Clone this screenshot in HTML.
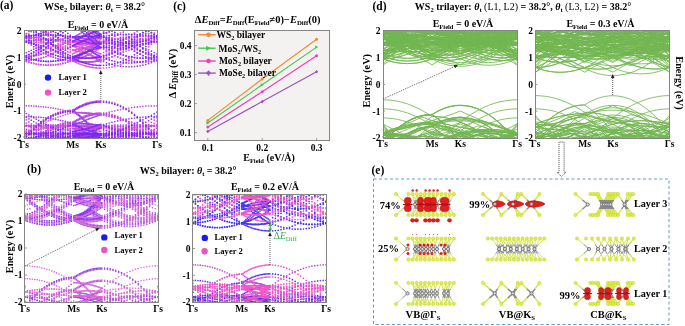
<!DOCTYPE html>
<html><head><meta charset="utf-8"><style>html,body{margin:0;padding:0;background:#fff;width:685px;height:326px;overflow:hidden}svg{display:block;will-change:transform;filter:blur(0.4px)}</style></head>
<body>
<svg width="685" height="326" viewBox="0 0 685 326" font-family="Liberation Serif" font-weight="bold">
<rect width="685" height="326" fill="#fff"/>
<clipPath id="ca"><rect x="24" y="30" width="134" height="109"/></clipPath>
<defs><marker id="m9a38ec085" markerUnits="userSpaceOnUse" markerWidth="4" markerHeight="4" refX="2" refY="2" overflow="visible"><circle cx="2" cy="2" r="0.85" fill="#9a38ec"/></marker></defs>
<defs><marker id="me050d0085" markerUnits="userSpaceOnUse" markerWidth="4" markerHeight="4" refX="2" refY="2" overflow="visible"><circle cx="2" cy="2" r="0.85" fill="#e050d0"/></marker></defs>
<defs><marker id="mc048dc085" markerUnits="userSpaceOnUse" markerWidth="4" markerHeight="4" refX="2" refY="2" overflow="visible"><circle cx="2" cy="2" r="0.85" fill="#c048dc"/></marker></defs>
<defs><marker id="m7a28f5085" markerUnits="userSpaceOnUse" markerWidth="4" markerHeight="4" refX="2" refY="2" overflow="visible"><circle cx="2" cy="2" r="0.85" fill="#7a28f5"/></marker></defs>
<g clip-path="url(#ca)"><path d="M24 116.5l2.4 0 2.5 .1 2.4 .1 2.4 .1 2.5 .2 2.4 .1 2.4 .3 2.5 .2 2.4 .3 2.4 .3 2.5 .4 2.4 .4 2.4 .4 2.5 .4 2.4 .5 2.4 .5 2.5 .6 2.4 .6 2.4 .6 2.5 .7 1.4 0 1.4 0 1.4 0 1.4 0 1.4 .1 1.4 .1 1.4 0 1.4 .1 1.4 .1 1.4 .1 1.4 .1 1.4 .2 1.5 .1 1.4 .2 1.4 .1 1.4 .2 1.4 .2 1.4 .2 1.4 .2 1.4 .2 2.8-.9 2.8-.8 2.8-.8 2.8-.7 2.8-.7 2.9-.7 2.8-.6 2.8-.5 2.8-.6 2.8-.4 2.8-.5 2.8-.3 2.8-.4 2.8-.3 2.8-.2 2.9-.2 2.8-.2 2.8-.1 2.8 0 2.8-.1M33.7 138.3l2.5-1.2 2.4-1.1 2.4-1.2 2.5-1.1 2.4-1 2.4-1 2.5-1 2.4-1 2.4-.9 2.5-.9 2.4-.9 2.4-.8 2.5-.8 2.4-.7 2.4-.8 2.5-.6 1.4 0 1.4 0 1.4 0 1.4 0 1.4 .1 1.4 .1 1.4 0 1.4 .1 1.4 .1 1.4 .1 1.4 .1 1.4 .2 1.5 .1 1.4 .2 1.4 .1 1.4 .2 1.4 .2 1.4 .2 1.4 .2 1.4 .2 2.8 .5 2.8 .5 2.8 .5 2.8 .6 2.8 .7 2.9 .7 2.8 .7 2.8 .8 2.8 .8 2.8 .9 2.8 .9 2.8 1 2.8 1 2.8 1.1 2.8 1.1 2.9 1.1M24 132.7l2.4-.7 2.5-.6 2.4-.6 2.4-.6 2.5-.5 2.4-.5 2.4-.4 2.5-.4 2.4-.4 2.4-.4 2.5-.3 2.4-.3 2.4-.2 2.5-.2 2.4-.2 2.4-.2 2.5-.1 2.4-.1 2.4 0 2.5-.1 1.4-.6 1.4-.7 1.4-.6 1.4-.7 1.4-.6 1.4-.6 1.4-.6 1.4-.6 1.4-.6 1.4-.5 1.4-.6 1.4-.5 1.5-.6 1.4-.5 1.4-.5 1.4-.5 1.4-.5 1.4-.4 1.4-.5 1.4-.5 2.8 .5 2.8 .5 2.8 .6 2.8 .6 2.8 .6 2.9 .7 2.8 .8 2.8 .8 2.8 .8 2.8 .9 2.8 .9 2.8 .9 2.8 1.1 2.8 1 2.8 1.1 2.9 1.1 2.8 1.2 2.8 1.3 2.8 1.2 2.8 1.4M24 132.7l2.4 .7 2.5 .7 2.4 .7 2.4 .8 2.5 .9 2.4 .8 2.4 .9M112 138.4l2.8-.7 2.9-.6 2.8-.6 2.8-.6 2.8-.5 2.8-.5 2.8-.4 2.8-.4 2.8-.3 2.8-.3 2.8-.3 2.9-.2 2.8-.1 2.8-.1 2.8-.1 2.8 0M26.4 136.4l2.5-2.5 2.4-2.5 2.4-2.3 2.5-2.1 2.4-2.1 2.4-1.8 2.5-1.8 2.4-1.6 2.4-1.4 2.5-1.4 2.4-1.2 2.4-1 2.5-.9 2.4-.8 2.4-.6 2.5-.5 2.4-.3 2.4-.2 2.5-.1 1.4 .9 1.4 1 1.4 1.1 1.4 1.1 1.4 1.1 1.4 1.2 1.4 1.2 1.4 1.3 1.4 1.3 1.4 1.4 1.4 1.4 1.4 1.5 1.5 1.5 1.4 1.5 1.4 1.6 1.4 1.7 1.4 1.7 1.4 1.7 1.4 1.8M103.6 137.4l2.8-1.6 2.8-1.4 2.8-1.2 2.8-1 2.9-.8 2.8-.7 2.8-.5 2.8-.2 2.8-.1 2.8 .1 2.8 .2 2.8 .5 2.8 .7 2.8 .8 2.9 1 2.8 1.2 2.8 1.4 2.8 1.6M24 138.1l2.4-2.7 2.5-2.6 2.4-2.5 2.4-2.3 2.5-2.1 2.4-2 2.4-1.9 2.5-1.8 2.4-1.6 2.4-1.4 2.5-1.3 2.4-1.2 2.4-1.1 2.5-.9 2.4-.7 2.4-.7 2.5-.5 2.4-.3 2.4-.2 2.5-.1 1.4 1 1.4 1 1.4 1 1.4 1.1 1.4 1.1 1.4 1.2 1.4 1.3 1.4 1.2 1.4 1.4 1.4 1.3 1.4 1.4 1.4 1.5 1.5 1.5 1.4 1.6 1.4 1.6 1.4 1.6 1.4 1.7 1.4 1.8 1.4 1.7 1.4 1.9 2.8-1.8 2.8-1.6 2.8-1.4 2.8-1.2 2.8-1 2.9-.8 2.8-.7 2.8-.4 2.8-.3 2.8-.1 2.8 .1 2.8 .3 2.8 .4 2.8 .7 2.8 .8 2.9 1 2.8 1.2 2.8 1.4 2.8 1.6 2.8 1.8M24 138.1l2.4 0 2.5 .3M100.8 138.1l2.8-1.8 2.8-1.6 2.8-1.4 2.8-1.2 2.8-1 2.9-.8 2.8-.7 2.8-.4 2.8-.3 2.8-.1 2.8 .1 2.8 .3 2.8 .4 2.8 .7 2.8 .8 2.9 1 2.8 1.2 2.8 1.4 2.8 1.6 2.8 1.8M38.6 137l2.4-1.8 2.5-1.8 2.4-1.6 2.4-1.4 2.5-1.4 2.4-1.1 2.4-1.1 2.5-.9 2.4-.8 2.4-.6 2.5-.5 2.4-.3 2.4-.2 2.5-.1 1.4-.9 1.4-.9 1.4-.8 1.4-.7 1.4-.8 1.4-.6 1.4-.7 1.4-.5 1.4-.6 1.4-.5 1.4-.4 1.4-.4 1.5-.4 1.4-.3 1.4-.2 1.4-.2 1.4-.2 1.4-.1 1.4-.1 1.4 0 2.8 .1 2.8 .3 2.8 .4 2.8 .7 2.8 .8 2.9 1.1 2.8 1.2 2.8 1.4 2.8 1.5 2.8 1.8 2.8 1.9 2.8 2.2 2.8 2.3 2.8 2.5 2.8 2.7 2.9 2.9M36.2 138l2.4-2 2.4-1.9 2.5-1.8 2.4-1.6 2.4-1.4 2.5-1.3 2.4-1.2 2.4-1.1 2.5-.9 2.4-.7 2.4-.7 2.5-.5 2.4-.3 2.4-.2 2.5-.1 1.4 1 1.4 1 1.4 1 1.4 1.1 1.4 1.1 1.4 1.2 1.4 1.3 1.4 1.2 1.4 1.4 1.4 1.3 1.4 1.4 1.4 1.5 1.5 1.5M24 133.6l2.4 .1 2.5 .2 2.4 .2 2.4 .1 2.5 .2 2.4 .2 2.4 .3 2.5 .2 2.4 .3 2.4 .2 2.5 .3 2.4 .3 2.4 .3 2.5 .3 2.4 .4 2.4 .3 2.5-.3 2.4-.3 2.4-.3 2.5-.3 1.4-.1 1.4-.1 1.4 0 1.4-.1 1.4-.1 1.4-.1 1.4 0 1.4-.1 1.4 0 1.4-.1 1.4 0 1.4-.1 1.5 0 1.4 0 1.4 0 1.4-.1 1.4 0 1.4 0 1.4 0 1.4 0 2.8 .3 2.8 .3 2.8 .3 2.8 .3 2.8 .4 2.9 .4 2.8 .1 2.8-.4 2.8-.4 2.8-.4 2.8-.3 2.8-.4 2.8-.3 2.8-.3 2.8-.3 2.9-.2 2.8-.3 2.8-.2 2.8-.2 2.8-.2M24 133.6l2.4 0 2.5 0 2.4 0 2.4 .1 2.5 .1 2.4 0 2.4 .1 2.5 .1 2.4 .1 2.4 .2 2.5 .1 2.4 .2 2.4 .1 2.5-.1 2.4-.2 2.4-.2 2.5-.1 2.4-.2 2.4-.2 2.5-.1 1.4-.1 1.4 0 1.4 0 1.4-.1 1.4 0 1.4 0 1.4 0 1.4 0 1.4 0 1.4 0 1.4 0 1.4 0 1.5 0 1.4 0 1.4 0 1.4 0 1.4 .1 1.4 0 1.4 0 1.4 .1 2.8 .1 2.8 .1 2.8 .1 2.8 .2 2.8 .2 2.9-.2 2.8-.2 2.8-.1 2.8-.1 2.8-.1 2.8-.1 2.8-.1 2.8 0 2.8 0 2.8 0 2.9 0 2.8 0 2.8 0 2.8 .1 2.8 .1M24 133.6l2.4 0 2.5 0 2.4 0 2.4 .1 2.5 .1 2.4 0 2.4 .1 2.5 .1 2.4 .1 2.4 .2 2.5 .1 2.4 .2 2.4 .1 2.5 .2 2.4 .2 2.4 .2 2.5 .3 2.4 .2 2.4 .2 2.5 .3 1.4 .1 1.4 .1 1.4 .1 1.4 .1 1.4 .1 1.4 .1 1.4 .2 1.4 .1 1.4 .1 1.4 .1 1.4 .2 1.4 .1 1.5 .2 1.4 .1 1.4 .2 1.4 .1 1.4 .2M106.4 138.2l2.8-.4 2.8-.4 2.8-.4 2.9-.4 2.8-.3 2.8-.3 2.8-.3 2.8-.3 2.8-.3 2.8-.2 2.8-.2 2.8-.2 2.8-.2 2.9-.2 2.8-.2 2.8-.1 2.8-.1 2.8-.1M24 125.9l2.4 .1 2.5 .2 2.4 .1 2.4 .2 2.5 .2 2.4 .2 2.4 .3 2.5 .2 2.4 .3 2.4 .2 2.5 .3 2.4 .3 2.4 .3 2.5 .3 2.4 .4 2.4 .3 2.5 .4 2.4 .3 2.4 .4 2.5 .4 1.4-.2 1.4-.2 1.4-.2 1.4-.2 1.4-.3 1.4-.2 1.4-.2 1.4-.1 1.4-.2 1.4-.2 1.4-.2 1.4-.2 1.5-.1 1.4-.2 1.4-.2 1.4-.1 1.4-.2 1.4-.1 1.4-.2 1.4-.1 2.8 0 2.8 0 2.8 .1 2.8 0 2.8 .1 2.9 .1 2.8 .1 2.8 .2 2.8-.3 2.8-.3 2.8-.3 2.8-.2 2.8-.2 2.8-.3 2.8-.1 2.9-.2 2.8-.2 2.8-.1 2.8-.1 2.8-.1M24 125.9l2.4-.2 2.5-.1 2.4-.1 2.4-.1 2.5 0 2.4-.1 2.4 0 2.5-.1 2.4 0 2.4 0 2.5 0 2.4 0 2.4 .1 2.5 0 2.4 .1 2.4 0 2.5 .1 2.4 .1 2.4 .1 2.5 .2 1.4-.1 1.4 0 1.4 0 1.4-.1 1.4 0 1.4 0 1.4 0 1.4 0 1.4 0 1.4-.1 1.4 .1 1.4 0 1.5 0 1.4 0 1.4 0 1.4 0 1.4 .1 1.4 0 1.4 0 1.4 .1 2.8-.2 2.8-.2 2.8-.1 2.8-.1 2.8-.1 2.9-.1 2.8-.1 2.8 0 2.8 0 2.8 0 2.8 0 2.8 0 2.8 0 2.8 .1 2.8 .1 2.9 .1 2.8 .1 2.8 .1 2.8 .2 2.8 .2M24 128.2l2.4 1.1 2.5 1.1 2.4 1 2.4 1 2.5 .9 2.4 .9 2.4 .9 2.5 .8 2.4 .8 2.4 .8 2.5 .7M128.9 138.1l2.8-.7 2.8-.9 2.8-.8 2.8-.9 2.8-1 2.9-1 2.8-1.1 2.8-1.1 2.8-1.2 2.8-1.2M99.4 138.5l1.4-.4M24 116l2.4 1.4 2.5 1.4 2.4 1.4 2.4 1.4 2.5 1.4 2.4 1.3 2.4 1.3 2.5 1.3 2.4 1.2 2.4 1.3 2.5 1.2 2.4 1.1 2.4 1.2 2.5 1.1 2.4 1.1 2.4 1.1 2.5 1.1 2.4 1M85.3 138.5l1.4-.2 1.4-.3 1.4-.2 1.5 .5M112 137.8l2.8-1.1 2.9-1.2 2.8-1.2 2.8-1.2 2.8-1.2 2.8-1.3 2.8-1.3 2.8-1.4 2.8-1.4 2.8-1.4 2.8-1.4 2.9-1.5 2.8-1.5 2.8-1.5 2.8-1.6 2.8-1.6M24 38.6l2.4 0 2.5-.2 2.4-.2 2.4-.4 2.5-.5 2.4-.6 2.4-.8 2.5-.8 2.4-.9 2.4-1.1 2.5-1.1 2.4-1.3M88.1 30.5l1.4 1.1 1.5 1 1.4 1 1.4 .9 1.4 .9 1.4 .9 1.4 .8 1.4 .8 1.4 .7 2.8 1.4 2.8 1.3 2.8 1.1 2.8 1 2.8 .8 2.9 .6 2.8 .6 2.8 .3 2.8 .2 2.8 .1 2.8-.1 2.8-.2 2.8-.3 2.8-.6 2.8-.6 2.9-.8 2.8-1 2.8-1.1 2.8-1.3 2.8-1.4M24 36l2.4 2.1 2.5 2.1 2.4 1.9 2.4 1.8 2.5 1.7 2.4 1.6 2.4 1.5 2.5 1.4 2.4 1.3 2.4 1.1 2.5 1.1 2.4 .9 2.4 .8 2.5 .8 2.4 .6 2.4 .5 2.5 .4 2.4 .2 2.4 .2 2.5 .1 1.4-.8 1.4-.8 1.4-.8 1.4-.9 1.4-.9 1.4-.9 1.4-1 1.4-1 1.4-1.1 1.4-1.1 1.4-1.1 1.4-1.1 1.5-1.2 1.4-1.3 1.4-1.2 1.4-1.3 1.4-1.4 1.4-1.4 1.4-1.4 1.4-1.4 2.8 1.4 2.8 1.2 2.8 1.1 2.8 1 2.8 .8 2.9 .6 2.8 .6 2.8 .3 2.8 .2 2.8 .1 2.8-.1 2.8-.2 2.8-.3 2.8-.6 2.8-.6 2.9-.8 2.8-1 2.8-1.1 2.8-1.2 2.8-1.4M31.3 30.1l2.4 2.6 2.5 2.4 2.4 2.4 2.4 2.3 2.5 2.1 2.4 2.1 2.4 1.9 2.5 1.9 2.4 1.8 2.4 1.7 2.5 1.6 2.4 1.5 2.4 1.3 2.5 1.3 2.4 1.2 2.4 1.2 2.5 1 1.4-.4 1.4-.3 1.4-.4 1.4-.5 1.4-.4 1.4-.5 1.4-.6 1.4-.5 1.4-.6 1.4-.6 1.4-.7 1.4-.7 1.5 .9 1.4 .8 1.4 .9 1.4 .7 1.4 .8 1.4 .7 1.4 .7 1.4 .7 2.8-.7 2.8-.9 2.8-.9 2.8-1.1 2.8-1.2 2.9-1.4 2.8-1.5 2.8-1.6 2.8-1.7 2.8-1.8 2.8-2 2.8-2.1 2.8-2.3 2.8-2.4 2.8-2.5 2.9-2.6 2.8-2.7M24 60.4l2.4 .9 2.5 .8 2.4 .7 2.4 .6 2.5 .6 2.4 .4 2.4 .3 2.5 .3 2.4 .1 2.4 .1 2.5-.1 2.4-.1 2.4-.3 2.5-.3 2.4-.4 2.4-.6 2.5-.6 2.4-.7 2.4-.8 2.5-.9 1.4 .3 1.4 .2 1.4 .3 1.4 .2 1.4 .2 1.4 .1 1.4 .1 1.4 .1 1.4 0 1.4 .1 1.4-.1 1.4 0 1.5-.1 1.4-.1 1.4-.1 1.4-.2 1.4-.2 1.4-.3 1.4-.2 1.4-.3 2.8 1.2 2.8 1.1 2.8 .9 2.8 .9 2.8 .7 2.9 .5 2.8 .5 2.8 .3 2.8 .2 2.8 .1 2.8-.1 2.8-.2 2.8-.3 2.8-.5 2.8-.5 2.9-.7 2.8-.9 2.8-.9 2.8-1.1 2.8-1.2M24 56.6l2.4-.1 2.5-.1 2.4-.2 2.4-.4 2.5-.4 2.4-.5 2.4-.7 2.5-.7 2.4-.8 2.4-.9 2.5-1 2.4-1.1 2.4-1.2 2.5-1.3 2.4-1.4 2.4-1.5 2.5-1.6 2.4-1.7 2.4-1.7 2.5-1.9 1.4-.7 1.4-.7 1.4-.7 1.4-.7 1.4-.8 1.4-.8 1.4-.9 1.4-.9 1.4-.9M112 30l2.8 2.6 2.9 2.5 2.8 2.3 2.8 2.3 2.8 2.1 2.8 2 2.8 1.8 2.8 1.8 2.8 1.6 2.8 1.4 2.8 1.4 2.9 1.2 2.8 1.1 2.8 1 2.8 .8 2.8 .7M24 41.7l2.4-.4 2.5-.3 2.4-.4 2.4-.2 2.5-.3 2.4-.2 2.4-.1 2.5-.1 2.4-.1 2.4 0 2.5 0 2.4 .1 2.4 .1 2.5 .1 2.4 .2 2.4 .3 2.5 .2 2.4 .4 2.4 .3 2.5 .4 1.4 .2 1.4 .1 1.4 .2 1.4 .2 1.4 .2 1.4 .2 1.4 .3 1.4 .2 1.4 .3 1.4 .2 1.4 .3 1.4 .3 1.5 .3 1.4 .4 1.4 .3 1.4 .4 1.4 .3 1.4 .4 1.4 .4 1.4 .4 2.8-.8 2.8-.7 2.8-.7 2.8-.7 2.8-.6 2.9-.5 2.8-.5 2.8-.4 2.8-.4 2.8-.3 2.8-.2 2.8-.2 2.8-.2 2.8-.1 2.8 0 2.9 0 2.8 .1 2.8 .2 2.8 .2 2.8 .2M24 41.7l2.4-.4 2.5-.3 2.4-.4 2.4-.2 2.5-.3 2.4-.2 2.4-.1 2.5-.1 2.4-.1 2.4 0 2.5 0 2.4 .1 2.4 .1 2.5 .1 2.4 .2 2.4 .3 2.5 .2 2.4 .4 2.4 .3 2.5 .4 1.4-.1 1.4-.1 1.4-.1 1.4-.1 1.4-.1 1.4-.1 1.4 0 1.4-.1 1.4 0 1.4 0 1.4 0 1.4 0 1.5 .1 1.4 0 1.4 .1 1.4 .1 1.4 .1 1.4 .1 1.4 .1 1.4 .1 2.8-.5 2.8-.5 2.8-.4 2.8-.4 2.8-.3 2.9-.2 2.8-.2 2.8-.2 2.8-.1 2.8 0 2.8 0 2.8 .1 2.8 .2 2.8 .2 2.8 .2 2.9 .3 2.8 .4 2.8 .4 2.8 .5 2.8 .5M24 53.9l2.4-1.2 2.5-1.2 2.4-1.2 2.4-1.1 2.5-1.1 2.4-1 2.4-1 2.5-1 2.4-.9 2.4-.8 2.5-.9 2.4-.7 2.4-.8 2.5-.7 2.4-.6 2.4-.6 2.5-.6 2.4-.5 2.4-.5 2.5-.5 1.4 .2 1.4 .1 1.4 .2 1.4 .2 1.4 .2 1.4 .2 1.4 .3 1.4 .2 1.4 .3 1.4 .2 1.4 .3 1.4 .3 1.5-.4 1.4-.3 1.4-.4 1.4-.3 1.4-.4 1.4-.3 1.4-.3 1.4-.3 2.8 .3 2.8 .4 2.8 .4 2.8 .5 2.8 .5 2.9 .6 2.8 .7 2.8 .7 2.8 .7 2.8 .9 2.8 .8 2.8 1 2.8 .9 2.8 1.1 2.8 1.1 2.9 1.1 2.8 1.2 2.8 1.3 2.8 1.3 2.8 1.4" stroke="none" fill="none" marker-start="url(#m9a38ec085)" marker-mid="url(#m9a38ec085)" marker-end="url(#m9a38ec085)"/><path d="M24 132.7l2.4-.7 2.5-.6 2.4-.6 2.4-.6 2.5-.5 2.4-.5 2.4-.4 2.5-.4 2.4-.4 2.4-.4 2.5-.3 2.4-.3 2.4-.2 2.5-.2 2.4-.2 2.4-.2 2.5-.1 2.4-.1 2.4 0 2.5-.1 1.4 .7 1.4 .7 1.4 .7 1.4 .7 1.4 .7 1.4 .8 1.4 .7 1.4 .8 1.4 .8 1.4 .7 1.4 .8 1.4 .8 1.5 .8 1.4 .9 1.4 .8 1.4 .8M112 138.4l2.8-.7 2.9-.6 2.8-.6 2.8-.6 2.8-.5 2.8-.5 2.8-.4 2.8-.4 2.8-.3 2.8-.3 2.8-.3 2.9-.2 2.8-.1 2.8-.1 2.8-.1 2.8 0M24 132.7l2.4 .7 2.5 .7 2.4 .7 2.4 .8 2.5 .9 2.4 .8 2.4 .9M145.8 138.4l2.8-1.5 2.8-1.5 2.8-1.4 2.8-1.3M24 132.7l2.4-1.4 2.5-1.3 2.4-1.2 2.4-1.2 2.5-1.2 2.4-1.2 2.4-1.1 2.5-1.1 2.4-1.1 2.4-1 2.5-1 2.4-.9 2.4-1 2.5-.9 2.4-.8 2.4-.8 2.5-.8 2.4-.8 2.4-.7 2.5-.7 1.4 0 1.4 0 1.4 0 1.4 .1 1.4 0 1.4 .1 1.4 .1 1.4 .1 1.4 0 1.4 .2 1.4 .1 1.4 .1 1.5 .1 1.4 .2 1.4 .2 1.4 .1 1.4 .2 1.4 .2 1.4 .2 1.4 .2 2.8 .5 2.8 .5 2.8 .6 2.8 .6 2.8 .6 2.9 .7 2.8 .8 2.8 .8 2.8 .8 2.8 .9 2.8 .9 2.8 .9 2.8 1.1 2.8 1 2.8 1.1 2.9 1.1 2.8 1.2 2.8 1.3 2.8 1.2 2.8 1.4M38.6 137l2.4-1.8 2.5-1.8 2.4-1.6 2.4-1.4 2.5-1.4 2.4-1.1 2.4-1.1 2.5-.9 2.4-.8 2.4-.6 2.5-.5 2.4-.3 2.4-.2 2.5-.1 1.4 .9 1.4 1 1.4 1.1 1.4 1.1 1.4 1.1 1.4 1.2 1.4 1.2 1.4 1.3 1.4 1.3 1.4 1.4 1.4 1.4 1.4 1.5M24 131.3l2.4-.4 2.5-.4 2.4-.3 2.4-.4 2.5-.3 2.4-.4 2.4-.3 2.5-.3 2.4-.3 2.4-.3 2.5-.2 2.4-.3 2.4-.2 2.5-.3 2.4-.2 2.4-.2 2.5-.2 2.4-.1 2.4-.2 2.5-.1 1.4 0 1.4 .1 1.4 0 1.4 .1 1.4 .1 1.4 0 1.4 .1 1.4 .1 1.4 .1 1.4 .1 1.4 .1 1.4 0 1.5-.1 1.4-.1 1.4-.1 1.4-.1 1.4-.1 1.4-.1 1.4-.1 1.4-.1 2.8 .1 2.8 .1 2.8 .1 2.8 .2 2.8 .2 2.9 .1 2.8 .3 2.8 .2 2.8 .2 2.8 .3 2.8 .3 2.8 .3 2.8 .3 2.8 .3 2.8 .4 2.9 .4 2.8 .3 2.8 .5 2.8 .4 2.8 .4M24 125.9l2.4 .1 2.5 .2 2.4 .1 2.4 .2 2.5 .2 2.4 .2 2.4 .3 2.5 .2 2.4 .3 2.4 .2 2.5 .3 2.4 .3 2.4 .3 2.5 .3 2.4 .4 2.4 .3 2.5-.3 2.4-.3 2.4-.3 2.5-.3 1.4-.1 1.4-.1 1.4-.1 1.4 0 1.4-.1 1.4-.1 1.4 0 1.4-.1 1.4 0 1.4-.1 1.4 0 1.4-.1 1.5 0 1.4 0 1.4 0 1.4-.1 1.4 0 1.4 0 1.4 0 1.4 0 2.8 .3 2.8 .3 2.8 .3 2.8 .3 2.8 .4 2.9 .4 2.8 .1 2.8-.4 2.8-.4 2.8-.4 2.8-.4 2.8-.3 2.8-.3 2.8-.3 2.8-.3 2.9-.3 2.8-.2 2.8-.2 2.8-.2 2.8-.2M24 125.9l2.4 0 2.5 0 2.4 0 2.4 .1 2.5 0 2.4 .1 2.4 .1 2.5 .1 2.4 .1 2.4 .2 2.5 .1 2.4 .2 2.4 .1 2.5-.1 2.4-.2 2.4-.2 2.5-.2 2.4-.1 2.4-.2 2.5-.1 1.4-.1 1.4 0 1.4 0 1.4-.1 1.4 0 1.4 0 1.4 0 1.4 0 1.4 0 1.4-.1 1.4 .1 1.4 0 1.5 0 1.4 0 1.4 0 1.4 0 1.4 .1 1.4 0 1.4 0 1.4 .1 2.8 .1 2.8 .1 2.8 .1 2.8 .2 2.8 .2 2.9-.2 2.8-.2 2.8-.1 2.8-.1 2.8-.1 2.8-.1 2.8-.1 2.8 0 2.8 0 2.8-.1 2.9 .1 2.8 0 2.8 0 2.8 .1 2.8 .1M45.9 138.2l2.4-.7 2.5-.8 2.4-.8 2.4-.8 2.5-.9 2.4-.9 2.4-.9 2.5 .8 2.4 .9 2.4 .8 2.5 .7 1.4 .3 1.4 .2 1.4 .2 1.4 .2 1.4 .2 1.4 .2 1.4 .2 1.4 .1 1.4 .2 1.4 .1 1.4 .1 1.4 .1 1.5 .1 1.4 .1 1.4 .1 1.4 0 1.4 .1 1.4 0 1.4 0 1.4 0 2.8-.7 2.8-.9 2.8-.8 2.8-.9 2.8-1 2.9-1 2.8-.4 2.8 1.2 2.8 1 2.8 1 2.8 1 2.8 .9 2.8 .9M45.9 138.2l2.4-.7 2.5-.8 2.4-.8 2.4-.8 2.5-.9 2.4-.9 2.4-.9 2.5-1 2.4-1 2.4-1.1 2.5-1.1 1.4 .6 1.4 .6 1.4 .6 1.4 .6 1.4 .5 1.4 .6 1.4 .5 1.4 .6 1.4 .5 1.4 .5 1.4 .5 1.4 .5 1.5 .4 1.4 .5 1.4 .4 1.4 .4 1.4 .5 1.4 .4 1.4 .4 1.4 .3 2.8 0 2.8-.1 2.8-.1 2.8-.2 2.8-.2 2.9-.3 2.8-.3 2.8-.4 2.8 .9 2.8 .7M38.6 138.5l2.4-.2 2.5-.3 2.4-.3 2.4-.4 2.5-.4 2.4-.4 2.4-.5 2.5 .3 2.4 .5 2.4 .6 2.5 .5 2.4 .4M106.4 138.6l2.8-.4 2.8-.4 2.8-.5 2.9 .5 2.8 .4 2.8 .4M78.3 138.6l1.4-.2 1.4-.2 1.4-.2 1.4-.2 1.4-.3 1.4-.2 1.4-.3 1.4-.2 1.5-.3 1.4-.3 1.4-.3 1.4-.3 1.4-.3 1.4-.4 1.4-.3 1.4-.4 2.8 .7 2.8 .7 2.8 .6 2.8 .6 2.8 .5 2.9 .5 2.8 .4 2.8 .4M24 121.2l2.4 2 2.5 2.1 2.4 1.9 2.4 2 2.5 1.9 2.4 1.9 2.4 1.9 2.5 1.8 2.4 1.8M134.5 138.2l2.8-2 2.8-2 2.8-2.1 2.9-2.1 2.8-2.1 2.8-2.2 2.8-2.3 2.8-2.2M24 38.6l2.4-2.2 2.5-2.4 2.4-2.5M151.4 32.5l2.8 3.1 2.8 3M24 38.6l2.4 2.2 2.5 2 2.4 2 2.4 1.8 2.5 1.7 2.4 1.6 2.4 1.5 2.5 1.4 2.4 1.3 2.4 1.1 2.5 1.1 2.4 .9 2.4 .8 2.5 .8 2.4 .6 2.4 .5 2.5 .3 2.4 .3 2.4 .2 2.5 0 1.4 .8 1.4 .6 1.4 .7 1.4 .6 1.4 .6 1.4 .5 1.4 .5 1.4 .5 1.4 .4 1.4 .4 1.4 .3 1.4 .3 1.5 .3 1.4 .2 1.4 .2 1.4 .2 1.4 .1 1.4 .1 1.4 .1 1.4 0 2.8-.1 2.8-.2 2.8-.4 2.8-.5 2.8-.6 2.9-.8 2.8-1 2.8-1.1 2.8-1.3 2.8-1.4 2.8-1.5 2.8-1.7 2.8-1.8 2.8-2 2.8-2.2 2.9-2.2 2.8-2.5 2.8-2.6 2.8-2.7 2.8-2.9M24 36l2.4-2.3 2.5-2.4M154.2 32.9l2.8 3.1M24 60.4l2.4-1 2.5-1.2 2.4-1.2 2.4-1.3 2.5-1.3 2.4-1.5 2.4-1.6 2.5-1.7 2.4-1.8 2.4-1.9 2.5-1.9 2.4-2.1 2.4-2.1 2.5-2.3 2.4-2.4 2.4-2.4 2.5 2.2 2.4 2.2 2.4 2.1 2.5 1.9 1.4 .7 1.4 .6 1.4 .5 1.4 .6 1.4 .4 1.4 .5 1.4 .4 1.4 .4 1.4 .4 1.4 .3 1.4 .4 1.4 .2 1.5 .3 1.4 .2 1.4 .2 1.4 .1 1.4 .1 1.4 .1 1.4 0 1.4 .1 2.8-2 2.8-2.1 2.8-2.3 2.8-2.4 2.8-2.5 2.9-2.6 2.8-.8 2.8 2.9 2.8 2.7 2.8 2.6 2.8 2.5 2.8 2.4 2.8 2.3 2.8 2.1 2.8 2 2.9 1.8 2.8 1.7 2.8 1.6 2.8 1.5 2.8 1.4M24 60.4l2.4 .9 2.5 .8 2.4 .7 2.4 .6 2.5 .6 2.4 .4 2.4 .3 2.5 .3 2.4 .1 2.4 .1 2.5-.1 2.4-.1 2.4-.3 2.5-.3 2.4-.4 2.4-.6 2.5-.6 2.4-.7 2.4-.8 2.5-.9 1.4-.4 1.4-.3 1.4-.4 1.4-.5 1.4-.4 1.4-.5 1.4-.6 1.4-.5 1.4-.6 1.4-.6 1.4-.7 1.4-.7 1.5-.7 1.4-.8 1.4-.7 1.4-.9 1.4-.8 1.4-.9 1.4-.9 1.4-.9 2.8 1.8 2.8 1.7 2.8 1.6 2.8 1.5 2.8 1.4 2.9 1.2 2.8 1.1 2.8 .9 2.8 .9 2.8 .7 2.8 .5 2.8 .5 2.8 .3 2.8 .2 2.8 .1 2.9-.1 2.8-.2 2.8-.3 2.8-.5 2.8-.5M24 60.4l2.4-.1 2.5-.1 2.4-.3 2.4-.3 2.5-.4 2.4-.6 2.4-.6 2.5-.7 2.4-.8 2.4-.9 2.5-1.1 2.4-1.1 2.4-1.2 2.5-1.3 2.4-1.3 2.4-1.5 2.5-1.6 2.4-1.7 2.4-1.8 2.5-1.9 1.4-.6 1.4-.7 1.4-.7 1.4-.8 1.4-.8 1.4-.8 1.4-.8 1.4-.9 1.4-.9 1.4-1 1.4-.9 1.4-1 1.5-1.1M109.2 31l2.8 2.7 2.8 2.6 2.9 2.5 2.8 2.4 2.8 2.3 2.8 2.1 2.8 2 2.8 1.8 2.8 1.7 2.8 1.6 2.8 1.5 2.8 1.4 2.9 1.2 2.8 1.1 2.8 .9 2.8 .9 2.8 .7M41 30.8l2.5 .9 2.4 1 2.4 1 2.5 1.1 2.4 1.1 2.4 1.1 2.5 1.2 2.4 1.2 2.4 1.2 2.5 1.3 2.4 1.3 2.4 1.3 2.5 1.4 1.4-.7 1.4-.7 1.4-.7 1.4-.6 1.4-.7 1.4-.6 1.4-.6 1.4-.6 1.4-.6 1.4-.6 1.4-.6 1.4-.5 1.5-.6 1.4-.5 1.4-.5 1.4-.5 1.4-.5 1.4-.5 1.4-.5 1.4-.5 2.8-.9 2.8-.8 2.8-.8 2.8-.8 2.8-.7M41 30.8l2.5 .9 2.4 1 2.4 1 2.5 1.1 2.4 1.1 2.4 1.1 2.5 1.2 2.4 1.2 2.4 1.2 2.5 1.3 2.4 1.3 2.4 1.3 2.5 1.4 1.4 .7 1.4 .7 1.4 .7 1.4 .7 1.4 .8 1.4 .7 1.4 .8 1.4 .8 1.4 .7 1.4 .9 1.4 .8 1.4 .8 1.5 .8 1.4 .9 1.4 .8 1.4 .9 1.4 .9 1.4 .9 1.4 .9 1.4 .9 2.8-2.3 2.8-2.2 2.8-2.2 2.8-2.2 2.8-2.1 2.9-2 2.8-2 2.8-2 2.8-1.9 2.8-1.9 2.8-1.8 2.8-1.8 2.8-1.7 2.8-1.7 2.8-1.6 2.9-1.6M41 31.2l2.5 1.6 2.4 1.7 2.4 1.7 2.5 1.7 2.4 1.8 2.4 1.8 2.5 1.9 2.4 1.9 2.4 1.9 2.5-1.5 2.4-1.5 2.4-1.4 2.5-1.4 1.4-.7 1.4-.7 1.4-.6 1.4-.7 1.4-.6 1.4-.7 1.4-.6 1.4-.6 1.4-.6 1.4-.6 1.4-.5 1.4-.6 1.5-.5 1.4-.6 1.4-.5 1.4-.5 1.4-.5 1.4-.5 1.4-.5M103.6 31.7l2.8 1.9 2.8 2 2.8 2 2.8 2.1 2.9 2.1 2.8 .7 2.8-1.9 2.8-2 2.8-1.8 2.8-1.9 2.8-1.7 2.8-1.8M50.8 30.3l2.4 1.1 2.4 1.1 2.5 1.2 2.4 1.2 2.4 1.2 2.5 1.3 2.4 1.3 2.4 1.3 2.5 1.4 1.4 .7 1.4 .7 1.4 .7 1.4 .7 1.4 .8 1.4 .7 1.4 .8 1.4 .8 1.4 .8 1.4 .8 1.4 .8 1.4 .8 1.5 .9 1.4 .8 1.4 .9 1.4 .8 1.4 .9 1.4 .9 1.4 .9 1.4 .9 2.8-2.3 2.8-2.2 2.8-2.2 2.8-2.1 2.8-2.1 2.9-2.1 2.8-2 2.8-1.9 2.8-2 2.8-1.8 2.8-1.9 2.8-1.7 2.8-1.8M24 58.6l2.4-1.2 2.5-1.2 2.4-1.2 2.4-1.1 2.5-1.1 2.4-1 2.4-1 2.5-1 2.4-.9 2.4-.9 2.5-.8 2.4-.8 2.4-.7 2.5-.7 2.4-.6 2.4-.7 2.5-.5 2.4-.6 2.4-.4 2.5-.5 1.4 .2 1.4 .1 1.4 .2 1.4 .2 1.4 .2 1.4 .2 1.4 .3 1.4 .2 1.4 .3 1.4 .2 1.4 .3 1.4 .3 1.5-.4 1.4-.3 1.4-.4 1.4-.3 1.4-.4 1.4-.3 1.4-.3 1.4-.3 2.8 .3 2.8 .4 2.8 .4 2.8 .5 2.8 .5 2.9 .6 2.8 .7 2.8 .7 2.8 .7 2.8 .8 2.8 .9 2.8 .9 2.8 1 2.8 1.1 2.8 1.1 2.9 1.1 2.8 1.2 2.8 1.3 2.8 1.3 2.8 1.4M24 41.7l2.4 .5 2.5 .4 2.4 .6 2.4 .5 2.5 .7 2.4 .6 2.4 .7 2.5 .7 2.4 .8 2.4 .8 2.5 .9 2.4 .9 2.4 1 2.5 1 2.4 1 2.4 1.1 2.5-1 2.4-1 2.4-.9 2.5-.8 1.4-.3 1.4-.3 1.4-.2 1.4-.3 1.4-.2 1.4-.2 1.4-.2 1.4-.1 1.4-.2 1.4-.2 1.4-.1 1.4-.1 1.5-.1 1.4-.1 1.4-.1 1.4 0 1.4-.1 1.4 0 1.4 0 1.4-.1 2.8 .9 2.8 .9 2.8 1 2.8 1.1 2.8 1.1 2.9 1.1 2.8 .4 2.8-1.3 2.8-1.2 2.8-1.1 2.8-1.1 2.8-1.1 2.8-1 2.8-.9 2.8-.9 2.9-.8 2.8-.7 2.8-.7 2.8-.7 2.8-.6M24 41.7l2.4 0 2.5 .1 2.4 .1 2.4 .2 2.5 .1 2.4 .3 2.4 .3 2.5 .3 2.4 .3 2.4 .4 2.5 .5 2.4 .5 2.4 .5 2.5-.3 2.4-.6 2.4-.7 2.5-.5 2.4-.6 2.4-.4 2.5-.5 1.4-.1 1.4-.1 1.4-.1 1.4-.1 1.4-.1 1.4-.1 1.4 0 1.4-.1 1.4 0 1.4 0 1.4 0 1.4 0 1.5 .1 1.4 0 1.4 .1 1.4 .1 1.4 .1 1.4 .1 1.4 .1 1.4 .1 2.8 .3 2.8 .4 2.8 .4 2.8 .5 2.8 .5 2.9-.5 2.8-.5 2.8-.4 2.8-.4 2.8-.3 2.8-.2 2.8-.2 2.8-.2 2.8-.1 2.8 0 2.9 0 2.8 .1 2.8 .2 2.8 .2 2.8 .2M24 41.7l2.4 0 2.5 .1 2.4 .1 2.4 .2 2.5 .1 2.4 .3 2.4 .3 2.5 .3 2.4 .3 2.4 .4 2.5 .5 2.4 .5 2.4 .5 2.5 .6 2.4 .6 2.4 .6 2.5 .7 2.4 .8 2.4 .7 2.5 .9 1.4 .2 1.4 .4 1.4 .3 1.4 .3 1.4 .3 1.4 .4 1.4 .4 1.4 .4 1.4 .4 1.4 .4 1.4 .4 1.4 .4 1.5 .5 1.4 .5 1.4 .5 1.4 .5 1.4 .5 1.4 .5 1.4 .5 1.4 .6 2.8-1.4 2.8-1.3 2.8-1.3 2.8-1.2 2.8-1.1 2.9-1.1 2.8-1.1 2.8-1 2.8-.9 2.8-.9 2.8-.8 2.8-.7 2.8-.7 2.8-.7 2.8-.6 2.9-.5 2.8-.5 2.8-.4 2.8-.4 2.8-.3M24 37l2.4 .5 2.5 .5 2.4 .5 2.4 .6 2.5 .6 2.4 .6 2.4 .7 2.5 .8 2.4 .7 2.4 .9 2.5 .8 2.4 .9 2.4 1 2.5 1 2.4 1 2.4 1.1 2.5 1.1 2.4 1.2 2.4 1.2 2.5 1.2 1.4-.7 1.4-.7 1.4-.6 1.4-.7 1.4-.6 1.4-.7 1.4-.6 1.4-.6 1.4-.5 1.4-.6 1.4-.6 1.4-.5 1.5-.5 1.4-.6 1.4-.5 1.4-.4 1.4-.5 1.4-.5 1.4-.4 1.4-.4 2.8 0 2.8 .1 2.8 .1 2.8 .2 2.8 .3 2.9 .3 2.8 .3 2.8 .5 2.8-1 2.8-.8 2.8-.9 2.8-.7 2.8-.7 2.8-.7 2.8-.6 2.9-.5 2.8-.5 2.8-.4 2.8-.4 2.8-.3" stroke="none" fill="none" marker-start="url(#me050d0085)" marker-mid="url(#me050d0085)" marker-end="url(#me050d0085)"/><path d="M48.3 138.4l2.5-.3 2.4-.3 2.4-.3 2.5-.2 2.4-.2 2.4-.1 2.5-.1 2.4-.1 2.4-.1 2.5 0 1.4-.7 1.4-.6 1.4-.7 1.4-.6 1.4-.6 1.4-.6 1.4-.6 1.4-.6 1.4-.6 1.4-.6 1.4-.5 1.4-.6 1.5-.5 1.4-.5 1.4-.5 1.4-.5 1.4-.5 1.4-.5 1.4-.4 1.4-.5 2.8 .5 2.8 .5 2.8 .5 2.8 .6 2.8 .7 2.9 .7 2.8 .7 2.8 .8 2.8 .8 2.8 .9 2.8 .9 2.8 1 2.8 1 2.8 1.1 2.8 1.1 2.9 1.1M24 105.8l2.4 0 2.5 0 2.4 .1 2.4 .1 2.5 .2 2.4 .2 2.4 .2 2.5 .2 2.4 .3 2.4 .4 2.5 .3 2.4 .4 2.4 .4 2.5 .5 2.4 .5 2.4 .5 2.5 .5 2.4 .6 2.4 .6 2.5 .7 1.4 0 1.4 0 1.4 0 1.4 .1 1.4 0 1.4 .1 1.4 .1 1.4 .1 1.4 0 1.4 .2 1.4 .1 1.4 .1 1.5 .1 1.4 .2 1.4 .2 1.4 .1 1.4 .2 1.4 .2 1.4 .2 1.4 .2 2.8-.8 2.8-.9 2.8-.8 2.8-.7 2.8-.7 2.9-.6 2.8-.6 2.8-.6 2.8-.5 2.8-.5 2.8-.4 2.8-.4 2.8-.3 2.8-.3 2.8-.3 2.9-.2 2.8-.1 2.8-.1 2.8-.1 2.8 0M24 132.7l2.4 1.3 2.5 1.4 2.4 1.5 2.4 1.4M145.8 138.4l2.8-1.5 2.8-1.5 2.8-1.4 2.8-1.3M103.6 137.4l2.8-1.6 2.8-1.4 2.8-1.2 2.8-1 2.9-.8 2.8-.7 2.8-.5 2.8-.2 2.8-.1 2.8 .1 2.8 .2 2.8 .5 2.8 .7 2.8 .8 2.9 1 2.8 1.2 2.8 1.4 2.8 1.6M24 138.1M157 138.1M24 138.1l2.4-2.7 2.5-2.6 2.4-2.5 2.4-2.3 2.5-2.1 2.4-2 2.4-1.9 2.5-1.8 2.4-1.6 2.4-1.4 2.5-1.3 2.4-1.2 2.4-1.1 2.5-.9 2.4-.7 2.4-.7 2.5-.5 2.4-.3 2.4-.2 2.5-.1 1.4-.9 1.4-.8 1.4-.9 1.4-.7 1.4-.7 1.4-.7 1.4-.6 1.4-.6 1.4-.6 1.4-.5 1.4-.4 1.4-.4 1.5-.3 1.4-.3 1.4-.3 1.4-.2 1.4-.2 1.4-.1 1.4 0 1.4-.1 2.8 .1 2.8 .3 2.8 .5 2.8 .6 2.8 .8 2.9 1.1 2.8 1.2 2.8 1.4 2.8 1.6 2.8 1.7 2.8 2 2.8 2.1 2.8 2.3 2.8 2.5 2.8 2.7 2.9 2.9 2.8 3.1 2.8 3.2 2.8 3.5 2.8 3.6M36.2 138l2.4-2 2.4-1.9 2.5-1.8 2.4-1.6 2.4-1.4 2.5-1.3 2.4-1.2 2.4-1.1 2.5-.9 2.4-.7 2.4-.7 2.5-.5 2.4-.3 2.4-.2 2.5-.1 1.4-.9 1.4-.8 1.4-.9 1.4-.7 1.4-.7 1.4-.7 1.4-.6 1.4-.6 1.4-.6 1.4-.4 1.4-.5 1.4-.4 1.5-.3 1.4-.3 1.4-.3 1.4-.2 1.4-.2 1.4-.1 1.4 0 1.4-.1 2.8 .1 2.8 .3 2.8 .5 2.8 .6 2.8 .9 2.9 1 2.8 1.2 2.8 1.4 2.8 1.6 2.8 1.7 2.8 2 2.8 2.1 2.8 2.3 2.8 2.5 2.8 2.7 2.9 2.9M24 125.9l2.4-.2 2.5-.1 2.4-.1 2.4-.1 2.5 0 2.4-.1 2.4 0 2.5-.1 2.4 0 2.4 0 2.5 0 2.4 0 2.4 .1 2.5 0 2.4 .1 2.4 0 2.5 .1 2.4 .1 2.4 .1 2.5 .2 1.4 0 1.4 .1 1.4 0 1.4 .1 1.4 .1 1.4 0 1.4 .1 1.4 .1 1.4 .1 1.4 .1 1.4 .1 1.4 0 1.5 .2 1.4 .1 1.4 .1 1.4 .1 1.4 .1 1.4 .1 1.4 .2 1.4 .1 2.8-.3 2.8-.2 2.8-.2 2.8-.3 2.8-.1 2.9-.2 2.8-.2 2.8-.1 2.8-.1 2.8-.1 2.8-.1 2.8-.1 2.8 0 2.8 0 2.8-.1 2.9 .1 2.8 0 2.8 0 2.8 .1 2.8 .1M24 125.9l2.4 0 2.5 0 2.4 0 2.4 .1 2.5 0 2.4 .1 2.4 .1 2.5 .1 2.4 .1 2.4 .2 2.5 .1 2.4 .2 2.4 .1 2.5 .2 2.4 .2 2.4 .2 2.5 .2 2.4 .3 2.4 .2 2.5 .3 1.4 .1 1.4 .1 1.4 .1 1.4 .1 1.4 .1 1.4 .1 1.4 .1 1.4 .2 1.4 .1 1.4 .1 1.4 .2 1.4 .1 1.5 .2 1.4 .1 1.4 .2 1.4 .1 1.4 .2 1.4 .2 1.4 .1 1.4 .2 2.8-.4 2.8-.4 2.8-.5 2.8-.3 2.8-.4 2.9-.4 2.8-.3 2.8-.3 2.8-.3 2.8-.3 2.8-.3 2.8-.2 2.8-.2 2.8-.3 2.8-.1 2.9-.2 2.8-.2 2.8-.1 2.8-.1 2.8-.1M24 124.3l2.4 1.1 2.5 1 2.4 1 2.4 1 2.5 1 2.4 .9 2.4 .9 2.5 .8 2.4 .8 2.4 .8 2.5 .7 2.4 .7 2.4 .6 2.5 .7 2.4 .5 2.4 .6 2.5 .5 2.4 .4M78.3 138.6l1.4-.2 1.4-.2 1.4-.2 1.4-.2 1.4-.3 1.4-.2 1.4-.3 1.4-.2 1.5 .3 1.4 .3 1.4 .4 1.4 .3 1.4 .3M106.4 138.6l2.8-.4 2.8-.4 2.8-.5 2.9-.5 2.8-.6 2.8-.6 2.8-.7 2.8-.7 2.8-.8 2.8-.8 2.8-.9 2.8-.9 2.8-1 2.9-1 2.8-1 2.8-1.2 2.8-1.1 2.8-1.2M28.9 138.3l2.4-.4 2.4-.5 2.5-.6 2.4-.5 2.4-.7 2.5-.6 2.4-.7 2.4-.7 2.5-.8 2.4-.8 2.4-.8 2.5-.9 2.4-.9 2.4-1 2.5 .9 2.4 .8 2.4 .8 2.5 .8 1.4 .3 1.4 .2 1.4 .2 1.4 .2 1.4 .2 1.4 .2 1.4 .1 1.4 .2 1.4 .1 1.4 .2 1.4 .1 1.4 .1 1.5 .1 1.4 .1 1.4 0 1.4 .1 1.4 0 1.4 .1 1.4 0 1.4 0 2.8-.8 2.8-.8 2.8-.9 2.8-.9 2.8-1 2.9-1 2.8-.3 2.8 1.1 2.8 1.1 2.8 1 2.8 1 2.8 .9 2.8 .9 2.8 .8 2.8 .8 2.9 .7 2.8 .6 2.8 .7M24 117.8l2.4 2 2.5 2.1 2.4 2 2.4 1.9 2.5 2 2.4 1.8 2.4 1.9 2.5 1.8 2.4 1.8 2.4 1.8 2.5 1.7M131.7 136.7l2.8-1.9 2.8-2 2.8-2 2.8-2 2.9-2.1 2.8-2.2 2.8-2.2 2.8-2.2 2.8-2.3M24 38.6l2.4 2.2 2.5 2 2.4 2 2.4 1.8 2.5 1.7 2.4 1.6 2.4 1.5 2.5 1.4 2.4 1.3 2.4 1.1 2.5 1.1 2.4 .9 2.4 .8 2.5 .8 2.4 .6 2.4 .5 2.5 .3 2.4 .3 2.4 .2 2.5 0 1.4-.7 1.4-.8 1.4-.8 1.4-.9 1.4-.9 1.4-.9 1.4-1 1.4-1 1.4-1.1 1.4-1.1 1.4-1.1 1.4-1.1 1.5-1.2 1.4-1.3 1.4-1.2 1.4-1.4 1.4-1.3 1.4-1.4 1.4-1.4 1.4-1.5 2.8 1.4 2.8 1.3 2.8 1.1 2.8 1 2.8 .8 2.9 .6 2.8 .6 2.8 .3 2.8 .2 2.8 .1 2.8-.1 2.8-.2 2.8-.3 2.8-.6 2.8-.6 2.9-.8 2.8-1 2.8-1.1 2.8-1.3 2.8-1.4M24 38.6l2.4 0 2.5-.2 2.4-.2 2.4-.4 2.5-.5 2.4-.6 2.4-.8 2.5-.8 2.4-.9 2.4-1.1 2.5-1.1 2.4-1.3M88.1 30.5l1.4 1.1 1.5 1 1.4 1 1.4 .9 1.4 .9 1.4 .9 1.4 .8 1.4 .8 1.4 .7 2.8-3 2.8-3.1M145.8 31.6l2.8 2 2.8 1.8 2.8 1.7 2.8 1.5M24 38.6l2.4-2.2 2.5-2.4 2.4-2.5M145.8 31.6l2.8 2 2.8 1.8 2.8 1.7 2.8 1.5M24 36l2.4-2.3 2.5-2.4M148.6 30.9l2.8 1.8 2.8 1.7 2.8 1.6M24 60.4l2.4-.1 2.5-.1 2.4-.3 2.4-.3 2.5-.4 2.4-.6 2.4-.6 2.5-.7 2.4-.8 2.4-.9 2.5-1.1 2.4-1.1 2.4-1.2 2.5 .7 2.4 1.5 2.4 1.3 2.5 1.3 2.4 1.2 2.4 1.2 2.5 1 1.4 .3 1.4 .2 1.4 .3 1.4 .2 1.4 .2 1.4 .1 1.4 .1 1.4 .1 1.4 0 1.4 .1 1.4-.1 1.4 0 1.5-.1 1.4-.1 1.4-.1 1.4-.2 1.4-.2 1.4-.3 1.4-.2 1.4-.3 2.8-.7 2.8-.9 2.8-.9 2.8-1.1 2.8-1.2 2.9 1.2 2.8 1.1 2.8 .9 2.8 .9 2.8 .7 2.8 .5 2.8 .5 2.8 .3 2.8 .2 2.8 .1 2.9-.1 2.8-.2 2.8-.3 2.8-.5 2.8-.5M24 56.6l2.4-.1 2.5-.1 2.4-.2 2.4-.4 2.5-.4 2.4-.5 2.4-.7 2.5-.7 2.4-.8 2.4-.9 2.5-1 2.4-1.1 2.4-1.2 2.5 .6 2.4 1.5 2.4 1.4 2.5 1.3 2.4 1.2 2.4 1.1 2.5 1 1.4 .3 1.4 .3 1.4 .2 1.4 .2 1.4 .2 1.4 .1 1.4 .2 1.4 0 1.4 .1 1.4 0 1.4 0 1.4-.1 1.5 0 1.4-.2 1.4-.1 1.4-.2 1.4-.2 1.4-.2 1.4-.3 1.4-.3 2.8-.7 2.8-.8 2.8-1 2.8-1.1 2.8-1.2 2.9 1.2 2.8 1.1 2.8 1 2.8 .8 2.8 .7 2.8 .6 2.8 .4 2.8 .3 2.8 .2 2.8 .1 2.9-.1 2.8-.2 2.8-.3 2.8-.4 2.8-.6M24 37l2.4 .5 2.5 .5 2.4 .5 2.4 .6 2.5 .6 2.4 .6 2.4 .7 2.5 .8 2.4 .7 2.4 .9 2.5 .8 2.4 .9 2.4 1 2.5 1 2.4 1 2.4 1.1 2.5-1 2.4-1 2.4-.9 2.5-.8 1.4-.3 1.4-.3 1.4-.2 1.4-.2 1.4-.3 1.4-.2 1.4-.2 1.4-.1 1.4-.2 1.4-.1 1.4-.2 1.4-.1 1.5-.1 1.4-.1 1.4-.1 1.4 0 1.4-.1 1.4 0 1.4 0 1.4 0 2.8 .8 2.8 1 2.8 .9 2.8 1.1 2.8 1.1 2.9 1.1 2.8 .4 2.8-1.3 2.8-1.2 2.8-1.1 2.8-1.1 2.8-1.1 2.8-.9 2.8-1 2.8-.8 2.9-.9 2.8-.7 2.8-.7 2.8-.7 2.8-.6M24 37l2.4 .1 2.5 0 2.4 .1 2.4 .2 2.5 .2 2.4 .2 2.4 .3 2.5 .3 2.4 .3 2.4 .4 2.5 .5 2.4 .5 2.4 .5 2.5-.3 2.4-.6 2.4-.6 2.5-.6 2.4-.5 2.4-.5 2.5-.5 1.4-.1 1.4-.1 1.4-.1 1.4-.1 1.4-.1 1.4-.1 1.4 0 1.4 0 1.4-.1 1.4 0 1.4 0 1.4 .1 1.5 0 1.4 0 1.4 .1 1.4 .1 1.4 .1 1.4 .1 1.4 .1 1.4 .1 2.8 .3 2.8 .4 2.8 .4 2.8 .5 2.8 .5 2.9-.5 2.8-.5 2.8-.4 2.8-.4 2.8-.3 2.8-.2 2.8-.2 2.8-.2 2.8 0 2.8-.1 2.9 .1 2.8 0 2.8 .2 2.8 .2 2.8 .2M24 37l2.4-.4 2.5-.3 2.4-.3 2.4-.3 2.5-.2 2.4-.2 2.4-.2 2.5-.1 2.4-.1 2.4 0 2.5 0 2.4 .1 2.4 .1 2.5 .2 2.4 .2 2.4 .2 2.5 .3 2.4 .3 2.4 .3 2.5 .4 1.4 .2 1.4 .1 1.4 .2 1.4 .2 1.4 .2 1.4 .2 1.4 .3 1.4 .2 1.4 .3 1.4 .2 1.4 .3 1.4 .3 1.5 .4 1.4 .3 1.4 .3 1.4 .4 1.4 .4 1.4 .3 1.4 .4 1.4 .5 2.8-.9 2.8-.7 2.8-.7 2.8-.7 2.8-.6 2.9-.5 2.8-.5 2.8-.4 2.8-.4 2.8-.3 2.8-.2 2.8-.2 2.8-.2 2.8 0 2.8-.1 2.9 .1 2.8 0 2.8 .2 2.8 .2 2.8 .2M24 37l2.4 .1 2.5 0 2.4 .1 2.4 .2 2.5 .2 2.4 .2 2.4 .3 2.5 .3 2.4 .3 2.4 .4 2.5 .5 2.4 .5 2.4 .5 2.5 .6 2.4 .6 2.4 .6 2.5 .7 2.4 .8 2.4 .8 2.5 .8 1.4 .3 1.4 .3 1.4 .3 1.4 .3 1.4 .4 1.4 .3 1.4 .4 1.4 .4 1.4 .4 1.4 .4 1.4 .4 1.4 .5 1.5 .4 1.4 .5 1.4 .5 1.4 .5 1.4 .5 1.4 .5 1.4 .6 1.4 .5 2.8-1.4 2.8-1.3 2.8-1.3 2.8-1.2 2.8-1.1 2.9-1.1 2.8-1.1 2.8-.9 2.8-1 2.8-.8 2.8-.9 2.8-.7 2.8-.7 2.8-.7 2.8-.6 2.9-.5 2.8-.5 2.8-.4 2.8-.4 2.8-.3" stroke="none" fill="none" marker-start="url(#mc048dc085)" marker-mid="url(#mc048dc085)" marker-end="url(#mc048dc085)"/><path d="M48.3 138.4l2.5-.3 2.4-.3 2.4-.3 2.5-.2 2.4-.2 2.4-.1 2.5-.1 2.4-.1 2.4-.1 2.5 0 1.4 .7 1.4 .7M26.4 136.4l2.5-2.5 2.4-2.5 2.4-2.3 2.5-2.1 2.4-2.1 2.4-1.8 2.5-1.8 2.4-1.6 2.4-1.4 2.5-1.4 2.4-1.2 2.4-1 2.5-.9 2.4-.8 2.4-.6 2.5-.5 2.4-.3 2.4-.2 2.5-.1 1.4-.9 1.4-.9 1.4-.8 1.4-.8 1.4-.7 1.4-.6 1.4-.7 1.4-.6 1.4-.5 1.4-.5 1.4-.4 1.4-.4 1.5-.4 1.4-.3 1.4-.2 1.4-.2 1.4-.2 1.4-.1 1.4-.1 1.4 0 2.8 .1 2.8 .3 2.8 .4 2.8 .7 2.8 .8 2.9 1 2.8 1.3 2.8 1.3 2.8 1.6 2.8 1.8 2.8 1.9 2.8 2.2 2.8 2.3 2.8 2.5 2.8 2.7 2.9 2.9 2.8 3 2.8 3.3 2.8 3.4M24 138.1l2.4 0 2.5 .3M100.8 138.1M157 138.1M24 138.1M157 138.1M28.9 138.2l2.4-.3 2.4-.4 2.5-.3 2.4-.4 2.4-.3 2.5-.3 2.4-.3 2.4-.3 2.5-.2 2.4-.3 2.4-.2 2.5-.3 2.4-.2 2.4-.2 2.5-.1 2.4-.2 2.4-.2 2.5-.1 1.4 0 1.4 .1 1.4 0 1.4 .1 1.4 .1 1.4 0 1.4 .1 1.4 .1 1.4 .1 1.4 .1 1.4 .1 1.4 .1 1.5-.2 1.4-.1 1.4-.1 1.4-.1 1.4-.1 1.4-.1 1.4-.1 1.4-.1 2.8 .1 2.8 .1 2.8 .1 2.8 .2 2.8 .2 2.9 .2 2.8 .2 2.8 .2 2.8 .2 2.8 .3 2.8 .3 2.8 .3 2.8 .3 2.8 .3 2.8 .4 2.9 .4 2.8 .4 2.8 .4M24 133.6l2.4 .1 2.5 .2 2.4 .2 2.4 .1 2.5 .2 2.4 .2 2.4 .3 2.5 .2 2.4 .3 2.4 .2 2.5 .3 2.4 .3 2.4 .3 2.5 .3 2.4 .4 2.4 .3 2.5 .4 2.4 .3M76.9 138.4l1.4-.2 1.4-.2 1.4-.2 1.4-.2 1.4-.2 1.4-.2 1.4-.2 1.4-.2 1.4-.2 1.5-.1 1.4-.2 1.4-.2 1.4-.1 1.4-.2 1.4-.1 1.4-.2 1.4-.1 2.8 0 2.8 0 2.8 .1 2.8 0 2.8 .1 2.9 .1 2.8 .1 2.8 .2 2.8-.3 2.8-.3 2.8-.3 2.8-.2 2.8-.2 2.8-.2 2.8-.2 2.9-.2 2.8-.2 2.8-.1 2.8-.1 2.8-.1M24 133.6l2.4-.1 2.5-.2 2.4-.1 2.4 0 2.5-.1 2.4-.1 2.4 0 2.5-.1 2.4 0 2.4 0 2.5 0 2.4 0 2.4 .1 2.5 0 2.4 .1 2.4 .1 2.5 0 2.4 .1 2.4 .2 2.5 .1 1.4 0 1.4 .1 1.4 0 1.4 .1 1.4 .1 1.4 0 1.4 .1 1.4 .1 1.4 .1 1.4 .1 1.4 .1 1.4 .1 1.5 .1 1.4 .1 1.4 .1 1.4 .1 1.4 .1 1.4 .1 1.4 .2 1.4 .1 2.8-.3 2.8-.2 2.8-.2 2.8-.2 2.8-.2 2.9-.2 2.8-.2 2.8-.1 2.8-.1 2.8-.1 2.8-.1 2.8-.1 2.8 0 2.8 0 2.8 0 2.9 0 2.8 0 2.8 0 2.8 .1 2.8 .1M24 133.6l2.4-.1 2.5-.2 2.4-.1 2.4 0 2.5-.1 2.4-.1 2.4 0 2.5-.1 2.4 0 2.4 0 2.5 0 2.4 0 2.4 .1 2.5 0 2.4 .1 2.4 .1 2.5 0 2.4 .1 2.4 .2 2.5 .1 1.4-.1 1.4 0 1.4 0 1.4-.1 1.4 0 1.4 0 1.4 0 1.4 0 1.4 0 1.4 0 1.4 0 1.4 0 1.5 0 1.4 0 1.4 0 1.4 0 1.4 .1 1.4 0 1.4 0 1.4 .1 2.8-.2 2.8-.1 2.8-.2 2.8-.1 2.8-.1 2.9-.1 2.8 0 2.8-.1 2.8 0 2.8 0 2.8 0 2.8 0 2.8 .1 2.8 0 2.8 .1 2.9 .1 2.8 .1 2.8 .2 2.8 .1 2.8 .2M62.9 138.3l2.5-.6 2.4-.6 2.4-.7 2.5-.8 1.4-.2 1.4-.3 1.4-.3 1.4-.2 1.4-.4 1.4-.3 1.4-.3 1.4-.3 1.4-.4 1.4-.4 1.4-.3 1.4-.4 1.5-.4 1.4-.4 1.4-.5 1.4-.4 1.4-.5 1.4-.4 1.4-.5 1.4-.5 2.8 1.2 2.8 1.2 2.8 1.1 2.8 1.1 2.8 1 2.9 1 2.8 .9 2.8 .8 2.8 .9 2.8 .7M28.9 138.3l2.4-.4 2.4-.5 2.5-.6 2.4-.5 2.4-.7 2.5-.6 2.4-.7 2.4-.7 2.5-.8 2.4-.8 2.4-.8 2.5-.9 2.4-.9 2.4-1 2.5-1 2.4-1 2.4-1 2.5-1.1 1.4 .6 1.4 .6 1.4 .6 1.4 .5 1.4 .6 1.4 .6 1.4 .5 1.4 .5 1.4 .5 1.4 .5 1.4 .5 1.4 .5 1.5 .5 1.4 .4 1.4 .5 1.4 .4 1.4 .4 1.4 .4 1.4 .4 1.4 .4 2.8 0 2.8-.1 2.8-.1 2.8-.2 2.8-.2 2.9-.3 2.8-.3 2.8-.4 2.8 .8 2.8 .8 2.8 .7 2.8 .7 2.8 .6 2.8 .6 2.8 .5 2.9 .5 2.8 .4 2.8 .4M38.6 138.5l2.4-.2 2.5-.3 2.4-.3 2.4-.4 2.5-.4 2.4-.4 2.4-.5 2.5-.5 2.4-.5 2.4-.6 2.5-.6 2.4-.7 2.4-.7 2.5-.7 1.4-.2 1.4-.3 1.4-.3 1.4-.3 1.4-.3 1.4-.3 1.4-.3 1.4-.4 1.4-.3 1.4-.4 1.4-.4 1.4-.4 1.5-.4 1.4-.4 1.4-.4 1.4-.5 1.4-.4 1.4-.5 1.4-.5 1.4-.4 2.8 1.2 2.8 1.1 2.8 1.2 2.8 1 2.8 1 2.9 1 2.8 .9 2.8 .9 2.8 .8 2.8 .8 2.8 .7 2.8 .7 2.8 .6 2.8 .6 2.8 .5 2.9 .5 2.8 .4 2.8 .4M24 112.1l2.4 1.4 2.5 1.5 2.4 1.4 2.4 1.3 2.5 1.4 2.4 1.3 2.4 1.3 2.5 1.3 2.4 1.2 2.4 1.3 2.5 1.2 2.4 1.1 2.4 1.2 2.5 1.1 2.4 1.1 2.4 1.1 2.5 1.1 2.4 1 2.4 1 2.5 1 1.4-.2 1.4-.1 1.4-.2 1.4-.2 1.4-.2 1.4-.2 1.4-.2 1.4-.2 1.4-.3 1.4-.2 1.4-.3 1.4-.2 1.5 .5 1.4 .6 1.4 .5 1.4 .5 1.4 .5 1.4 .5 1.4 .5 1.4 .5 2.8-1 2.8-1 2.8-1 2.8-1.1 2.8-1.1 2.9-1.2 2.8-1.2 2.8-1.2 2.8-1.2 2.8-1.3 2.8-1.3 2.8-1.4 2.8-1.4 2.8-1.4 2.8-1.4 2.9-1.5 2.8-1.5 2.8-1.5 2.8-1.6 2.8-1.6M99.4 138.5l1.4-.5 2.8 0 2.8 0 2.8-.1 2.8-.1 2.8-.2M67.8 138.3l2.4-.9 2.5-1 1.4 .2 1.4 .1 1.4 .2 1.4 .1 1.4 .1 1.4 .1 1.4 .1 1.4 .2 1.4 0 1.4 .1 1.4 .1 1.4 .1 1.5 0 1.4 .1 1.4 0 1.4 .1 1.4 0 1.4 0 1.4 0 1.4 0M24 36l2.4-.1 2.5-.2 2.4-.2 2.4-.4 2.5-.5 2.4-.6 2.4-.7 2.5-.9 2.4-.9 2.4-1.1M92.4 30.9l1.4 .9 1.4 .9 1.4 .9 1.4 .8 1.4 .8 1.4 .8 2.8-3.1M148.6 30.9l2.8 1.8 2.8 1.7 2.8 1.6M24 36l2.4-.1 2.5-.2 2.4-.2 2.4-.4 2.5-.5 2.4-.6 2.4-.7 2.5-.9 2.4-.9 2.4-1.1M92.4 30.9l1.4 .9 1.4 .9 1.4 .9 1.4 .8 1.4 .8 1.4 .8 2.8 1.4 2.8 1.2 2.8 1.1 2.8 1 2.8 .8 2.9 .6 2.8 .6 2.8 .3 2.8 .2 2.8 .1 2.8-.1 2.8-.2 2.8-.3 2.8-.6 2.8-.6 2.9-.8 2.8-1 2.8-1.1 2.8-1.2 2.8-1.4M24 36l2.4 2.1 2.5 2.1 2.4 1.9 2.4 1.8 2.5 1.7 2.4 1.6 2.4 1.5 2.5 1.4 2.4 1.3 2.4 1.1 2.5 1.1 2.4 .9 2.4 .8 2.5 .8 2.4 .6 2.4 .5 2.5 .4 2.4 .2 2.4 .2 2.5 .1 1.4 .7 1.4 .7 1.4 .6 1.4 .6 1.4 .6 1.4 .5 1.4 .5 1.4 .5 1.4 .4 1.4 .4 1.4 .3 1.4 .3 1.5 .3 1.4 .3 1.4 .2 1.4 .1 1.4 .2 1.4 0 1.4 .1 1.4 0 2.8-.1 2.8-.2 2.8-.3 2.8-.6 2.8-.6 2.9-.8 2.8-1 2.8-1.1 2.8-1.2 2.8-1.4 2.8-1.6 2.8-1.7 2.8-1.8 2.8-2 2.8-2.2 2.9-2.2 2.8-2.5 2.8-2.5 2.8-2.8 2.8-2.8M24 60.4l2.4-1 2.5-1.2 2.4-1.2 2.4-1.3 2.5-1.3 2.4-1.5 2.4-1.6 2.5-1.7 2.4-1.8 2.4-1.9 2.5-1.9 2.4-2.1 2.4-2.1 2.5-2.3 2.4-2.4 2.4-2.4 2.5-2.6M81.1 31l1.4 1.4 1.4 1.3 1.4 1.3 1.4 1.3 1.4 1.3 1.4 1.2 1.5 1.2 1.4 1.2 1.4 1.1 1.4 1.2 1.4 1 1.4 1.1 1.4 1 1.4 1 2.8-.1 2.8-.2 2.8-.3 2.8-.5 2.8-.6 2.9-.7 2.8-.8 2.8-.9 2.8 2.1 2.8 2 2.8 1.8 2.8 1.7 2.8 1.6 2.8 1.5 2.8 1.4 2.9 1.2 2.8 1.1 2.8 .9 2.8 .9 2.8 .7M36.2 31.4l2.4 2.3 2.4 2.3 2.5 2.1 2.4 2.1 2.4 2 2.5 1.9 2.4 1.7 2.4 1.7 2.5 1.6 2.4 1.5 2.4 1.4 2.5 1.3 2.4 1.2 2.4 1.1 2.5 1 1.4-.3 1.4-.4 1.4-.4 1.4-.4 1.4-.5 1.4-.5 1.4-.5 1.4-.6 1.4-.6 1.4-.6 1.4-.7 1.4-.7 1.5 .9 1.4 .9 1.4 .8 1.4 .8 1.4 .7 1.4 .7 1.4 .7 1.4 .7 2.8-.7 2.8-.8 2.8-1 2.8-1.1 2.8-1.2 2.9-1.4 2.8-1.4 2.8-1.6 2.8-1.8 2.8-1.8 2.8-2 2.8-2.1 2.8-2.3 2.8-2.3 2.8-2.5 2.9-2.6M24 56.6l2.4-1 2.5-1.1 2.4-1.2 2.4-1.3 2.5-1.4 2.4-1.5 2.4-1.6 2.5-1.7 2.4-1.7 2.4-1.9 2.5-2 2.4-2.1 2.4-2.1 2.5-2.3 2.4-2.3M65.4 31.2l2.4 2.1 2.4 2.1 2.5 2 1.4 .6 1.4 .6 1.4 .6 1.4 .5 1.4 .5 1.4 .4 1.4 .5 1.4 .4 1.4 .3 1.4 .4 1.4 .3 1.4 .3 1.5 .2 1.4 .2 1.4 .2 1.4 .1 1.4 .1 1.4 .1 1.4 .1 1.4 0 2.8-2 2.8-2.1 2.8-2.3 2.8-2.3 2.8-2.5 2.9-2.6M123.3 32l2.8 2.8 2.8 2.6 2.8 2.5 2.8 2.3 2.8 2.3 2.8 2.1 2.8 2 2.9 1.8 2.8 1.8 2.8 1.6 2.8 1.4 2.8 1.4M24 56.6l2.4-1 2.5-1.1 2.4-1.2 2.4-1.3 2.5-1.4 2.4-1.5 2.4-1.6 2.5-1.7 2.4-1.7 2.4-1.9 2.5-2 2.4-2.1 2.4-2.1 2.5-2.3 2.4-2.3M83.9 30l1.4 1.3 1.4 1.3 1.4 1.2 1.4 1.3 1.5 1.2 1.4 1.1 1.4 1.2 1.4 1.1 1.4 1.1 1.4 1 1.4 1 1.4 1 2.8-.1 2.8-.2 2.8-.3 2.8-.4 2.8-.6 2.9-.7 2.8-.9 2.8-.9 2.8 2.1 2.8 2 2.8 1.8 2.8 1.8 2.8 1.6 2.8 1.4 2.8 1.4 2.9 1.2 2.8 1.1 2.8 1 2.8 .8 2.8 .7M24 56.6l2.4 .9 2.5 .8 2.4 .7 2.4 .7 2.5 .5 2.4 .4 2.4 .4 2.5 .2 2.4 .1 2.4 .1 2.5-.1 2.4-.1 2.4-.2 2.5-.4 2.4-.4 2.4-.5 2.5-.7 2.4-.7 2.4-.8 2.5-.9 1.4-.3 1.4-.4 1.4-.4 1.4-.4 1.4-.5 1.4-.5 1.4-.5 1.4-.6 1.4-.6 1.4-.6 1.4-.7 1.4-.7 1.5-.7 1.4-.7 1.4-.8 1.4-.8 1.4-.9 1.4-.9 1.4-.9 1.4-.9 2.8 1.8 2.8 1.8 2.8 1.6 2.8 1.4 2.8 1.4 2.9 1.2 2.8 1.1 2.8 1 2.8 .8 2.8 .7 2.8 .6 2.8 .4 2.8 .3 2.8 .2 2.8 .1 2.9-.1 2.8-.2 2.8-.3 2.8-.4 2.8-.6M24 56.6l2.4 .9 2.5 .8 2.4 .7 2.4 .7 2.5 .5 2.4 .4 2.4 .4 2.5 .2 2.4 .1 2.4 .1 2.5-.1 2.4-.1 2.4-.2 2.5-.4 2.4-.4 2.4-.5 2.5-.7 2.4-.7 2.4-.8 2.5-.9 1.4 .3 1.4 .3 1.4 .2 1.4 .2 1.4 .2 1.4 .1 1.4 .2 1.4 0 1.4 .1 1.4 0 1.4 0 1.4-.1 1.5 0 1.4-.2 1.4-.1 1.4-.2 1.4-.2 1.4-.2 1.4-.3 1.4-.3 2.8 1.2 2.8 1.1 2.8 1 2.8 .8 2.8 .7 2.9 .6 2.8 .4 2.8 .3 2.8 .2 2.8 .1 2.8-.1 2.8-.2 2.8-.3 2.8-.4 2.8-.6 2.9-.7 2.8-.8 2.8-1 2.8-1.1 2.8-1.2M33.7 30.9l2.5 1.5 2.4 1.6 2.4 1.6 2.5 1.7 2.4 1.7 2.4 1.7 2.5 1.7 2.4 1.8 2.4 1.8 2.5 1.9 2.4 1.8 2.4 2 2.5-1.5 2.4-1.5 2.4-1.4 2.5-1.4 1.4-.7 1.4-.7 1.4-.7 1.4-.6 1.4-.7 1.4-.6 1.4-.6 1.4-.6 1.4-.6 1.4-.6 1.4-.6 1.4-.5 1.5-.6 1.4-.5 1.4-.5 1.4-.5 1.4-.5 1.4-.5 1.4-.5 1.4-.5 2.8 1.9 2.8 1.9 2.8 2 2.8 2 2.8 2 2.9 2.1 2.8 .8 2.8-2 2.8-1.9 2.8-1.9 2.8-1.8 2.8-1.8 2.8-1.7 2.8-1.7 2.8-1.6 2.9-1.6M95.2 30.7l1.4 .9 1.4 .9 1.4 .9 1.4 .9 2.8-.9 2.8-.8 2.8-.8 2.8-.8 2.8-.7M50.8 30.3l2.4 1.1 2.4 1.1 2.5 1.2 2.4 1.2 2.4 1.2 2.5 1.3 2.4 1.3 2.4 1.3 2.5 1.4 1.4-.7 1.4-.7 1.4-.6 1.4-.7 1.4-.6 1.4-.7 1.4-.6 1.4-.6 1.4-.6 1.4-.6 1.4-.5 1.4-.6 1.5-.5 1.4-.6 1.4-.5 1.4-.5 1.4-.5 1.4-.5 1.4-.5M24 41.7l2.4 .5 2.5 .4 2.4 .6 2.4 .5 2.5 .7 2.4 .6 2.4 .7 2.5 .7 2.4 .8 2.4 .8 2.5 .9 2.4 .9 2.4 1 2.5 1 2.4 1 2.4 1.1 2.5 1.1 2.4 1.2 2.4 1.2 2.5 1.2 1.4-.7 1.4-.7 1.4-.6 1.4-.7 1.4-.6 1.4-.7 1.4-.6 1.4-.6 1.4-.6 1.4-.5 1.4-.6 1.4-.5 1.5-.6 1.4-.5 1.4-.5 1.4-.5 1.4-.4 1.4-.5 1.4-.4 1.4-.5 2.8 .1 2.8 .1 2.8 .1 2.8 .2 2.8 .2 2.9 .4 2.8 .3 2.8 .4 2.8-.9 2.8-.9 2.8-.8 2.8-.7 2.8-.7 2.8-.7 2.8-.6 2.9-.5 2.8-.5 2.8-.4 2.8-.4 2.8-.3M24 37l2.4-.4 2.5-.3 2.4-.3 2.4-.3 2.5-.2 2.4-.2 2.4-.2 2.5-.1 2.4-.1 2.4 0 2.5 0 2.4 .1 2.4 .1 2.5 .2 2.4 .2 2.4 .2 2.5 .3 2.4 .3 2.4 .3 2.5 .4 1.4-.1 1.4-.1 1.4-.1 1.4-.1 1.4-.1 1.4-.1 1.4 0 1.4 0 1.4-.1 1.4 0 1.4 0 1.4 .1 1.5 0 1.4 0 1.4 .1 1.4 .1 1.4 .1 1.4 .1 1.4 .1 1.4 .1 2.8-.5 2.8-.5 2.8-.4 2.8-.4 2.8-.3 2.9-.2 2.8-.2 2.8-.2 2.8 0 2.8-.1 2.8 .1 2.8 0 2.8 .2 2.8 .2 2.8 .2 2.9 .3 2.8 .4 2.8 .4 2.8 .5 2.8 .5" stroke="none" fill="none" marker-start="url(#m7a28f5085)" marker-mid="url(#m7a28f5085)" marker-end="url(#m7a28f5085)"/></g>
<rect x="24.5" y="30.5" width="133.0" height="108.0" fill="none" stroke="#858585" stroke-width="1"/>
<line x1="24" y1="30.450000000000003" x2="26" y2="30.450000000000003" stroke="#858585" stroke-width="0.8"/>
<text x="21.5" y="33.75" font-size="9.5" text-anchor="end" >2</text>
<line x1="24" y1="57.35" x2="26" y2="57.35" stroke="#858585" stroke-width="0.8"/>
<text x="21.5" y="60.65" font-size="9.5" text-anchor="end" >1</text>
<line x1="24" y1="84.25" x2="26" y2="84.25" stroke="#858585" stroke-width="0.8"/>
<text x="21.5" y="87.55" font-size="9.5" text-anchor="end" >0</text>
<line x1="24" y1="111.15" x2="26" y2="111.15" stroke="#858585" stroke-width="0.8"/>
<text x="21.5" y="114.45" font-size="9.5" text-anchor="end" >-1</text>
<line x1="24" y1="138.05" x2="26" y2="138.05" stroke="#858585" stroke-width="0.8"/>
<text x="21.5" y="141.35000000000002" font-size="9.5" text-anchor="end" >-2</text>
<line x1="24" y1="138" x2="24" y2="136" stroke="#858585" stroke-width="0.8"/>
<text x="24" y="147.5" font-size="9.5" text-anchor="middle" >Γs</text>
<line x1="72.678" y1="138" x2="72.678" y2="136" stroke="#858585" stroke-width="0.8"/>
<text x="72.678" y="147.5" font-size="9.5" text-anchor="middle" >Ms</text>
<line x1="100.7942" y1="138" x2="100.7942" y2="136" stroke="#858585" stroke-width="0.8"/>
<text x="100.7942" y="147.5" font-size="9.5" text-anchor="middle" >Ks</text>
<line x1="157" y1="138" x2="157" y2="136" stroke="#858585" stroke-width="0.8"/>
<text x="157" y="147.5" font-size="9.5" text-anchor="middle" >Γs</text>
<text x="0" y="9.2" font-size="11.5" text-anchor="start" >(a)</text>
<text x="94.5" y="9.5" font-size="10" text-anchor="middle" >WSe<tspan font-size="0.65em" baseline-shift="-2.2">2</tspan> bilayer: <tspan font-style="italic">θ</tspan><tspan font-size="0.65em" baseline-shift="-2.2">t</tspan> = 38.2°</text>
<text x="98" y="27.5" font-size="10" text-anchor="middle" >E<tspan font-size="0.65em" baseline-shift="-2.2">Field</tspan> = 0 eV/Å</text>
<text transform="translate(13,81.5) rotate(-90)" font-size="10.3" text-anchor="middle">Energy (eV)</text>
<circle cx="48" cy="77.6" r="3.2" fill="#1a1aee"/><circle cx="48" cy="92.6" r="3.2" fill="#ee55bb"/>
<text x="58.5" y="79.8" font-size="8.6" text-anchor="start" >Layer 1</text>
<text x="58.5" y="94.8" font-size="8.6" text-anchor="start" >Layer 2</text>
<line x1="100.8" y1="99" x2="100.8" y2="74.0" stroke="#222" stroke-width="0.7" stroke-dasharray="1,1"/>
<path d="M100.8 70.0L102.6 74.0L99.0 74.0Z" fill="#222"/>
<clipPath id="cb1"><rect x="24" y="194" width="135" height="109"/></clipPath>
<defs><marker id="md060d808" markerUnits="userSpaceOnUse" markerWidth="4" markerHeight="4" refX="2" refY="2" overflow="visible"><circle cx="2" cy="2" r="0.8" fill="#d060d8"/></marker></defs>
<defs><marker id="mb050e008" markerUnits="userSpaceOnUse" markerWidth="4" markerHeight="4" refX="2" refY="2" overflow="visible"><circle cx="2" cy="2" r="0.8" fill="#b050e0"/></marker></defs>
<defs><marker id="m8a3cf008" markerUnits="userSpaceOnUse" markerWidth="4" markerHeight="4" refX="2" refY="2" overflow="visible"><circle cx="2" cy="2" r="0.8" fill="#8a3cf0"/></marker></defs>
<defs><marker id="me070d008" markerUnits="userSpaceOnUse" markerWidth="4" markerHeight="4" refX="2" refY="2" overflow="visible"><circle cx="2" cy="2" r="0.8" fill="#e070d0"/></marker></defs>
<g clip-path="url(#cb1)"><path d="M25 278.8l2.4 0 2.5 .1 2.4 .3 2.4 .3 2.5 .3 2.4 .5 2.4 .5 2.5 .7 2.4 .7 2.4 .8 2.5 .9 2.4 1 2.4 1 2.5 1.1 2.4 1.3 2.4 1.3 2.5 1.4 2.4 1.4 2.4 1.6 2.5 1.7 1.4 0 1.4 0 1.4 .1 1.4 .1 1.4 .1 1.4 .2 1.4 .1 1.4 .3 1.4 .2 1.4 .3 1.4 .3 1.4 .3 1.5 .3 1.4 .4 1.4 .4 1.4 .5 1.4 .4 1.4 .5 1.4 .5 1.4 .6 2.8-2.2 2.8-2.1 2.8-2 2.8-1.8 2.8-1.8 2.9-1.6 2.8-1.5 2.8-1.4 2.8-1.3 2.8-1.2 2.8-1.1 2.8-.9 2.8-.9 2.8-.7 2.8-.6 2.9-.5 2.8-.4 2.8-.3 2.8-.2 2.8 0M66.4 301.1l2.4-1.9 2.4-1.8 2.5-1.7 1.4 0 1.4 0 1.4 .1 1.4 .1 1.4 .1 1.4 .2 1.4 .1 1.4 .3 1.4 .2 1.4 .3 1.4 .3 1.4 .3 1.5 .3 1.4 .4 1.4 .4 1.4 .5 1.4 .4 1.4 .5 1.4 .5 1.4 .6 2.8 1.2M29.9 301l2.4-2.4 2.4-2.3 2.5-2.2 2.4-2 2.4-1.9 2.5-1.8 2.4-1.6 2.4-1.4 2.5-1.4 2.4-1.1 2.4-1.1 2.5-.9 2.4-.8 2.4-.6 2.5-.5 2.4-.3 2.4-.2 2.5-.1 1.4 .9 1.4 1 1.4 1.1 1.4 1.1 1.4 1.1 1.4 1.2 1.4 1.2 1.4 1.3 1.4 1.4 1.4 1.3 1.4 1.5 1.4 1.4 1.5 1.5 1.4 1.6 1.4 1.6 1.4 1.7 1.4 1.7M110.2 301.6l2.8-1.2 2.8-1 2.9-.9 2.8-.6 2.8-.5 2.8-.3 2.8-.1 2.8 .1 2.8 .3 2.8 .5 2.8 .6 2.8 .9 2.9 1 2.8 1.2M27.4 302.5l2.5-2.5 2.4-2.5 2.4-2.3 2.5-2.2 2.4-2 2.4-1.9 2.5-1.7 2.4-1.6 2.4-1.5 2.5-1.3 2.4-1.2 2.4-1.1 2.5-.9 2.4-.8 2.4-.6 2.5-.5 2.4-.3 2.4-.2 2.5-.1 1.4 1 1.4 1 1.4 1 1.4 1.1 1.4 1.1 1.4 1.2 1.4 1.3 1.4 1.2 1.4 1.4 1.4 1.4 1.4 1.4 1.4 1.4 1.5 1.6 1.4 1.5 1.4 1.6 1.4 1.7 1.4 1.7 1.4 1.7M107.4 301.9l2.8-1.4 2.8-1.2 2.8-1 2.9-.9 2.8-.6 2.8-.5 2.8-.3 2.8-.1 2.8 .1 2.8 .3 2.8 .5 2.8 .6 2.8 .9 2.9 1 2.8 1.2 2.8 1.4M42 301.3l2.5-1.8 2.4-1.6 2.4-1.5 2.5-1.3 2.4-1.2 2.4-1 2.5-.9 2.4-.8 2.4-.6 2.5-.5 2.4-.4 2.4-.2 2.5 0 1.4-1 1.4-.8 1.4-.8 1.4-.8 1.4-.7 1.4-.7 1.4-.6 1.4-.6 1.4-.6 1.4-.4 1.4-.5 1.4-.4 1.5-.3 1.4-.3 1.4-.3 1.4-.2 1.4-.2 1.4-.1 1.4 0 1.4-.1 2.8 .1 2.8 .3 2.8 .5 2.8 .6 2.8 .9 2.9 1 2.8 1.2 2.8 1.4 2.8 1.6 2.8 1.8 2.8 1.9 2.8 2.2 2.8 2.3 2.8 2.5 2.8 2.7M84.9 301.8l1.4-.9 1.4-.9 1.4-.9 1.4-.9 1.5-1 1.4-1 1.4-.9 1.4-1 1.4-1 1.4-1 1.4-1.1 1.4-1 2.8 2.6 2.8 2.5 2.8 2.5 2.8 2.5M25 296.9l2.4 .1 2.5 0 2.4 .2 2.4 .2 2.5 .2 2.4 .3 2.4 .4 2.5 .4 2.4 .4 2.4 .6 2.5 .5 2.4 .7 2.4 .7 2.5 .7M135.5 302.2l2.8-.9 2.8-.9 2.8-.7 2.9-.7 2.8-.6 2.8-.6 2.8-.5 2.8-.4M25 291.7l2.4 .6 2.5 .6 2.4 .7 2.4 .8 2.5 .8 2.4 .8 2.4 .9 2.5 1 2.4 1 2.4 1 2.5 1.2 2.4 1.1M75.1 302.3l1.4-.3 1.4-.3 1.4-.3 1.4-.3 1.4-.3 1.4-.2 1.4-.3 1.4-.2 1.4-.2 1.4-.1 1.4-.2 1.5-.1 1.4-.1 1.4-.1 1.4-.1 1.4-.1 1.4 0 1.4-.1 1.4 0 2.8 1.2 2.8 1.2M132.7 301.2l2.8-1.3 2.8-1.3 2.8-1.2 2.8-1.1 2.9-1.1 2.8-1 2.8-.9 2.8-.8 2.8-.8M25 291.7l2.4-.5 2.5-.4 2.4-.5 2.4-.3 2.5-.3 2.4-.3 2.4-.2 2.5-.1 2.4-.1 2.4 0 2.5 0 2.4 .1 2.4 .1 2.5 .2 2.4 .3 2.4 .3 2.5 .3 2.4 .5 2.4 .4 2.5 .5 1.4 .2 1.4 .2 1.4 .3 1.4 .2 1.4 .3 1.4 .3 1.4 .3 1.4 .3 1.4 .3 1.4 .4 1.4 .3 1.4 .4 1.5 .4 1.4 .5 1.4 .4 1.4 .5 1.4 .5 1.4 .5 1.4 .5 1.4 .5 2.8-1 2.8-1 2.8-.9 2.8-.9 2.8-.7 2.9-.7 2.8-.6 2.8-.6 2.8-.5 2.8-.4 2.8-.3 2.8-.2 2.8-.2 2.8-.1 2.8-.1 2.9 .1 2.8 .1 2.8 .2 2.8 .2 2.8 .3M25 198.4l2.4 0 2.5-.2 2.4-.3 2.4-.3 2.5-.5 2.4-.6 2.4-.8 2.5-.8 2.4-.9M94.8 194.3l1.4 .9 1.4 .9 1.4 .8 1.4 .8 1.4 .7 2.8 1.5 2.8 1.2 2.8 1.1 2.8 1 2.8 .8 2.9 .7 2.8 .5 2.8 .3 2.8 .3 2.8 0 2.8 0 2.8-.3 2.8-.3 2.8-.5 2.8-.7 2.9-.8 2.8-1 2.8-1.1 2.8-1.2 2.8-1.5M25 196.8l2.4-2.2M155.2 193.8l2.8 3M25 196.8l2.4 0 2.5-.2 2.4-.3 2.4-.4 2.5-.5 2.4-.6 2.4-.7M96.2 193.6l1.4 .8 1.4 .9 1.4 .8 1.4 .7 2.8-3M152.4 193.6l2.8 1.7 2.8 1.5M25 196.8l2.4 0 2.5-.2 2.4-.3 2.4-.4 2.5-.5 2.4-.6 2.4-.7M96.2 193.6l1.4 .8 1.4 .9 1.4 .8 1.4 .7 2.8 1.4 2.8 1.3 2.8 1.1 2.8 1 2.8 .8 2.9 .6 2.8 .6 2.8 .3 2.8 .2 2.8 .1 2.8-.1 2.8-.2 2.8-.3 2.8-.6 2.8-.6 2.9-.8 2.8-1 2.8-1.1 2.8-1.3 2.8-1.4M25 196l2.4 2.2 2.5 2 2.4 2 2.4 1.8 2.5 1.7 2.4 1.6 2.4 1.5 2.5 1.4 2.4 1.3 2.4 1.2 2.5 1 2.4 .9 2.4 .9 2.5 .7 2.4 .6 2.4 .5 2.5 .4 2.4 .3 2.4 .1 2.5 .1 1.4-.8 1.4-.8 1.4-.8 1.4-.9 1.4-.9 1.4-.9 1.4-1 1.4-1 1.4-1.1 1.4-1 1.4-1.2 1.4-1.1 1.5-1.2 1.4-1.3 1.4-1.3 1.4-1.3 1.4-1.3 1.4-1.4 1.4-1.4 1.4-1.5 2.8 1.4 2.8 1.3 2.8 1.1 2.8 .9 2.8 .9 2.9 .6 2.8 .5 2.8 .4 2.8 .2 2.8 .1 2.8-.1 2.8-.2 2.8-.4 2.8-.5 2.8-.6 2.9-.8 2.8-1 2.8-1.1 2.8-1.3 2.8-1.4M25 217.5l2.4-1 2.5-1.1 2.4-1.2 2.4-1.3 2.5-1.4 2.4-1.5 2.4-1.6 2.5-1.7 2.4-1.7 2.4-1.9 2.5-2 2.4-2.1 2.4-2.1 2.5-2.3M68.8 194.2l2.4 2.1 2.5 2 1.4 .6 1.4 .6 1.4 .5 1.4 .6 1.4 .5 1.4 .4 1.4 .5 1.4 .4 1.4 .3 1.4 .4 1.4 .3 1.4 .3 1.5 .2 1.4 .2 1.4 .2 1.4 .1 1.4 .1 1.4 .1 1.4 .1 1.4 0 2.8-2 2.8-2.1 2.8-2.3 2.8-2.4M127.1 195.6l2.8 2.7 2.8 2.5 2.8 2.3 2.8 2.3 2.8 2.1 2.8 2 2.9 1.9 2.8 1.7 2.8 1.6 2.8 1.5 2.8 1.3M25 217.5l2.4 1 2.5 .8 2.4 .7 2.4 .6 2.5 .6 2.4 .4 2.4 .3 2.5 .3 2.4 .1 2.4 .1 2.5-.1 2.4-.1 2.4-.3 2.5-.3 2.4-.4 2.4-.6 2.5-.6 2.4-.7 2.4-.8 2.5-1 1.4-.3 1.4-.4 1.4-.4 1.4-.4 1.4-.5 1.4-.5 1.4-.5 1.4-.6 1.4-.6 1.4-.6 1.4-.6 1.4-.7 1.5-.8 1.4-.7 1.4-.8 1.4-.8 1.4-.9 1.4-.9 1.4-.9 1.4-.9 2.8 1.8 2.8 1.8 2.8 1.6 2.8 1.5 2.8 1.3 2.9 1.2 2.8 1.1 2.8 1 2.8 .8 2.8 .7 2.8 .6 2.8 .5 2.8 .3 2.8 .2 2.8 0 2.9 0 2.8-.2 2.8-.3 2.8-.5 2.8-.6M25 217.5l2.4 0 2.5-.2 2.4-.2 2.4-.3 2.5-.5 2.4-.5 2.4-.6 2.5-.7 2.4-.9 2.4-.9 2.5-1 2.4-1.1 2.4-1.2 2.5-1.3 2.4-1.4 2.4-1.5 2.5-1.6 2.4-1.7 2.4-1.8 2.5-1.8 1.4-.7 1.4-.7 1.4-.7 1.4-.8 1.4-.8 1.4-.8M118.7 195.9l2.8 2.4 2.8 2.3 2.8 2.1 2.8 2 2.8 1.8 2.8 1.8 2.8 1.6 2.8 1.5 2.8 1.3 2.9 1.2 2.8 1.1 2.8 1 2.8 .8 2.8 .7M25 218.6l2.4-1 2.5-1.1 2.4-1.2 2.4-1.3 2.5-1.4 2.4-1.5 2.4-1.6 2.5-1.7 2.4-1.8 2.4-1.8 2.5-2 2.4-2.1 2.4-2.2 2.5-2.2M68.8 195.3l2.4 2.1 2.5 1.9 1.4 .7 1.4 .6 1.4 .5 1.4 .5 1.4 .5 1.4 .5 1.4 .4 1.4 .5 1.4 .3 1.4 .4 1.4 .3 1.4 .2 1.5 .3 1.4 .2 1.4 .2 1.4 .1 1.4 .1 1.4 .1 1.4 0 1.4 .1 2.8-2 2.8-2.2 2.8-2.2 2.8-2.4 2.8-2.5M124.3 193.9l2.8 2.8 2.8 2.6 2.8 2.5 2.8 2.4 2.8 2.3 2.8 2.1 2.8 2 2.9 1.8 2.8 1.8 2.8 1.6 2.8 1.5 2.8 1.3M25 218.6l2.4 0 2.5-.2 2.4-.2 2.4-.4 2.5-.4 2.4-.5 2.4-.6 2.5-.8 2.4-.8 2.4-.9 2.5-1 2.4-1.1 2.4-1.2 2.5 .6 2.4 1.5 2.4 1.4 2.5 1.3 2.4 1.2 2.4 1.1 2.5 1 1.4 .3 1.4 .3 1.4 .2 1.4 .2 1.4 .2 1.4 .2 1.4 .1 1.4 .1 1.4 0 1.4 0 1.4 0 1.4 0 1.5-.1 1.4-.1 1.4-.2 1.4-.1 1.4-.3 1.4-.2 1.4-.3 1.4-.3 2.8-.7 2.8-.8 2.8-1 2.8-1.1 2.8-1.2 2.9 1.2 2.8 1.1 2.8 1 2.8 .8 2.8 .7 2.8 .6 2.8 .4 2.8 .4 2.8 .2 2.8 0 2.9 0 2.8-.2 2.8-.4 2.8-.4 2.8-.6M25 215.9l2.4-1 2.5-1.1 2.4-1.2 2.4-1.3 2.5-1.4 2.4-1.5 2.4-1.6 2.5-1.7 2.4-1.8 2.4-1.8 2.5-2 2.4-2.1 2.4-2.2M90.5 194.3l1.5 1.2 1.4 1.2 1.4 1.1 1.4 1.2 1.4 1 1.4 1.1 1.4 1 1.4 1 2.8-.1 2.8-.2 2.8-.3 2.8-.5 2.8-.5 2.9-.7 2.8-.9 2.8-.9 2.8 2.1 2.8 2 2.8 1.8 2.8 1.8 2.8 1.6 2.8 1.4 2.8 1.4 2.9 1.2 2.8 1.1 2.8 1 2.8 .8 2.8 .7M25 215.9l2.4 .9 2.5 .9 2.4 .7 2.4 .6 2.5 .5 2.4 .5 2.4 .3 2.5 .3 2.4 .1 2.4 0 2.5 0 2.4-.1 2.4-.3 2.5-.3 2.4-.5 2.4-.5 2.5-.6 2.4-.7 2.4-.9 2.5-.9 1.4 .3 1.4 .3 1.4 .2 1.4 .2 1.4 .2 1.4 .2 1.4 .1 1.4 .1 1.4 0 1.4 0 1.4 0 1.4 0 1.5-.1 1.4-.1 1.4-.2 1.4-.1 1.4-.3 1.4-.2 1.4-.3 1.4-.3 2.8 1.2 2.8 1.1 2.8 1 2.8 .8 2.8 .7 2.9 .6 2.8 .5 2.8 .3 2.8 .2 2.8 .1 2.8-.1 2.8-.2 2.8-.3 2.8-.5 2.8-.6 2.9-.7 2.8-.8 2.8-1 2.8-1.1 2.8-1.2M25 197.8l2.4-.5 2.5-.5 2.4-.6 2.4-.6 2.5-.7 2.4-.7M143.9 194l2.9 .9 2.8 .8 2.8 .8 2.8 .7 2.8 .6M25 197.8l2.4 0 2.5-.1 2.4-.1 2.4-.1 2.5-.3 2.4-.2 2.4-.3 2.5-.4 2.4-.4 2.4-.4 2.5-.5 2.4-.5 2.4-.6M138.3 194.1l2.8 .8 2.8 .6 2.9 .6 2.8 .5 2.8 .5 2.8 .4 2.8 .3M25 197.8l2.4 .5 2.5 .4 2.4 .3 2.4 .3 2.5 .3 2.4 .2 2.4 .1 2.5 .1 2.4 .1 2.4 0 2.5 0 2.4-.1 2.4-.1 2.5-.1 2.4-.2 2.4-.3 2.5-.3 2.4-.3 2.4-.4 2.5-.5 1.4 .2 1.4 .1 1.4 .1 1.4 .1 1.4 .1 1.4 .1 1.4 0 1.4 .1 1.4 0 1.4 0 1.4 0 1.4 0 1.5-.1 1.4 0 1.4-.1 1.4-.1 1.4-.1 1.4-.1 1.4-.1 1.4-.2 2.8 .6 2.8 .5 2.8 .5 2.8 .4 2.8 .3 2.9 .3 2.8 .2 2.8 .2 2.8 .1 2.8 0 2.8 0 2.8-.1 2.8-.2 2.8-.2 2.8-.3 2.9-.3 2.8-.4 2.8-.5 2.8-.5 2.8-.6M25 193.5l2.4 .4 2.5 .3 2.4 .4 2.4 .4 2.5 .4 2.4 .5 2.4 .5 2.5 .6 2.4 .5 2.4 .6 2.5 .6 2.4 .7 2.4 .7 2.5 .7 2.4 .7 2.4 .8 2.5-.7 2.4-.7 2.4-.6 2.5-.7 1.4-.2 1.4-.2 1.4-.1 1.4-.2 1.4-.2 1.4-.1 1.4-.1 1.4-.2 1.4-.1 1.4-.1 1.4-.1 1.4-.1 1.5 0 1.4-.1 1.4-.1 1.4 0 1.4-.1 1.4 0 1.4 0 1.4 0 2.8 .6 2.8 .7 2.8 .7 2.8 .8 2.8 .8 2.9 .8 2.8 .3 2.8-1 2.8-.8 2.8-.9 2.8-.8 2.8-.7 2.8-.7 2.8-.7 2.8-.6 2.9-.6 2.8-.6 2.8-.5 2.8-.4 2.8-.5M25 193.5l2.4 .1 2.5 0 2.4 .1 2.4 .1 2.5 .1 2.4 .2 2.4 .2 2.5 .2 2.4 .3 2.4 .3 2.5 .3 2.4 .3 2.4 .4 2.5-.2 2.4-.5 2.4-.4 2.5-.4 2.4-.4 2.4-.3 2.5-.4M101.8 193.5l2.8 .3 2.8 .2 2.8 .3 2.8 .4 2.8 .4 2.9-.4 2.8-.4 2.8-.3 2.8-.2 2.8-.3M158 193.5M25 193.5M73.7 193.5l1.4 .1 1.4 .2 1.4 .1 1.4 .1 1.4 .2 1.4 .1 1.4 .2 1.4 .2 1.4 .2 1.4 .2 1.4 .2 1.4 .2 1.5 .2 1.4 .3 1.4 .2 1.4 .3 1.4 .2 1.4 .3 1.4 .3 1.4 .3 2.8-.6 2.8-.5 2.8-.5 2.8-.5 2.8-.4 2.9-.4 2.8-.4 2.8-.3 2.8-.2 2.8-.3M158 193.5M25 193.5M73.7 193.5M101.8 193.5M158 193.5M61.5 193.6l2.4 .8 2.5-.7M118.7 194.1l2.8 .2M61.5 193.6l2.4 .8 2.5 .8 2.4 .8 2.4 .9 2.5 .9 1.4-.5 1.4-.5 1.4-.5 1.4-.4 1.4-.5 1.4-.5 1.4-.4 1.4-.4 1.4-.4M84.9 193.7l1.4 .3 1.4 .3 1.4 .3 1.4 .3 1.5 .3 1.4 .4 1.4 .3 1.4 .4 1.4 .3 1.4 .4 1.4 .4 1.4 .4 2.8-1 2.8-.9 2.8-1 2.8-.8" stroke="none" fill="none" marker-start="url(#md060d808)" marker-mid="url(#md060d808)" marker-end="url(#md060d808)"/><path d="M51.8 301.3l2.4-2.4 2.4-2.3 2.5-2.3 2.4-2.1 2.4-2.1 2.5-2 2.4-1.9 2.4-1.8 2.5-1.7 1.4 0 1.4 .1 1.4 0 1.4 .1 1.4 .1 1.4 .2 1.4 .2 1.4 .2 1.4 .2 1.4 .3 1.4 .3 1.4 .3 1.5 .4 1.4 .4 1.4 .4 1.4 .4 1.4 .5 1.4 .5 1.4 .5 1.4 .5 2.8 1.2 2.8 1.3 2.8 1.4 2.8 1.5 2.8 1.7 2.9 1.7 2.8 1.9 2.8 1.9M29.9 301l2.4-2.4 2.4-2.3 2.5-2.2 2.4-2 2.4-1.9 2.5-1.8 2.4-1.6 2.4-1.4 2.5-1.4 2.4-1.1 2.4-1.1 2.5-.9 2.4-.8 2.4-.6 2.5-.5 2.4-.3 2.4-.2 2.5-.1 1.4-.9 1.4-.9 1.4-.8 1.4-.8 1.4-.7 1.4-.7 1.4-.6 1.4-.6 1.4-.5 1.4-.5 1.4-.5 1.4-.3 1.5-.4 1.4-.3 1.4-.3 1.4-.2 1.4-.1 1.4-.1 1.4-.1 1.4 0 2.8 .1 2.8 .2 2.8 .5 2.8 .7 2.8 .8 2.9 1 2.8 1.2 2.8 1.4 2.8 1.6 2.8 1.8 2.8 1.9 2.8 2.2 2.8 2.3 2.8 2.5 2.8 2.7 2.9 2.9 2.8 3.1 2.8 3.3M107.4 301.9l2.8-1.4 2.8-1.2 2.8-1 2.9-.9 2.8-.6 2.8-.5 2.8-.3 2.8-.1 2.8 .1 2.8 .3 2.8 .5 2.8 .6 2.8 .9 2.9 1 2.8 1.2 2.8 1.4M42 302.3l2.5-1.7 2.4-1.6 2.4-1.5 2.5-1.3 2.4-1.2 2.4-1 2.5-1 2.4-.7 2.4-.6 2.5-.5 2.4-.4 2.4-.2 2.5-.1 1.4 1 1.4 1 1.4 1 1.4 1.1 1.4 1.2 1.4 1.2 1.4 1.2 1.4 1.3 1.4 1.3 1.4 1.4M42 302.3l2.5-1.7 2.4-1.6 2.4-1.5 2.5-1.3 2.4-1.2 2.4-1 2.5-1 2.4-.7 2.4-.7 2.5-.4 2.4-.4 2.4-.2 2.5-.1 1.4-.9 1.4-.8 1.4-.9 1.4-.7 1.4-.7 1.4-.7 1.4-.7 1.4-.5 1.4-.6 1.4-.5 1.4-.4 1.4-.4 1.5-.3 1.4-.4 1.4-.2 1.4-.2 1.4-.2 1.4-.1 1.4-.1 1.4 0 2.8 .1 2.8 .3 2.8 .4 2.8 .7 2.8 .8 2.9 1.1 2.8 1.2 2.8 1.4 2.8 1.6 2.8 1.7 2.8 2 2.8 2.1 2.8 2.4 2.8 2.5 2.8 2.7M61.5 302.2l2.4-2.1 2.5 1.7M82.1 301.7l1.4-.9 1.4-.8 1.4-.9 1.4-1 1.4-.9 1.4-.9 1.5-1 1.4-.9 1.4-1 1.4-1 1.4-1 1.4-1 1.4-1.1 1.4-1 2.8 2.6 2.8 2.5 2.8 2.5 2.8 2.5 2.8 2.4M56.6 302.1l2.5-.9 2.4-.8 2.4-.8 2.5-.8 2.4-.7 2.4-.6 2.5-.6 1.4 .2 1.4 .2 1.4 .3 1.4 .2 1.4 .3 1.4 .3 1.4 .3 1.4 .3 1.4 .3 1.4 .4 1.4 .3 1.4 .4 1.5-.5 1.4-.5 1.4-.4 1.4-.5 1.4-.4 1.4-.4 1.4-.4 1.4-.4 2.8 .4 2.8 .5 2.8 .6 2.8 .6 2.8 .7 2.9 .7 2.8 .9 2.8 .9M25 296.9l2.4 .1 2.5 0 2.4 .2 2.4 .2 2.5 .2 2.4 .3 2.4 .4 2.5 .4 2.4 .4 2.4 .6 2.5 .5 2.4 .7 2.4 .7 2.5-.4 2.4-.8 2.4-.8 2.5-.8 2.4-.7 2.4-.6 2.5-.6 1.4-.1 1.4-.2 1.4-.1 1.4-.1 1.4-.1 1.4-.1 1.4-.1 1.4 0 1.4-.1 1.4 0 1.4 0 1.4 .1 1.5 0 1.4 .1 1.4 .1 1.4 .1 1.4 .1 1.4 .1 1.4 .2 1.4 .1 2.8 .4 2.8 .5 2.8 .6 2.8 .6 2.8 .7 2.9-.7 2.8-.6 2.8-.6 2.8-.5 2.8-.4 2.8-.3 2.8-.2 2.8-.2 2.8-.1 2.8-.1 2.9 .1 2.8 .1 2.8 .2 2.8 .2 2.8 .3M44.5 302.2l2.4-1.1 2.4-1.2 2.5-1 2.4-1 2.4-1 2.5-.9 2.4-.8 2.4-.8 2.5-.8 2.4-.7 2.4-.6 2.5-.6 1.4 .2 1.4 .2 1.4 .3 1.4 .2 1.4 .3 1.4 .3 1.4 .3 1.4 .3 1.4 .3 1.4 .4 1.4 .3 1.4 .4 1.5-.5 1.4-.5 1.4-.4 1.4-.5 1.4-.4 1.4-.4 1.4-.4 1.4-.4 2.8 .4 2.8 .5 2.8 .6 2.8 .6 2.8 .7 2.9 .7 2.8 .9 2.8 .9 2.8 1 2.8 1 2.8 1.2 2.8 1.2M25 291.7l2.4 .6 2.5 .6 2.4 .7 2.4 .8 2.5 .8 2.4 .8 2.4 .9 2.5 1 2.4 1 2.4 1 2.5 1.2 2.4 1.1M94.8 302l1.4-.6 1.4-.7 1.4-.5 1.4-.6 1.4-.6 2.8 .1 2.8 .1 2.8 .2 2.8 .2 2.8 .3 2.9 .4 2.8 .5 2.8 .6 2.8-1.2 2.8-1.2 2.8-1 2.8-1 2.8-.9 2.8-.9 2.8-.7 2.9-.7 2.8-.6 2.8-.6 2.8-.5 2.8-.4M25 196.8l2.4 2.2 2.5 2 2.4 2 2.4 1.8 2.5 1.7 2.4 1.6 2.4 1.5 2.5 1.4 2.4 1.3 2.4 1.2 2.5 1 2.4 1 2.4 .8 2.5 .7 2.4 .6 2.4 .5 2.5 .4 2.4 .3 2.4 .2 2.5 0 1.4 .7 1.4 .7 1.4 .7 1.4 .6 1.4 .5 1.4 .6 1.4 .5 1.4 .4 1.4 .5 1.4 .4 1.4 .3 1.4 .3 1.5 .3 1.4 .2 1.4 .2 1.4 .2 1.4 .1 1.4 .1 1.4 .1 1.4 0 2.8-.1 2.8-.2 2.8-.4 2.8-.5 2.8-.6 2.9-.9 2.8-.9 2.8-1.1 2.8-1.3 2.8-1.4 2.8-1.5 2.8-1.7 2.8-1.9 2.8-2 2.8-2.1 2.9-2.3 2.8-2.5 2.8-2.6 2.8-2.7 2.8-2.9M25 196.8l2.4-2.2M152.4 193.6l2.8 1.7 2.8 1.5M25 196l2.4 2.2 2.5 2 2.4 2 2.4 1.8 2.5 1.7 2.4 1.6 2.4 1.5 2.5 1.4 2.4 1.3 2.4 1.2 2.5 1 2.4 .9 2.4 .9 2.5 .7 2.4 .6 2.4 .5 2.5 .4 2.4 .3 2.4 .1 2.5 .1 1.4 .7 1.4 .7 1.4 .6 1.4 .7 1.4 .5 1.4 .6 1.4 .5 1.4 .4 1.4 .5 1.4 .3 1.4 .4 1.4 .3 1.5 .3 1.4 .2 1.4 .2 1.4 .2 1.4 .1 1.4 .1 1.4 .1 1.4 0 2.8-.1 2.8-.2 2.8-.4 2.8-.5 2.8-.7 2.9-.8 2.8-.9 2.8-1.1 2.8-1.3 2.8-1.4 2.8-1.6 2.8-1.7 2.8-1.8 2.8-2 2.8-2.1 2.9-2.3 2.8-2.5 2.8-2.6 2.8-2.7 2.8-2.9M37.2 194.9l2.4 2.4 2.4 2.3 2.5 2.1 2.4 2.1 2.4 2 2.5 1.9 2.4 1.7 2.4 1.7 2.5 1.6 2.4 1.5 2.4 1.4 2.5 1.3 2.4 1.2 2.4 1.1 2.5 1 1.4-.3 1.4-.4 1.4-.4 1.4-.4 1.4-.5 1.4-.5 1.4-.5 1.4-.6 1.4-.6 1.4-.6 1.4-.6 1.4-.7 1.5 .9 1.4 .8 1.4 .8 1.4 .8 1.4 .8 1.4 .7 1.4 .7 1.4 .6 2.8-.7 2.8-.8 2.8-1 2.8-1.1 2.8-1.2 2.9-1.3 2.8-1.5 2.8-1.6 2.8-1.8 2.8-1.8 2.8-2 2.8-2.1 2.8-2.3 2.8-2.4 2.8-2.5 2.9-2.6M25 220.2l2.4 1 2.5 .8 2.4 .7 2.4 .6 2.5 .6 2.4 .4 2.4 .3 2.5 .3 2.4 .1 2.4 .1 2.5-.1 2.4-.1 2.4-.3 2.5-.3 2.4-.4 2.4-.6 2.5-.6 2.4-.7 2.4-.8 2.5-1 1.4 .3 1.4 .3 1.4 .3 1.4 .2 1.4 .1 1.4 .2 1.4 .1 1.4 .1 1.4 0 1.4 0 1.4 0 1.4 0 1.5-.1 1.4-.1 1.4-.2 1.4-.1 1.4-.2 1.4-.3 1.4-.3 1.4-.3 2.8 1.3 2.8 1.1 2.8 .9 2.8 .9 2.8 .7 2.9 .5 2.8 .5 2.8 .3 2.8 .2 2.8 .1 2.8-.1 2.8-.2 2.8-.3 2.8-.5 2.8-.5 2.9-.7 2.8-.9 2.8-.9 2.8-1.1 2.8-1.3M25 217.5l2.4 0 2.5-.2 2.4-.2 2.4-.3 2.5-.5 2.4-.5 2.4-.6 2.5-.7 2.4-.9 2.4-.9 2.5-1 2.4-1.1 2.4-1.2 2.5 .6 2.4 1.5 2.4 1.4 2.5 1.3 2.4 1.2 2.4 1.1 2.5 1 1.4 .3 1.4 .3 1.4 .3 1.4 .2 1.4 .1 1.4 .2 1.4 .1 1.4 .1 1.4 0 1.4 0 1.4 0 1.4 0 1.5-.1 1.4-.1 1.4-.2 1.4-.1 1.4-.2 1.4-.3 1.4-.3 1.4-.3 2.8-.7 2.8-.8 2.8-1 2.8-1.1 2.8-1.2 2.9 1.2 2.8 1.1 2.8 1 2.8 .8 2.8 .7 2.8 .6 2.8 .5 2.8 .3 2.8 .2 2.8 0 2.9 0 2.8-.2 2.8-.3 2.8-.5 2.8-.6M39.6 195.7l2.4 2.2 2.5 2.2 2.4 2.1 2.4 2 2.5 1.8 2.4 1.8 2.4 1.7 2.5 1.6 2.4 1.5 2.4 1.4 2.5 1.3 2.4 1.2 2.4 1.1 2.5 1 1.4-.3 1.4-.4 1.4-.4 1.4-.4 1.4-.5 1.4-.5 1.4-.5 1.4-.6 1.4-.6 1.4-.6 1.4-.7 1.4-.7 1.5 .9 1.4 .9 1.4 .8 1.4 .8 1.4 .7 1.4 .8 1.4 .7 1.4 .6 2.8-.7 2.8-.8 2.8-1 2.8-1.1 2.8-1.2 2.9-1.4 2.8-1.4 2.8-1.6 2.8-1.8 2.8-1.8 2.8-2 2.8-2.2 2.8-2.2 2.8-2.4 2.8-2.5M25 218.6l2.4 .9 2.5 .9 2.4 .7 2.4 .6 2.5 .5 2.4 .5 2.4 .3 2.5 .2 2.4 .2 2.4 0 2.5 0 2.4-.2 2.4-.2 2.5-.3 2.4-.5 2.4-.5 2.5-.6 2.4-.7 2.4-.9 2.5-.9 1.4 .3 1.4 .3 1.4 .2 1.4 .2 1.4 .2 1.4 .2 1.4 .1 1.4 .1 1.4 0 1.4 0 1.4 0 1.4 0 1.5-.1 1.4-.1 1.4-.2 1.4-.2 1.4-.2 1.4-.2 1.4-.3 1.4-.3 2.8 1.2 2.8 1.1 2.8 1 2.8 .8 2.8 .7 2.9 .6 2.8 .5 2.8 .3 2.8 .2 2.8 0 2.8 0 2.8-.2 2.8-.3 2.8-.5 2.8-.6 2.9-.7 2.8-.8 2.8-1 2.8-1.1 2.8-1.2M59.1 194.2l2.4 .7 2.4 .7 2.5 .6 2.4 .6 2.4 .5 2.5 .5 1.4-.1 1.4-.2 1.4-.2 1.4-.2 1.4-.2 1.4-.3 1.4-.2 1.4-.3 1.4-.3 1.4-.3 1.4-.3 1.4-.3 1.5 .4 1.4 .4 1.4 .4 1.4 .4 1.4 .3 1.4 .4 1.4 .3 1.4 .3 2.8-.3 2.8-.4 2.8-.5 2.8-.5 2.8-.6 2.9-.6 2.8-.8M25 197.8l2.4 0 2.5-.1 2.4-.1 2.4-.1 2.5-.3 2.4-.2 2.4-.3 2.5-.4 2.4-.4 2.4-.4 2.5-.5 2.4-.5 2.4-.6 2.5 .3 2.4 .7 2.4 .7 2.5 .6 2.4 .6 2.4 .5 2.5 .5 1.4 .2 1.4 .1 1.4 .1 1.4 .1 1.4 .1 1.4 .1 1.4 0 1.4 .1 1.4 0 1.4 0 1.4 0 1.4 0 1.5-.1 1.4 0 1.4-.1 1.4-.1 1.4-.1 1.4-.1 1.4-.1 1.4-.2 2.8-.3 2.8-.4 2.8-.5 2.8-.5 2.8-.6 2.9 .6 2.8 .5 2.8 .5 2.8 .4 2.8 .3 2.8 .3 2.8 .2 2.8 .2 2.8 .1 2.8 0 2.9 0 2.8-.1 2.8-.2 2.8-.2 2.8-.3M34.7 193.7l2.5 .2 2.4 .2 2.4 .2 2.5 .1 2.4 .1 2.4 0 2.5 0 2.4-.1 2.4-.1 2.5-.2 2.4-.2 2.4-.2M25 218.3l2.4-4.8 2.5-4.8 2.4-4.6 2.4-4.6 2.5-4.4M146.8 197.6l2.8 5 2.8 5.1 2.8 5.2 2.8 5.4" stroke="none" fill="none" marker-start="url(#mb050e008)" marker-mid="url(#mb050e008)" marker-end="url(#mb050e008)"/><path d="M100.4 302.4l1.4-1.1 2.8 1.2M27.4 302.5l2.5-2.5 2.4-2.5 2.4-2.3 2.5-2.2 2.4-2 2.4-1.9 2.5-1.7 2.4-1.6 2.4-1.5 2.5-1.3 2.4-1.2 2.4-1.1 2.5-.9 2.4-.8 2.4-.6 2.5-.5 2.4-.3 2.4-.2 2.5-.1 1.4-.9 1.4-.9 1.4-.8 1.4-.8 1.4-.7 1.4-.7 1.4-.6 1.4-.6 1.4-.5 1.4-.5 1.4-.4 1.4-.4 1.5-.4 1.4-.3 1.4-.2 1.4-.2 1.4-.2 1.4-.1 1.4-.1 1.4 0 2.8 .1 2.8 .3 2.8 .4 2.8 .7 2.8 .8 2.9 1 2.8 1.2 2.8 1.4 2.8 1.6 2.8 1.8 2.8 2 2.8 2.1 2.8 2.3 2.8 2.5 2.8 2.8 2.9 2.8 2.8 3.1 2.8 3.3 2.8 3.4M25 286.3l2.4 4.5 2.5 4.4 2.4 4.4M149.6 301l2.8-4.8 2.8-4.9 2.8-5M63.9 301.9M25 296.9l2.4 .6 2.5 .6 2.4 .7 2.4 .8 2.5 .8 2.4 .8 2.4 .9M143.9 301.5l2.9-1.1 2.8-1 2.8-.9 2.8-.8 2.8-.8M25 296.9l2.4 .6 2.5 .6 2.4 .7 2.4 .8 2.5 .8 2.4 .8 2.4 .9M135.5 302.2l2.8-.9 2.8-.9 2.8-.7 2.9-.7 2.8-.6 2.8-.6 2.8-.5 2.8-.4M25 296.9l2.4-.5 2.5-.5 2.4-.4 2.4-.3 2.5-.3 2.4-.3 2.4-.2 2.5-.1 2.4-.1 2.4 0 2.5 0 2.4 .1 2.4 .1 2.5 .2 2.4 .3 2.4 .3 2.5 .3 2.4 .4 2.4 .5 2.5 .5 1.4 .2 1.4 .2 1.4 .3 1.4 .2 1.4 .3 1.4 .3 1.4 .3 1.4 .3 1.4 .3 1.4 .4 1.4 .3 1.4 .4 1.5 .4 1.4 .5 1.4 .4 1.4 .5M107.4 302.2l2.8-.9 2.8-.9 2.8-.7 2.9-.7 2.8-.6 2.8-.6 2.8-.5 2.8-.4 2.8-.3 2.8-.2 2.8-.2 2.8-.1 2.8-.1 2.9 .1 2.8 .1 2.8 .2 2.8 .2 2.8 .3M25 198.4l2.4 2.2 2.5 2.1 2.4 1.9 2.4 1.8 2.5 1.8 2.4 1.6 2.4 1.5 2.5 1.3 2.4 1.3 2.4 1.2 2.5 1 2.4 1 2.4 .8 2.5 .7 2.4 .6 2.4 .5 2.5 .4 2.4 .3 2.4 .2 2.5 0 1.4-.7 1.4-.8 1.4-.9 1.4-.8 1.4-.9 1.4-1 1.4-1 1.4-1 1.4-1 1.4-1.1 1.4-1.1 1.4-1.2 1.5-1.2 1.4-1.2 1.4-1.3 1.4-1.3 1.4-1.4 1.4-1.4 1.4-1.4 1.4-1.5 2.8 1.5 2.8 1.2 2.8 1.1 2.8 1 2.8 .8 2.9 .7 2.8 .5 2.8 .3 2.8 .3 2.8 0 2.8 0 2.8-.3 2.8-.3 2.8-.5 2.8-.7 2.9-.8 2.8-1 2.8-1.1 2.8-1.2 2.8-1.5M25 198.4l2.4 0 2.5-.2 2.4-.3 2.4-.3 2.5-.5 2.4-.6 2.4-.8 2.5-.8 2.4-.9M94.8 194.3l1.4 .9 1.4 .9 1.4 .8 1.4 .8 1.4 .7 2.8-3M152.4 195.2l2.8 1.7 2.8 1.5M25 198.4l2.4 2.2 2.5 2.1 2.4 1.9 2.4 1.8 2.5 1.8 2.4 1.6 2.4 1.5 2.5 1.3 2.4 1.3 2.4 1.2 2.5 1 2.4 1 2.4 .8 2.5 .7 2.4 .6 2.4 .5 2.5 .4 2.4 .3 2.4 .2 2.5 0 1.4 .7 1.4 .7 1.4 .7 1.4 .6 1.4 .6 1.4 .5 1.4 .5 1.4 .5 1.4 .4 1.4 .4 1.4 .3 1.4 .3 1.5 .3 1.4 .3 1.4 .2 1.4 .1 1.4 .2 1.4 0 1.4 .1 1.4 0 2.8-.1 2.8-.2 2.8-.3 2.8-.6 2.8-.6 2.9-.8 2.8-1 2.8-1.1 2.8-1.3 2.8-1.4 2.8-1.5 2.8-1.7 2.8-1.9 2.8-2 2.8-2.1 2.9-2.3 2.8-2.4 2.8-2.6 2.8-2.8 2.8-2.9M25 196.8l2.4 2.2 2.5 2 2.4 2 2.4 1.8 2.5 1.7 2.4 1.6 2.4 1.5 2.5 1.4 2.4 1.3 2.4 1.2 2.5 1 2.4 1 2.4 .8 2.5 .7 2.4 .6 2.4 .5 2.5 .4 2.4 .3 2.4 .2 2.5 0 1.4-.8 1.4-.7 1.4-.9 1.4-.8 1.4-1 1.4-.9 1.4-1 1.4-1 1.4-1 1.4-1.1 1.4-1.2 1.4-1.1 1.5-1.2 1.4-1.3 1.4-1.2 1.4-1.4 1.4-1.3 1.4-1.4 1.4-1.4 1.4-1.5 2.8 1.4 2.8 1.3 2.8 1.1 2.8 1 2.8 .8 2.9 .6 2.8 .6 2.8 .3 2.8 .2 2.8 .1 2.8-.1 2.8-.2 2.8-.3 2.8-.6 2.8-.6 2.9-.8 2.8-1 2.8-1.1 2.8-1.3 2.8-1.4M25 197.6l2.4 2.2 2.5 2.1 2.4 1.9 2.4 1.8 2.5 1.7 2.4 1.6 2.4 1.5 2.5 1.4 2.4 1.3 2.4 1.2 2.5 1 2.4 1 2.4 .8 2.5 .7 2.4 .6 2.4 .5 2.5 .4 2.4 .3 2.4 .2 2.5 0 1.4-.7 1.4-.8 1.4-.9 1.4-.8 1.4-.9 1.4-1 1.4-1 1.4-1 1.4-1 1.4-1.1 1.4-1.2 1.4-1.1 1.5-1.2 1.4-1.3 1.4-1.2 1.4-1.3 1.4-1.4 1.4-1.4 1.4-1.4 1.4-1.5 2.8 1.4 2.8 1.3 2.8 1.1 2.8 1 2.8 .8 2.9 .6 2.8 .6 2.8 .3 2.8 .3 2.8 0 2.8 0 2.8-.3 2.8-.3 2.8-.6 2.8-.6 2.9-.8 2.8-1 2.8-1.1 2.8-1.3 2.8-1.4M25 197.6l2.4 0 2.5-.2 2.4-.3 2.4-.3 2.5-.5 2.4-.7 2.4-.7 2.5-.8M94.8 193.5l1.4 .9 1.4 .9 1.4 .8 1.4 .8 1.4 .7 2.8-3M152.4 194.4l2.8 1.7 2.8 1.5M25 197.6l2.4-2.2M152.4 194.4l2.8 1.7 2.8 1.5M25 196l2.4 0 2.5-.2 2.4-.3 2.4-.4 2.5-.5 2.4-.6M97.6 193.6l1.4 .9 1.4 .8 1.4 .7M155.2 194.5l2.8 1.5M25 196l2.4 0 2.5-.2 2.4-.3 2.4-.4 2.5-.5 2.4-.6M97.6 193.6l1.4 .9 1.4 .8 1.4 .7 2.8 1.4 2.8 1.3 2.8 1.1 2.8 .9 2.8 .9 2.9 .6 2.8 .5 2.8 .4 2.8 .2 2.8 .1 2.8-.1 2.8-.2 2.8-.4 2.8-.5 2.8-.6 2.9-.8 2.8-1 2.8-1.1 2.8-1.3 2.8-1.4M25 220.2l2.4-1 2.5-1.1 2.4-1.2 2.4-1.3 2.5-1.4 2.4-1.5 2.4-1.6 2.5-1.7 2.4-1.7 2.4-1.9 2.5-2 2.4-2.1 2.4-2.1 2.5-2.3 2.4-2.4M66.4 194.7l2.4 2.2 2.4 2.1 2.5 2 1.4 .6 1.4 .6 1.4 .5 1.4 .6 1.4 .5 1.4 .4 1.4 .5 1.4 .4 1.4 .3 1.4 .4 1.4 .3 1.4 .3 1.5 .2 1.4 .2 1.4 .2 1.4 .1 1.4 .1 1.4 .1 1.4 .1 1.4 0 2.8-2 2.8-2.1 2.8-2.3 2.8-2.4 2.8-2.5 2.9-2.6M124.3 195.6l2.8 2.7 2.8 2.7 2.8 2.5 2.8 2.3 2.8 2.3 2.8 2.1 2.8 2 2.9 1.9 2.8 1.7 2.8 1.6 2.8 1.5 2.8 1.3M25 220.2l2.4 1 2.5 .8 2.4 .7 2.4 .6 2.5 .6 2.4 .4 2.4 .3 2.5 .3 2.4 .1 2.4 .1 2.5-.1 2.4-.1 2.4-.3 2.5-.3 2.4-.4 2.4-.6 2.5-.6 2.4-.7 2.4-.8 2.5-1 1.4-.3 1.4-.4 1.4-.4 1.4-.4 1.4-.5 1.4-.5 1.4-.5 1.4-.6 1.4-.6 1.4-.6 1.4-.6 1.4-.7 1.5-.8 1.4-.7 1.4-.8 1.4-.8 1.4-.9 1.4-.9 1.4-.9 1.4-.9 2.8 1.8 2.8 1.8 2.8 1.6 2.8 1.5 2.8 1.3 2.9 1.2 2.8 1.1 2.8 1 2.8 .8 2.8 .7 2.8 .6 2.8 .5 2.8 .3 2.8 .2 2.8 0 2.9 0 2.8-.2 2.8-.3 2.8-.5 2.8-.6M25 220.2l2.4 0 2.5-.2 2.4-.2 2.4-.3 2.5-.5 2.4-.5 2.4-.6 2.5-.7 2.4-.9 2.4-.9 2.5-1 2.4-1.1 2.4-1.2 2.5-1.3 2.4-1.4 2.4-1.5 2.5-1.6 2.4-1.7 2.4-1.8 2.5-1.8 1.4-.7 1.4-.7 1.4-.7 1.4-.8 1.4-.8 1.4-.8 1.4-.8 1.4-.9 1.4-.9M113 193.5l2.8 2.6 2.9 2.5 2.8 2.4 2.8 2.3 2.8 2.1 2.8 2 2.8 1.8 2.8 1.8 2.8 1.6 2.8 1.5 2.8 1.3 2.9 1.2 2.8 1.1 2.8 1 2.8 .8 2.8 .7M39.6 194.6l2.4 2.3 2.5 2.1 2.4 2.1 2.4 2 2.5 1.9 2.4 1.7 2.4 1.7 2.5 1.6 2.4 1.5 2.4 1.4 2.5 1.3 2.4 1.2 2.4 1.1 2.5 1 1.4-.3 1.4-.4 1.4-.4 1.4-.4 1.4-.5 1.4-.5 1.4-.5 1.4-.6 1.4-.6 1.4-.6 1.4-.6 1.4-.7 1.5 .9 1.4 .8 1.4 .8 1.4 .8 1.4 .8 1.4 .7 1.4 .7 1.4 .6 2.8-.7 2.8-.8 2.8-1 2.8-1.1 2.8-1.2 2.9-1.3 2.8-1.5 2.8-1.6 2.8-1.8 2.8-1.8 2.8-2 2.8-2.1 2.8-2.3 2.8-2.4M25 217.5l2.4 1 2.5 .8 2.4 .7 2.4 .6 2.5 .6 2.4 .4 2.4 .3 2.5 .3 2.4 .1 2.4 .1 2.5-.1 2.4-.1 2.4-.3 2.5-.3 2.4-.4 2.4-.6 2.5-.6 2.4-.7 2.4-.8 2.5-1 1.4 .3 1.4 .3 1.4 .3 1.4 .2 1.4 .1 1.4 .2 1.4 .1 1.4 .1 1.4 0 1.4 0 1.4 0 1.4 0 1.5-.1 1.4-.1 1.4-.2 1.4-.1 1.4-.2 1.4-.3 1.4-.3 1.4-.3 2.8 1.3 2.8 1.1 2.8 .9 2.8 .9 2.8 .7 2.9 .5 2.8 .5 2.8 .3 2.8 .2 2.8 .1 2.8-.1 2.8-.2 2.8-.3 2.8-.5 2.8-.5 2.9-.7 2.8-.9 2.8-.9 2.8-1.1 2.8-1.3M25 218.6l2.4 0 2.5-.2 2.4-.2 2.4-.4 2.5-.4 2.4-.5 2.4-.6 2.5-.8 2.4-.8 2.4-.9 2.5-1 2.4-1.1 2.4-1.2 2.5-1.3 2.4-1.4 2.4-1.5 2.5-1.6 2.4-1.7 2.4-1.8 2.5-1.9 1.4-.6 1.4-.7 1.4-.7 1.4-.8 1.4-.8 1.4-.8 1.4-.9M115.8 194.5l2.9 2.5 2.8 2.4 2.8 2.2 2.8 2.2 2.8 2 2.8 1.8 2.8 1.8 2.8 1.6 2.8 1.4 2.8 1.4 2.9 1.2 2.8 1.1 2.8 1 2.8 .8 2.8 .7M42 195.2l2.5 2.2 2.4 2.1 2.4 2 2.5 1.8 2.4 1.8 2.4 1.7 2.5 1.6 2.4 1.5 2.4 1.4 2.5 1.3 2.4 1.2 2.4 1.1 2.5 1 1.4-.3 1.4-.4 1.4-.4 1.4-.4 1.4-.5 1.4-.5 1.4-.5 1.4-.6 1.4-.6 1.4-.6 1.4-.7 1.4-.6 1.5 .8 1.4 .9 1.4 .8 1.4 .8 1.4 .7 1.4 .8 1.4 .7 1.4 .6 2.8-.7 2.8-.8 2.8-1 2.8-1.1 2.8-1.2 2.9-1.3 2.8-1.5 2.8-1.6 2.8-1.8 2.8-1.8 2.8-2 2.8-2.1 2.8-2.3 2.8-2.4M25 215.9l2.4-1 2.5-1.1 2.4-1.2 2.4-1.3 2.5-1.4 2.4-1.5 2.4-1.6 2.5-1.7 2.4-1.8 2.4-1.8 2.5-2 2.4-2.1 2.4-2.2M71.2 194.7l2.5 1.9 1.4 .7 1.4 .6 1.4 .5 1.4 .6 1.4 .4 1.4 .5 1.4 .4 1.4 .5 1.4 .3 1.4 .4 1.4 .3 1.4 .2 1.5 .3 1.4 .2 1.4 .2 1.4 .1 1.4 .1 1.4 .1 1.4 0 1.4 .1 2.8-2 2.8-2.1 2.8-2.3 2.8-2.4M127.1 194l2.8 2.6 2.8 2.5 2.8 2.4 2.8 2.3 2.8 2.1 2.8 2 2.9 1.8 2.8 1.8 2.8 1.6 2.8 1.5 2.8 1.3M25 215.9l2.4 .9 2.5 .9 2.4 .7 2.4 .6 2.5 .5 2.4 .5 2.4 .3 2.5 .3 2.4 .1 2.4 0 2.5 0 2.4-.1 2.4-.3 2.5-.3 2.4-.5 2.4-.5 2.5-.6 2.4-.7 2.4-.9 2.5-.9 1.4-.3 1.4-.4 1.4-.4 1.4-.4 1.4-.5 1.4-.5 1.4-.5 1.4-.6 1.4-.6 1.4-.6 1.4-.7 1.4-.7 1.5-.7 1.4-.7 1.4-.8 1.4-.8 1.4-.9 1.4-.9 1.4-.9 1.4-.9 2.8 1.8 2.8 1.8 2.8 1.6 2.8 1.4 2.8 1.4 2.9 1.2 2.8 1.1 2.8 1 2.8 .8 2.8 .7 2.8 .6 2.8 .5 2.8 .3 2.8 .2 2.8 0 2.9 0 2.8-.2 2.8-.3 2.8-.5 2.8-.6M25 197.8l2.4 .5 2.5 .4 2.4 .3 2.4 .3 2.5 .3 2.4 .2 2.4 .1 2.5 .1 2.4 .1 2.4 0 2.5 0 2.4-.1 2.4-.1 2.5-.1 2.4-.2 2.4-.3 2.5-.3 2.4-.3 2.4-.4 2.5-.5 1.4-.1 1.4-.2 1.4-.2 1.4-.2 1.4-.2 1.4-.3 1.4-.2 1.4-.3 1.4-.3 1.4-.3 1.4-.3 1.4-.3 1.5-.4 1.4-.4 1.4-.3M110.2 194.1l2.8 .8 2.8 .6 2.9 .6 2.8 .5 2.8 .5 2.8 .4 2.8 .3 2.8 .3 2.8 .2 2.8 .2 2.8 .1 2.8 0 2.9 0 2.8-.1 2.8-.2 2.8-.2 2.8-.3M34.7 193.7l2.5 .2 2.4 .2 2.4 .2 2.5 .1 2.4 .1 2.4 0 2.5 0 2.4-.1 2.4-.1 2.5-.2 2.4-.2 2.4-.2M110.2 193.8l2.8 .4 2.8 .3 2.9 .3 2.8 .2 2.8 .2 2.8 .1 2.8 0 2.8 0 2.8-.1 2.8-.2 2.8-.2 2.8-.3 2.9-.3 2.8-.4M25 193.5l2.4 .4 2.5 .3 2.4 .4 2.4 .4 2.5 .4 2.4 .5 2.4 .5 2.5 .6 2.4 .5 2.4 .6 2.5 .6 2.4 .7 2.4 .7 2.5 .7 2.4 .7 2.4 .8 2.5 .8 2.4 .9 2.4 .8 2.5 .9 1.4-.5 1.4-.5 1.4-.5 1.4-.4 1.4-.5 1.4-.4 1.4-.5 1.4-.4 1.4-.4 1.4-.4 1.4-.4 1.4-.4 1.5-.4 1.4-.4 1.4-.3 1.4-.4 1.4-.3 1.4-.4 1.4-.3 1.4-.3 2.8 0 2.8 .1 2.8 .1 2.8 .1 2.8 .2 2.9 .2 2.8 .3 2.8 .3 2.8-.7 2.8-.6 2.8-.6 2.8-.5 2.8-.5 2.8-.5 2.8-.4 2.9-.4 2.8-.4 2.8-.3 2.8-.2 2.8-.3" stroke="none" fill="none" marker-start="url(#m8a3cf008)" marker-mid="url(#m8a3cf008)" marker-end="url(#m8a3cf008)"/><path d="M25 265.8l2.4 .1 2.5 .1 2.4 .2 2.4 .3 2.5 .4 2.4 .4 2.4 .6 2.5 .6 2.4 .7 2.4 .8 2.5 .9 2.4 1 2.4 1 2.5 1.2 2.4 1.2 2.4 1.3 2.5 1.4 2.4 1.5 2.4 1.5 2.5 1.7 1.4 0 1.4 .1 1.4 0 1.4 .1 1.4 .1 1.4 .2 1.4 .2 1.4 .2 1.4 .2 1.4 .3 1.4 .3 1.4 .3 1.5 .4 1.4 .4 1.4 .4 1.4 .4 1.4 .5 1.4 .5 1.4 .5 1.4 .5 2.8-2.2 2.8-2.1 2.8-1.9 2.8-1.9 2.8-1.7 2.9-1.7 2.8-1.5 2.8-1.4 2.8-1.3 2.8-1.2 2.8-1 2.8-1 2.8-.8 2.8-.8 2.8-.6 2.9-.5 2.8-.4 2.8-.3 2.8-.1 2.8-.1M86.3 302.4l1.4-1.4 1.4-1.4 1.4-1.4 1.5-1.3 1.4-1.3 1.4-1.3 1.4-1.3 1.4-1.2 1.4-1.2 1.4-1.1 1.4-1.2 2.8 1.2 2.8 1.3 2.8 1.4 2.8 1.5 2.8 1.7 2.9 1.7 2.8 1.9 2.8 1.9M110.2 301.6l2.8-1.2 2.8-1 2.9-.9 2.8-.6 2.8-.5 2.8-.3 2.8-.1 2.8 .1 2.8 .3 2.8 .5 2.8 .6 2.8 .9 2.9 1 2.8 1.2M42 301.3l2.5-1.8 2.4-1.6 2.4-1.5 2.5-1.3 2.4-1.2 2.4-1 2.5-.9 2.4-.8 2.4-.6 2.5-.5 2.4-.4 2.4-.2 2.5 0 1.4 .9 1.4 1 1.4 1.1 1.4 1.1 1.4 1.1 1.4 1.2 1.4 1.2 1.4 1.3 1.4 1.3 1.4 1.4 1.4 1.4M25 288l2.4 4.5 2.5 4.5 2.4 4.3M152.4 297.9l2.8-4.9 2.8-5M25 296.9l2.4-.5 2.5-.5 2.4-.4 2.4-.3 2.5-.3 2.4-.3 2.4-.2 2.5-.1 2.4-.1 2.4 0 2.5 0 2.4 .1 2.4 .1 2.5 .2 2.4 .3 2.4 .3 2.5 .3 2.4 .4 2.4 .5 2.5 .5 1.4-.1 1.4-.2 1.4-.1 1.4-.1 1.4-.1 1.4-.1 1.4-.1 1.4 0 1.4-.1 1.4 0 1.4 0 1.4 .1 1.5 0 1.4 .1 1.4 .1 1.4 .1 1.4 .1 1.4 .1 1.4 .2 1.4 .1 2.8-.7 2.8-.6 2.8-.5 2.8-.5 2.8-.4 2.9-.3 2.8-.3 2.8-.2 2.8-.1 2.8 0 2.8 0 2.8 .1 2.8 .2 2.8 .3 2.8 .3 2.9 .4 2.8 .5 2.8 .5 2.8 .6 2.8 .7M25 291.7l2.4 .1 2.5 0 2.4 .2 2.4 .2 2.5 .2 2.4 .3 2.4 .4 2.5 .4 2.4 .4 2.4 .6 2.5 .5 2.4 .7 2.4 .7 2.5-.4 2.4-.8 2.4-.8 2.5-.8 2.4-.7 2.4-.6 2.5-.6 1.4-.1 1.4-.2 1.4-.1 1.4-.1 1.4-.1 1.4-.1 1.4-.1 1.4 0 1.4-.1 1.4 0 1.4 0 1.4 .1 1.5 0 1.4 .1 1.4 .1 1.4 .1 1.4 .1 1.4 .1 1.4 .2 1.4 .1 2.8 .4 2.8 .5 2.8 .6 2.8 .6 2.8 .7 2.9-.7 2.8-.6 2.8-.6 2.8-.5 2.8-.4 2.8-.3 2.8-.2 2.8-.2 2.8-.1 2.8-.1 2.9 .1 2.8 .1 2.8 .2 2.8 .2 2.8 .3M25 291.7l2.4 .1 2.5 0 2.4 .2 2.4 .2 2.5 .2 2.4 .3 2.4 .4 2.5 .4 2.4 .4 2.4 .6 2.5 .5 2.4 .7 2.4 .7 2.5 .7 2.4 .8 2.4 .8 2.5 .9 2.4 1 2.4 1M124.3 301.4l2.8-1.2 2.8-1.2 2.8-1 2.8-1 2.8-.9 2.8-.9 2.8-.7 2.9-.7 2.8-.6 2.8-.6 2.8-.5 2.8-.4M25 291.7l2.4-.5 2.5-.4 2.4-.5 2.4-.3 2.5-.3 2.4-.3 2.4-.2 2.5-.1 2.4-.1 2.4 0 2.5 0 2.4 .1 2.4 .1 2.5 .2 2.4 .3 2.4 .3 2.5 .3 2.4 .5 2.4 .4 2.5 .5 1.4-.1 1.4-.2 1.4-.1 1.4-.1 1.4-.1 1.4-.1 1.4-.1 1.4 0 1.4-.1 1.4 0 1.4 0 1.4 .1 1.5 0 1.4 .1 1.4 .1 1.4 .1 1.4 .1 1.4 .1 1.4 .2 1.4 .1 2.8-.7 2.8-.6 2.8-.5 2.8-.5 2.8-.4 2.9-.3 2.8-.3 2.8-.2 2.8-.1 2.8 0 2.8 0 2.8 .1 2.8 .2 2.8 .3 2.8 .3 2.9 .4 2.8 .5 2.8 .5 2.8 .6 2.8 .7M25 198.4l2.4-2.2 2.5-2.4M155.2 195.4l2.8 3M25 198.4l2.4-2.2 2.5-2.4M152.4 195.2l2.8 1.7 2.8 1.5M25 197.6l2.4-2.2M155.2 194.6l2.8 3M25 197.6l2.4 0 2.5-.2 2.4-.3 2.4-.3 2.5-.5 2.4-.7 2.4-.7 2.5-.8M94.8 193.5l1.4 .9 1.4 .9 1.4 .8 1.4 .8 1.4 .7 2.8 1.4 2.8 1.3 2.8 1.1 2.8 1 2.8 .8 2.9 .6 2.8 .6 2.8 .3 2.8 .3 2.8 0 2.8 0 2.8-.3 2.8-.3 2.8-.6 2.8-.6 2.9-.8 2.8-1 2.8-1.1 2.8-1.3 2.8-1.4M25 197.6l2.4 2.2 2.5 2.1 2.4 1.9 2.4 1.8 2.5 1.7 2.4 1.6 2.4 1.5 2.5 1.4 2.4 1.3 2.4 1.2 2.5 1 2.4 1 2.4 .8 2.5 .7 2.4 .6 2.4 .5 2.5 .4 2.4 .3 2.4 .2 2.5 0 1.4 .7 1.4 .7 1.4 .7 1.4 .6 1.4 .6 1.4 .5 1.4 .5 1.4 .4 1.4 .5 1.4 .4 1.4 .3 1.4 .3 1.5 .3 1.4 .2 1.4 .2 1.4 .2 1.4 .1 1.4 .1 1.4 .1 1.4 0 2.8-.1 2.8-.2 2.8-.4 2.8-.5 2.8-.6 2.9-.9 2.8-.9 2.8-1.1 2.8-1.3 2.8-1.4 2.8-1.5 2.8-1.7 2.8-1.9 2.8-2 2.8-2.1 2.9-2.3 2.8-2.5 2.8-2.5 2.8-2.8 2.8-2.9M25 196l2.4-2.3M158 196M25 196l2.4-2.3M155.2 194.5l2.8 1.5M25 220.2l2.4 0 2.5-.2 2.4-.2 2.4-.3 2.5-.5 2.4-.5 2.4-.6 2.5-.7 2.4-.9 2.4-.9 2.5-1 2.4-1.1 2.4-1.2 2.5 .6 2.4 1.5 2.4 1.4 2.5 1.3 2.4 1.2 2.4 1.1 2.5 1 1.4 .3 1.4 .3 1.4 .3 1.4 .2 1.4 .1 1.4 .2 1.4 .1 1.4 .1 1.4 0 1.4 0 1.4 0 1.4 0 1.5-.1 1.4-.1 1.4-.2 1.4-.1 1.4-.2 1.4-.3 1.4-.3 1.4-.3 2.8-.7 2.8-.8 2.8-1 2.8-1.1 2.8-1.2 2.9 1.2 2.8 1.1 2.8 1 2.8 .8 2.8 .7 2.8 .6 2.8 .5 2.8 .3 2.8 .2 2.8 0 2.9 0 2.8-.2 2.8-.3 2.8-.5 2.8-.6M25 220.2l2.4-1 2.5-1.1 2.4-1.2 2.4-1.3 2.5-1.4 2.4-1.5 2.4-1.6 2.5-1.7 2.4-1.7 2.4-1.9 2.5-2 2.4-2.1 2.4-2.1 2.5-2.3 2.4-2.4M84.9 193.5l1.4 1.3 1.4 1.3 1.4 1.3 1.4 1.2 1.5 1.2 1.4 1.2 1.4 1.2 1.4 1.1 1.4 1 1.4 1.1 1.4 1 1.4 1 2.8-.1 2.8-.2 2.8-.3 2.8-.4 2.8-.6 2.9-.7 2.8-.9 2.8-.9 2.8 2.1 2.8 2 2.8 1.8 2.8 1.8 2.8 1.6 2.8 1.5 2.8 1.3 2.9 1.2 2.8 1.1 2.8 1 2.8 .8 2.8 .7M25 217.5l2.4-1 2.5-1.1 2.4-1.2 2.4-1.3 2.5-1.4 2.4-1.5 2.4-1.6 2.5-1.7 2.4-1.7 2.4-1.9 2.5-2 2.4-2.1 2.4-2.1 2.5-2.3M89.1 194.7l1.4 1.2 1.5 1.2 1.4 1.2 1.4 1.2 1.4 1.1 1.4 1 1.4 1.1 1.4 1 1.4 1 2.8-.1 2.8-.2 2.8-.3 2.8-.4 2.8-.6 2.9-.7 2.8-.9 2.8-.9 2.8 2.1 2.8 2 2.8 1.8 2.8 1.8 2.8 1.6 2.8 1.5 2.8 1.3 2.9 1.2 2.8 1.1 2.8 1 2.8 .8 2.8 .7M25 218.6l2.4-1 2.5-1.1 2.4-1.2 2.4-1.3 2.5-1.4 2.4-1.5 2.4-1.6 2.5-1.7 2.4-1.8 2.4-1.8 2.5-2 2.4-2.1 2.4-2.2 2.5-2.2M87.7 194.5l1.4 1.3 1.4 1.2 1.5 1.2 1.4 1.2 1.4 1.1 1.4 1.1 1.4 1.1 1.4 1.1 1.4 1 1.4 1 2.8-.1 2.8-.2 2.8-.3 2.8-.5 2.8-.5 2.9-.7 2.8-.9 2.8-.9 2.8 2.1 2.8 2 2.8 1.8 2.8 1.8 2.8 1.6 2.8 1.4 2.8 1.4 2.9 1.2 2.8 1.1 2.8 1 2.8 .8 2.8 .7M25 218.6l2.4 .9 2.5 .9 2.4 .7 2.4 .6 2.5 .5 2.4 .5 2.4 .3 2.5 .2 2.4 .2 2.4 0 2.5 0 2.4-.2 2.4-.2 2.5-.3 2.4-.5 2.4-.5 2.5-.6 2.4-.7 2.4-.9 2.5-.9 1.4-.3 1.4-.4 1.4-.4 1.4-.4 1.4-.5 1.4-.5 1.4-.5 1.4-.6 1.4-.6 1.4-.6 1.4-.7 1.4-.7 1.5-.7 1.4-.7 1.4-.8 1.4-.8 1.4-.9 1.4-.9 1.4-.9 1.4-.9 2.8 1.8 2.8 1.8 2.8 1.6 2.8 1.4 2.8 1.4 2.9 1.2 2.8 1.1 2.8 1 2.8 .8 2.8 .7 2.8 .6 2.8 .4 2.8 .4 2.8 .2 2.8 0 2.9 0 2.8-.2 2.8-.4 2.8-.4 2.8-.6M25 215.9l2.4 0 2.5-.2 2.4-.2 2.4-.3 2.5-.5 2.4-.5 2.4-.6 2.5-.8 2.4-.8 2.4-.9 2.5-1 2.4-1.1 2.4-1.2 2.5 .6 2.4 1.5 2.4 1.4 2.5 1.3 2.4 1.2 2.4 1.1 2.5 1 1.4 .3 1.4 .3 1.4 .2 1.4 .3 1.4 .1 1.4 .2 1.4 .1 1.4 .1 1.4 0 1.4 0 1.4 0 1.4 0 1.5-.1 1.4-.1 1.4-.2 1.4-.1 1.4-.3 1.4-.2 1.4-.3 1.4-.3 2.8-.7 2.8-.8 2.8-1 2.8-1.1 2.8-1.2 2.9 1.2 2.8 1.1 2.8 1 2.8 .8 2.8 .7 2.8 .6 2.8 .5 2.8 .3 2.8 .2 2.8 0 2.9 0 2.8-.2 2.8-.3 2.8-.5 2.8-.6M25 215.9l2.4 0 2.5-.2 2.4-.2 2.4-.4 2.5-.4 2.4-.5 2.4-.6 2.5-.8 2.4-.8 2.4-.9 2.5-1 2.4-1.1 2.4-1.2 2.5-1.3 2.4-1.4 2.4-1.5 2.5-1.6 2.4-1.7 2.4-1.8 2.5-1.9 1.4-.6 1.4-.7 1.4-.7 1.4-.8M118.7 194.3l2.8 2.4 2.8 2.3 2.8 2.1 2.8 2 2.8 1.8 2.8 1.8 2.8 1.6 2.8 1.4 2.8 1.4 2.9 1.2 2.8 1.1 2.8 1 2.8 .8 2.8 .7M25 197.8l2.4-.5 2.5-.5 2.4-.6 2.4-.6 2.5-.7 2.4-.7M138.3 194.1l2.8 .8 2.8 .6 2.9 .6 2.8 .5 2.8 .5 2.8 .4 2.8 .3M25 205.7l2.4-.9 2.5-.8 2.4-.9 2.4-.8 2.5-.8 2.4-.7 2.4-.7 2.5-.7 2.4-.7 2.4-.6 2.5-.6 2.4-.5 2.4-.6 2.5-.5 2.4-.5 2.4-.4 2.5-.4 2.4-.4 2.4-.3 2.5-.4 1.4 .1 1.4 .2 1.4 .1 1.4 .1 1.4 .2 1.4 .1 1.4 .2 1.4 .2 1.4 .2 1.4 .2 1.4 .2 1.4 .2 1.5-.3 1.4-.3 1.4-.2 1.4-.3 1.4-.2 1.4-.2 1.4-.3 1.4-.2 2.8 .3 2.8 .2 2.8 .3 2.8 .4 2.8 .4 2.9 .4 2.8 .5 2.8 .5 2.8 .5 2.8 .6 2.8 .6 2.8 .7 2.8 .7 2.8 .8 2.8 .8 2.9 .8 2.8 .9 2.8 .9 2.8 .9 2.8 1M25 193.5l2.4 .1 2.5 0 2.4 .1 2.4 .1 2.5 .1 2.4 .2 2.4 .2 2.5 .2 2.4 .3 2.4 .3 2.5 .3 2.4 .3 2.4 .4 2.5 .4 2.4 .5 2.4 .4 2.5 .5 2.4 .6 2.4 .5 2.5 .6 1.4 .2 1.4 .3 1.4 .2 1.4 .2 1.4 .3 1.4 .2 1.4 .3 1.4 .3 1.4 .3 1.4 .3 1.4 .3 1.4 .3 1.5 .3 1.4 .4 1.4 .3 1.4 .4 1.4 .4 1.4 .3 1.4 .4 1.4 .4 2.8-1 2.8-.9 2.8-.9 2.8-.9 2.8-.8 2.9-.8 2.8-.8 2.8-.7 2.8-.7 2.8-.6 2.8-.6 2.8-.5 2.8-.5 2.8-.5 2.8-.4 2.9-.4 2.8-.4 2.8-.3 2.8-.2 2.8-.3M25 197.8l2.4-.9 2.5-.9 2.4-.8 2.4-.8 2.5-.8M146.8 194.1l2.8 .8 2.8 1 2.8 .9 2.8 1M25 213.9l2.4-4.8 2.5-4.7 2.4-4.7 2.4-4.5M149.6 198.2l2.8 5.1 2.8 5.3 2.8 5.3" stroke="none" fill="none" marker-start="url(#me070d008)" marker-mid="url(#me070d008)" marker-end="url(#me070d008)"/></g>
<rect x="24.5" y="194.5" width="134.0" height="108.0" fill="none" stroke="#858585" stroke-width="1"/>
<line x1="25" y1="194" x2="27" y2="194" stroke="#858585" stroke-width="0.8"/>
<text x="22.5" y="197.3" font-size="9.5" text-anchor="end" >2</text>
<line x1="25" y1="221" x2="27" y2="221" stroke="#858585" stroke-width="0.8"/>
<text x="22.5" y="224.3" font-size="9.5" text-anchor="end" >1</text>
<line x1="25" y1="248" x2="27" y2="248" stroke="#858585" stroke-width="0.8"/>
<text x="22.5" y="251.3" font-size="9.5" text-anchor="end" >0</text>
<line x1="25" y1="275" x2="27" y2="275" stroke="#858585" stroke-width="0.8"/>
<text x="22.5" y="278.3" font-size="9.5" text-anchor="end" >-1</text>
<line x1="25" y1="302" x2="27" y2="302" stroke="#858585" stroke-width="0.8"/>
<text x="22.5" y="305.3" font-size="9.5" text-anchor="end" >-2</text>
<line x1="25" y1="302" x2="25" y2="300" stroke="#858585" stroke-width="0.8"/>
<text x="25" y="312" font-size="9.5" text-anchor="middle" >Γs</text>
<line x1="73.678" y1="302" x2="73.678" y2="300" stroke="#858585" stroke-width="0.8"/>
<text x="73.678" y="312" font-size="9.5" text-anchor="middle" >Ms</text>
<line x1="101.7942" y1="302" x2="101.7942" y2="300" stroke="#858585" stroke-width="0.8"/>
<text x="101.7942" y="312" font-size="9.5" text-anchor="middle" >Ks</text>
<line x1="158" y1="302" x2="158" y2="300" stroke="#858585" stroke-width="0.8"/>
<text x="158" y="312" font-size="9.5" text-anchor="middle" >Γs</text>
<text x="27" y="173.3" font-size="11.5" text-anchor="start" >(b)</text>
<text x="188.2" y="174" font-size="10" text-anchor="middle" >WS<tspan font-size="0.65em" baseline-shift="-2.2">2</tspan> bilayer: <tspan font-style="italic">θ</tspan><tspan font-size="0.65em" baseline-shift="-2.2">t</tspan> = 38.2°</text>
<text x="104" y="189.5" font-size="10" text-anchor="middle" >E<tspan font-size="0.65em" baseline-shift="-2.2">Field</tspan> = 0 eV/Å</text>
<text transform="translate(13,246.5) rotate(-90)" font-size="10.3" text-anchor="middle">Energy (eV)</text>
<circle cx="104.3" cy="237.4" r="3.2" fill="#1a1aee"/><circle cx="104.3" cy="250" r="3.2" fill="#ee55bb"/>
<text x="114.5" y="238.3" font-size="8.6" text-anchor="start" >Layer 1</text>
<text x="114.5" y="252.7" font-size="8.6" text-anchor="start" >Layer 2</text>
<line x1="25" y1="266" x2="95.9" y2="229.8" stroke="#222" stroke-width="0.7" stroke-dasharray="1,1"/>
<path d="M99.5 228.0L96.8 231.4L95.1 228.2Z" fill="#222"/>
<clipPath id="cb2"><rect x="192" y="194" width="135" height="109"/></clipPath>
<defs><marker id="m4637f0085" markerUnits="userSpaceOnUse" markerWidth="4" markerHeight="4" refX="2" refY="2" overflow="visible"><circle cx="2" cy="2" r="0.85" fill="#4637f0"/></marker></defs>
<defs><marker id="m703ee6085" markerUnits="userSpaceOnUse" markerWidth="4" markerHeight="4" refX="2" refY="2" overflow="visible"><circle cx="2" cy="2" r="0.85" fill="#703ee6"/></marker></defs>
<defs><marker id="mc64ed2085" markerUnits="userSpaceOnUse" markerWidth="4" markerHeight="4" refX="2" refY="2" overflow="visible"><circle cx="2" cy="2" r="0.85" fill="#c64ed2"/></marker></defs>
<defs><marker id="mf055c8085" markerUnits="userSpaceOnUse" markerWidth="4" markerHeight="4" refX="2" refY="2" overflow="visible"><circle cx="2" cy="2" r="0.85" fill="#f055c8"/></marker></defs>
<g clip-path="url(#cb2)"><path d="M202.7 300.8l2.5-2.2 2.4-2 2.4-1.8 2.5-1.8 2.4-1.6 2.4-1.4 2.5-1.3 2.4-1.2 2.4-1.1 2.5-.9 2.4-.7 2.4-.6 2.5-.5 2.4-.4 2.4-.2 2.5-.1 1.4 1 1.4 1 1.4 1 1.4 1.1 1.4 1.1 1.4 1.2 1.4 1.2 1.4 1.3 1.4 1.3 1.4 1.4 1.4 1.4 1.4 1.5 1.5 1.5 1.4 1.5 1.4 1.6M289.5 302.3l2.8-.4 2.8-.3 2.8-.1 2.8 .1 2.8 .3 2.8 .4M289.5 302.3l2.8-.4 2.8-.3 2.8-.1 2.8 .1 2.8 .3 2.8 .4M202.7 300.8l2.5-2.2 2.4-2 2.4-1.8 2.5-1.8 2.4-1.6 2.4-1.4 2.5-1.3 2.4-1.2 2.4-1.1 2.5-.9 2.4-.7 2.4-.6 2.5-.5 2.4-.4 2.4-.2 2.5-.1 1.4-.9 1.4-.8 1.4-.8 1.4-.8 1.4-.7 1.4-.7 1.4-.6 1.4-.6 1.4-.5 1.4-.5 1.4-.4 1.4-.4 1.5-.4 1.4-.3 1.4-.2 1.4-.2 1.4-.2 1.4-.1 1.4-.1 1.4 0 2.8 .1 2.8 .3 2.8 .4 2.8 .7 2.8 .8 2.9 1 2.8 1.2 2.8 1.4 2.8 1.6 2.8 1.7 2.8 2 2.8 2.1 2.8 2.3 2.8 2.5 2.8 2.7 2.9 2.9 2.8 3M217.3 302l2.5-1.3 2.4-1.2 2.4-1 2.5-.9 2.4-.8 2.4-.6 2.5-.5 2.4-.3 2.4-.2 2.5-.1 1.4 .9 1.4 1 1.4 1.1 1.4 1 1.4 1.2 1.4 1.2M217.3 302l2.5-1.3 2.4-1.2 2.4-1 2.5-.9 2.4-.8 2.4-.6 2.5-.5 2.4-.3 2.4-.2 2.5-.1 1.4-.9 1.4-.9 1.4-.8 1.4-.7 1.4-.8 1.4-.6 1.4-.6 1.4-.6 1.4-.6 1.4-.4 1.4-.5 1.4-.4 1.5-.3 1.4-.3 1.4-.3 1.4-.2 1.4-.1 1.4-.2 1.4 0 1.4-.1 2.8 .1 2.8 .3 2.8 .5 2.8 .6 2.8 .9 2.9 1 2.8 1.2 2.8 1.4 2.8 1.5 2.8 1.8 2.8 1.9 2.8 2.1 2.8 2.4M193 292.3l2.4 4.5 2.5 4.4M320.4 302.1l2.8-4.8 2.8-5M258.5 302.3l1.5-.9 1.4-1 1.4-1 1.4-.9 1.4-1 1.4-1 1.4-1.1 1.4-1 2.8 2.6 2.8 2.5 2.8 2.5M231.9 302.1l2.5-.7 2.4-.7 2.4-.6 2.5-.6 1.4 .2 1.4 .2 1.4 .2 1.4 .3 1.4 .2 1.4 .3 1.4 .3 1.4 .3 1.4 .4 1.4 .3M260 302.5l1.4-.5 1.4-.5 1.4-.4 1.4-.4 1.4-.4 1.4-.4 1.4-.4 2.8 .4 2.8 .5 2.8 .5 2.8 .6 2.8 .7M193 299.5l2.4 .6 2.5 .6 2.4 .7 2.4 .7M317.6 302l2.8-.9 2.8-.8 2.8-.8M193 299.5l2.4 0 2.5 .1 2.4 .2 2.4 .1 2.5 .3 2.4 .3 2.4 .3 2.5 .4 2.4 .5 2.4 .5M231.9 302.1l2.5-.7 2.4-.7 2.4-.6 2.5-.6 1.4-.2 1.4-.1 1.4-.1 1.4-.2 1.4-.1 1.4 0 1.4-.1 1.4-.1 1.4 0 1.4 0 1.4 0 1.4 0 1.5 .1 1.4 .1 1.4 0 1.4 .1 1.4 .2 1.4 .1 1.4 .1 1.4 .2 2.8 .4 2.8 .5 2.8 .5 2.8 .6 2.8 .7 2.9-.7 2.8-.6 2.8-.5 2.8-.5 2.8-.4 2.8-.3 2.8-.3 2.8-.1 2.8-.2 2.8 0 2.9 0 2.8 .2 2.8 .1 2.8 .3 2.8 .3M193 299.5l2.4 .6 2.5 .6 2.4 .7 2.4 .7M311.9 302.2l2.9-.7 2.8-.6 2.8-.5 2.8-.5 2.8-.4M193 299.5l2.4-.5 2.5-.5 2.4-.4 2.4-.3 2.5-.3 2.4-.3 2.4-.1 2.5-.2 2.4-.1 2.4 0 2.5 0 2.4 .1 2.4 .2 2.5 .1 2.4 .3 2.4 .3 2.5 .3 2.4 .4 2.4 .5 2.5 .5 1.4 .2 1.4 .2 1.4 .2 1.4 .3 1.4 .2 1.4 .3 1.4 .3 1.4 .3 1.4 .4 1.4 .3M283.8 302.2l2.9-.7 2.8-.6 2.8-.5 2.8-.5 2.8-.4 2.8-.3 2.8-.3 2.8-.1 2.8-.2 2.8 0 2.9 0 2.8 .2 2.8 .1 2.8 .3 2.8 .3M193 299.5l2.4 0 2.5 .1 2.4 .2 2.4 .1 2.5 .3 2.4 .3 2.4 .3 2.5 .4 2.4 .5 2.4 .5M311.9 302.2l2.9-.7 2.8-.6 2.8-.5 2.8-.5 2.8-.4M193 299.5l2.4-.5 2.5-.5 2.4-.4 2.4-.3 2.5-.3 2.4-.3 2.4-.1 2.5-.2 2.4-.1 2.4 0 2.5 0 2.4 .1 2.4 .2 2.5 .1 2.4 .3 2.4 .3 2.5 .3 2.4 .4 2.4 .5 2.5 .5 1.4-.2 1.4-.1 1.4-.1 1.4-.2 1.4-.1 1.4 0 1.4-.1 1.4-.1 1.4 0 1.4 0 1.4 0 1.4 0 1.5 .1 1.4 .1 1.4 0 1.4 .1 1.4 .2 1.4 .1 1.4 .1 1.4 .2 2.8-.7 2.8-.6 2.8-.5 2.8-.5 2.8-.4 2.9-.3 2.8-.3 2.8-.2 2.8-.1 2.8 0 2.8 0 2.8 .1 2.8 .2 2.8 .3 2.8 .3 2.9 .4 2.8 .5 2.8 .5 2.8 .6 2.8 .7M222.2 302.3l2.4-.8 2.5-.8 2.4-.7 2.4-.7 2.5-.6 2.4-.6 2.4-.5 2.5-.5 1.4 .2 1.4 .2 1.4 .1 1.4 .3 1.4 .2 1.4 .2 1.4 .3 1.4 .2 1.4 .3 1.4 .3 1.4 .3 1.4 .4 1.5-.5 1.4-.4 1.4-.4 1.4-.3 1.4-.4 1.4-.3 1.4-.4 1.4-.3 2.8 .4 2.8 .4 2.8 .4 2.8 .5 2.8 .6 2.9 .7 2.8 .7 2.8 .7 2.8 .9M193 297.1l2.4 .5 2.5 .5 2.4 .6 2.4 .6 2.5 .7 2.4 .7 2.4 .8 2.5 .8M309.1 301.9l2.8-1 2.9-.8 2.8-.9 2.8-.7 2.8-.7 2.8-.7M193 297.1l2.4 0 2.5 .1 2.4 .1 2.4 .2 2.5 .2 2.4 .2 2.4 .3 2.5 .4 2.4 .4 2.4 .4 2.5 .5 2.4 .5 2.4 .6 2.5-.3 2.4-.7 2.4-.7 2.5-.6 2.4-.6 2.4-.5 2.5-.5 1.4-.1 1.4-.2 1.4-.1 1.4-.1 1.4-.1 1.4 0 1.4-.1 1.4 0 1.4 0 1.4 0 1.4 0 1.4 0 1.5 0 1.4 .1 1.4 0 1.4 .1 1.4 .1 1.4 .1 1.4 .2 1.4 .1 2.8 .4 2.8 .4 2.8 .4 2.8 .5 2.8 .6 2.9-.6 2.8-.5 2.8-.4 2.8-.4 2.8-.4 2.8-.3 2.8-.2 2.8-.1 2.8-.1 2.8 0 2.9 0 2.8 .1 2.8 .1 2.8 .2 2.8 .3M193 297.1l2.4 .5 2.5 .5 2.4 .6 2.4 .6 2.5 .7 2.4 .7 2.4 .8 2.5 .8M300.7 302.4l2.8-.9 2.8-.7 2.8-.7 2.8-.7 2.9-.6 2.8-.5 2.8-.4 2.8-.4 2.8-.4M193 297.1l2.4-.4 2.5-.4 2.4-.4 2.4-.3 2.5-.2 2.4-.2 2.4-.2 2.5-.1 2.4-.1 2.4 0 2.5 0 2.4 .1 2.4 .1 2.5 .2 2.4 .2 2.4 .2 2.5 .3 2.4 .4 2.4 .4 2.5 .4 1.4 .2 1.4 .2 1.4 .1 1.4 .3 1.4 .2 1.4 .2 1.4 .3 1.4 .2 1.4 .3 1.4 .3 1.4 .3 1.4 .4 1.5 .3 1.4 .4 1.4 .3 1.4 .4 1.4 .4 1.4 .5M272.6 302.4l2.8-.9 2.8-.7 2.8-.7 2.8-.7 2.9-.6 2.8-.5 2.8-.4 2.8-.4 2.8-.4 2.8-.3 2.8-.2 2.8-.1 2.8-.1 2.8 0 2.9 0 2.8 .1 2.8 .1 2.8 .2 2.8 .3M193 297.1l2.4 0 2.5 .1 2.4 .1 2.4 .2 2.5 .2 2.4 .2 2.4 .3 2.5 .4 2.4 .4 2.4 .4 2.5 .5 2.4 .5 2.4 .6 2.5 .6 2.4 .7M300.7 302.4l2.8-.9 2.8-.7 2.8-.7 2.8-.7 2.9-.6 2.8-.5 2.8-.4 2.8-.4 2.8-.4M193 297.1l2.4-.4 2.5-.4 2.4-.4 2.4-.3 2.5-.2 2.4-.2 2.4-.2 2.5-.1 2.4-.1 2.4 0 2.5 0 2.4 .1 2.4 .1 2.5 .2 2.4 .2 2.4 .2 2.5 .3 2.4 .4 2.4 .4 2.5 .4 1.4-.1 1.4-.2 1.4-.1 1.4-.1 1.4-.1 1.4 0 1.4-.1 1.4 0 1.4 0 1.4 0 1.4 0 1.4 0 1.5 0 1.4 .1 1.4 0 1.4 .1 1.4 .1 1.4 .1 1.4 .2 1.4 .1 2.8-.6 2.8-.5 2.8-.4 2.8-.4 2.8-.4 2.9-.3 2.8-.2 2.8-.1 2.8-.1 2.8 0 2.8 0 2.8 .1 2.8 .1 2.8 .2 2.8 .3 2.9 .4 2.8 .4 2.8 .4 2.8 .5 2.8 .6M193 201.6l2.4 2.2 2.5 2 2.4 1.9 2.4 1.8 2.5 1.7 2.4 1.6 2.4 1.5 2.5 1.4 2.4 1.2 2.4 1.2 2.5 1 2.4 1 2.4 .8 2.5 .7 2.4 .6 2.4 .5 2.5 .4 2.4 .3 2.4 .1 2.5 .1 1.4-.8 1.4-.8 1.4-.8 1.4-.8 1.4-.9 1.4-1 1.4-.9 1.4-1 1.4-1.1 1.4-1.1 1.4-1.1 1.4-1.1 1.5-1.2 1.4-1.3 1.4-1.2 1.4-1.3 1.4-1.4 1.4-1.3 1.4-1.4 1.4-1.5 2.8 1.4 2.8 1.2 2.8 1.1 2.8 1 2.8 .8 2.9 .7 2.8 .5 2.8 .3 2.8 .3 2.8 0 2.8 0 2.8-.3 2.8-.3 2.8-.5 2.8-.7 2.9-.8 2.8-1 2.8-1.1 2.8-1.2 2.8-1.4M193 201.6l2.4-2.2 2.5-2.4 2.4-2.5M320.4 195.5l2.8 3.1 2.8 3M193 201.6l2.4 0 2.5-.2 2.4-.3 2.4-.4 2.5-.5 2.4-.6 2.4-.7 2.5-.8 2.4-.9 2.4-1.1 2.5-1.1M258.5 194.6l1.5 1 1.4 1 1.4 .9 1.4 .9 1.4 .8 1.4 .9 1.4 .8 1.4 .7 2.8-3 2.8-3.1M314.8 194.6l2.8 2 2.8 1.8 2.8 1.7 2.8 1.5M193 201.6l2.4 0 2.5-.2 2.4-.3 2.4-.4 2.5-.5 2.4-.6 2.4-.7 2.5-.8 2.4-.9 2.4-1.1 2.5-1.1M258.5 194.6l1.5 1 1.4 1 1.4 .9 1.4 .9 1.4 .8 1.4 .9 1.4 .8 1.4 .7 2.8 1.4 2.8 1.2 2.8 1.1 2.8 1 2.8 .8 2.9 .7 2.8 .5 2.8 .3 2.8 .3 2.8 0 2.8 0 2.8-.3 2.8-.3 2.8-.5 2.8-.7 2.9-.8 2.8-1 2.8-1.1 2.8-1.2 2.8-1.4M193 201.6l2.4 2.2 2.5 2 2.4 1.9 2.4 1.8 2.5 1.7 2.4 1.6 2.4 1.5 2.5 1.4 2.4 1.2 2.4 1.2 2.5 1 2.4 1 2.4 .8 2.5 .7 2.4 .6 2.4 .5 2.5 .4 2.4 .3 2.4 .1 2.5 .1 1.4 .7 1.4 .7 1.4 .6 1.4 .6 1.4 .6 1.4 .5 1.4 .5 1.4 .5 1.4 .4 1.4 .4 1.4 .3 1.4 .3 1.5 .3 1.4 .3 1.4 .2 1.4 .1 1.4 .1 1.4 .1 1.4 .1 1.4 0 2.8-.1 2.8-.2 2.8-.3 2.8-.6 2.8-.6 2.9-.8 2.8-1 2.8-1.1 2.8-1.2 2.8-1.4 2.8-1.6 2.8-1.6 2.8-1.9 2.8-1.9 2.8-2.2 2.9-2.2 2.8-2.5 2.8-2.5 2.8-2.7 2.8-2.9M193 201.6l2.4-2.2 2.5-2.4 2.4-2.5M314.8 194.6l2.8 2 2.8 1.8 2.8 1.7 2.8 1.5M202.7 195.3l2.5 2.5 2.4 2.3 2.4 2.3 2.5 2.1 2.4 2.1 2.4 1.9 2.5 1.9 2.4 1.8 2.4 1.6 2.5 1.6 2.4 1.5 2.4 1.4 2.5 1.3 2.4 1.1 2.4 1.1 2.5 1.1 1.4-.4 1.4-.4 1.4-.3 1.4-.5 1.4-.4 1.4-.5 1.4-.6 1.4-.5 1.4-.6 1.4-.6 1.4-.7 1.4-.7 1.5 .9 1.4 .9 1.4 .8 1.4 .7 1.4 .8 1.4 .7 1.4 .7 1.4 .7 2.8-.8 2.8-.8 2.8-.9 2.8-1.1 2.8-1.2 2.9-1.4 2.8-1.4 2.8-1.6 2.8-1.7 2.8-1.9 2.8-2 2.8-2.1 2.8-2.2 2.8-2.3 2.8-2.5 2.9-2.6M193 222.9l2.4-1.1 2.5-1.1 2.4-1.1 2.4-1.3 2.5-1.4 2.4-1.5 2.4-1.6 2.5-1.6 2.4-1.8 2.4-1.9 2.5-1.9 2.4-2.1 2.4-2.1 2.5-2.3 2.4-2.3 2.4-2.5 2.5 2.3 2.4 2.1 2.4 2.1 2.5 1.9 1.4 .7 1.4 .6 1.4 .5 1.4 .5 1.4 .5 1.4 .5 1.4 .4 1.4 .4 1.4 .4 1.4 .3 1.4 .3 1.4 .3 1.5 .2 1.4 .2 1.4 .2 1.4 .2 1.4 .1 1.4 0 1.4 .1 1.4 0 2.8-2 2.8-2.1 2.8-2.2 2.8-2.3 2.8-2.5 2.9-2.6 2.8-.9 2.8 2.9 2.8 2.7 2.8 2.6 2.8 2.5 2.8 2.4 2.8 2.2 2.8 2.1 2.8 2 2.9 1.8 2.8 1.8 2.8 1.5 2.8 1.5 2.8 1.4M193 222.9l2.4-.1 2.5-.1 2.4-.3 2.4-.3 2.5-.4 2.4-.6 2.4-.6 2.5-.7 2.4-.8 2.4-.9 2.5-1 2.4-1.1 2.4-1.2 2.5 .6 2.4 1.5 2.4 1.4 2.5 1.3 2.4 1.1 2.4 1.1 2.5 1.1 1.4 .3 1.4 .2 1.4 .3 1.4 .2 1.4 .1 1.4 .2 1.4 .1 1.4 .1 1.4 0 1.4 0 1.4 0 1.4 0 1.5-.1 1.4-.1 1.4-.2 1.4-.1 1.4-.2 1.4-.3 1.4-.2 1.4-.3 2.8-.8 2.8-.8 2.8-.9 2.8-1.1 2.8-1.2 2.9 1.2 2.8 1.1 2.8 .9 2.8 .8 2.8 .8 2.8 .5 2.8 .5 2.8 .3 2.8 .2 2.8 0 2.9 0 2.8-.2 2.8-.3 2.8-.5 2.8-.5M193 222.9l2.4-1.1 2.5-1.1 2.4-1.1 2.4-1.3 2.5-1.4 2.4-1.5 2.4-1.6 2.5-1.6 2.4-1.8 2.4-1.9 2.5-1.9 2.4-2.1 2.4-2.1 2.5-2.3 2.4-2.3 2.4-2.5M251.5 195l1.4 1.4 1.4 1.3 1.4 1.3 1.4 1.2 1.4 1.3 1.5 1.1 1.4 1.2 1.4 1.1 1.4 1.1 1.4 1.1 1.4 1 1.4 1 1.4 1 2.8-.1 2.8-.1 2.8-.4 2.8-.4 2.8-.6 2.9-.7 2.8-.8 2.8-1 2.8 2.1 2.8 2 2.8 1.9 2.8 1.7 2.8 1.6 2.8 1.4 2.8 1.4 2.9 1.2 2.8 1.1 2.8 .9 2.8 .8 2.8 .8M193 222.9l2.4 .9 2.5 .8 2.4 .7 2.4 .6 2.5 .5 2.4 .5 2.4 .3 2.5 .2 2.4 .2 2.4 0 2.5 0 2.4-.2 2.4-.2 2.5-.3 2.4-.5 2.4-.5 2.5-.6 2.4-.7 2.4-.8 2.5-.9 1.4-.4 1.4-.4 1.4-.3 1.4-.5 1.4-.4 1.4-.5 1.4-.6 1.4-.5 1.4-.6 1.4-.6 1.4-.7 1.4-.7 1.5-.7 1.4-.7 1.4-.8 1.4-.8 1.4-.9 1.4-.8 1.4-.9 1.4-1 2.8 1.9 2.8 1.7 2.8 1.6 2.8 1.4 2.8 1.4 2.9 1.2 2.8 1.1 2.8 .9 2.8 .8 2.8 .8 2.8 .5 2.8 .5 2.8 .3 2.8 .2 2.8 0 2.9 0 2.8-.2 2.8-.3 2.8-.5 2.8-.5M193 222.9l2.4-.1 2.5-.1 2.4-.3 2.4-.3 2.5-.4 2.4-.6 2.4-.6 2.5-.7 2.4-.8 2.4-.9 2.5-1 2.4-1.1 2.4-1.2 2.5-1.3 2.4-1.4 2.4-1.5 2.5-1.6 2.4-1.6 2.4-1.8 2.5-1.9 1.4-.6 1.4-.7 1.4-.7 1.4-.8 1.4-.7 1.4-.9 1.4-.8 1.4-.9 1.4-.9 1.4-.9 1.4-1M281 196.4l2.8 2.6 2.9 2.5 2.8 2.3 2.8 2.2 2.8 2.1 2.8 2 2.8 1.9 2.8 1.7 2.8 1.6 2.8 1.4 2.8 1.4 2.9 1.2 2.8 1.1 2.8 .9 2.8 .8 2.8 .8M193 222.9l2.4 .9 2.5 .8 2.4 .7 2.4 .6 2.5 .5 2.4 .5 2.4 .3 2.5 .2 2.4 .2 2.4 0 2.5 0 2.4-.2 2.4-.2 2.5-.3 2.4-.5 2.4-.5 2.5-.6 2.4-.7 2.4-.8 2.5-.9 1.4 .3 1.4 .2 1.4 .3 1.4 .2 1.4 .1 1.4 .2 1.4 .1 1.4 .1 1.4 0 1.4 0 1.4 0 1.4 0 1.5-.1 1.4-.1 1.4-.2 1.4-.1 1.4-.2 1.4-.3 1.4-.2 1.4-.3 2.8 1.2 2.8 1 2.8 1 2.8 .8 2.8 .7 2.9 .6 2.8 .4 2.8 .4 2.8 .2 2.8 0 2.8 0 2.8-.2 2.8-.4 2.8-.4 2.8-.6 2.9-.7 2.8-.8 2.8-1 2.8-1 2.8-1.2M193 223.8l2.4-2.5 2.5-2.4 2.4-2.3 2.4-2.3 2.5-2.1 2.4-2.1 2.4-2 2.5-1.9 2.4-1.8 2.4-1.7 2.5-1.7 2.4-1.5 2.4-1.5 2.5-1.4 2.4-1.3M257.1 194.8l1.4 .6 1.5-.8M286.7 195.4l2.8 1.3 2.8 1.4 2.8 1.5 2.8 1.7 2.8 1.7 2.8 1.9 2.8 1.9 2.8 2.1 2.8 2.2 2.9 2.3 2.8 2.5 2.8 2.5 2.8 2.6 2.8 2.8M205.2 195.3l2.4 1.3 2.4 1.4 2.5 1.5 2.4 1.5 2.4 1.7 2.5 1.7 2.4 1.8 2.4 1.9 2.5 2 2.4 2.1 2.4 2.1 2.5-1.9 2.4-2 2.4-1.8 2.5-1.7 1.4-.5 1.4-.6 1.4-.5 1.4-.4 1.4-.5 1.4-.4 1.4-.4 1.4-.3 1.4-.3 1.4-.3 1.4-.3 1.4-.2 1.5-.2 1.4-.2 1.4-.2 1.4-.1 1.4-.1 1.4-.1 1.4 0 1.4 0 2.8 1.7 2.8 1.9 2.8 1.9 2.8 2.1 2.8 2.2 2.9 2.3 2.8 .8 2.8-2.6 2.8-2.4 2.8-2.3 2.8-2.2 2.8-2.1 2.8-2 2.8-1.8 2.8-1.8 2.9-1.6M219.8 195.1l2.4 1 2.4 1 2.5-.5 2.4-1.3M205.2 195.3l2.4 1.3 2.4 1.4 2.5 1.5 2.4 1.5 2.4 1.7 2.5 1.7 2.4 1.8 2.4 1.9 2.5 2 2.4 2.1 2.4 2.1 2.5 2.3 2.4 2.3 2.4 2.4 2.5 2.5 1.4-1.4 1.4-1.4 1.4-1.3 1.4-1.3 1.4-1.3 1.4-1.2 1.4-1.3 1.4-1.2 1.4-1.1 1.4-1.2 1.4-1.1 1.4-1.1 1.5-1 1.4-1.1 1.4-1 1.4-.9 1.4-1 1.4-.9 1.4-.9 1.4-.8 2.8 0 2.8 .2 2.8 .3 2.8 .4 2.8 .5 2.9 .6 2.8 .7 2.8 .9 2.8-1.9 2.8-1.7 2.8-1.7 2.8-1.5 2.8-1.4 2.8-1.3M257.1 194.8l1.4 .6 1.5 .6 1.4 .7 1.4 .7 1.4 .7 1.4 .8 1.4 .7 1.4 .8 1.4 .9 2.8-1.7 2.8-1.5 2.8-1.4 2.8-1.3M219.8 195.1l2.4 1 2.4 1 2.5 1.2 2.4 1.2 2.4 1.3 2.5 1.4 2.4 1.5 2.4 1.6 2.5 1.6 1.4 .6 1.4 .6 1.4 .6 1.4 .7 1.4 .7 1.4 .7 1.4 .7 1.4 .8 1.4 .8 1.4 .8 1.4 .9 1.4 .9 1.5 .9 1.4 .9 1.4 1 1.4 1 1.4 1 1.4 1.1 1.4 1.1 1.4 1.1 2.8-2.8 2.8-2.6 2.8-2.5 2.8-2.5 2.8-2.3 2.9-2.2 2.8-2.1 2.8-1.9 2.8-1.9 2.8-1.7 2.8-1.7 2.8-1.5 2.8-1.4 2.8-1.3M193 217.2l2.4 0 2.5-.1 2.4-.1 2.4-.2 2.5-.3 2.4-.3 2.4-.4 2.5-.4 2.4-.5 2.4-.5 2.5-.6 2.4-.7 2.4-.7 2.5-.7 2.4-.8 2.4-.9 2.5-.9 2.4-1 2.4-1.1 2.5-1.1 1.4 0 1.4 0 1.4-.1 1.4 0 1.4-.1 1.4-.1 1.4-.1 1.4-.2 1.4-.1 1.4-.2 1.4-.2 1.4-.2 1.5-.3 1.4-.2 1.4-.3 1.4-.3 1.4-.3 1.4-.3 1.4-.4 1.4-.3 2.8 1.4 2.8 1.4 2.8 1.3 2.8 1.3 2.8 1.1 2.9 1.1 2.8 1 2.8 1 2.8 .9 2.8 .7 2.8 .8 2.8 .6 2.8 .6 2.8 .5 2.8 .4 2.9 .3 2.8 .3 2.8 .2 2.8 .1 2.8 0M257.1 194.6l1.4 .9 1.5 .9 1.4 .9 1.4 .9 1.4 .8 1.4 .8 1.4 .8 1.4 .8 1.4 .8 2.8-.8 2.8-.9 2.8-.9 2.8-1.1 2.8-1 2.9-1.2 2.8-1.3M222.2 195.1l2.4 1.5 2.5 1.5 2.4 1.5 2.4 1.4 2.5 1.3 2.4 1.2 2.4 1.3 2.5 1.1 1.4 0 1.4 0 1.4-.1 1.4 0 1.4-.1 1.4-.1 1.4-.1 1.4-.2 1.4-.1 1.4-.2 1.4-.2 1.4-.2 1.5-.3 1.4-.2 1.4-.3 1.4-.3 1.4-.3 1.4-.3 1.4-.4 1.4-.3 2.8-.8 2.8-.9 2.8-.9 2.8-1.1 2.8-1 2.9-1.2 2.8-1.3M212.5 194.9l2.4 1.7 2.4 1.8 2.5 1.7 2.4 1.9 2.4 1.8 2.5 1.9 2.4 1.9 2.4 2 2.5-1.6 2.4-1.5 2.4-1.4 2.5-1.5 1.4-.7 1.4-.6 1.4-.7 1.4-.7 1.4-.6 1.4-.7 1.4-.6 1.4-.6 1.4-.6 1.4-.6 1.4-.6 1.4-.5 1.5-.6 1.4-.6M275.4 195.8l2.8 2 2.8 2 2.8 2.1 2.9 2.1 2.8 .8 2.8-2 2.8-1.9 2.8-1.9 2.8-1.9 2.8-1.8M224.6 194.7l2.5 1.1 2.4 1.3 2.4 1.2 2.5 1.3 2.4 1.3 2.4 1.4 2.5 1.3 1.4-.7 1.4-.6 1.4-.7 1.4-.7 1.4-.6 1.4-.7 1.4-.6 1.4-.6 1.4-.6 1.4-.6 1.4-.6 1.4-.5 1.5-.6 1.4-.6M224.6 194.7l2.5 1.1 2.4 1.3 2.4 1.2 2.5 1.3 2.4 1.3 2.4 1.4 2.5 1.3 1.4 .8 1.4 .7 1.4 .7 1.4 .8 1.4 .7 1.4 .8 1.4 .8 1.4 .7 1.4 .9 1.4 .8 1.4 .8 1.4 .8 1.5 .9 1.4 .8 1.4 .9 1.4 .9 1.4 .9 1.4 .9 1.4 .9 1.4 1 2.8-2.4 2.8-2.2 2.8-2.3 2.8-2.1 2.8-2.2 2.9-2.1 2.8-2 2.8-2 2.8-1.9 2.8-1.9 2.8-1.9 2.8-1.8M193 218.5l2.4 0 2.5-.1 2.4-.1 2.4-.1 2.5-.3 2.4-.2 2.4-.3 2.5-.4 2.4-.4 2.4-.4 2.5-.5 2.4-.5 2.4-.6 2.5-.7 2.4-.6 2.4-.8 2.5-.7 2.4-.8 2.4-.9 2.5-.9 1.4 0 1.4-.1 1.4 0 1.4 0 1.4-.1 1.4-.1 1.4-.1 1.4-.1 1.4-.2 1.4-.1 1.4-.2 1.4-.1 1.5-.2 1.4-.2 1.4-.3 1.4-.2 1.4-.3 1.4-.2 1.4-.3 1.4-.3 2.8 1.2 2.8 1.1 2.8 1.1 2.8 1 2.8 1 2.9 .9 2.8 .9 2.8 .7 2.8 .8 2.8 .6 2.8 .6 2.8 .5 2.8 .5 2.8 .4 2.8 .4 2.9 .2 2.8 .2 2.8 .2 2.8 .1 2.8 0M248.7 195l1.4 .8 1.4 .8 1.4 .9 1.4 .8 1.4 .7 1.4 .8 1.4 .8 1.5 .7 1.4 .7 1.4 .7 1.4 .7 1.4 .7 1.4 .7 1.4 .6 1.4 .7 2.8-.7 2.8-.7 2.8-.8 2.8-.8 2.8-.9 2.9-1 2.8-1 2.8-1.1 2.8-1.2 2.8-1.2 2.8-1.3M212.5 194.6l2.4 1.5 2.4 1.4 2.5 1.4 2.4 1.3 2.4 1.3 2.5 1.2 2.4 1.2 2.4 1.2 2.5 1.1 2.4 1 2.4 1 2.5 1 1.4 0 1.4-.1 1.4 0 1.4 0 1.4-.1 1.4-.1 1.4-.1 1.4-.1 1.4-.2 1.4-.1 1.4-.2 1.4-.1 1.5-.2 1.4-.2 1.4-.3 1.4-.2 1.4-.3 1.4-.2 1.4-.3 1.4-.3 2.8-.7 2.8-.7 2.8-.8 2.8-.8 2.8-.9 2.9-1 2.8-1 2.8-1.1 2.8-1.2 2.8-1.2 2.8-1.3" stroke="none" fill="none" marker-start="url(#m4637f0085)" marker-mid="url(#m4637f0085)" marker-end="url(#m4637f0085)"/><path d="M193 280.4l2.4 0 2.5 .1 2.4 .2 2.4 .3 2.5 .4 2.4 .5 2.4 .5 2.5 .6 2.4 .8 2.4 .7 2.5 .9 2.4 1 2.4 1 2.5 1.2 2.4 1.2 2.4 1.3 2.5 1.3 2.4 1.5 2.4 1.6 2.5 1.6 1.4 0 1.4 0 1.4 .1 1.4 .1 1.4 .1 1.4 .2 1.4 .2 1.4 .2 1.4 .2 1.4 .3 1.4 .3 1.4 .3 1.5 .3 1.4 .4 1.4 .4 1.4 .5 1.4 .4 1.4 .5 1.4 .5M272.6 300.5l2.8-2.1 2.8-1.9 2.8-1.9 2.8-1.7 2.9-1.6 2.8-1.5 2.8-1.4 2.8-1.3 2.8-1.2 2.8-1 2.8-1 2.8-.8 2.8-.7 2.8-.6 2.9-.5 2.8-.4 2.8-.3 2.8-.2 2.8 0M234.4 302.5l2.4-1.9 2.4-1.8 2.5-1.7 1.4 0 1.4 0 1.4 .1 1.4 .1 1.4 .1 1.4 .2 1.4 .2 1.4 .2 1.4 .2 1.4 .3 1.4 .3 1.4 .3 1.5 .3 1.4 .4 1.4 .4 1.4 .5 1.4 .4 1.4 .5 1.4 .5" stroke="none" fill="none" marker-start="url(#m703ee6085)" marker-mid="url(#m703ee6085)" marker-end="url(#m703ee6085)"/><path d="M193 264.8l2.4 0 2.5 .2 2.4 .2 2.4 .3 2.5 .3 2.4 .5 2.4 .5 2.5 .7 2.4 .7 2.4 .8 2.5 .8 2.4 1 2.4 1 2.5 1.2 2.4 1.2 2.4 1.3 2.5 1.4 2.4 1.4 2.4 1.6 2.5 1.6 1.4 0 1.4 .1 1.4 0 1.4 .1 1.4 .2 1.4 .1 1.4 .2 1.4 .2 1.4 .2 1.4 .3 1.4 .3 1.4 .3 1.5 .4 1.4 .3 1.4 .4 1.4 .5 1.4 .4 1.4 .5 1.4 .5 1.4 .6 2.8-2.2 2.8-2.1 2.8-1.9 2.8-1.8 2.8-1.8 2.9-1.6 2.8-1.5 2.8-1.4 2.8-1.3 2.8-1.1 2.8-1.1 2.8-.9 2.8-.9 2.8-.7 2.8-.6 2.9-.5 2.8-.4 2.8-.3 2.8-.2 2.8 0M252.9 302.5l1.4-1.5 1.4-1.4 1.4-1.4 1.4-1.3 1.5-1.3 1.4-1.3 1.4-1.3 1.4-1.2 1.4-1.3 1.4-1.1 1.4-1.2 1.4-1.1 2.8 1.1 2.8 1.3 2.8 1.4 2.8 1.5 2.8 1.6 2.9 1.8 2.8 1.8 2.8 2 2.8 2M217.3 302.4l2.5-2.5 2.4-2.3 2.4-2.3 2.5-2.3 2.4-2.1 2.4-2 2.5-2 2.4-1.9 2.4-1.8 2.5-1.7 1.4 0 1.4 .1 1.4 0 1.4 .1 1.4 .2 1.4 .1 1.4 .2 1.4 .2 1.4 .2 1.4 .3 1.4 .3 1.4 .3 1.5 .4 1.4 .3 1.4 .4 1.4 .5 1.4 .4 1.4 .5 1.4 .5 1.4 .6 2.8 1.1 2.8 1.3 2.8 1.4 2.8 1.5 2.8 1.6 2.9 1.8 2.8 1.8 2.8 2 2.8 2" stroke="none" fill="none" marker-start="url(#mc64ed2085)" marker-mid="url(#mc64ed2085)" marker-end="url(#mc64ed2085)"/><path d="M193 301.9l2.4-2.7 2.5-2.6 2.4-2.4 2.4-2.3 2.5-2.2 2.4-2 2.4-1.8 2.5-1.8 2.4-1.6 2.4-1.4 2.5-1.3 2.4-1.2 2.4-1.1 2.5-.9 2.4-.7 2.4-.6 2.5-.5 2.4-.4 2.4-.2 2.5 0 1.4 .9 1.4 1 1.4 1 1.4 1.1 1.4 1.1 1.4 1.2 1.4 1.2 1.4 1.3 1.4 1.3 1.4 1.4 1.4 1.4 1.4 1.5 1.5 1.5 1.4 1.5 1.4 1.6 1.4 1.6 1.4 1.7 1.4 1.8 1.4 1.7 1.4 1.9 2.8-1.8 2.8-1.6 2.8-1.4 2.8-1.2 2.8-1 2.9-.8 2.8-.6 2.8-.5 2.8-.3 2.8-.1 2.8 .1 2.8 .3 2.8 .5 2.8 .6 2.8 .8 2.9 1 2.8 1.2 2.8 1.4 2.8 1.6 2.8 1.8M193 301.9M326 301.9M193 301.9l2.4 0 2.5 .2 2.4 .4M269.8 301.9M326 301.9M193 301.9l2.4 0 2.5 .2 2.4 .4M269.8 301.9l2.8-1.8 2.8-1.6 2.8-1.4 2.8-1.2 2.8-1 2.9-.8 2.8-.6 2.8-.5 2.8-.3 2.8-.1 2.8 .1 2.8 .3 2.8 .5 2.8 .6 2.8 .8 2.9 1 2.8 1.2 2.8 1.4 2.8 1.6 2.8 1.8M193 301.9l2.4-2.7 2.5-2.6 2.4-2.4 2.4-2.3 2.5-2.2 2.4-2 2.4-1.8 2.5-1.8 2.4-1.6 2.4-1.4 2.5-1.3 2.4-1.2 2.4-1.1 2.5-.9 2.4-.7 2.4-.6 2.5-.5 2.4-.4 2.4-.2 2.5 0 1.4-.9 1.4-.9 1.4-.8 1.4-.8 1.4-.7 1.4-.7 1.4-.6 1.4-.6 1.4-.5 1.4-.5 1.4-.4 1.4-.4 1.5-.3 1.4-.3 1.4-.3 1.4-.2 1.4-.2 1.4-.1 1.4-.1 1.4 0 2.8 .1 2.8 .3 2.8 .5 2.8 .6 2.8 .8 2.9 1 2.8 1.2 2.8 1.4 2.8 1.6 2.8 1.8 2.8 1.9 2.8 2.1 2.8 2.3 2.8 2.5 2.8 2.7 2.9 2.9 2.8 3 2.8 3.2 2.8 3.5 2.8 3.6M193 301.9M326 301.9M205.2 301.8l2.4-2 2.4-1.9 2.5-1.7 2.4-1.6 2.4-1.5 2.5-1.3 2.4-1.2 2.4-1 2.5-.9 2.4-.8 2.4-.6 2.5-.5 2.4-.3 2.4-.2 2.5-.1 1.4 .9 1.4 1 1.4 1.1 1.4 1.1 1.4 1.1 1.4 1.2 1.4 1.2 1.4 1.3 1.4 1.3 1.4 1.3 1.4 1.4 1.4 1.5 1.5 1.5M205.2 301.8l2.4-2 2.4-1.9 2.5-1.7 2.4-1.6 2.4-1.5 2.5-1.3 2.4-1.2 2.4-1 2.5-.9 2.4-.8 2.4-.6 2.5-.5 2.4-.3 2.4-.2 2.5-.1 1.4-.9 1.4-.9 1.4-.8 1.4-.7 1.4-.7 1.4-.7 1.4-.6 1.4-.6 1.4-.5 1.4-.5 1.4-.5 1.4-.4 1.5-.3 1.4-.3 1.4-.3 1.4-.2 1.4-.1 1.4-.2 1.4 0 1.4 0 2.8 0 2.8 .3 2.8 .5 2.8 .6 2.8 .9 2.9 1 2.8 1.2 2.8 1.4 2.8 1.5 2.8 1.8 2.8 1.9 2.8 2.2 2.8 2.3 2.8 2.5 2.8 2.6 2.9 2.9M193 283.4l2.4 4.4 2.5 4.4 2.4 4.3 2.4 4.2M314.8 302.5l2.8-4.6 2.8-4.8 2.8-4.8 2.8-4.9M227.1 301.3l2.4-2.1 2.4-2.2 2.5 1.7 2.4 1.7 2.4 1.6M289.5 302.3M244.5 302l1.4-.8 1.4-.8 1.4-.9 1.4-.8 1.4-.9 1.4-.9 1.4-.9 1.4-.9 1.4-.9 1.4-.9 1.5-1 1.4-.9 1.4-1 1.4-1 1.4-1 1.4-1 1.4-1 1.4-1 2.8 2.6 2.8 2.5 2.8 2.4 2.8 2.5 2.8 2.3 2.9 2.4 2.8 2.2M207.6 302.2l2.4-1.3 2.5-1.2 2.4-1.2 2.4-1.1 2.5-1 2.4-1 2.4-1 2.5-.9 2.4-.8 2.4-.8 2.5-.7 2.4-.7 2.4-.6 2.5-.6 1.4 .2 1.4 .2 1.4 .2 1.4 .3 1.4 .2 1.4 .3 1.4 .3 1.4 .3 1.4 .4 1.4 .3 1.4 .4 1.4 .4 1.5-.5 1.4-.5 1.4-.5 1.4-.4 1.4-.4 1.4-.4 1.4-.4 1.4-.4 2.8 .4 2.8 .5 2.8 .5 2.8 .6 2.8 .7 2.9 .8 2.8 .8 2.8 .9 2.8 1 2.8 1 2.8 1.1 2.8 1.2 2.8 1.3 2.8 1.3M193 289.3l2.4 .6 2.5 .6 2.4 .7 2.4 .7 2.5 .8 2.4 .8 2.4 .9 2.5 1 2.4 1 2.4 1 2.5 1.1 2.4 1.2 2.4 1.2 2.5 1.3M236.8 302.4l2.4-1.2 2.5-1.1 1.4-.3 1.4-.4 1.4-.3 1.4-.3 1.4-.3 1.4-.2 1.4-.3 1.4-.2 1.4-.2 1.4-.2 1.4-.2 1.4-.1 1.5-.1 1.4-.2 1.4-.1 1.4 0 1.4-.1 1.4 0 1.4-.1 1.4 0 2.8 1.1 2.8 1.2 2.8 1.3 2.8 1.3M295.1 301.6l2.8-1.5 2.8-1.4 2.8-1.3 2.8-1.3 2.8-1.2 2.8-1.1 2.9-1 2.8-1 2.8-.9 2.8-.8 2.8-.8M193 289.3l2.4 0 2.5 .1 2.4 .1 2.4 .2 2.5 .3 2.4 .3 2.4 .3 2.5 .4 2.4 .5 2.4 .5 2.5 .6 2.4 .6 2.4 .7 2.5-.4 2.4-.8 2.4-.8 2.5-.7 2.4-.7 2.4-.6 2.5-.6 1.4-.2 1.4-.1 1.4-.2 1.4-.1 1.4-.1 1.4-.1 1.4 0 1.4-.1 1.4 0 1.4 0 1.4 0 1.4 0 1.5 .1 1.4 0 1.4 .1 1.4 .1 1.4 .1 1.4 .2 1.4 .1 1.4 .2 2.8 .4 2.8 .5 2.8 .5 2.8 .6 2.8 .7 2.9-.7 2.8-.6 2.8-.5 2.8-.5 2.8-.4 2.8-.3 2.8-.3 2.8-.2 2.8-.1 2.8 0 2.9 0 2.8 .1 2.8 .2 2.8 .3 2.8 .3M193 289.3l2.4 .6 2.5 .6 2.4 .7 2.4 .7 2.5 .8 2.4 .8 2.4 .9 2.5 1 2.4 1 2.4 1 2.5 1.1 2.4 1.2 2.4 1.2 2.5 1.3M257.1 302.1l1.4-.7 1.5-.7 1.4-.6 1.4-.7 1.4-.6 1.4-.6 1.4-.6 1.4-.5 1.4-.6 2.8 .1 2.8 .1 2.8 .1 2.8 .3 2.8 .3 2.9 .4 2.8 .5 2.8 .5 2.8-1.2 2.8-1.1 2.8-1 2.8-1 2.8-.9 2.8-.8 2.8-.8 2.9-.7 2.8-.6 2.8-.5 2.8-.5 2.8-.4M193 289.3l2.4-.5 2.5-.5 2.4-.4 2.4-.3 2.5-.3 2.4-.3 2.4-.2 2.5-.1 2.4-.1 2.4 0 2.5 0 2.4 .1 2.4 .1 2.5 .2 2.4 .3 2.4 .3 2.5 .3 2.4 .4 2.4 .5 2.5 .5 1.4 .2 1.4 .2 1.4 .2 1.4 .3 1.4 .2 1.4 .3 1.4 .3 1.4 .3 1.4 .4 1.4 .3 1.4 .4 1.4 .4 1.5 .4 1.4 .4 1.4 .4 1.4 .5 1.4 .5 1.4 .5 1.4 .5 1.4 .5 2.8-1 2.8-1 2.8-.9 2.8-.8 2.8-.8 2.9-.7 2.8-.6 2.8-.5 2.8-.5 2.8-.4 2.8-.3 2.8-.3 2.8-.2 2.8-.1 2.8 0 2.9 0 2.8 .1 2.8 .2 2.8 .3 2.8 .3M193 289.3l2.4 0 2.5 .1 2.4 .1 2.4 .2 2.5 .3 2.4 .3 2.4 .3 2.5 .4 2.4 .5 2.4 .5 2.5 .6 2.4 .6 2.4 .7 2.5 .7 2.4 .8 2.4 .8 2.5 .9 2.4 1 2.4 1 2.5 1 1.4 .4 1.4 .4 1.4 .4 1.4 .4 1.4 .5M286.7 301.4l2.8-1.3 2.8-1.3 2.8-1.2 2.8-1.1 2.8-1 2.8-1 2.8-.9 2.8-.8 2.8-.8 2.9-.7 2.8-.6 2.8-.5 2.8-.5 2.8-.4M193 289.3l2.4-.5 2.5-.5 2.4-.4 2.4-.3 2.5-.3 2.4-.3 2.4-.2 2.5-.1 2.4-.1 2.4 0 2.5 0 2.4 .1 2.4 .1 2.5 .2 2.4 .3 2.4 .3 2.5 .3 2.4 .4 2.4 .5 2.5 .5 1.4-.2 1.4-.1 1.4-.2 1.4-.1 1.4-.1 1.4-.1 1.4 0 1.4-.1 1.4 0 1.4 0 1.4 0 1.4 0 1.5 .1 1.4 0 1.4 .1 1.4 .1 1.4 .1 1.4 .2 1.4 .1 1.4 .2 2.8-.7 2.8-.6 2.8-.5 2.8-.5 2.8-.4 2.9-.3 2.8-.3 2.8-.2 2.8-.1 2.8 0 2.8 0 2.8 .1 2.8 .2 2.8 .3 2.8 .3 2.9 .4 2.8 .5 2.8 .5 2.8 .6 2.8 .7M197.9 302.2l2.4-1.2 2.4-1.3 2.5-1.1 2.4-1.2 2.4-1 2.5-1.1 2.4-1 2.4-.9 2.5-.9 2.4-.9 2.4-.8 2.5-.7 2.4-.7 2.4-.7 2.5-.6 2.4-.6 2.4-.5 2.5-.5 1.4 .2 1.4 .1 1.4 .2 1.4 .2 1.4 .3 1.4 .2 1.4 .2 1.4 .3 1.4 .3 1.4 .3 1.4 .3 1.4 .3 1.5-.4 1.4-.4 1.4-.4 1.4-.4 1.4-.3 1.4-.4 1.4-.3 1.4-.3 2.8 .3 2.8 .4 2.8 .5 2.8 .5 2.8 .6 2.9 .6 2.8 .7 2.8 .8 2.8 .8 2.8 .9 2.8 1 2.8 1 2.8 1.1 2.8 1.1 2.8 1.2 2.9 1.2 2.8 1.4 2.8 1.3M193 286.5l2.4 .5 2.5 .5 2.4 .6 2.4 .6 2.5 .7 2.4 .7 2.4 .7 2.5 .8 2.4 .9 2.4 .9 2.5 .9 2.4 1 2.4 1.1 2.5 1 2.4 1.2 2.4 1.1 2.5-1 2.4-1.1 2.4-1 2.5-.9 1.4-.3 1.4-.3 1.4-.3 1.4-.2 1.4-.3 1.4-.2 1.4-.2 1.4-.2 1.4-.2 1.4-.1 1.4-.2 1.4-.1 1.5-.1 1.4-.1 1.4-.1 1.4-.1 1.4 0 1.4 0 1.4-.1 1.4 0 2.8 1 2.8 1 2.8 1.1 2.8 1.1 2.8 1.2 2.9 1.2 2.8 .4 2.8-1.3 2.8-1.4 2.8-1.2 2.8-1.2 2.8-1.1 2.8-1.1 2.8-1 2.8-1 2.9-.9 2.8-.8 2.8-.8 2.8-.7 2.8-.6M193 286.5l2.4 0 2.5 .1 2.4 .1 2.4 .2 2.5 .2 2.4 .2 2.4 .3 2.5 .4 2.4 .4 2.4 .4 2.5 .5 2.4 .5 2.4 .6 2.5-.3 2.4-.7 2.4-.7 2.5-.6 2.4-.6 2.4-.5 2.5-.5 1.4-.2 1.4-.1 1.4-.1 1.4-.1 1.4-.1 1.4-.1 1.4 0 1.4 0 1.4-.1 1.4 0 1.4 0 1.4 .1 1.5 0 1.4 0 1.4 .1 1.4 .1 1.4 .1 1.4 .1 1.4 .1 1.4 .2 2.8 .3 2.8 .4 2.8 .5 2.8 .5 2.8 .6 2.9-.6 2.8-.5 2.8-.5 2.8-.4 2.8-.3 2.8-.3 2.8-.2 2.8-.2 2.8 0 2.8-.1 2.9 .1 2.8 0 2.8 .2 2.8 .2 2.8 .3M193 286.5l2.4 .5 2.5 .5 2.4 .6 2.4 .6 2.5 .7 2.4 .7 2.4 .7 2.5 .8 2.4 .9 2.4 .9 2.5 .9 2.4 1 2.4 1.1 2.5 1 2.4 1.2 2.4 1.1 2.5 1.3 2.4 1.2M247.3 301.9l1.4-.7 1.4-.6 1.4-.7 1.4-.7 1.4-.6 1.4-.6 1.4-.6 1.4-.6 1.5-.6 1.4-.5 1.4-.6 1.4-.5 1.4-.5 1.4-.5 1.4-.5 1.4-.5 2.8 .1 2.8 0 2.8 .2 2.8 .2 2.8 .3 2.9 .3 2.8 .4 2.8 .5 2.8-1 2.8-1 2.8-.9 2.8-.8 2.8-.8 2.8-.7 2.8-.6 2.9-.6 2.8-.5 2.8-.5 2.8-.4 2.8-.3M193 286.5l2.4-.4 2.5-.4 2.4-.4 2.4-.3 2.5-.2 2.4-.2 2.4-.2 2.5-.1 2.4-.1 2.4 0 2.5 0 2.4 .1 2.4 .1 2.5 .2 2.4 .2 2.4 .2 2.5 .3 2.4 .4 2.4 .4 2.5 .4 1.4 .2 1.4 .1 1.4 .2 1.4 .2 1.4 .3 1.4 .2 1.4 .2 1.4 .3 1.4 .3 1.4 .3 1.4 .3 1.4 .3 1.5 .4 1.4 .3 1.4 .4 1.4 .4 1.4 .4 1.4 .4 1.4 .5 1.4 .4 2.8-.9 2.8-.8 2.8-.8 2.8-.7 2.8-.6 2.9-.6 2.8-.5 2.8-.5 2.8-.4 2.8-.3 2.8-.3 2.8-.2 2.8-.2 2.8 0 2.8-.1 2.9 .1 2.8 0 2.8 .2 2.8 .2 2.8 .3M193 286.5l2.4 0 2.5 .1 2.4 .1 2.4 .2 2.5 .2 2.4 .2 2.4 .3 2.5 .4 2.4 .4 2.4 .4 2.5 .5 2.4 .5 2.4 .6 2.5 .6 2.4 .7 2.4 .7 2.5 .7 2.4 .8 2.4 .9 2.5 .9 1.4 .3 1.4 .3 1.4 .4 1.4 .3 1.4 .4 1.4 .4 1.4 .4 1.4 .4 1.4 .5 1.4 .4 1.4 .5 1.4 .5 1.5 .5 1.4 .5 1.4 .5M275.4 301.9l2.8-1.3 2.8-1.4 2.8-1.2 2.9-1.2 2.8-1.1 2.8-1.1 2.8-1 2.8-1 2.8-.9 2.8-.8 2.8-.8 2.8-.7 2.8-.6 2.9-.6 2.8-.5 2.8-.5 2.8-.4 2.8-.3M193 286.5l2.4-.4 2.5-.4 2.4-.4 2.4-.3 2.5-.2 2.4-.2 2.4-.2 2.5-.1 2.4-.1 2.4 0 2.5 0 2.4 .1 2.4 .1 2.5 .2 2.4 .2 2.4 .2 2.5 .3 2.4 .4 2.4 .4 2.5 .4 1.4-.2 1.4-.1 1.4-.1 1.4-.1 1.4-.1 1.4-.1 1.4 0 1.4 0 1.4-.1 1.4 0 1.4 0 1.4 .1 1.5 0 1.4 0 1.4 .1 1.4 .1 1.4 .1 1.4 .1 1.4 .1 1.4 .2 2.8-.6 2.8-.5 2.8-.5 2.8-.4 2.8-.3 2.9-.3 2.8-.2 2.8-.2 2.8 0 2.8-.1 2.8 .1 2.8 0 2.8 .2 2.8 .2 2.8 .3 2.9 .3 2.8 .4 2.8 .5 2.8 .5 2.8 .6M195.4 194.5l2.5 2.1 2.4 1.9 2.4 1.8 2.5 1.7 2.4 1.6 2.4 1.5 2.5 1.4 2.4 1.2 2.4 1.2 2.5 1 2.4 .9 2.4 .9 2.5 .7 2.4 .6 2.4 .5 2.5 .4 2.4 .2 2.4 .2 2.5 .1 1.4-.8 1.4-.8 1.4-.8 1.4-.9 1.4-.9 1.4-.9 1.4-1 1.4-1 1.4-1 1.4-1.1 1.4-1.1 1.4-1.2 1.5-1.2 1.4-1.2 1.4-1.2 1.4-1.3 1.4-1.4 1.4-1.4M275.4 195l2.8 1.1 2.8 1 2.8 .8 2.9 .6 2.8 .6 2.8 .3 2.8 .2 2.8 .1 2.8-.1 2.8-.2 2.8-.3 2.8-.6 2.8-.6 2.9-.8 2.8-1 2.8-1.1M275.4 195l2.8 1.1 2.8 1 2.8 .8 2.9 .6 2.8 .6 2.8 .3 2.8 .2 2.8 .1 2.8-.1 2.8-.2 2.8-.3 2.8-.6 2.8-.6 2.9-.8 2.8-1 2.8-1.1M195.4 194.5l2.5 2.1 2.4 1.9 2.4 1.8 2.5 1.7 2.4 1.6 2.4 1.5 2.5 1.4 2.4 1.2 2.4 1.2 2.5 1 2.4 .9 2.4 .9 2.5 .7 2.4 .6 2.4 .5 2.5 .4 2.4 .2 2.4 .2 2.5 .1 1.4 .7 1.4 .7 1.4 .6 1.4 .6 1.4 .6 1.4 .5 1.4 .5 1.4 .4 1.4 .5 1.4 .4 1.4 .3 1.4 .3 1.5 .3 1.4 .2 1.4 .2 1.4 .2 1.4 .1 1.4 .1 1.4 .1 1.4 0 2.8-.1 2.8-.2 2.8-.4 2.8-.5 2.8-.6 2.9-.9 2.8-.9 2.8-1.1 2.8-1.2 2.8-1.4 2.8-1.6 2.8-1.7 2.8-1.8 2.8-2 2.8-2.1 2.9-2.3 2.8-2.4 2.8-2.5 2.8-2.8M212.5 194.9l2.4 2.1 2.4 1.9 2.5 1.9 2.4 1.8 2.4 1.6 2.5 1.6 2.4 1.5 2.4 1.4 2.5 1.3 2.4 1.2 2.4 1.1 2.5 1 1.4-.4 1.4-.3 1.4-.4 1.4-.5 1.4-.4 1.4-.5 1.4-.5 1.4-.6 1.4-.6 1.4-.6 1.4-.7 1.4-.7 1.5 .9 1.4 .9 1.4 .8 1.4 .8 1.4 .7 1.4 .7 1.4 .7 1.4 .7 2.8-.7 2.8-.9 2.8-.9 2.8-1.1 2.8-1.2 2.9-1.4 2.8-1.4 2.8-1.6 2.8-1.7 2.8-1.9 2.8-2 2.8-2.1M193 213.3l2.4-1 2.5-1.1 2.4-1.2 2.4-1.3 2.5-1.4 2.4-1.5 2.4-1.6 2.5-1.6 2.4-1.8 2.4-1.9 2.5-1.9 2.4-2.1M243.1 194.8l1.4 .6 1.4 .5 1.4 .5 1.4 .5 1.4 .5 1.4 .4 1.4 .4 1.4 .4 1.4 .3 1.4 .3 1.4 .3 1.5 .2 1.4 .3 1.4 .1 1.4 .2 1.4 .1 1.4 .1 1.4 0 1.4 0 2.8-2 2.8-2.1M300.7 196.6l2.8 2.4 2.8 2.2 2.8 2.1 2.8 2 2.9 1.8 2.8 1.8 2.8 1.6 2.8 1.4 2.8 1.4M193 213.3l2.4-.1 2.5-.1 2.4-.3 2.4-.3 2.5-.4 2.4-.6 2.4-.6 2.5-.7 2.4-.8 2.4-.9 2.5-1 2.4-1.1 2.4-1.2 2.5 .6 2.4 1.5 2.4 1.4 2.5 1.3 2.4 1.2 2.4 1.1 2.5 1 1.4 .3 1.4 .2 1.4 .3 1.4 .2 1.4 .2 1.4 .1 1.4 .1 1.4 .1 1.4 0 1.4 .1 1.4-.1 1.4 0 1.5-.1 1.4-.1 1.4-.1 1.4-.2 1.4-.2 1.4-.3 1.4-.2 1.4-.3 2.8-.7 2.8-.9 2.8-.9 2.8-1.1 2.8-1.2 2.9 1.2 2.8 1.1 2.8 .9 2.8 .9 2.8 .7 2.8 .5 2.8 .5 2.8 .3 2.8 .2 2.8 .1 2.9-.1 2.8-.2 2.8-.3 2.8-.5 2.8-.5M193 213.3l2.4-1 2.5-1.1 2.4-1.2 2.4-1.3 2.5-1.4 2.4-1.5 2.4-1.6 2.5-1.6 2.4-1.8 2.4-1.9 2.5-1.9 2.4-2.1M262.8 195.3l1.4 1.1 1.4 1.1 1.4 1 1.4 1.1 1.4 .9 2.8 0 2.8-.2 2.8-.3 2.8-.5 2.8-.6 2.9-.7 2.8-.8 2.8-1 2.8 2.1 2.8 2 2.8 1.9 2.8 1.7 2.8 1.6 2.8 1.4 2.8 1.4 2.9 1.2 2.8 1.1 2.8 .9 2.8 .9 2.8 .7M193 213.3l2.4 .9 2.5 .8 2.4 .7 2.4 .6 2.5 .5 2.4 .5 2.4 .3 2.5 .2 2.4 .2 2.4 0 2.5 0 2.4-.2 2.4-.2 2.5-.3 2.4-.5 2.4-.5 2.5-.6 2.4-.7 2.4-.8 2.5-.9 1.4-.4 1.4-.3 1.4-.4 1.4-.5 1.4-.4 1.4-.5 1.4-.5 1.4-.6 1.4-.6 1.4-.6 1.4-.7 1.4-.7 1.5-.7 1.4-.7 1.4-.8 1.4-.8 1.4-.9 1.4-.8 1.4-.9 1.4-1 2.8 1.9 2.8 1.7 2.8 1.6 2.8 1.4 2.8 1.4 2.9 1.2 2.8 1.1 2.8 .9 2.8 .9 2.8 .7 2.8 .5 2.8 .5 2.8 .3 2.8 .2 2.8 .1 2.9-.1 2.8-.2 2.8-.3 2.8-.5 2.8-.5M193 213.3l2.4-.1 2.5-.1 2.4-.3 2.4-.3 2.5-.4 2.4-.6 2.4-.6 2.5-.7 2.4-.8 2.4-.9 2.5-1 2.4-1.1 2.4-1.2 2.5-1.3 2.4-1.4 2.4-1.5 2.5-1.5 2.4-1.7 2.4-1.8M292.3 196.4l2.8 2.1 2.8 2 2.8 1.9 2.8 1.7 2.8 1.6 2.8 1.4 2.8 1.4 2.9 1.2 2.8 1.1 2.8 .9 2.8 .9 2.8 .7M193 213.3l2.4 .9 2.5 .8 2.4 .7 2.4 .6 2.5 .5 2.4 .5 2.4 .3 2.5 .2 2.4 .2 2.4 0 2.5 0 2.4-.2 2.4-.2 2.5-.3 2.4-.5 2.4-.5 2.5-.6 2.4-.7 2.4-.8 2.5-.9 1.4 .3 1.4 .2 1.4 .3 1.4 .2 1.4 .2 1.4 .1 1.4 .1 1.4 .1 1.4 0 1.4 .1 1.4-.1 1.4 0 1.5-.1 1.4-.1 1.4-.1 1.4-.2 1.4-.2 1.4-.3 1.4-.2 1.4-.3 2.8 1.2 2.8 1.1 2.8 .9 2.8 .8 2.8 .7 2.9 .6 2.8 .5 2.8 .3 2.8 .2 2.8 0 2.8 0 2.8-.2 2.8-.3 2.8-.5 2.8-.6 2.9-.7 2.8-.8 2.8-.9 2.8-1.1 2.8-1.2M193 214.4l2.4-2.5 2.5-2.4 2.4-2.3 2.4-2.3 2.5-2.1 2.4-2.1 2.4-2 2.5-1.9 2.4-1.8M303.5 195.5l2.8 1.9 2.8 2.1 2.8 2.2 2.9 2.3 2.8 2.4 2.8 2.6 2.8 2.6 2.8 2.8M219.8 195l2.4 1.8 2.4 1.9 2.5 2 2.4 2.1 2.4 2.1 2.5-2 2.4-1.9 2.4-1.8 2.5-1.7 1.4-.6 1.4-.5 1.4-.5 1.4-.4 1.4-.5 1.4-.4M275.4 195.5l2.8 1.9 2.8 2.1 2.8 2.2 2.9 2.3 2.8 .8 2.8-2.6 2.8-2.4 2.8-2.3 2.8-2.2M219.8 195l2.4 1.8 2.4 1.9 2.5 2 2.4 2.1 2.4 2.1 2.5 2.3 2.4 2.3 2.4 2.4 2.5 2.5 1.4-1.4 1.4-1.4 1.4-1.3 1.4-1.3 1.4-1.3 1.4-1.3 1.4-1.2 1.4-1.2 1.4-1.1 1.4-1.2 1.4-1.1 1.4-1.1 1.5-1 1.4-1.1 1.4-1 1.4-.9 1.4-1M289.5 194.6l2.8 .9M239.2 195.8l2.5 1.7 1.4 .6 1.4 .6 1.4 .6 1.4 .7 1.4 .7 1.4 .7 1.4 .7 1.4 .8 1.4 .8 1.4 .8 1.4 .9 1.4 .9 1.5 .9 1.4 .9 1.4 1 1.4 1 1.4 1 1.4 1.1 1.4 1.1 1.4 1.1 2.8-2.8 2.8-2.6 2.8-2.6 2.8-2.4 2.8-2.3 2.9-2.2 2.8-2.1 2.8-1.9M193 208.3l2.4 0 2.5-.1 2.4-.2 2.4-.2 2.5-.2 2.4-.3 2.4-.4 2.5-.4 2.4-.5 2.4-.5 2.5-.6 2.4-.7 2.4-.7 2.5-.7 2.4-.9 2.4-.8 2.5-1 2.4-1 2.4-1 2.5-1.1 1.4 0 1.4 0 1.4-.1 1.4-.1 1.4 0 1.4-.1 1.4-.2 1.4-.1 1.4-.2 1.4-.1 1.4-.2 1.4-.3 1.5-.2 1.4-.2 1.4-.3 1.4-.3M272.6 194.7l2.8 1.4 2.8 1.3 2.8 1.3 2.8 1.1 2.9 1.1 2.8 1 2.8 1 2.8 .8 2.8 .8 2.8 .7 2.8 .7 2.8 .5 2.8 .5 2.8 .4 2.9 .4 2.8 .2 2.8 .2 2.8 .1 2.8 .1M236.8 194.6l2.4 1.2 2.5 1.2 1.4 0 1.4 0 1.4-.1 1.4-.1 1.4 0 1.4-.1 1.4-.2 1.4-.1 1.4-.2 1.4-.1 1.4-.2 1.4-.3 1.5-.2 1.4-.2 1.4-.3 1.4-.3M229.5 196l2.4 1.9 2.5-1.5 2.4-1.5M247.3 194.9l1.4 .8 1.4 .8 1.4 .7 1.4 .8 1.4 .8 1.4 .9 1.4 .8 1.4 .8 1.5 .9 1.4 .8 1.4 .9 1.4 .9 1.4 .9 1.4 .9 1.4 .9 1.4 .9 2.8-2.3 2.8-2.2 2.8-2.3 2.8-2.2 2.8-2.1 2.9-2.1M193 207.8l2.4 0 2.5-.1 2.4-.1 2.4-.2 2.5-.2 2.4-.2 2.4-.3 2.5-.4 2.4-.4 2.4-.4 2.5-.5 2.4-.6 2.4-.5 2.5-.7 2.4-.7 2.4-.7 2.5-.8 2.4-.8 2.4-.8 2.5-.9 1.4-.1 1.4 0 1.4 0 1.4-.1 1.4 0 1.4-.1 1.4-.1 1.4-.1 1.4-.2 1.4-.1 1.4-.2 1.4-.2 1.5-.2 1.4-.2 1.4-.2 1.4-.2 1.4-.3 1.4-.3 1.4-.3 1.4-.3 2.8 1.3 2.8 1.1 2.8 1.1 2.8 1 2.8 1 2.9 .9 2.8 .8 2.8 .8 2.8 .7 2.8 .7 2.8 .6 2.8 .5 2.8 .5 2.8 .4 2.8 .3 2.9 .3 2.8 .2 2.8 .2 2.8 .1 2.8 0M268.4 194.7l1.4 .6 2.8-.6M234.4 195.4l2.4 1.1 2.4 1 2.5 1 1.4-.1 1.4 0 1.4 0 1.4-.1 1.4 0 1.4-.1 1.4-.1 1.4-.1 1.4-.2 1.4-.1 1.4-.2 1.4-.2 1.5-.2 1.4-.2 1.4-.2 1.4-.2 1.4-.3 1.4-.3 1.4-.3 1.4-.3 2.8-.6" stroke="none" fill="none" marker-start="url(#mf055c8085)" marker-mid="url(#mf055c8085)" marker-end="url(#mf055c8085)"/></g>
<rect x="192.5" y="194.5" width="134.0" height="108.0" fill="none" stroke="#858585" stroke-width="1"/>
<line x1="193" y1="195.0" x2="195" y2="195.0" stroke="#858585" stroke-width="0.8"/>
<text x="190.5" y="198.3" font-size="9.5" text-anchor="end" >2</text>
<line x1="193" y1="221.75" x2="195" y2="221.75" stroke="#858585" stroke-width="0.8"/>
<text x="190.5" y="225.05" font-size="9.5" text-anchor="end" >1</text>
<line x1="193" y1="248.5" x2="195" y2="248.5" stroke="#858585" stroke-width="0.8"/>
<text x="190.5" y="251.8" font-size="9.5" text-anchor="end" >0</text>
<line x1="193" y1="275.25" x2="195" y2="275.25" stroke="#858585" stroke-width="0.8"/>
<text x="190.5" y="278.55" font-size="9.5" text-anchor="end" >-1</text>
<line x1="193" y1="302.0" x2="195" y2="302.0" stroke="#858585" stroke-width="0.8"/>
<text x="190.5" y="305.3" font-size="9.5" text-anchor="end" >-2</text>
<line x1="193" y1="302" x2="193" y2="300" stroke="#858585" stroke-width="0.8"/>
<text x="193" y="312" font-size="9.5" text-anchor="middle" >Γs</text>
<line x1="241.678" y1="302" x2="241.678" y2="300" stroke="#858585" stroke-width="0.8"/>
<text x="241.678" y="312" font-size="9.5" text-anchor="middle" >Ms</text>
<line x1="269.7942" y1="302" x2="269.7942" y2="300" stroke="#858585" stroke-width="0.8"/>
<text x="269.7942" y="312" font-size="9.5" text-anchor="middle" >Ks</text>
<line x1="326" y1="302" x2="326" y2="300" stroke="#858585" stroke-width="0.8"/>
<text x="326" y="312" font-size="9.5" text-anchor="middle" >Γs</text>
<text x="265" y="189.5" font-size="10" text-anchor="middle" >E<tspan font-size="0.65em" baseline-shift="-2.2">Field</tspan> = 0.2 eV/Å</text>
<circle cx="204.8" cy="237.9" r="3.2" fill="#1a1aee"/><circle cx="204.6" cy="251.3" r="3.2" fill="#ee55bb"/>
<text x="214.6" y="239.8" font-size="8.6" text-anchor="start" >Layer 1</text>
<text x="214.6" y="253.9" font-size="8.6" text-anchor="start" >Layer 2</text>
<line x1="270" y1="265" x2="270.0" y2="236.0" stroke="#222" stroke-width="0.7" stroke-dasharray="1,1"/>
<path d="M270.0 232.0L271.8 236.0L268.2 236.0Z" fill="#222"/>
<g stroke="#2fae4a" fill="#2fae4a"><line x1="270.2" y1="225.5" x2="270.2" y2="229" stroke-width="1"/><path d="M270.2 222.8l-2 3.2h4z M270.2 231.6l-2 -3.2h4z" stroke="none"/></g>
<text x="273.8" y="239.2" font-size="9.6" text-anchor="start" font-weight="normal"><tspan fill="#2fae4a">Δ<tspan font-style="italic">E</tspan><tspan font-size="0.7em" baseline-shift="-2.2">Diff</tspan></tspan></text>
<rect x="194.5" y="30.5" width="135" height="110" fill="#f4f2f0" stroke="#858585" stroke-width="1"/>
<line x1="207.8" y1="140" x2="207.8" y2="138" stroke="#858585" stroke-width="0.8"/>
<text x="207.8" y="150.5" font-size="9.5" text-anchor="middle" >0.1</text>
<line x1="262.2" y1="140" x2="262.2" y2="138" stroke="#858585" stroke-width="0.8"/>
<text x="262.2" y="150.5" font-size="9.5" text-anchor="middle" >0.2</text>
<line x1="316.6" y1="140" x2="316.6" y2="138" stroke="#858585" stroke-width="0.8"/>
<text x="316.6" y="150.5" font-size="9.5" text-anchor="middle" >0.3</text>
<line x1="195" y1="132.6" x2="197" y2="132.6" stroke="#858585" stroke-width="0.8"/>
<text x="191.5" y="135.9" font-size="9.5" text-anchor="end" >0.1</text>
<line x1="195" y1="103.6" x2="197" y2="103.6" stroke="#858585" stroke-width="0.8"/>
<text x="191.5" y="106.9" font-size="9.5" text-anchor="end" >0.2</text>
<line x1="195" y1="74.6" x2="197" y2="74.6" stroke="#858585" stroke-width="0.8"/>
<text x="191.5" y="77.9" font-size="9.5" text-anchor="end" >0.3</text>
<line x1="195" y1="45.6" x2="197" y2="45.6" stroke="#858585" stroke-width="0.8"/>
<text x="191.5" y="48.9" font-size="9.5" text-anchor="end" >0.4</text>
<polyline points="207.8,120.4 262.2,79.0 316.6,39.2" stroke="#f28a2e" stroke-width="1.15" fill="none"/>
<circle cx="207.8" cy="120.4" r="1.5" fill="#f28a2e"/>
<circle cx="262.2" cy="79.0" r="1.5" fill="#f28a2e"/>
<circle cx="316.6" cy="39.2" r="1.5" fill="#f28a2e"/>
<polyline points="207.8,123.0 262.2,84.8 316.6,47.1" stroke="#4cc35a" stroke-width="1.15" fill="none"/>
<path d="M206.3 121.4L209.6 123.0L206.3 124.7Z" fill="#4cc35a"/>
<path d="M260.7 83.1L264.0 84.8L260.7 86.4Z" fill="#4cc35a"/>
<path d="M315.1 45.4L318.4 47.1L315.1 48.7Z" fill="#4cc35a"/>
<polyline points="207.8,127.1 262.2,91.7 316.6,55.8" stroke="#f040b8" stroke-width="1.15" fill="none"/>
<circle cx="207.8" cy="127.1" r="1.5" fill="#f040b8"/>
<circle cx="262.2" cy="91.7" r="1.5" fill="#f040b8"/>
<circle cx="316.6" cy="55.8" r="1.5" fill="#f040b8"/>
<polyline points="207.8,131.4 262.2,101.6 316.6,71.7" stroke="#9a52cf" stroke-width="1.15" fill="none"/>
<path d="M207.8 129.6L209.5 131.4L207.8 133.2L206.2 131.4Z" fill="#9a52cf"/>
<path d="M262.2 99.8L263.9 101.6L262.2 103.4L260.6 101.6Z" fill="#9a52cf"/>
<path d="M316.6 69.9L318.2 71.7L316.6 73.5L315.0 71.7Z" fill="#9a52cf"/>
<line x1="198.2" y1="34.7" x2="215.7" y2="34.7" stroke="#f28a2e" stroke-width="1.4"/>
<circle cx="208.5" cy="34.7" r="2.3" fill="#f28a2e"/>
<text x="216.5" y="38.0" font-size="9.5" text-anchor="start" >WS<tspan font-size="0.65em" baseline-shift="-2.2">2</tspan> bilayer</text>
<line x1="198.2" y1="48.2" x2="215.7" y2="48.2" stroke="#4cc35a" stroke-width="1.4"/>
<path d="M206.2 45.7L211.3 48.2L206.2 50.7Z" fill="#4cc35a"/>
<text x="218.6" y="51.5" font-size="9.5" text-anchor="start" >MoS<tspan font-size="0.65em" baseline-shift="-2.2">2</tspan>/WS<tspan font-size="0.65em" baseline-shift="-2.2">2</tspan></text>
<line x1="198.2" y1="61" x2="215.7" y2="61" stroke="#f040b8" stroke-width="1.4"/>
<circle cx="208.5" cy="61.0" r="2.3" fill="#f040b8"/>
<text x="218.9" y="64.3" font-size="9.5" text-anchor="start" >MoS<tspan font-size="0.65em" baseline-shift="-2.2">2</tspan> bilayer</text>
<line x1="198.2" y1="73.1" x2="215.7" y2="73.1" stroke="#9a52cf" stroke-width="1.4"/>
<path d="M208.5 70.3L211.0 73.1L208.5 75.9L206.0 73.1Z" fill="#9a52cf"/>
<text x="218.9" y="76.39999999999999" font-size="9.5" text-anchor="start" >MoSe<tspan font-size="0.65em" baseline-shift="-2.2">2</tspan> bilayer</text>
<text x="173.2" y="9.5" font-size="11.5" text-anchor="start" >(c)</text>
<text x="257.7" y="22.5" font-size="10.5" text-anchor="middle" >Δ<tspan font-style="italic">E</tspan><tspan font-size="0.65em" baseline-shift="-2.2">Diff</tspan>=<tspan font-style="italic">E</tspan><tspan font-size="0.65em" baseline-shift="-2.2">Diff</tspan>(E<tspan font-size="0.65em" baseline-shift="-2.2">Field</tspan>≠0)−<tspan font-style="italic">E</tspan><tspan font-size="0.65em" baseline-shift="-2.2">Diff</tspan>(0)</text>
<text transform="translate(176.2,73.7) rotate(-90)" font-size="10.5" text-anchor="middle">Δ <tspan font-style="italic">E</tspan><tspan font-size="0.7em" baseline-shift="-2.2">Diff</tspan> (eV)</text>
<text x="269" y="160.5" font-size="10" text-anchor="middle" >E<tspan font-size="0.65em" baseline-shift="-2.2">Field</tspan> (eV/Å)</text>
<clipPath id="cd1"><rect x="383.5" y="30.5" width="134.0" height="108.0"/></clipPath>
<clipPath id="cd2"><rect x="535.5" y="30.5" width="134.0" height="108.0"/></clipPath>
<g clip-path="url(#cd1)"><path d="M383 117.9l4.9 .2 4.9 .5 4.9 .8 4.9 1.2 4.9 1.5 4.9 1.8 4.9 2.2 4.9 2.5 4.9 2.9 4.9 3.1 2.9 .1 2.8 .2 2.8 .2 2.9 .4 2.8 .5 2.8 .6 2.9 .8 2.8 .8 2.8 1 2.9 1 5.6-4.2 5.7-3.8 5.7-3.4 5.6-2.9 5.7-2.4 5.6-2 5.7-1.6 5.7-1.1 5.6-.7 5.7-.2M457.5 142.5l2.9-2.3 5.6 2.5M422.2 142l4.9-3.8 4.9-3.6 2.9 .1 2.8 .2 2.8 .2 2.9 .4 2.8 .5 2.8 .6 2.9 .8 2.8 .8 2.8 1 2.9 1 5.6 2.5M383 108.8l4.9 .2 4.9 .5 4.9 .8 4.9 1.2 4.9 1.5 4.9 1.9 4.9 2.1 4.9 2.5 4.9 2.9 4.9 3.2 2.9 0 2.8 .2 2.8 .3 2.9 .4 2.8 .5 2.8 .6 2.9 .7 2.8 .8 2.8 1 2.9 1 5.6-4.2 5.7-3.8 5.7-3.3 5.6-2.9 5.7-2.5 5.6-2 5.7-1.6 5.7-1.1 5.6-.6 5.7-.3M449 140.9l2.9-2.6 2.8-2.5 2.8-2.4 2.9-2.3 5.6 2.5 5.7 2.9 5.7 3.3 5.6 3.8M412.4 141.6l4.9-4.5 4.9-4.2 4.9-3.8 4.9-3.5 2.9 0 2.8 .2 2.8 .3 2.9 .4 2.8 .5 2.8 .6 2.9 .7 2.8 .8 2.8 1 2.9 1 5.6 2.5 5.7 2.9 5.7 3.3 5.6 3.8M383 99.8l4.9 .1 4.9 .5 4.9 .9 4.9 1.1 4.9 1.5 4.9 1.9 4.9 2.2 4.9 2.5 4.9 2.8 4.9 3.2 2.9 0 2.8 .2 2.8 .3 2.9 .4 2.8 .5 2.8 .6 2.9 .7 2.8 .8 2.8 1 2.9 1.1 5.6-4.3 5.7-3.8 5.7-3.3 5.6-2.9 5.7-2.5 5.6-2 5.7-1.5 5.7-1.1 5.6-.7 5.7-.2M437.7 143.5l2.8-3.1 2.9-3 2.8-2.8 2.8-2.7 2.9-2.7 2.8-2.5 2.8-2.4 2.9-2.2 5.6 2.4 5.7 2.9 5.7 3.3 5.6 3.8 5.7 4.3 5.6 4.7M402.6 142.6l4.9-5.2 4.9-4.9 4.9-4.5 4.9-4.2 4.9-3.8 4.9-3.5 2.9 0 2.8 .2 2.8 .3 2.9 .4 2.8 .5 2.8 .6 2.9 .7 2.8 .8 2.8 1 2.9 1.1 5.6 2.4 5.7 2.9 5.7 3.3 5.6 3.8 5.7 4.3 5.6 4.7M383 142.5l4.9-5.3 4.9-4.7 4.9-4.1 4.9-3.6 4.9-3.1 4.9-2.5 4.9-1.9 4.9-1.4 4.9-.8 4.9-.3 2.9 1.9 2.8 2.2 2.8 2.3 2.9 2.5 2.8 2.6 2.8 2.9 2.9 3 2.8 3.3 2.8 3.4 2.9 3.6M460.4 142.5l5.6-3.3 5.7-2.6 5.7-1.9 5.6-1.1 5.7-.3 5.6 .3 5.7 1.1 5.7 1.9 5.6 2.6 5.7 3.3M460.4 142.5l5.6-3.3 5.7-2.6 5.7-1.9 5.6-1.1 5.7-.3 5.6 .3 5.7 1.1 5.7 1.9 5.6 2.6 5.7 3.3M383 142.5l4.9-5.3 4.9-4.7 4.9-4.1 4.9-3.6 4.9-3.1 4.9-2.5 4.9-1.9 4.9-1.4 4.9-.8 4.9-.3 2.9-1.8 2.8-1.5 2.8-1.4 2.9-1.2 2.8-1 2.8-.9 2.9-.6 2.8-.5 2.8-.3 2.9 0 5.6 .3 5.7 1.1 5.7 1.9 5.6 2.6 5.7 3.3 5.6 4.1 5.7 4.8 5.7 5.5 5.6 6.3 5.7 7M383 142.3l4.9-5.3 4.9-4.7 4.9-4.1 4.9-3.6 4.9-3.1 4.9-2.5 4.9-1.9 4.9-1.4 4.9-.8 4.9-.3 2.9 1.9 2.8 2.2 2.8 2.3 2.9 2.5 2.8 2.6 2.8 2.9 2.9 3.1 2.8 3.2 2.8 3.4 2.9 3.6M460.4 142.3l5.6-3.3 5.7-2.6 5.7-1.9 5.6-1.1 5.7-.3 5.6 .3 5.7 1.1 5.7 1.9 5.6 2.6 5.7 3.3M460.4 142.3l5.6-3.3 5.7-2.6 5.7-1.9 5.6-1.1 5.7-.3 5.6 .3 5.7 1.1 5.7 1.9 5.6 2.6 5.7 3.3M383 142.3l4.9-5.3 4.9-4.7 4.9-4.1 4.9-3.6 4.9-3.1 4.9-2.5 4.9-1.9 4.9-1.4 4.9-.8 4.9-.3 2.9-1.8 2.8-1.5 2.8-1.4 2.9-1.2 2.8-1 2.8-.9 2.9-.6 2.8-.5 2.8-.2 2.9-.1 5.6 .3 5.7 1.1 5.7 1.9 5.6 2.6 5.7 3.3 5.6 4.1 5.7 4.8 5.7 5.5 5.6 6.3 5.7 7M383 142.1l4.9-5.2 4.9-4.8 4.9-4.1 4.9-3.6 4.9-3.1 4.9-2.5 4.9-1.9 4.9-1.4 4.9-.8 4.9-.3 2.9 2 2.8 2.1 2.8 2.3 2.9 2.5 2.8 2.7 2.8 2.8 2.9 3.1 2.8 3.2 2.8 3.4 2.9 3.6M460.4 142.1l5.6-3.3 5.7-2.6 5.7-1.8 5.6-1.1 5.7-.4 5.6 .4 5.7 1.1 5.7 1.8 5.6 2.6 5.7 3.3M460.4 142.1l5.6-3.3 5.7-2.6 5.7-1.8 5.6-1.1 5.7-.4 5.6 .4 5.7 1.1 5.7 1.8 5.6 2.6 5.7 3.3M383 142.1l4.9-5.2 4.9-4.8 4.9-4.1 4.9-3.6 4.9-3.1 4.9-2.5 4.9-1.9 4.9-1.4 4.9-.8 4.9-.3 2.9-1.7 2.8-1.6 2.8-1.4 2.9-1.2 2.8-1 2.8-.8 2.9-.7 2.8-.5 2.8-.2 2.9-.1 5.6 .3 5.7 1.2 5.7 1.8 5.6 2.6 5.7 3.3 5.6 4.1 5.7 4.8 5.7 5.5 5.6 6.3 5.7 7M392.8 144.6l4.9-4.2 4.9-3.6 4.9-3 4.9-2.5 4.9-2 4.9-1.4 4.9-.8 4.9-.3 2.9 2 2.8 2.1 2.8 2.3 2.9 2.5 2.8 2.7 2.8 2.8M392.8 144.6l4.9-4.2 4.9-3.6 4.9-3 4.9-2.5 4.9-2 4.9-1.4 4.9-.8 4.9-.3 2.9-1.7 2.8-1.6 2.8-1.4 2.9-1.2 2.8-1 2.8-.8 2.9-.7 2.8-.4 2.8-.3 2.9-.1 5.6 .4 5.7 1.1 5.7 1.8 5.6 2.6 5.7 3.3 5.6 4.1 5.7 4.8 5.7 5.5M392.8 144.4l4.9-4.2 4.9-3.6 4.9-3 4.9-2.5 4.9-2 4.9-1.4 4.9-.8 4.9-.3 2.9 2 2.8 2.1 2.8 2.3 2.9 2.5 2.8 2.7 2.8 2.8M392.8 144.4l4.9-4.2 4.9-3.6 4.9-3 4.9-2.5 4.9-2 4.9-1.4 4.9-.8 4.9-.3 2.9-1.7 2.8-1.6 2.8-1.4 2.9-1.2 2.8-1 2.8-.8 2.9-.7 2.8-.4 2.8-.3 2.9-.1 5.6 .4 5.7 1.1 5.7 1.8 5.6 2.6 5.7 3.3 5.6 4.1 5.7 4.8 5.7 5.5M392.8 144.2l4.9-4.2 4.9-3.6 4.9-3 4.9-2.5 4.9-2 4.9-1.3 4.9-.9 4.9-.3 2.9 2 2.8 2.1 2.8 2.3 2.9 2.5 2.8 2.7 2.8 2.9M392.8 144.2l4.9-4.2 4.9-3.6 4.9-3 4.9-2.5 4.9-2 4.9-1.3 4.9-.9 4.9-.3 2.9-1.7 2.8-1.6 2.8-1.4 2.9-1.2 2.8-1 2.8-.8 2.9-.7 2.8-.4 2.8-.3 2.9-.1 5.6 .4 5.7 1.1 5.7 1.8 5.6 2.6 5.7 3.3 5.6 4.1 5.7 4.8 5.7 5.6M383 134.9l4.9-2 4.9-1.7 4.9-1.6 4.9-1.4 4.9-1.1 4.9-1 4.9-.7 4.9-.6 4.9-.3 4.9-.1 2.9 .8 2.8 .8 2.8 .8 2.9 1 2.8 1 2.8 1.1 2.9 1.2 2.8 1.2 2.8 1.3 2.9 1.3 5.6-1.2 5.7-1 5.7-.7 5.6-.4 5.7-.2 5.6 .2 5.7 .4 5.7 .7 5.6 1 5.7 1.2M383 134.9l4.9 2.3 4.9 2.4 4.9 2.6M505.7 141.1l5.6-3.2 5.7-3M383 134.9l4.9 .2 4.9 .3 4.9 .5 4.9 .7 4.9 1 4.9 1.1 4.9 1.4 4.9 1.6M440.5 141.6l2.9-1.2 2.8-1.1 2.8-1 2.9-.9 2.8-.9 2.8-.8 2.9-.8 5.6 3 5.7 3.2M494.3 142.8l5.7-2.4 5.7-2.1 5.6-1.8 5.7-1.6M383 134.9l4.9 .2 4.9 .3 4.9 .5 4.9 .7 4.9 1 4.9 1.1 4.9 1.4 4.9 1.6M440.5 141.6l2.9-1.2 2.8-1.1 2.8-1 2.9-.9 2.8-.9 2.8-.8 2.9-.8 5.6-1.2 5.7-1 5.7-.7 5.6-.4 5.7-.2 5.6 .2 5.7 .4 5.7 .7 5.6 1 5.7 1.2M383 134.9l4.9-2 4.9-1.7 4.9-1.6 4.9-1.4 4.9-1.1 4.9-1 4.9-.7 4.9-.6 4.9-.3 4.9-.1 2.9-.6 2.8-.6 2.8-.6 2.9-.4 2.8-.4 2.8-.3 2.9-.3 2.8-.2 2.8-.1 2.9 0 5.6 .1 5.7 .5 5.7 .7 5.6 1 5.7 1.2 5.6 1.6 5.7 1.8 5.7 2.1 5.6 2.4 5.7 2.6M383 134.9l4.9 2.3 4.9 2.4 4.9 2.6M494.3 142.8l5.7-2.4 5.7-2.1 5.6-1.8 5.7-1.6M383 133.9l4.9-2 4.9-1.8 4.9-1.5 4.9-1.4 4.9-1.2 4.9-.9 4.9-.8 4.9-.5 4.9-.3 4.9-.1 2.9 .7 2.8 .8 2.8 .9 2.9 1 2.8 1 2.8 1.1 2.9 1.1 2.8 1.3 2.8 1.3 2.9 1.3 5.6-1.2 5.7-1 5.7-.7 5.6-.4 5.7-.2 5.6 .2 5.7 .4 5.7 .7 5.6 1 5.7 1.2M383 133.9l4.9 2.2 4.9 2.5 4.9 2.6M500 143.6l5.7-3.5 5.6-3.2 5.7-3M383 133.9l4.9 .1 4.9 .3 4.9 .6 4.9 .7 4.9 1 4.9 1.1 4.9 1.4 4.9 1.6 4.9 1.8M437.7 141.8l2.8-1.2 2.9-1.2 2.8-1.1 2.8-1 2.9-1 2.8-.8 2.8-.8 2.9-.8 5.6 3 5.7 3.2 5.7 3.5M494.3 141.8l5.7-2.4 5.7-2.1 5.6-1.8 5.7-1.6M383 133.9l4.9 .1 4.9 .3 4.9 .6 4.9 .7 4.9 1 4.9 1.1 4.9 1.4 4.9 1.6 4.9 1.8M437.7 141.8l2.8-1.2 2.9-1.2 2.8-1.1 2.8-1 2.9-1 2.8-.8 2.8-.8 2.9-.8 5.6-1.2 5.7-1 5.7-.7 5.6-.4 5.7-.2 5.6 .2 5.7 .4 5.7 .7 5.6 1 5.7 1.2M383 133.9l4.9-2 4.9-1.8 4.9-1.5 4.9-1.4 4.9-1.2 4.9-.9 4.9-.8 4.9-.5 4.9-.3 4.9-.1 2.9-.7 2.8-.6 2.8-.5 2.9-.4 2.8-.4 2.8-.4 2.9-.2 2.8-.2 2.8-.1 2.9 0 5.6 .1 5.7 .4 5.7 .8 5.6 .9 5.7 1.3 5.6 1.5 5.7 1.9 5.7 2.1 5.6 2.4 5.7 2.6M383 133.9l4.9 2.2 4.9 2.5 4.9 2.6M494.3 141.8l5.7-2.4 5.7-2.1 5.6-1.8 5.7-1.6M383 132.9l4.9-2 4.9-1.8 4.9-1.6 4.9-1.3 4.9-1.2 4.9-.9 4.9-.8 4.9-.5 4.9-.3 4.9-.1 2.9 .7 2.8 .8 2.8 .9 2.9 .9 2.8 1.1 2.8 1.1 2.9 1.1 2.8 1.2 2.8 1.3 2.9 1.4 5.6-1.3 5.7-.9 5.7-.7 5.6-.5 5.7-.1 5.6 .1 5.7 .5 5.7 .7 5.6 .9 5.7 1.3M383 132.9l4.9 2.2 4.9 2.4 4.9 2.7 4.9 2.8M500 142.6l5.7-3.5 5.6-3.2 5.7-3M383 132.9l4.9 .1 4.9 .3 4.9 .6 4.9 .7 4.9 .9 4.9 1.2 4.9 1.4 4.9 1.5 4.9 1.8M437.7 140.8l2.8-1.3 2.9-1.1 2.8-1.1 2.8-1 2.9-1 2.8-.9 2.8-.8 2.9-.7 5.6 3 5.7 3.2 5.7 3.5M494.3 140.8l5.7-2.4 5.7-2.1 5.6-1.9 5.7-1.5M383 132.9l4.9 .1 4.9 .3 4.9 .6 4.9 .7 4.9 .9 4.9 1.2 4.9 1.4 4.9 1.5 4.9 1.8M437.7 140.8l2.8-1.3 2.9-1.1 2.8-1.1 2.8-1 2.9-1 2.8-.9 2.8-.8 2.9-.7 5.6-1.3 5.7-.9 5.7-.7 5.6-.5 5.7-.1 5.6 .1 5.7 .5 5.7 .7 5.6 .9 5.7 1.3M383 132.9l4.9-2 4.9-1.8 4.9-1.6 4.9-1.3 4.9-1.2 4.9-.9 4.9-.8 4.9-.5 4.9-.3 4.9-.1 2.9-.7 2.8-.6 2.8-.5 2.9-.5 2.8-.4 2.8-.3 2.9-.2 2.8-.2 2.8-.1 2.9 0 5.6 .1 5.7 .4 5.7 .7 5.6 1 5.7 1.3 5.6 1.5 5.7 1.8 5.7 2.2 5.6 2.3 5.7 2.7M383 132.9l4.9 2.2 4.9 2.4 4.9 2.7 4.9 2.8M494.3 140.8l5.7-2.4 5.7-2.1 5.6-1.9 5.7-1.5M387.9 142.4l4.9-1.8 4.9-1.8 4.9-1.9 4.9-2 4.9-2.1 4.9-2.1 4.9-2.2 4.9 1.7 4.9 1.7 2.9 .8 2.8 .7 2.8 .8 2.9 .7 2.8 .7 2.8 .7 2.9 .6 2.8 .6 2.8 .6 2.9 .5 5.6-2.2 5.7-2.3 5.7-2.5 5.6 .8 5.7 2.2 5.6 2.1 5.7 2 5.7 1.9 5.6 1.8M397.7 141.2l4.9-1 4.9-1.2 4.9-1.3 4.9-1.3 4.9-1.4 4.9-1.5 4.9-1.6 2.9 .8 2.8 .7 2.8 .8 2.9 .7 2.8 .7 2.8 .7 2.9 .6 2.8 .6 2.8 .6 2.9 .5 5.6 1.1 5.7 .9 5.7 .8M454.7 140.7l2.8-1 2.9-1.1 5.6 1.1 5.7 .9 5.7 .8M397.7 141.2l4.9-1 4.9-1.2 4.9-1.3 4.9-1.3 4.9-1.4 4.9-1.5 4.9-1.6 2.9-.9 2.8-.8 2.8-.9 2.9-.9 2.8-.9 2.8-1 2.9-1 2.8-1 2.8-1 2.9-1.1 5.6 2.6 5.7 2.6 5.7 2.4 5.6 2.4 5.7 2.2 5.6 2.1 5.7 2 5.7 1.9 5.6 1.8M383 138.4l4.9-1.7 4.9-1.7 4.9-1.9 4.9-1.9 4.9-2 4.9-2 4.9-2.2 4.9-2.2 4.9 1.7 4.9 1.7 2.9 .8 2.8 .8 2.8 .7 2.9 .7 2.8 .7 2.8 .7 2.9 .6 2.8 .6 2.8 .6 2.9 .6 5.6-2.3 5.7-2.3 5.7-2.4 5.6 .7 5.7 2.2 5.6 2.1 5.7 2 5.7 1.9 5.6 1.8 5.7 1.7M383 138.4l4.9 .8 4.9 .6 4.9 .7 4.9 .5M505.7 141.4l5.6-1.4 5.7-1.6M383 138.4l4.9-.9 4.9-.9 4.9-1 4.9-1.1 4.9-1.2 4.9-1.3 4.9-1.3 4.9-1.4 4.9-1.5 4.9-1.6 2.9 .8 2.8 .8 2.8 .7 2.9 .7 2.8 .7 2.8 .7 2.9 .6 2.8 .6 2.8 .6 2.9 .6 5.6 1 5.7 .9 5.7 .8 5.6 .7 5.7 .6 5.6 .5 5.7 .4 5.7 .3 5.6 .1 5.7 .1M383 138.4l4.9 .8 4.9 .6 4.9 .7 4.9 .5M437.7 140.8l2.8-.9 2.9-.9 2.8-1 2.8-.9 2.9-1 2.8-1 2.8-1.1 2.9-1 5.6 1 5.7 .9 5.7 .8 5.6 .7 5.7 .6 5.6 .5 5.7 .4 5.7 .3 5.6 .1 5.7 .1M383 138.4l4.9-.9 4.9-.9 4.9-1 4.9-1.1 4.9-1.2 4.9-1.3 4.9-1.3 4.9-1.4 4.9-1.5 4.9-1.6 2.9-.8 2.8-.9 2.8-.9 2.9-.9 2.8-.9 2.8-1 2.9-1 2.8-1 2.8-1 2.9-1.1 5.6 2.7 5.7 2.5 5.7 2.5 5.6 2.3 5.7 2.2 5.6 2.1 5.7 2 5.7 1.9 5.6 1.8 5.7 1.7M383 138.4l4.9 1.6 4.9 1.5M505.7 141.4l5.6-1.4 5.7-1.6M383 132.7l4.9-1.7 4.9-1.7 4.9-1.8 4.9-1.9 4.9-2 4.9-2.1 4.9-2.2 4.9-2.2 4.9 1.8 4.9 1.6 2.9 .8 2.8 .8 2.8 .7 2.9 .8 2.8 .6 2.8 .7 2.9 .6 2.8 .7 2.8 .5 2.9 .6 5.6-2.2 5.7-2.4 5.7-2.4 5.6 .7 5.7 2.2 5.6 2.1 5.7 2 5.7 1.9 5.6 1.8 5.7 1.7M383 132.7l4.9 .8 4.9 .7 4.9 .6 4.9 .5 4.9 .5 4.9 .3 4.9 .3 4.9 .2 4.9 .1 4.9 .1 2.9 .8 2.8 .7 2.8 .8 2.9 .7 2.8 .7 2.8 .7M477.4 141.4l5.6-.9 5.7-1 5.6-1.2 5.7-1.2 5.7-1.4 5.6-1.4 5.7-1.6M383 132.7l4.9-.8 4.9-1 4.9-1 4.9-1.1 4.9-1.2 4.9-1.2 4.9-1.4 4.9-1.4 4.9-1.5 4.9-1.6 2.9 .8 2.8 .8 2.8 .7 2.9 .8 2.8 .6 2.8 .7 2.9 .6 2.8 .7 2.8 .5 2.9 .6 5.6 1 5.7 .9 5.7 .9 5.6 .7 5.7 .6 5.6 .4 5.7 .4 5.7 .3 5.6 .2 5.7 0M383 132.7l4.9 .8 4.9 .7 4.9 .6 4.9 .5 4.9 .5 4.9 .3 4.9 .3 4.9 .2 4.9 .1 4.9 .1 2.9-.9 2.8-.8 2.8-.9 2.9-.9 2.8-.9 2.8-1 2.9-1 2.8-1 2.8-1 2.9-1.1 5.6 1 5.7 .9 5.7 .9 5.6 .7 5.7 .6 5.6 .4 5.7 .4 5.7 .3 5.6 .2 5.7 0M383 132.7l4.9-.8 4.9-1 4.9-1 4.9-1.1 4.9-1.2 4.9-1.2 4.9-1.4 4.9-1.4 4.9-1.5 4.9-1.6 2.9-.8 2.8-.9 2.8-.8 2.9-.9 2.8-1 2.8-.9 2.9-1 2.8-1 2.8-1.1 2.9-1.1 5.6 2.7 5.7 2.5 5.7 2.5 5.6 2.3 5.7 2.2 5.6 2.1 5.7 2 5.7 1.9 5.6 1.8 5.7 1.7M383 132.7l4.9 1.6 4.9 1.5 4.9 1.4 4.9 1.4 4.9 1.2 4.9 1.2M477.4 141.4l5.6-.9 5.7-1 5.6-1.2 5.7-1.2 5.7-1.4 5.6-1.4 5.7-1.6M383 134.3l4.9 2.7 4.9 2.5 4.9 2.4M500 142.6l5.7-2.6 5.6-2.7 5.7-3M417.3 141.9l4.9-2.4 4.9 2.2M471.7 142.6l5.7-2.6 5.6 1.1M417.3 141.9l4.9-2.4 4.9-2.5 4.9-2.7 2.9 1.5 2.8 1.5 2.8 1.4 2.9 1.3 2.8 1.3M440.5 141.5l2.9-.8 2.8-.9 2.8-1 2.9-1 2.8-1.1 2.8-1.2 2.9-1.2 5.6 3 5.7 2.7 5.7 2.6M383 129.1l4.9 2.7 4.9 2.6 4.9 2.3 4.9 2.2 4.9 2M488.7 141.7l5.6-2.1 5.7-2.2 5.7-2.5 5.6-2.8 5.7-3M407.5 140.9l4.9-2 4.9-2.2 4.9-2.3 4.9 2.1 4.9 2 2.9 .6 2.8 .5 2.8 .5 2.9 .4 2.8 .4M460.4 141.7l5.6-2.1 5.7-2.2 5.7-2.5 5.6 1 5.7 2.6 5.6 2.4M407.5 140.9l4.9-2 4.9-2.2 4.9-2.3 4.9-2.6 4.9-2.7 2.9 1.5 2.8 1.5 2.8 1.4 2.9 1.4 2.8 1.3 2.8 1.2 2.9 1.1 2.8 1.1 2.8 1.1M471.7 141.2l5.7-.7 5.6-.9 5.7 2.1M422.2 141.9l4.9-1.6 4.9-1.8 2.9-.6 2.8-.8 2.8-.7 2.9-.9 2.8-.9 2.8-1 2.9-1 2.8-1.1 2.8-1.2 2.9-1.2 5.6 3 5.7 2.8 5.7 2.5 5.6 2.2 5.7 2.1M383 123.9l4.9 2.8 4.9 2.5 4.9 2.4 4.9 2.1 4.9 2 4.9 1.8 4.9 1.6 4.9 1.4 4.9 1.2M443.4 141l2.8-.6 2.8-.6 2.9 .8 2.8 .8M471.7 141l5.7-1.2 5.6-1.6 5.7-1.7 5.6-2 5.7-2.3 5.7-2.5 5.6-2.8 5.7-3M387.9 141.7l4.9-1.2 4.9-1.4 4.9-1.6 4.9-1.8 4.9-2 4.9-2.1 4.9-2.4 4.9 2.2 4.9 1.9 2.9 .6 2.8 .6 2.8 .4 2.9 .5 2.8 .3 2.8 .3 2.9 .2 2.8 .2 2.8 .1 2.9 0 5.6-2 5.7-2.3 5.7-2.5 5.6 1 5.7 2.6 5.6 2.4 5.7 2.2 5.7 1.9 5.6 1.6M402.6 141.3l4.9-.9 4.9-1 4.9-.3 4.9 1.4 4.9 1.2M387.9 141.7l4.9-1.2 4.9-1.4 4.9-1.6 4.9-1.8 4.9-2 4.9-2.1 4.9-2.4 4.9-2.5 4.9-2.8 2.9 1.6 2.8 1.4 2.8 1.5 2.9 1.3 2.8 1.3 2.8 1.2 2.9 1.2 2.8 1.1 2.8 1 2.9 1 5.6-.1 5.7-.4 5.7-.6 5.6-.9 5.7 2 5.6 1.7 5.7 1.6 5.7 1.2M443.4 141l2.8-.6 2.8-.6 2.9-.8 2.8-.8 2.8-.8 2.9-.9 5.6 1.7 5.7 1.6 5.7 1.2M402.6 141.3l4.9-.9 4.9-1 4.9-1.2 4.9-1.5 4.9-1.6 4.9-1.8 2.9-.6 2.8-.7 2.8-.8 2.9-.9 2.8-.9 2.8-1 2.9-1 2.8-1.1 2.8-1.2 2.9-1.2 5.6 3 5.7 2.8 5.7 2.5 5.6 2.3 5.7 2 5.6 1.7 5.7 1.6 5.7 1.2M383 126.2l4.9 6 4.9 5.8 4.9 5.7M500 145.4l5.7-6.1 5.6-6.5 5.7-6.6M383 125.1l4.9 6 4.9 5.9 4.9 5.6M500 144.3l5.7-6.1 5.6-6.4 5.7-6.7M383 124.1l4.9 6 4.9 5.8 4.9 5.6M500 143.3l5.7-6.2 5.6-6.4 5.7-6.6M383 37l4.9 4.2 4.9 3.7 4.9 3.3 4.9 2.9 4.9 2.4 4.9 2 4.9 1.5 4.9 1.1 4.9 .7 4.9 .2 2.9-1.5 2.8-1.7 2.8-1.8 2.9-2 2.8-2.2 2.8-2.2 2.9-2.4 2.8-2.6 2.8-2.7 2.9-2.9 5.6 2.7 5.7 2 5.7 1.5 5.6 .9 5.7 .3 5.6-.3 5.7-.9 5.7-1.5 5.6-2 5.7-2.7M383 37l4.9-4.6 4.9-5M505.7 24.1l5.6 6.8 5.7 6.1M383 37l4.9-.2 4.9-.6 4.9-1.1 4.9-1.6 4.9-2 4.9-2.4 4.9-2.8M446.2 27.9l2.8 2.1 2.9 2 2.8 1.8 2.8 1.7 2.9 1.5 5.6-6.1 5.7-6.8M500 25.6l5.7 4.4 5.6 3.8 5.7 3.2M383 37l4.9-.2 4.9-.6 4.9-1.1 4.9-1.6 4.9-2 4.9-2.4 4.9-2.8M446.2 27.9l2.8 2.1 2.9 2 2.8 1.8 2.8 1.7 2.9 1.5 5.6 2.7 5.7 2 5.7 1.5 5.6 .9 5.7 .3 5.6-.3 5.7-.9 5.7-1.5 5.6-2 5.7-2.7M383 37l4.9 4.2 4.9 3.7 4.9 3.3 4.9 2.9 4.9 2.4 4.9 2 4.9 1.5 4.9 1.1 4.9 .7 4.9 .2 2.9 1.4 2.8 1.2 2.8 1.1 2.9 1 2.8 .8 2.8 .7 2.9 .5 2.8 .3 2.8 .3 2.9 0 5.6-.3 5.7-.8 5.7-1.5 5.6-2.1 5.7-2.6 5.6-3.2 5.7-3.8 5.7-4.4 5.6-5 5.7-5.6M383 37l4.9-4.6 4.9-5M500 25.6l5.7 4.4 5.6 3.8 5.7 3.2M383 35.1l4.9 4.2 4.9 3.8 4.9 3.2 4.9 2.9 4.9 2.4 4.9 2 4.9 1.5 4.9 1.1 4.9 .7 4.9 .2 2.9-1.5 2.8-1.7 2.8-1.8 2.9-2 2.8-2.1 2.8-2.3 2.9-2.4 2.8-2.6 2.8-2.7 2.9-2.9 5.6 2.7 5.7 2 5.7 1.5 5.6 .9 5.7 .3 5.6-.3 5.7-.9 5.7-1.5 5.6-2 5.7-2.7M383 35.1l4.9-4.6 4.9-5M505.7 22.2l5.6 6.8 5.7 6.1M383 35.1l4.9-.2 4.9-.6 4.9-1.1 4.9-1.6 4.9-2 4.9-2.4M449 28.1l2.9 2 2.8 1.8 2.8 1.7 2.9 1.5 5.6-6.1 5.7-6.8M505.7 28.1l5.6 3.8 5.7 3.2M383 35.1l4.9-.2 4.9-.6 4.9-1.1 4.9-1.6 4.9-2 4.9-2.4M449 28.1l2.9 2 2.8 1.8 2.8 1.7 2.9 1.5 5.6 2.7 5.7 2 5.7 1.5 5.6 .9 5.7 .3 5.6-.3 5.7-.9 5.7-1.5 5.6-2 5.7-2.7M383 35.1l4.9 4.2 4.9 3.8 4.9 3.2 4.9 2.9 4.9 2.4 4.9 2 4.9 1.5 4.9 1.1 4.9 .7 4.9 .2 2.9 1.4 2.8 1.2 2.8 1.1 2.9 1 2.8 .8 2.8 .7 2.9 .5 2.8 .3 2.8 .3 2.9 0 5.6-.3 5.7-.8 5.7-1.5 5.6-2.1 5.7-2.6 5.6-3.2 5.7-3.8 5.7-4.4 5.6-5 5.7-5.6M383 35.1l4.9-4.6 4.9-5M505.7 28.1l5.6 3.8 5.7 3.2M383 33.2l4.9 4.2 4.9 3.8 4.9 3.3 4.9 2.8 4.9 2.4 4.9 2 4.9 1.5 4.9 1.1 4.9 .7 4.9 .2 2.9-1.5 2.8-1.7 2.8-1.8 2.9-2 2.8-2.1 2.8-2.3 2.9-2.4 2.8-2.6 2.8-2.7 2.9-2.9 5.6 2.7 5.7 2 5.7 1.5 5.6 .9 5.7 .3 5.6-.3 5.7-.9 5.7-1.5 5.6-2 5.7-2.7M383 33.2l4.9-4.6 4.9-5M511.3 27.1l5.7 6.1M383 33.2l4.9-.2 4.9-.6 4.9-1.1 4.9-1.6 4.9-1.9M451.9 28.2l2.8 1.8 2.8 1.7 2.9 1.5 5.6-6.1M505.7 26.2l5.6 3.8 5.7 3.2M383 33.2l4.9-.2 4.9-.6 4.9-1.1 4.9-1.6 4.9-1.9M451.9 28.2l2.8 1.8 2.8 1.7 2.9 1.5 5.6 2.7 5.7 2 5.7 1.5 5.6 .9 5.7 .3 5.6-.3 5.7-.9 5.7-1.5 5.6-2 5.7-2.7M383 33.2l4.9 4.2 4.9 3.8 4.9 3.3 4.9 2.8 4.9 2.4 4.9 2 4.9 1.5 4.9 1.1 4.9 .7 4.9 .2 2.9 1.4 2.8 1.3 2.8 1.1 2.9 .9 2.8 .8 2.8 .7 2.9 .5 2.8 .4 2.8 .2 2.9 0 5.6-.2 5.7-.9 5.7-1.5 5.6-2 5.7-2.7 5.6-3.2 5.7-3.8 5.7-4.4 5.6-5 5.7-5.6M383 33.2l4.9-4.6 4.9-5M505.7 26.2l5.6 3.8 5.7 3.2M387.9 26.2l4.9 5.1 4.9 4.8 4.9 4.4 4.9 4 4.9 3.6 4.9 3.3 4.9 2.9 4.9 2.4 4.9 2.1 2.9-.7 2.8-.8 2.8-.9 2.9-1.1 2.8-1.2 2.8-1.4 2.9 1.7 2.8 1.6 2.8 1.5 2.9 1.3 5.6-1.5 5.7-2 5.7-2.6 5.6-3 5.7-3.6 5.6-4.1 5.7-4.6 5.7-5.1 5.6-5.6M383 58.8l4.9-2.1 4.9-2.4 4.9-2.9 4.9-3.3 4.9-3.6 4.9-4 4.9-4.4 4.9-4.8 4.9 4.4 4.9 4 2.9 1.2 2.8 1.1 2.8 1 2.9 .8 2.8 .7 2.8 .6 2.9 .4 2.8 .4 2.8 .1 2.9 .1 5.6-4.1 5.7-4.6 5.7-5.1 5.6 2.1 5.7 5.3 5.6 4.9 5.7 4.3 5.7 3.8 5.6 3.3 5.7 2.8M383 58.8l4.9-.1 4.9-.6 4.9-1 4.9-1.3 4.9-1.7 4.9-2.1 4.9-.6 4.9 2.9 4.9 2.4 4.9 2.1 2.9 .6 2.8 .5 2.8 .3 2.9 .2 2.8 0 2.8 0 2.9-.2 2.8-.3 2.8-.5 2.9-.6 5.6-1.5 5.7-2 5.7 0 5.6 2 5.7 1.5 5.6 1.1 5.7 .5 5.7 0 5.6-.5 5.7-1.1M383 58.8l4.9-2.1 4.9-2.4 4.9-2.9 4.9-3.3 4.9-3.6 4.9-4 4.9-4.4 4.9-4.8 4.9-5.1M437.7 26.7l2.8 2.9 2.9 2.7 2.8 2.7 2.8 2.4 2.9 2.4 2.8 2.2 2.8 2.1 2.9 2 5.6-.2 5.7-.8 5.7-1.3 5.6-1.8 5.7 4.1 5.6 3.6 5.7 3 5.7 2.6 5.6 2 5.7 1.5M383 58.8l4.9 1.8 4.9 1.3 4.9 1 4.9 .5 4.9 .2 4.9-.2 4.9-.5 4.9-1 4.9-1.3 4.9-1.8 2.9-.7 2.8-.8 2.8-.9 2.9-1.1 2.8-1.2 2.8-1.4 2.9-1.4 2.8-1.6 2.8-1.7 2.9-1.9 5.6 3.6 5.7 3 5.7 2.6 5.6 2 5.7 1.5 5.6 1.1 5.7 .5 5.7 0 5.6-.5 5.7-1.1M383 58.8l4.9-.1 4.9-.6 4.9-1 4.9-1.3 4.9-1.7 4.9-2.1 4.9-2.5 4.9-2.9 4.9-3.2 4.9-3.7 2.9-1.3 2.8-1.5 2.8-1.6 2.9-1.7 2.8-1.8 2.8-2 2.9-2.1M466 26.7l5.7 5.6 5.7 5.1 5.6 4.6 5.7 4.1 5.6 3.6 5.7 3 5.7 2.6 5.6 2 5.7 1.5M383 58.8l4.9 1.8 4.9 1.3 4.9 1 4.9 .5 4.9 .2 4.9-.2 4.9-.5 4.9-1 4.9-1.3 4.9-1.8 2.9 .6 2.8 .5 2.8 .3 2.9 .2 2.8 0 2.8 0 2.9-.2 2.8-.3 2.8-.5 2.9-.6 5.6 2.3 5.7 1.8 5.7 1.3 5.6 .8 5.7 .2 5.6-.2 5.7-.8 5.7-1.3 5.6-1.8 5.7-2.3M387.9 23.5l4.9 5.2 4.9 4.8 4.9 4.4 4.9 4 4.9 3.6 4.9 3.2 4.9 2.9 4.9 2.5 4.9 2.1 2.9-.7 2.8-.8 2.8-1 2.9-1.1 2.8-1.2 2.8-1.3 2.9 1.7 2.8 1.6 2.8 1.5 2.9 1.3 5.6-1.5 5.7-2.1 5.7-2.5 5.6-3.1 5.7-3.5 5.6-4.1 5.7-4.6 5.7-5.1 5.6-5.6M383 56.2l4.9-2.1 4.9-2.5 4.9-2.9 4.9-3.2 4.9-3.6 4.9-4 4.9-4.4 4.9-4.8 4.9 4.4 4.9 4 2.9 1.2 2.8 1.1 2.8 .9 2.9 .9 2.8 .7 2.8 .5 2.9 .5 2.8 .3 2.8 .2 2.9 .1 5.6-4.1 5.7-4.6 5.7-5.1 5.6 2 5.7 5.4 5.6 4.8 5.7 4.4 5.7 3.8 5.6 3.3 5.7 2.8M383 56.2l4.9-.2 4.9-.6 4.9-.9 4.9-1.4 4.9-1.7 4.9-2.1 4.9-.6 4.9 2.9 4.9 2.5 4.9 2.1 2.9 .6 2.8 .4 2.8 .3 2.9 .2 2.8 .1 2.8-.1 2.9-.2 2.8-.3 2.8-.4 2.9-.6 5.6-1.5 5.7-2.1 5.7 0 5.6 2.1 5.7 1.5 5.6 1 5.7 .5 5.7 0 5.6-.5 5.7-1M383 56.2l4.9-2.1 4.9-2.5 4.9-2.9 4.9-3.2 4.9-3.6 4.9-4 4.9-4.4 4.9-4.8 4.9-5.2M440.5 27l2.9 2.7 2.8 2.6 2.8 2.5 2.9 2.4 2.8 2.2 2.8 2.1 2.9 2 5.6-.3 5.7-.8 5.7-1.2 5.6-1.8 5.7 4.1 5.6 3.5 5.7 3.1 5.7 2.5 5.6 2.1 5.7 1.5M383 56.2l4.9 1.7 4.9 1.4 4.9 .9 4.9 .6 4.9 .2 4.9-.2 4.9-.6 4.9-.9 4.9-1.4 4.9-1.7 2.9-.7 2.8-.8 2.8-1 2.9-1.1 2.8-1.2 2.8-1.3 2.9-1.5 2.8-1.6 2.8-1.7 2.9-1.8 5.6 3.5 5.7 3.1 5.7 2.5 5.6 2.1 5.7 1.5 5.6 1 5.7 .5 5.7 0 5.6-.5 5.7-1M383 56.2l4.9-.2 4.9-.6 4.9-.9 4.9-1.4 4.9-1.7 4.9-2.1 4.9-2.5 4.9-2.8 4.9-3.3 4.9-3.6 2.9-1.3 2.8-1.5 2.8-1.6 2.9-1.7 2.8-1.9 2.8-1.9M466 24.1l5.7 5.6 5.7 5.1 5.6 4.6 5.7 4.1 5.6 3.5 5.7 3.1 5.7 2.5 5.6 2.1 5.7 1.5M383 56.2l4.9 1.7 4.9 1.4 4.9 .9 4.9 .6 4.9 .2 4.9-.2 4.9-.6 4.9-.9 4.9-1.4 4.9-1.7 2.9 .6 2.8 .4 2.8 .3 2.9 .2 2.8 .1 2.8-.1 2.9-.2 2.8-.3 2.8-.4 2.9-.6 5.6 2.3 5.7 1.8 5.7 1.2 5.6 .8 5.7 .3 5.6-.3 5.7-.8 5.7-1.2 5.6-1.8 5.7-2.3M392.8 26l4.9 4.8 4.9 4.4 4.9 4 4.9 3.6 4.9 3.3 4.9 2.9 4.9 2.4 4.9 2.1 2.9-.7 2.8-.8 2.8-.9 2.9-1.1 2.8-1.2 2.8-1.4 2.9 1.8 2.8 1.5 2.8 1.5 2.9 1.3 5.6-1.5 5.7-2 5.7-2.6 5.6-3 5.7-3.6 5.6-4.1 5.7-4.6 5.7-5M383 53.5l4.9-2.1 4.9-2.4 4.9-2.9 4.9-3.3 4.9-3.6 4.9-4 4.9-4.4 4.9-4.8M422.2 26l4.9 4.4 4.9 4 2.9 1.3 2.8 1 2.8 1 2.9 .8 2.8 .7 2.8 .6 2.9 .4 2.8 .4 2.8 .1 2.9 .1 5.6-4.1 5.7-4.6 5.7-5M477.4 27.1l5.6 2 5.7 5.3 5.6 4.9 5.7 4.3 5.7 3.8 5.6 3.3 5.7 2.8M383 53.5l4.9-.1 4.9-.6 4.9-1 4.9-1.3 4.9-1.7 4.9-2.1 4.9-.6 4.9 2.9 4.9 2.4 4.9 2.1 2.9 .6 2.8 .5 2.8 .3 2.9 .2 2.8 0 2.8 0 2.9-.2 2.8-.3 2.8-.5 2.9-.6 5.6-1.5 5.7-2 5.7 0 5.6 2 5.7 1.5 5.6 1.1 5.7 .5 5.7 0 5.6-.5 5.7-1.1M383 53.5l4.9-2.1 4.9-2.4 4.9-2.9 4.9-3.3 4.9-3.6 4.9-4 4.9-4.4 4.9-4.8M443.4 27.1l2.8 2.6 2.8 2.4 2.9 2.4 2.8 2.2 2.8 2.1 2.9 2 5.6-.2 5.7-.8 5.7-1.3 5.6-1.8 5.7 4.1 5.6 3.6 5.7 3 5.7 2.6 5.6 2 5.7 1.5M383 53.5l4.9 1.8 4.9 1.3 4.9 1 4.9 .5 4.9 .2 4.9-.2 4.9-.5 4.9-1 4.9-1.3 4.9-1.8 2.9-.7 2.8-.8 2.8-.9 2.9-1.1 2.8-1.2 2.8-1.4 2.9-1.4 2.8-1.6 2.8-1.7 2.9-1.9 5.6 3.6 5.7 3 5.7 2.6 5.6 2 5.7 1.5 5.6 1.1 5.7 .5 5.7 0 5.6-.5 5.7-1.1M383 53.5l4.9-.1 4.9-.6 4.9-1 4.9-1.3 4.9-1.7 4.9-2.1 4.9-2.5 4.9-2.9 4.9-3.2 4.9-3.7 2.9-1.3 2.8-1.5 2.8-1.6 2.9-1.7 2.8-1.8M471.7 27.1l5.7 5 5.6 4.6 5.7 4.1 5.6 3.6 5.7 3 5.7 2.6 5.6 2 5.7 1.5M383 53.5l4.9 1.8 4.9 1.3 4.9 1 4.9 .5 4.9 .2 4.9-.2 4.9-.5 4.9-1 4.9-1.3 4.9-1.8 2.9 .6 2.8 .5 2.8 .3 2.9 .2 2.8 0 2.8 0 2.9-.2 2.8-.3 2.8-.5 2.9-.6 5.6 2.3 5.7 1.8 5.7 1.3 5.6 .8 5.7 .2 5.6-.2 5.7-.8 5.7-1.3 5.6-1.8 5.7-2.3M383 54l4.9-3.1 4.9-2.7 4.9-2.6 4.9-2.4 4.9-2.2 4.9-2 4.9-1.7 4.9-1.6 4.9-1.3 4.9-1.2 2.9 .4 2.8 .5 2.8 .5 2.9 .6 2.8 .6 2.8 .7 2.9-.9 2.8-.8 2.8-.8 2.9-.8 5.6 .9 5.7 1.1 5.7 1.3 5.6 1.7 5.7 1.9 5.6 2.2 5.7 2.5 5.7 2.8 5.6 3 5.7 3.4M383 33.2l4.9 1.2 4.9 1.3 4.9 1.6 4.9 1.7 4.9 2 4.9 2.2 4.9 2.4 4.9 2.6 4.9-2.4 4.9-2.2 2.9-.7 2.8-.6 2.8-.5 2.9-.4 2.8-.4 2.8-.3 2.9-.2 2.8-.2 2.8-.1 2.9-.1 5.6 2.2 5.7 2.5 5.7 2.8 5.6-1.1 5.7-2.9 5.6-2.6 5.7-2.4 5.7-2.1 5.6-1.7 5.7-1.6M383 33.2l4.9 .1 4.9 .3 4.9 .6 4.9 .7 4.9 .9 4.9 1.2 4.9 .3 4.9-1.6 4.9-1.3 4.9-1.2 2.9-.3 2.8-.2 2.8-.2 2.9-.1 2.8 0 2.8 0 2.9 .1 2.8 .2 2.8 .2 2.9 .3 5.6 .9 5.7 1.1 5.7 0 5.6-1.1 5.7-.9 5.6-.5 5.7-.3 5.7 0 5.6 .3 5.7 .5M383 33.2l4.9 1.2 4.9 1.3 4.9 1.6 4.9 1.7 4.9 2 4.9 2.2 4.9 2.4 4.9 2.6 4.9 2.7 4.9 3.1 2.9-1.7 2.8-1.7 2.8-1.5 2.9-1.5 2.8-1.4 2.8-1.4 2.9-1.2 2.8-1.3 2.8-1.1 2.9-1.1 5.6 .2 5.7 .4 5.7 .7 5.6 .9 5.7-2.2 5.6-1.9 5.7-1.7 5.7-1.3 5.6-1.1 5.7-.9M383 33.2l4.9-.9 4.9-.7 4.9-.5 4.9-.4 4.9-.1 4.9 .1 4.9 .4 4.9 .5 4.9 .7 4.9 .9 2.9 .4 2.8 .5 2.8 .5 2.9 .6 2.8 .6 2.8 .7 2.9 .8 2.8 .9 2.8 .9 2.9 1 5.6-1.9 5.7-1.7 5.7-1.3 5.6-1.1 5.7-.9 5.6-.5 5.7-.3 5.7 0 5.6 .3 5.7 .5M383 33.2l4.9 .1 4.9 .3 4.9 .6 4.9 .7 4.9 .9 4.9 1.2 4.9 1.3 4.9 1.6 4.9 1.7 4.9 2 2.9 .7 2.8 .8 2.8 .9 2.9 .9 2.8 1 2.8 1.1 2.9 1.1 2.8 1.2 2.8 1.3 2.9 1.4 5.6-3.4 5.7-3 5.7-2.8 5.6-2.5 5.7-2.2 5.6-1.9 5.7-1.7 5.7-1.3 5.6-1.1 5.7-.9M383 33.2l4.9-.9 4.9-.7 4.9-.5 4.9-.4 4.9-.1 4.9 .1 4.9 .4 4.9 .5 4.9 .7 4.9 .9 2.9-.3 2.8-.2 2.8-.2 2.9-.1 2.8 0 2.8 0 2.9 .1 2.8 .2 2.8 .2 2.9 .3 5.6-1.2 5.7-1 5.7-.7 5.6-.4 5.7-.1 5.6 .1 5.7 .4 5.7 .7 5.6 1 5.7 1.2M383 52.9l4.9-3 4.9-2.8 4.9-2.6 4.9-2.4 4.9-2.2 4.9-1.9 4.9-1.8 4.9-1.6 4.9-1.3 4.9-1.1 2.9 .3 2.8 .5 2.8 .5 2.9 .6 2.8 .7 2.8 .7 2.9-1 2.8-.8 2.8-.8 2.9-.7 5.6 .8 5.7 1.1 5.7 1.4 5.6 1.6 5.7 2 5.6 2.2 5.7 2.5 5.7 2.7 5.6 3.1 5.7 3.3M383 32.2l4.9 1.1 4.9 1.3 4.9 1.6 4.9 1.8 4.9 1.9 4.9 2.2 4.9 2.4 4.9 2.6 4.9-2.4 4.9-2.2 2.9-.6 2.8-.6 2.8-.5 2.9-.5 2.8-.4 2.8-.3 2.9-.2 2.8-.2 2.8-.1 2.9 0 5.6 2.2 5.7 2.5 5.7 2.7 5.6-1.1 5.7-2.9 5.6-2.6 5.7-2.4 5.7-2 5.6-1.8 5.7-1.5M383 32.2l4.9 .1 4.9 .3 4.9 .5 4.9 .7 4.9 1 4.9 1.1 4.9 .3 4.9-1.6 4.9-1.3 4.9-1.1 2.9-.4 2.8-.2 2.8-.2 2.9-.1 2.8 0 2.8 0 2.9 .1 2.8 .2 2.8 .2 2.9 .4 5.6 .8 5.7 1.1 5.7 0 5.6-1.1 5.7-.8 5.6-.6 5.7-.3 5.7 0 5.6 .3 5.7 .6M383 32.2l4.9 1.1 4.9 1.3 4.9 1.6 4.9 1.8 4.9 1.9 4.9 2.2 4.9 2.4 4.9 2.6 4.9 2.8 4.9 3 2.9-1.7 2.8-1.6 2.8-1.6 2.9-1.5 2.8-1.4 2.8-1.3 2.9-1.3 2.8-1.2 2.8-1.2 2.9-1 5.6 .1 5.7 .4 5.7 .7 5.6 1 5.7-2.2 5.6-2 5.7-1.6 5.7-1.4 5.6-1.1 5.7-.8M383 32.2l4.9-1 4.9-.7 4.9-.5 4.9-.3 4.9-.1 4.9 .1 4.9 .3 4.9 .5 4.9 .7 4.9 1 2.9 .3 2.8 .5 2.8 .5 2.9 .6 2.8 .7 2.8 .7 2.9 .8 2.8 .8 2.8 1 2.9 1 5.6-2 5.7-1.6 5.7-1.4 5.6-1.1 5.7-.8 5.6-.6 5.7-.3 5.7 0 5.6 .3 5.7 .6M383 32.2l4.9 .1 4.9 .3 4.9 .5 4.9 .7 4.9 1 4.9 1.1 4.9 1.3 4.9 1.6 4.9 1.8 4.9 1.9 2.9 .7 2.8 .8 2.8 .9 2.9 .9 2.8 1 2.8 1.1 2.9 1.1 2.8 1.3 2.8 1.2 2.9 1.4 5.6-3.3 5.7-3.1 5.7-2.7 5.6-2.5 5.7-2.2 5.6-2 5.7-1.6 5.7-1.4 5.6-1.1 5.7-.8M383 32.2l4.9-1 4.9-.7 4.9-.5 4.9-.3 4.9-.1 4.9 .1 4.9 .3 4.9 .5 4.9 .7 4.9 1 2.9-.4 2.8-.2 2.8-.2 2.9-.1 2.8 0 2.8 0 2.9 .1 2.8 .2 2.8 .2 2.9 .4 5.6-1.3 5.7-1 5.7-.6 5.6-.5 5.7-.1 5.6 .1 5.7 .5 5.7 .6 5.6 1 5.7 1.3M383 51.8l4.9-3 4.9-2.8 4.9-2.6 4.9-2.4 4.9-2.1 4.9-2 4.9-1.8 4.9-1.5 4.9-1.4 4.9-1.1 2.9 .4 2.8 .4 2.8 .5 2.9 .6 2.8 .7 2.8 .7 2.9-.9 2.8-.9 2.8-.8 2.9-.7 5.6 .8 5.7 1.1 5.7 1.4 5.6 1.7 5.7 1.9 5.6 2.2 5.7 2.5 5.7 2.8 5.6 3 5.7 3.3M383 31.1l4.9 1.1 4.9 1.4 4.9 1.5 4.9 1.8 4.9 2 4.9 2.1 4.9 2.4 4.9 2.6 4.9-2.4 4.9-2.2 2.9-.6 2.8-.6 2.8-.5 2.9-.5 2.8-.3 2.8-.4 2.9-.2 2.8-.2 2.8-.1 2.9 0 5.6 2.2 5.7 2.5 5.7 2.8 5.6-1.2 5.7-2.9 5.6-2.6 5.7-2.3 5.7-2.1 5.6-1.8 5.7-1.5M383 31.1l4.9 .1 4.9 .3 4.9 .5 4.9 .7 4.9 1 4.9 1.1 4.9 .3 4.9-1.5 4.9-1.4 4.9-1.1 2.9-.3 2.8-.3 2.8-.1 2.9-.1 2.8-.1 2.8 .1 2.9 .1 2.8 .1 2.8 .3 2.9 .3 5.6 .8 5.7 1.1 5.7 0 5.6-1.1 5.7-.8 5.6-.6 5.7-.2 5.7 0 5.6 .2 5.7 .6M383 31.1l4.9 1.1 4.9 1.4 4.9 1.5 4.9 1.8 4.9 2 4.9 2.1 4.9 2.4 4.9 2.6 4.9 2.8 4.9 3 2.9-1.7 2.8-1.6 2.8-1.6 2.9-1.4 2.8-1.5 2.8-1.3 2.9-1.3 2.8-1.2 2.8-1.1 2.9-1.1 5.6 .1 5.7 .4 5.7 .7 5.6 1 5.7-2.2 5.6-1.9 5.7-1.7 5.7-1.4 5.6-1.1 5.7-.8M383 31.1l4.9-.9 4.9-.8 4.9-.5 4.9-.3 4.9-.1 4.9 .1 4.9 .3 4.9 .5 4.9 .8 4.9 .9 2.9 .4 2.8 .4 2.8 .5 2.9 .6 2.8 .7 2.8 .7 2.9 .8 2.8 .9 2.8 .9 2.9 1 5.6-1.9 5.7-1.7 5.7-1.4 5.6-1.1 5.7-.8 5.6-.6 5.7-.2 5.7 0 5.6 .2 5.7 .6M383 31.1l4.9 .1 4.9 .3 4.9 .5 4.9 .7 4.9 1 4.9 1.1 4.9 1.4 4.9 1.5 4.9 1.8 4.9 1.9 2.9 .8 2.8 .8 2.8 .8 2.9 1 2.8 1 2.8 1 2.9 1.2 2.8 1.2 2.8 1.3 2.9 1.3 5.6-3.3 5.7-3 5.7-2.8 5.6-2.5 5.7-2.2 5.6-1.9 5.7-1.7 5.7-1.4 5.6-1.1 5.7-.8M383 31.1l4.9-.9 4.9-.8 4.9-.5 4.9-.3 4.9-.1 4.9 .1 4.9 .3 4.9 .5 4.9 .8 4.9 .9 2.9-.3 2.8-.3 2.8-.1 2.9-.1 2.8-.1 2.8 .1 2.9 .1 2.8 .1 2.8 .3 2.9 .3 5.6-1.3 5.7-.9 5.7-.7M500 28.2l5.7 .7 5.6 .9 5.7 1.3M427.1 27.4l4.9 1.8 2.9-.3 2.8-.3 2.8-.4M451.9 27.9l2.8 1 2.8 .9 2.9 .9 5.6-1.8 5.7-1.9M383 42.4l4.9 .8 4.9 .8 4.9 .6 4.9 .6 4.9 .5 4.9 .4 4.9 .3 4.9 .2 4.9 .1 4.9 .1 2.9-.4 2.8-.3 2.8-.4 2.9-.3 2.8-.5 2.8-.4 2.9-.5 2.8-.5 2.8-.6 2.9-.5 5.6 .5 5.7 .4 5.7 .3 5.6 .2 5.7 0 5.6 0 5.7-.2 5.7-.3 5.6-.4 5.7-.5M383 42.4l4.9-.9 4.9-1 4.9-1.1 4.9-1.2 4.9-1.3 4.9-1.4 4.9-.5 4.9 1.1 4.9 1 4.9 .9 2.9-.6 2.8-.6 2.8-.7 2.9-.7 2.8-.7 2.8-.7 2.9-.8 2.8-.8 2.8-.8 2.9-.9 5.6-.1 5.7-.1 5.7 .8 5.6 2 5.7 1.8 5.6 1.7 5.7 1.6 5.7 1.4 5.6 1.4 5.7 1.2M383 42.4l4.9-.1 4.9-.1 4.9-.2 4.9-.3 4.9-.4 4.9-.5 4.9-.6 4.9-.6 4.9-.8 4.9-.8 2.9 .6 2.8 .5 2.8 .5 2.9 .5 2.8 .5 2.8 .4 2.9 .4 2.8 .3 2.8 .4 2.9 .3 5.6-1.2 5.7-1.4 5.7-1.4 5.6-1.6 5.7 1.2 5.6 1.1 5.7 1 5.7 .9 5.6 .7 5.7 .7M383 42.4l4.9-.1 4.9-.1 4.9-.2 4.9-.3 4.9-.4 4.9-.5 4.9-.6 4.9-.6 4.9-.8 4.9-.8 2.9 .6 2.8 .5 2.8 .5 2.9 .5 2.8 .5 2.8 .4 2.9 .4 2.8 .3 2.8 .4 2.9 .3 5.6 .5 5.7 .4 5.7 .3 5.6 .2 5.7 0 5.6 0 5.7-.2 5.7-.3 5.6-.4 5.7-.5M383 42.4l4.9 .8 4.9 .8 4.9 .6 4.9 .6 4.9 .5 4.9 .4 4.9 .3 4.9 .2 4.9 .1 4.9 .1 2.9 .2 2.8 .3 2.8 .2 2.9 .2 2.8 .1 2.8 .2 2.9 .1 2.8 .1 2.8 0 2.9 0 5.6 0 5.7-.2 5.7-.3 5.6-.4 5.7-.5 5.6-.7 5.7-.7 5.7-.9 5.6-1 5.7-1.1M383 42.4l4.9-.9 4.9-1 4.9-1.1 4.9-1.2 4.9-1.3 4.9-1.4 4.9-1.4 4.9-1.5 4.9-1.6 4.9-1.8 2.9 .3 2.8 .3 2.8 .2 2.9 .2 2.8 .1 2.8 .2 2.9 .1 2.8 0 2.8 .1 2.9 0 5.6 1.7 5.7 1.6 5.7 1.4 5.6 1.4 5.7 1.2 5.6 1.1 5.7 1 5.7 .9 5.6 .7 5.7 .7M383 37.2l4.9 .8 4.9 .8 4.9 .7 4.9 .5 4.9 .5 4.9 .4 4.9 .3 4.9 .2 4.9 .2 4.9 0 2.9-.3 2.8-.3 2.8-.4 2.9-.4 2.8-.4 2.8-.5 2.9-.5 2.8-.5 2.8-.5 2.9-.6 5.6 .5 5.7 .5 5.7 .2 5.6 .2 5.7 .1 5.6-.1 5.7-.2 5.7-.2 5.6-.5 5.7-.5M383 37.2l4.9-.9 4.9-1 4.9-1.1 4.9-1.2 4.9-1.3 4.9-1.3 4.9-.6 4.9 1.1 4.9 1 4.9 .9 2.9-.6 2.8-.6 2.8-.6 2.9-.7 2.8-.7 2.8-.8 2.9-.8M483 28.1l5.7 1.8 5.6 1.7 5.7 1.6 5.7 1.4 5.6 1.4 5.7 1.2M383 37.2l4.9 0 4.9-.2 4.9-.2 4.9-.3 4.9-.4 4.9-.5 4.9-.5 4.9-.7 4.9-.7 4.9-.9 2.9 .6 2.8 .5 2.8 .6 2.9 .4 2.8 .5 2.8 .4 2.9 .4 2.8 .4 2.8 .3 2.9 .3 5.6-1.2 5.7-1.4 5.7-1.4 5.6-1.6 5.7 1.2 5.6 1.1 5.7 1 5.7 .9 5.6 .8 5.7 .6M383 37.2l4.9 0 4.9-.2 4.9-.2 4.9-.3 4.9-.4 4.9-.5 4.9-.5 4.9-.7 4.9-.7 4.9-.9 2.9 .6 2.8 .5 2.8 .6 2.9 .4 2.8 .5 2.8 .4 2.9 .4 2.8 .4 2.8 .3 2.9 .3 5.6 .5 5.7 .5 5.7 .2 5.6 .2 5.7 .1 5.6-.1 5.7-.2 5.7-.2 5.6-.5 5.7-.5M383 37.2l4.9 .8 4.9 .8 4.9 .7 4.9 .5 4.9 .5 4.9 .4 4.9 .3 4.9 .2 4.9 .2 4.9 0 2.9 .3 2.8 .2 2.8 .2 2.9 .2 2.8 .2 2.8 .1 2.9 .1 2.8 .1 2.8 0 2.9 .1 5.6-.1 5.7-.2 5.7-.3 5.6-.4 5.7-.5 5.6-.6 5.7-.8 5.7-.9 5.6-1 5.7-1.1M383 37.2l4.9-.9 4.9-1 4.9-1.1 4.9-1.2 4.9-1.3 4.9-1.3 4.9-1.5 4.9-1.5M466 27.2l5.7 1.6 5.7 1.5 5.6 1.3 5.7 1.2 5.6 1.1 5.7 1 5.7 .9 5.6 .8 5.7 .6M383 32.1l4.9 .8 4.9 .7 4.9 .7 4.9 .6 4.9 .4 4.9 .4 4.9 .3 4.9 .3 4.9 .1 4.9 0 2.9-.3 2.8-.3 2.8-.4 2.9-.4 2.8-.4 2.8-.4 2.9-.5 2.8-.5 2.8-.6 2.9-.5 5.6 .5 5.7 .4 5.7 .3 5.6 .2 5.7 0 5.6 0 5.7-.2 5.7-.3 5.6-.4 5.7-.5M383 32.1l4.9-1 4.9-1 4.9-1.1 4.9-1.1M500 28l5.7 1.5 5.6 1.3 5.7 1.3M383 32.1l4.9-.1 4.9-.1 4.9-.2 4.9-.3 4.9-.4 4.9-.5 4.9-.6 4.9-.6 4.9-.8 4.9-.8M434.9 28.2l2.8 .6 2.8 .5 2.9 .5 2.8 .4 2.8 .5 2.9 .4 2.8 .3 2.8 .4 2.9 .3 5.6-1.3 5.7-1.3 5.7-1.5M488.7 27.7l5.6 1.1 5.7 1 5.7 .9 5.6 .7 5.7 .7M383 32.1l4.9-.1 4.9-.1 4.9-.2 4.9-.3 4.9-.4 4.9-.5 4.9-.6 4.9-.6 4.9-.8 4.9-.8M434.9 28.2l2.8 .6 2.8 .5 2.9 .5 2.8 .4 2.8 .5 2.9 .4 2.8 .3 2.8 .4 2.9 .3 5.6 .5 5.7 .4 5.7 .3 5.6 .2 5.7 0 5.6 0 5.7-.2 5.7-.3 5.6-.4 5.7-.5M383 32.1l4.9 .8 4.9 .7 4.9 .7 4.9 .6 4.9 .4 4.9 .4 4.9 .3 4.9 .3 4.9 .1 4.9 0 2.9 .3 2.8 .3 2.8 .2 2.9 .2 2.8 .1 2.8 .2 2.9 .1 2.8 0 2.8 .1 2.9 0 5.6-.1 5.7-.1 5.7-.3 5.6-.4 5.7-.6 5.6-.6 5.7-.8 5.7-.8 5.6-1 5.7-1.1M383 32.1l4.9-1 4.9-1 4.9-1.1 4.9-1.1M488.7 27.7l5.6 1.1 5.7 1 5.7 .9 5.6 .7 5.7 .7M383 64.4l4.9-5.1 4.9-5 4.9-4.9 4.9-4.6 4.9-4.5 4.9-4.3 4.9-4.1 4.9-4M471.7 25.1l5.7 4.1 5.6 4.3 5.7 4.6 5.6 4.8 5.7 5 5.7 5.3 5.6 5.5 5.7 5.7M383 61.2l4.9-5.2 4.9-5 4.9-4.8 4.9-4.7 4.9-4.4 4.9-4.3 4.9-4.2 4.9-3.9M477.4 26l5.6 4.3 5.7 4.6 5.6 4.8 5.7 5 5.7 5.3 5.6 5.5 5.7 5.7M383 58l4.9-5.2 4.9-5 4.9-4.8 4.9-4.7 4.9-4.5 4.9-4.3 4.9-4.1M483 27.1l5.7 4.5 5.6 4.8 5.7 5.1 5.7 5.2 5.6 5.5 5.7 5.8M383 53.3l4.9-1.5 4.9-1.5 4.9-1.3 4.9-1.2 4.9-1.1 4.9-1 4.9-.9 4.9-.8 4.9-.7 4.9-.6 2.9 .2 2.8 .3 2.8 .2 2.9 .3 2.8 .4 2.8 .3 2.9-.4 2.8-.5 2.8-.4 2.9-.4 5.6 .5 5.7 .5 5.7 .7 5.6 .9 5.7 1 5.6 1.1 5.7 1.2 5.7 1.5 5.6 1.5 5.7 1.7M383 42.7l4.9 .6 4.9 .7 4.9 .8 4.9 .9 4.9 1 4.9 1.1 4.9 1.2 4.9 1.3 4.9-1.2 4.9-1.1 2.9-.3 2.8-.3 2.8-.3 2.9-.2 2.8-.2 2.8-.2 2.9-.1 2.8-.1 2.8 0 2.9 0 5.6 1.1 5.7 1.2 5.7 1.5 5.6-.6 5.7-1.5 5.6-1.3 5.7-1.2 5.7-1.1 5.6-.9 5.7-.8M383 42.7l4.9 .1 4.9 .2 4.9 .2 4.9 .4 4.9 .5 4.9 .5 4.9 .2 4.9-.8 4.9-.7 4.9-.6 2.9-.1 2.8-.1 2.8-.1 2.9-.1 2.8 0 2.8 0 2.9 .1 2.8 .1 2.8 .1 2.9 .1 5.6 .5 5.7 .5 5.7 0 5.6-.5 5.7-.5 5.6-.2 5.7-.2 5.7 0 5.6 .2 5.7 .2M383 42.7l4.9 .6 4.9 .7 4.9 .8 4.9 .9 4.9 1 4.9 1.1 4.9 1.2 4.9 1.3 4.9 1.5 4.9 1.5 2.9-.9 2.8-.8 2.8-.8 2.9-.7 2.8-.8 2.8-.7 2.9-.6 2.8-.6 2.8-.6 2.9-.5 5.6 0 5.7 .2 5.7 .4 5.6 .5 5.7-1.1 5.6-1 5.7-.9 5.7-.7 5.6-.5 5.7-.5M383 42.7l4.9-.4 4.9-.4 4.9-.3 4.9-.1 4.9-.1 4.9 .1 4.9 .1 4.9 .3 4.9 .4 4.9 .4 2.9 .2 2.8 .3 2.8 .2 2.9 .3 2.8 .4 2.8 .3 2.9 .4 2.8 .5 2.8 .4 2.9 .6 5.6-1 5.7-.9 5.7-.7 5.6-.5 5.7-.5 5.6-.2 5.7-.2 5.7 0 5.6 .2 5.7 .2M383 42.7l4.9 .1 4.9 .2 4.9 .2 4.9 .4 4.9 .5 4.9 .5 4.9 .7 4.9 .8 4.9 .9 4.9 1 2.9 .4 2.8 .4 2.8 .4 2.9 .5 2.8 .5 2.8 .6 2.9 .5 2.8 .7 2.8 .6 2.9 .7 5.6-1.7 5.7-1.5 5.7-1.5 5.6-1.2 5.7-1.1 5.6-1 5.7-.9 5.7-.7 5.6-.5 5.7-.5M383 42.7l4.9-.4 4.9-.4 4.9-.3 4.9-.1 4.9-.1 4.9 .1 4.9 .1 4.9 .3 4.9 .4 4.9 .4 2.9-.1 2.8-.1 2.8-.1 2.9-.1 2.8 0 2.8 0 2.9 .1 2.8 .1 2.8 .1 2.9 .1 5.6-.6 5.7-.5 5.7-.3 5.6-.2 5.7-.1 5.6 .1 5.7 .2 5.7 .3 5.6 .5 5.7 .6M383 48.6l4.9-1.6 4.9-1.4 4.9-1.3 4.9-1.2 4.9-1.1 4.9-1 4.9-.9 4.9-.8 4.9-.7 4.9-.6 2.9 .2 2.8 .2 2.8 .3 2.9 .3 2.8 .3 2.8 .4 2.9-.5 2.8-.4 2.8-.4 2.9-.4 5.6 .4 5.7 .6 5.7 .7 5.6 .9 5.7 .9 5.6 1.2 5.7 1.2 5.7 1.4 5.6 1.6 5.7 1.7M383 38l4.9 .6 4.9 .7 4.9 .8 4.9 .9 4.9 1 4.9 1.1 4.9 1.2 4.9 1.3 4.9-1.2 4.9-1.1 2.9-.3 2.8-.3 2.8-.3 2.9-.2 2.8-.2 2.8-.2 2.9-.1 2.8-.1 2.8 0 2.9-.1 5.6 1.2 5.7 1.2 5.7 1.4 5.6-.5 5.7-1.5 5.6-1.3 5.7-1.2 5.7-1.1 5.6-.9 5.7-.8M383 38l4.9 .1 4.9 .1 4.9 .3 4.9 .4 4.9 .4 4.9 .6 4.9 .2 4.9-.8 4.9-.7 4.9-.6 2.9-.1 2.8-.2 2.8 0 2.9-.1 2.8 0 2.8 0 2.9 .1 2.8 0 2.8 .2 2.9 .1 5.6 .4 5.7 .6 5.7 0 5.6-.6 5.7-.4 5.6-.3 5.7-.1 5.7 0 5.6 .1 5.7 .3M383 38l4.9 .6 4.9 .7 4.9 .8 4.9 .9 4.9 1 4.9 1.1 4.9 1.2 4.9 1.3 4.9 1.4 4.9 1.6 2.9-.9 2.8-.8 2.8-.8 2.9-.8 2.8-.7 2.8-.7 2.9-.6 2.8-.6 2.8-.6 2.9-.6 5.6 .1 5.7 .2 5.7 .4 5.6 .5 5.7-1.2 5.6-.9 5.7-.9 5.7-.7 5.6-.6 5.7-.4M383 38l4.9-.5 4.9-.3 4.9-.3 4.9-.1 4.9-.1 4.9 .1 4.9 .1 4.9 .3 4.9 .3 4.9 .5 2.9 .2 2.8 .2 2.8 .3 2.9 .3 2.8 .3 2.8 .4 2.9 .4 2.8 .5 2.8 .4 2.9 .5 5.6-.9 5.7-.9 5.7-.7 5.6-.6 5.7-.4 5.6-.3 5.7-.1 5.7 0 5.6 .1 5.7 .3M383 38l4.9 .1 4.9 .1 4.9 .3 4.9 .4 4.9 .4 4.9 .6 4.9 .7 4.9 .8 4.9 .9 4.9 1 2.9 .4 2.8 .4 2.8 .4 2.9 .5 2.8 .5 2.8 .5 2.9 .6 2.8 .6 2.8 .7 2.9 .7 5.6-1.7 5.7-1.6 5.7-1.4 5.6-1.2 5.7-1.2 5.6-.9 5.7-.9 5.7-.7 5.6-.6 5.7-.4M383 38l4.9-.5 4.9-.3 4.9-.3 4.9-.1 4.9-.1 4.9 .1 4.9 .1 4.9 .3 4.9 .3 4.9 .5 2.9-.1 2.8-.2 2.8 0 2.9-.1 2.8 0 2.8 0 2.9 .1 2.8 0 2.8 .2 2.9 .1 5.6-.6 5.7-.5 5.7-.4 5.6-.2 5.7 0 5.6 0 5.7 .2 5.7 .4 5.6 .5 5.7 .6M383 43.8l4.9-1.5 4.9-1.4 4.9-1.3 4.9-1.2 4.9-1.1 4.9-1 4.9-.9 4.9-.8 4.9-.7 4.9-.6 2.9 .2 2.8 .2 2.8 .3 2.9 .3 2.8 .3 2.8 .4 2.9-.5 2.8-.4 2.8-.4 2.9-.4 5.6 .4 5.7 .6 5.7 .7 5.6 .8 5.7 1 5.6 1.1 5.7 1.3 5.7 1.4 5.6 1.6 5.7 1.6M383 33.3l4.9 .6 4.9 .7 4.9 .8 4.9 .9 4.9 1 4.9 1.1 4.9 1.2 4.9 1.3 4.9-1.2 4.9-1.1 2.9-.4 2.8-.3 2.8-.2 2.9-.3 2.8-.1 2.8-.2 2.9-.1 2.8-.1 2.8-.1 2.9 0 5.6 1.1 5.7 1.3 5.7 1.4 5.6-.6 5.7-1.4 5.6-1.4 5.7-1.2 5.7-1 5.6-.9 5.7-.8M383 33.3l4.9 .1 4.9 .1 4.9 .3 4.9 .3 4.9 .5 4.9 .6 4.9 .2 4.9-.8 4.9-.7 4.9-.6 2.9-.2 2.8-.1 2.8-.1 2.9 0 2.8 0 2.8 0 2.9 0 2.8 .1 2.8 .1 2.9 .2 5.6 .4 5.7 .6 5.7 0 5.6-.6 5.7-.4 5.6-.3 5.7-.1 5.7 0 5.6 .1 5.7 .3M383 33.3l4.9 .6 4.9 .7 4.9 .8 4.9 .9 4.9 1 4.9 1.1 4.9 1.2 4.9 1.3 4.9 1.4 4.9 1.5 2.9-.8 2.8-.8 2.8-.8 2.9-.8 2.8-.7 2.8-.7 2.9-.6 2.8-.7 2.8-.5 2.9-.6 5.6 .1 5.7 .2 5.7 .3 5.6 .5 5.7-1.1 5.6-1 5.7-.8 5.7-.7 5.6-.6 5.7-.4M383 33.3l4.9-.5 4.9-.3 4.9-.3 4.9-.2 4.9 0 4.9 0 4.9 .2 4.9 .3 4.9 .3 4.9 .5 2.9 .2 2.8 .2 2.8 .3 2.9 .3 2.8 .3 2.8 .4 2.9 .4 2.8 .4 2.8 .5 2.9 .5 5.6-1 5.7-.8 5.7-.7 5.6-.6 5.7-.4 5.6-.3 5.7-.1 5.7 0 5.6 .1 5.7 .3M383 33.3l4.9 .1 4.9 .1 4.9 .3 4.9 .3 4.9 .5 4.9 .6 4.9 .7 4.9 .8 4.9 .9 4.9 1 2.9 .3 2.8 .4 2.8 .5 2.9 .5 2.8 .5 2.8 .5 2.9 .6 2.8 .6 2.8 .7 2.9 .6 5.6-1.6 5.7-1.6 5.7-1.4 5.6-1.3 5.7-1.1 5.6-1 5.7-.8 5.7-.7 5.6-.6 5.7-.4M383 33.3l4.9-.5 4.9-.3 4.9-.3 4.9-.2 4.9 0 4.9 0 4.9 .2 4.9 .3 4.9 .3 4.9 .5 2.9-.2 2.8-.1 2.8-.1 2.9 0 2.8 0 2.8 0 2.9 0 2.8 .1 2.8 .1 2.9 .2 5.6-.6 5.7-.5 5.7-.4 5.6-.2 5.7-.1 5.6 .1 5.7 .2 5.7 .4 5.6 .5 5.7 .6M383 59.9l4.9-5.1 4.9-5 4.9-4.8 4.9-4.6 4.9-4.4 4.9-4.3 4.9-4.1M477.4 25l5.6 4.3 5.7 4.5 5.6 4.8 5.7 5 5.7 5.2 5.6 5.4 5.7 5.7M383 55.2l4.9-5.1 4.9-5 4.9-4.7 4.9-4.7 4.9-4.4 4.9-4.3M483 24.6l5.7 4.5 5.6 4.8 5.7 5 5.7 5.2 5.6 5.4 5.7 5.7M383 50.5l4.9-5.1 4.9-4.9 4.9-4.8 4.9-4.6 4.9-4.5M488.7 24.4l5.6 4.8 5.7 5 5.7 5.2 5.6 5.5 5.7 5.6M383 57.7l4.9-5.7 4.9-5.5 4.9-5.3 4.9-5.1 4.9-4.9 4.9-4.7M483 23.8l5.7 5 5.6 5.3 5.7 5.5 5.7 5.8 5.6 6 5.7 6.3M383 54.4l4.9-5.6 4.9-5.5 4.9-5.3 4.9-5.1 4.9-4.9M488.7 25.6l5.6 5.2 5.7 5.5 5.7 5.8 5.6 6.1 5.7 6.2M383 51.2l4.9-5.7 4.9-5.5 4.9-5.3 4.9-5.1 4.9-4.9M494.3 27.6l5.7 5.5 5.7 5.8 5.6 6 5.7 6.3M383 65l4.9-3.2 4.9-2.9 4.9-2.7 4.9-2.5 4.9-2.3 4.9-2 4.9-1.9 4.9-1.6 4.9-1.4 4.9-1.2 2.9 .4 2.8 .5 2.8 .5 2.9 .6 2.8 .7 2.8 .8 2.9-1 2.8-.9 2.8-.9 2.9-.7 5.6 .9 5.7 1.1 5.7 1.5 5.6 1.7 5.7 2 5.6 2.3 5.7 2.6 5.7 2.9 5.6 3.2 5.7 3.5M383 43.3l4.9 1.2 4.9 1.4 4.9 1.6 4.9 1.9 4.9 2 4.9 2.3 4.9 2.5 4.9 2.7 4.9-2.5 4.9-2.3 2.9-.6 2.8-.7 2.8-.5 2.9-.5 2.8-.4 2.8-.3 2.9-.3 2.8-.1 2.8-.1 2.9-.1 5.6 2.3 5.7 2.6 5.7 2.9 5.6-1.1 5.7-3.1 5.6-2.7 5.7-2.5 5.7-2.1 5.6-1.9 5.7-1.6M383 43.3l4.9 .1 4.9 .3 4.9 .6 4.9 .7 4.9 1 4.9 1.2 4.9 .3 4.9-1.6 4.9-1.4 4.9-1.2 2.9-.3 2.8-.3 2.8-.2 2.9-.1 2.8 0 2.8 0 2.9 .1 2.8 .2 2.8 .3 2.9 .3 5.6 .9 5.7 1.1 5.7 0 5.6-1.1 5.7-.9 5.6-.6 5.7-.3 5.7 0 5.6 .3 5.7 .6M383 43.3l4.9 1.2 4.9 1.4 4.9 1.6 4.9 1.9 4.9 2 4.9 2.3 4.9 2.5 4.9 2.7 4.9 2.9 4.9 3.2 2.9-1.8 2.8-1.7 2.8-1.6 2.9-1.6 2.8-1.4 2.8-1.5 2.9-1.3 2.8-1.3 2.8-1.2 2.9-1.1 5.6 .2 5.7 .4 5.7 .7 5.6 1 5.7-2.3 5.6-2 5.7-1.7 5.7-1.5 5.6-1.1 5.7-.9M383 43.3l4.9-1 4.9-.7 4.9-.6 4.9-.3 4.9-.1 4.9 .1 4.9 .3 4.9 .6 4.9 .7 4.9 1 2.9 .4 2.8 .5 2.8 .5 2.9 .6 2.8 .7 2.8 .8 2.9 .8 2.8 .9 2.8 1 2.9 1 5.6-2 5.7-1.7 5.7-1.5 5.6-1.1 5.7-.9 5.6-.6 5.7-.3 5.7 0 5.6 .3 5.7 .6M383 43.3l4.9 .1 4.9 .3 4.9 .6 4.9 .7 4.9 1 4.9 1.2 4.9 1.4 4.9 1.6 4.9 1.9 4.9 2 2.9 .8 2.8 .8 2.8 .9 2.9 1 2.8 1.1 2.8 1.1 2.9 1.2 2.8 1.2 2.8 1.4 2.9 1.4 5.6-3.5 5.7-3.2 5.7-2.9 5.6-2.6 5.7-2.3 5.6-2 5.7-1.7 5.7-1.5 5.6-1.1 5.7-.9M383 43.3l4.9-1 4.9-.7 4.9-.6 4.9-.3 4.9-.1 4.9 .1 4.9 .3 4.9 .6 4.9 .7 4.9 1 2.9-.3 2.8-.3 2.8-.2 2.9-.1 2.8 0 2.8 0 2.9 .1 2.8 .2 2.8 .3 2.9 .3 5.6-1.3 5.7-1 5.7-.8 5.6-.4 5.7-.1 5.6 .1 5.7 .4 5.7 .8 5.6 1 5.7 1.3M383 60.1l4.9-3.2 4.9-2.9 4.9-2.7 4.9-2.5 4.9-2.3 4.9-2 4.9-1.9 4.9-1.6 4.9-1.4 4.9-1.2 2.9 .4 2.8 .4 2.8 .6 2.9 .6 2.8 .7 2.8 .7 2.9-.9 2.8-.9 2.8-.9 2.9-.7 5.6 .8 5.7 1.2 5.7 1.4 5.6 1.8 5.7 2 5.6 2.3 5.7 2.6 5.7 2.9 5.6 3.2 5.7 3.5M383 38.4l4.9 1.2 4.9 1.4 4.9 1.6 4.9 1.9 4.9 2 4.9 2.3 4.9 2.5 4.9 2.7 4.9-2.5 4.9-2.3 2.9-.7 2.8-.6 2.8-.5 2.9-.5 2.8-.4 2.8-.3 2.9-.3 2.8-.1 2.8-.2 2.9 0 5.6 2.3 5.7 2.6 5.7 2.9 5.6-1.1 5.7-3.1 5.6-2.7 5.7-2.5 5.7-2.2 5.6-1.8 5.7-1.6M383 38.4l4.9 .1 4.9 .3 4.9 .6 4.9 .7 4.9 1 4.9 1.2 4.9 .3 4.9-1.6 4.9-1.4 4.9-1.2 2.9-.3 2.8-.3 2.8-.2 2.9-.1 2.8 0 2.8 0 2.9 .1 2.8 .2 2.8 .3 2.9 .3 5.6 .8 5.7 1.2 5.7 0 5.6-1.2 5.7-.8 5.6-.6 5.7-.3 5.7 0 5.6 .3 5.7 .6M383 38.4l4.9 1.2 4.9 1.4 4.9 1.6 4.9 1.9 4.9 2 4.9 2.3 4.9 2.5 4.9 2.7 4.9 2.9 4.9 3.2 2.9-1.8 2.8-1.7 2.8-1.6 2.9-1.6 2.8-1.5 2.8-1.4 2.9-1.3 2.8-1.3 2.8-1.2 2.9-1.1 5.6 .2 5.7 .4 5.7 .7 5.6 1 5.7-2.3 5.6-2 5.7-1.8 5.7-1.4 5.6-1.2 5.7-.8M383 38.4l4.9-1 4.9-.8 4.9-.5 4.9-.3 4.9-.1 4.9 .1 4.9 .3 4.9 .5 4.9 .8 4.9 1 2.9 .4 2.8 .4 2.8 .6 2.9 .6 2.8 .7 2.8 .7 2.9 .9 2.8 .9 2.8 1 2.9 1 5.6-2 5.7-1.8 5.7-1.4 5.6-1.2 5.7-.8 5.6-.6 5.7-.3 5.7 0 5.6 .3 5.7 .6M383 38.4l4.9 .1 4.9 .3 4.9 .6 4.9 .7 4.9 1 4.9 1.2 4.9 1.4 4.9 1.6 4.9 1.9 4.9 2 2.9 .8 2.8 .8 2.8 .9 2.9 1 2.8 1 2.8 1.2 2.9 1.2 2.8 1.2 2.8 1.4 2.9 1.4 5.6-3.5 5.7-3.2 5.7-2.9 5.6-2.6 5.7-2.3 5.6-2 5.7-1.8 5.7-1.4 5.6-1.2 5.7-.8M383 38.4l4.9-1 4.9-.8 4.9-.5 4.9-.3 4.9-.1 4.9 .1 4.9 .3 4.9 .5 4.9 .8 4.9 1 2.9-.3 2.8-.3 2.8-.2 2.9-.1 2.8 0 2.8 0 2.9 .1 2.8 .2 2.8 .3 2.9 .3 5.6-1.3 5.7-1 5.7-.8 5.6-.4 5.7-.1 5.6 .1 5.7 .4 5.7 .8 5.6 1 5.7 1.3M383 55.2l4.9-3.2 4.9-2.9 4.9-2.7 4.9-2.5 4.9-2.3 4.9-2.1 4.9-1.8 4.9-1.6 4.9-1.4 4.9-1.2 2.9 .4 2.8 .4 2.8 .6 2.9 .6 2.8 .7 2.8 .7 2.9-.9 2.8-.9 2.8-.9 2.9-.7 5.6 .8 5.7 1.2 5.7 1.4 5.6 1.8 5.7 2 5.6 2.3 5.7 2.6 5.7 2.9 5.6 3.2 5.7 3.5M383 33.5l4.9 1.2 4.9 1.4 4.9 1.6 4.9 1.8 4.9 2.1 4.9 2.3 4.9 2.5 4.9 2.7 4.9-2.5 4.9-2.3 2.9-.7 2.8-.6 2.8-.5 2.9-.5 2.8-.4 2.8-.3 2.9-.3 2.8-.2 2.8-.1 2.9 0 5.6 2.3 5.7 2.6 5.7 2.9 5.6-1.1 5.7-3.1 5.6-2.7 5.7-2.5 5.7-2.2 5.6-1.8 5.7-1.6M383 33.5l4.9 .1 4.9 .3 4.9 .5 4.9 .8 4.9 1 4.9 1.2 4.9 .3 4.9-1.6 4.9-1.4 4.9-1.2 2.9-.4 2.8-.2 2.8-.2 2.9-.1 2.8 0 2.8 0 2.9 .1 2.8 .2 2.8 .2 2.9 .4 5.6 .8 5.7 1.2 5.7 0 5.6-1.2 5.7-.8 5.6-.6 5.7-.3 5.7 0 5.6 .3 5.7 .6M383 33.5l4.9 1.2 4.9 1.4 4.9 1.6 4.9 1.8 4.9 2.1 4.9 2.3 4.9 2.5 4.9 2.7 4.9 2.9 4.9 3.2 2.9-1.8 2.8-1.7 2.8-1.6 2.9-1.6 2.8-1.5 2.8-1.4 2.9-1.3 2.8-1.3 2.8-1.2 2.9-1.1 5.6 .1 5.7 .5 5.7 .7 5.6 1 5.7-2.3 5.6-2 5.7-1.8 5.7-1.4 5.6-1.2 5.7-.8M383 33.5l4.9-1 4.9-.8 4.9-.5 4.9-.3 4.9-.1 4.9 .1 4.9 .3 4.9 .5 4.9 .8 4.9 1 2.9 .4 2.8 .4 2.8 .6 2.9 .6 2.8 .7 2.8 .7 2.9 .9 2.8 .9 2.8 .9 2.9 1.1 5.6-2 5.7-1.8 5.7-1.4 5.6-1.2 5.7-.8 5.6-.6 5.7-.3 5.7 0 5.6 .3 5.7 .6M383 33.5l4.9 .1 4.9 .3 4.9 .5 4.9 .8 4.9 1 4.9 1.2 4.9 1.4 4.9 1.6 4.9 1.9 4.9 2 2.9 .8 2.8 .8 2.8 .9 2.9 1 2.8 1 2.8 1.2 2.9 1.2 2.8 1.2 2.8 1.4 2.9 1.4 5.6-3.5 5.7-3.2 5.7-2.9 5.6-2.6 5.7-2.3 5.6-2 5.7-1.8 5.7-1.4 5.6-1.2 5.7-.8M383 33.5l4.9-1 4.9-.8 4.9-.5 4.9-.3 4.9-.1 4.9 .1 4.9 .3 4.9 .5 4.9 .8 4.9 1 2.9-.4 2.8-.2 2.8-.2 2.9-.1 2.8 0 2.8 0 2.9 .1 2.8 .2 2.8 .2 2.9 .4 5.6-1.3 5.7-1.1 5.7-.7 5.6-.4 5.7-.2 5.6 .2 5.7 .4 5.7 .7 5.6 1.1 5.7 1.3M383 38.4l4.9 1.8 4.9 1.6 4.9 1.5 4.9 1.3 4.9 1.3 4.9 1.1 4.9 1 4.9 .9 4.9 .8 4.9 .7 2.9-.3 2.8-.2 2.8-.3 2.9-.4 2.8-.3 2.8-.4 2.9 .5 2.8 .5 2.8 .4 2.9 .5 5.6-.5 5.7-.7 5.7-.7 5.6-1 5.7-1.1 5.6-1.3 5.7-1.4 5.7-1.6 5.6-1.7 5.7-2M383 50.4l4.9-.7 4.9-.8 4.9-.9 4.9-1 4.9-1.1 4.9-1.3 4.9-1.3 4.9-1.5 4.9 1.4 4.9 1.2 2.9 .4 2.8 .3 2.8 .3 2.9 .3 2.8 .2 2.8 .2 2.9 .1 2.8 .1 2.8 .1 2.9 0 5.6-1.3 5.7-1.4 5.7-1.6 5.6 .6 5.7 1.7 5.6 1.5 5.7 1.4 5.7 1.2 5.6 1 5.7 .9M383 50.4l4.9-.1 4.9-.2 4.9-.3 4.9-.4 4.9-.5 4.9-.7 4.9-.2 4.9 .9 4.9 .8 4.9 .7 2.9 .1 2.8 .2 2.8 .1 2.9 0 2.8 .1 2.8-.1 2.9 0 2.8-.1 2.8-.2 2.9-.1 5.6-.5 5.7-.7 5.7 0 5.6 .7 5.7 .5 5.6 .3 5.7 .1 5.7 0 5.6-.1 5.7-.3M383 50.4l4.9-.7 4.9-.8 4.9-.9 4.9-1 4.9-1.1 4.9-1.3 4.9-1.3 4.9-1.5 4.9-1.6 4.9-1.8 2.9 1 2.8 1 2.8 .8 2.9 .9 2.8 .8 2.8 .8 2.9 .7 2.8 .7 2.8 .7 2.9 .6 5.6-.1 5.7-.2 5.7-.4 5.6-.6 5.7 1.3 5.6 1.1 5.7 1 5.7 .7 5.6 .7 5.7 .5M383 50.4l4.9 .5 4.9 .4 4.9 .3 4.9 .2 4.9 .1 4.9-.1 4.9-.2 4.9-.3 4.9-.4 4.9-.5 2.9-.3 2.8-.2 2.8-.3 2.9-.4 2.8-.3 2.8-.4 2.9-.5 2.8-.5 2.8-.5 2.9-.6 5.6 1.1 5.7 1 5.7 .7 5.6 .7 5.7 .5 5.6 .3 5.7 .1 5.7 0 5.6-.1 5.7-.3M383 50.4l4.9-.1 4.9-.2 4.9-.3 4.9-.4 4.9-.5 4.9-.7 4.9-.8 4.9-.9 4.9-1 4.9-1.1 2.9-.4 2.8-.5 2.8-.5 2.9-.5 2.8-.6 2.8-.6 2.9-.6 2.8-.7 2.8-.8 2.9-.8 5.6 2 5.7 1.7 5.7 1.6 5.6 1.4 5.7 1.3 5.6 1.1 5.7 1 5.7 .7 5.6 .7 5.7 .5M383 50.4l4.9 .5 4.9 .4 4.9 .3 4.9 .2 4.9 .1 4.9-.1 4.9-.2 4.9-.3 4.9-.4 4.9-.5 2.9 .1 2.8 .2 2.8 .1 2.9 0 2.8 .1 2.8-.1 2.9 0 2.8-.1 2.8-.2 2.9-.1 5.6 .7 5.7 .5 5.7 .4 5.6 .3 5.7 0 5.6 0 5.7-.3 5.7-.4 5.6-.5 5.7-.7M383 33.1l4.9 1.7 4.9 1.6 4.9 1.5 4.9 1.4 4.9 1.2 4.9 1.2 4.9 1 4.9 .9 4.9 .7 4.9 .7 2.9-.2 2.8-.3 2.8-.3 2.9-.3 2.8-.4 2.8-.4 2.9 .5 2.8 .5 2.8 .5 2.9 .4 5.6-.5 5.7-.6 5.7-.8 5.6-1 5.7-1.1 5.6-1.2 5.7-1.5 5.7-1.6 5.6-1.7 5.7-1.9M383 45l4.9-.7 4.9-.7 4.9-.9 4.9-1 4.9-1.2 4.9-1.2 4.9-1.4 4.9-1.5 4.9 1.4 4.9 1.2 2.9 .4 2.8 .4 2.8 .3 2.9 .2 2.8 .2 2.8 .2 2.9 .2 2.8 0 2.8 .1 2.9 0 5.6-1.2 5.7-1.5 5.7-1.6 5.6 .7 5.7 1.6 5.6 1.6 5.7 1.3 5.7 1.2 5.6 1 5.7 .9M383 45l4.9-.1 4.9-.1 4.9-.3 4.9-.5 4.9-.5 4.9-.6 4.9-.2 4.9 .9 4.9 .7 4.9 .7 2.9 .2 2.8 .1 2.8 .1 2.9 .1 2.8 0 2.8 0 2.9-.1 2.8-.1 2.8-.1 2.9-.2 5.6-.5 5.7-.6 5.7 0 5.6 .6 5.7 .5 5.6 .3 5.7 .2 5.7 0 5.6-.2 5.7-.3M383 45l4.9-.7 4.9-.7 4.9-.9 4.9-1 4.9-1.2 4.9-1.2 4.9-1.4 4.9-1.5 4.9-1.6 4.9-1.7 2.9 1 2.8 .9 2.8 .9 2.9 .8 2.8 .9 2.8 .7 2.9 .8 2.8 .7 2.8 .6 2.9 .6 5.6-.1 5.7-.2 5.7-.4 5.6-.5 5.7 1.2 5.6 1.1 5.7 1 5.7 .8 5.6 .6 5.7 .5M383 45l4.9 .5 4.9 .5 4.9 .3 4.9 .1 4.9 .1 4.9-.1 4.9-.1 4.9-.3 4.9-.5 4.9-.5 2.9-.2 2.8-.3 2.8-.3 2.9-.3 2.8-.4 2.8-.4 2.9-.5 2.8-.5 2.8-.5 2.9-.6 5.6 1.1 5.7 1 5.7 .8 5.6 .6 5.7 .5 5.6 .3 5.7 .2 5.7 0 5.6-.2 5.7-.3M383 45l4.9-.1 4.9-.1 4.9-.3 4.9-.5 4.9-.5 4.9-.6 4.9-.8 4.9-.9 4.9-1 4.9-1.2 2.9-.4 2.8-.4 2.8-.5 2.9-.6 2.8-.5 2.8-.7 2.9-.6 2.8-.7 2.8-.7 2.9-.8 5.6 1.9 5.7 1.7 5.7 1.6 5.6 1.5 5.7 1.2 5.6 1.1 5.7 1 5.7 .8 5.6 .6 5.7 .5M383 45l4.9 .5 4.9 .5 4.9 .3 4.9 .1 4.9 .1 4.9-.1 4.9-.1 4.9-.3 4.9-.5 4.9-.5 2.9 .2 2.8 .1 2.8 .1 2.9 .1 2.8 0 2.8 0 2.9-.1 2.8-.1 2.8-.1 2.9-.2 5.6 .7 5.7 .6 5.7 .4 5.6 .2 5.7 .1 5.6-.1 5.7-.2 5.7-.4 5.6-.6 5.7-.7M383 27.7l4.9 1.8 4.9 1.6 4.9 1.4 4.9 1.4 4.9 1.3 4.9 1.1 4.9 1 4.9 .9 4.9 .8 4.9 .6 2.9-.2 2.8-.2 2.8-.3 2.9-.4 2.8-.4 2.8-.4 2.9 .6 2.8 .5 2.8 .4 2.9 .4 5.6-.4 5.7-.7 5.7-.8 5.6-.9 5.7-1.1 5.6-1.3 5.7-1.4 5.7-1.6 5.6-1.8 5.7-1.9M383 39.6l4.9-.6 4.9-.8 4.9-.9 4.9-1 4.9-1.1 4.9-1.3 4.9-1.4 4.9-1.4 4.9 1.3 4.9 1.3 2.9 .4 2.8 .3 2.8 .3 2.9 .3 2.8 .2 2.8 .1 2.9 .2 2.8 .1 2.8 0 2.9 .1 5.6-1.3 5.7-1.4 5.7-1.6 5.6 .6 5.7 1.7 5.6 1.5 5.7 1.3 5.7 1.2 5.6 1.1 5.7 .8M383 39.6l4.9 0 4.9-.2 4.9-.3 4.9-.4 4.9-.6 4.9-.6 4.9-.2 4.9 .9 4.9 .8 4.9 .6 2.9 .2 2.8 .2 2.8 .1 2.9 0 2.8 0 2.8 0 2.9 0 2.8-.1 2.8-.2 2.9-.2 5.6-.4 5.7-.7 5.7 0 5.6 .7 5.7 .4 5.6 .4 5.7 .1 5.7 0 5.6-.1 5.7-.4M383 39.6l4.9-.6 4.9-.8 4.9-.9 4.9-1 4.9-1.1 4.9-1.3 4.9-1.4 4.9-1.4 4.9-1.6 4.9-1.8M432 27.7l2.9 1 2.8 .9 2.8 .9 2.9 .9 2.8 .8 2.8 .8 2.9 .7 2.8 .7 2.8 .7 2.9 .6 5.6-.1 5.7-.3 5.7-.3 5.6-.6 5.7 1.3 5.6 1.1 5.7 .9 5.7 .8 5.6 .7 5.7 .4M383 39.6l4.9 .6 4.9 .4 4.9 .3 4.9 .2 4.9 0 4.9 0 4.9-.2 4.9-.3 4.9-.4 4.9-.6 2.9-.2 2.8-.2 2.8-.3 2.9-.4 2.8-.4 2.8-.4 2.9-.4 2.8-.5 2.8-.6 2.9-.5 5.6 1.1 5.7 .9 5.7 .8 5.6 .7 5.7 .4 5.6 .4 5.7 .1 5.7 0 5.6-.1 5.7-.4M383 39.6l4.9 0 4.9-.2 4.9-.3 4.9-.4 4.9-.6 4.9-.6 4.9-.8 4.9-.9 4.9-1 4.9-1.1 2.9-.4 2.8-.5 2.8-.5 2.9-.5 2.8-.6 2.8-.6 2.9-.7 2.8-.7 2.8-.7 2.9-.8M460.4 27.7l5.6 1.9 5.7 1.8 5.7 1.6 5.6 1.4 5.7 1.3 5.6 1.1 5.7 .9 5.7 .8 5.6 .7 5.7 .4M383 39.6l4.9 .6 4.9 .4 4.9 .3 4.9 .2 4.9 0 4.9 0 4.9-.2 4.9-.3 4.9-.4 4.9-.6 2.9 .2 2.8 .2 2.8 .1 2.9 0 2.8 0 2.8 0 2.9 0 2.8-.1 2.8-.2 2.9-.2 5.6 .8 5.7 .5 5.7 .4 5.6 .2 5.7 .1 5.6-.1 5.7-.2 5.7-.4 5.6-.5 5.7-.8" stroke="#72b752" stroke-width="0.85" fill="none" stroke-linejoin="round"/></g>
<g clip-path="url(#cd2)"><path d="M535.5 122.1l4.9 .1 4.9 .5 4.9 .9 4.9 1.2 4.9 1.5 4.9 1.8 4.9 2.2 4.9 2.5 4.9 2.8 4.9 3.2 2.9 .1 2.8 .1 2.8 .3 2.9 .4 2.8 .5 2.8 .6M612.9 144.4l5.6-4.3 5.7-3.8 5.7-3.3 5.6-2.9 5.7-2.4 5.6-2.1 5.7-1.5 5.7-1.1 5.6-.7 5.7-.2M579.6 142.3l4.9-3.5 2.9 .1 2.8 .1 2.8 .3 2.9 .4 2.8 .5 2.8 .6M535.5 108.8l4.9 .2 4.9 .5 4.9 .8 4.9 1.2 4.9 1.5 4.9 1.9 4.9 2.1 4.9 2.5 4.9 2.9 4.9 3.2 2.9 0 2.8 .2 2.8 .3 2.9 .4 2.8 .5 2.8 .6 2.9 .7 2.8 .8 2.8 1 2.9 1 5.6-4.2 5.7-3.8 5.7-3.3 5.6-2.9 5.7-2.5 5.6-2 5.7-1.6 5.7-1.1 5.6-.6 5.7-.3M601.5 140.9l2.9-2.6 2.8-2.5 2.8-2.4 2.9-2.3 5.6 2.5 5.7 2.9 5.7 3.3 5.6 3.8M564.9 141.6l4.9-4.5 4.9-4.2 4.9-3.8 4.9-3.5 2.9 0 2.8 .2 2.8 .3 2.9 .4 2.8 .5 2.8 .6 2.9 .7 2.8 .8 2.8 1 2.9 1 5.6 2.5 5.7 2.9 5.7 3.3 5.6 3.8M535.5 95.6l4.9 .2 4.9 .5 4.9 .8 4.9 1.2 4.9 1.5 4.9 1.8 4.9 2.2 4.9 2.5 4.9 2.8 4.9 3.2 2.9 .1 2.8 .1 2.8 .3 2.9 .4 2.8 .5 2.8 .6 2.9 .8 2.8 .8 2.8 .9 2.9 1.1 5.6-4.2 5.7-3.8 5.7-3.4 5.6-2.9 5.7-2.4 5.6-2 5.7-1.6 5.7-1.1 5.6-.7 5.7-.2M587.4 142.5l2.8-3.2 2.8-3.1 2.9-2.9 2.8-2.9 2.8-2.7 2.9-2.6 2.8-2.5 2.8-2.4 2.9-2.3 5.6 2.5 5.7 2.8 5.7 3.4 5.6 3.8 5.7 4.2 5.6 4.7 5.7 5.1M550.2 143.9l4.9-5.5 4.9-5.2 4.9-4.8 4.9-4.5 4.9-4.2 4.9-3.9 4.9-3.5 2.9 .1 2.8 .1 2.8 .3 2.9 .4 2.8 .5 2.8 .6 2.9 .8 2.8 .8 2.8 .9 2.9 1.1 5.6 2.5 5.7 2.8 5.7 3.4 5.6 3.8 5.7 4.2 5.6 4.7 5.7 5.1M545.3 142l4.9-4.2 4.9-3.6 4.9-3 4.9-2.5 4.9-2 4.9-1.4 4.9-.8 4.9-.3 2.9 2 2.8 2.1 2.8 2.3 2.9 2.5 2.8 2.7 2.8 2.8 2.9 3.1M545.3 142l4.9-4.2 4.9-3.6 4.9-3 4.9-2.5 4.9-2 4.9-1.4 4.9-.8 4.9-.3 2.9-1.7 2.8-1.6 2.8-1.4 2.9-1.2 2.8-1 2.8-.8 2.9-.7 2.8-.4 2.8-.3 2.9-.1 5.6 .4 5.7 1.1 5.7 1.8 5.6 2.6 5.7 3.3 5.6 4.1 5.7 4.8 5.7 5.5 5.6 6.3M535.5 142.3l4.9-5.3 4.9-4.7 4.9-4.1 4.9-3.6 4.9-3.1 4.9-2.5 4.9-1.9 4.9-1.4 4.9-.8 4.9-.3 2.9 1.9 2.8 2.2 2.8 2.3 2.9 2.5 2.8 2.6 2.8 2.9 2.9 3.1 2.8 3.2 2.8 3.4 2.9 3.6M612.9 142.3l5.6-3.3 5.7-2.6 5.7-1.9 5.6-1.1 5.7-.3 5.6 .3 5.7 1.1 5.7 1.9 5.6 2.6 5.7 3.3M612.9 142.3l5.6-3.3 5.7-2.6 5.7-1.9 5.6-1.1 5.7-.3 5.6 .3 5.7 1.1 5.7 1.9 5.6 2.6 5.7 3.3M535.5 142.3l4.9-5.3 4.9-4.7 4.9-4.1 4.9-3.6 4.9-3.1 4.9-2.5 4.9-1.9 4.9-1.4 4.9-.8 4.9-.3 2.9-1.8 2.8-1.5 2.8-1.4 2.9-1.2 2.8-1 2.8-.9 2.9-.6 2.8-.5 2.8-.2 2.9-.1 5.6 .3 5.7 1.1 5.7 1.9 5.6 2.6 5.7 3.3 5.6 4.1 5.7 4.8 5.7 5.5 5.6 6.3 5.7 7M535.5 132.7l4.9-5.3 4.9-4.7 4.9-4.2 4.9-3.6 4.9-3 4.9-2.5 4.9-1.9 4.9-1.4 4.9-.9 4.9-.2 2.9 1.9 2.8 2.1 2.8 2.3 2.9 2.5 2.8 2.7 2.8 2.9 2.9 3 2.8 3.3 2.8 3.4 2.9 3.6 5.6-3.4 5.7-2.5 5.7-1.9 5.6-1.1 5.7-.4 5.6 .4 5.7 1.1 5.7 1.9 5.6 2.5 5.7 3.4M535.5 132.7l4.9 5.8 4.9 6.4M658.2 148.9l5.6-8.5 5.7-7.7M535.5 132.7l4.9 .3 4.9 .8 4.9 1.4 4.9 1.9 4.9 2.5 4.9 3M601.5 141.5l2.9-2.5 2.8-2.3 2.8-2.1 2.9-1.9 5.6 7.7 5.7 8.5M658.2 141.5l5.6-4.8 5.7-4M535.5 132.7l4.9 .3 4.9 .8 4.9 1.4 4.9 1.9 4.9 2.5 4.9 3M601.5 141.5l2.9-2.5 2.8-2.3 2.8-2.1 2.9-1.9 5.6-3.4 5.7-2.5 5.7-1.9 5.6-1.1 5.7-.4 5.6 .4 5.7 1.1 5.7 1.9 5.6 2.5 5.7 3.4M535.5 132.7l4.9-5.3 4.9-4.7 4.9-4.2 4.9-3.6 4.9-3 4.9-2.5 4.9-1.9 4.9-1.4 4.9-.9 4.9-.2 2.9-1.8 2.8-1.6 2.8-1.3 2.9-1.2 2.8-1.1 2.8-.8 2.9-.6 2.8-.5 2.8-.3 2.9-.1 5.6 .4 5.7 1.1 5.7 1.9 5.6 2.5 5.7 3.4 5.6 4 5.7 4.8 5.7 5.6 5.6 6.3 5.7 7M535.5 132.7l4.9 5.8 4.9 6.4M658.2 141.5l5.6-4.8 5.7-4M564.9 140.7l4.9-1.9 4.9-1.4 4.9-.9 4.9-.2 2.9 1.9 2.8 2.1 2.8 2.3M564.9 140.7l4.9-1.9 4.9-1.4 4.9-.9 4.9-.2 2.9-1.8 2.8-1.6 2.8-1.3 2.9-1.2 2.8-1.1 2.8-.8 2.9-.6 2.8-.5 2.8-.3 2.9-.1 5.6 .4 5.7 1.1 5.7 1.9 5.6 2.5 5.7 3.4 5.6 4 5.7 4.8M545.3 144.4l4.9-4.2 4.9-3.6 4.9-3 4.9-2.5 4.9-2 4.9-1.4 4.9-.8 4.9-.3 2.9 2 2.8 2.1 2.8 2.3 2.9 2.5 2.8 2.7 2.8 2.8M545.3 144.4l4.9-4.2 4.9-3.6 4.9-3 4.9-2.5 4.9-2 4.9-1.4 4.9-.8 4.9-.3 2.9-1.7 2.8-1.6 2.8-1.4 2.9-1.2 2.8-1 2.8-.8 2.9-.7 2.8-.4 2.8-.3 2.9-.1 5.6 .4 5.7 1.1 5.7 1.8 5.6 2.6 5.7 3.3 5.6 4.1 5.7 4.8 5.7 5.5M535.5 144.7l4.9-5.3 4.9-4.7 4.9-4.1 4.9-3.6 4.9-3.1 4.9-2.5 4.9-1.9 4.9-1.4 4.9-.8 4.9-.3 2.9 1.9 2.8 2.2 2.8 2.3 2.9 2.5 2.8 2.6 2.8 2.9 2.9 3.1 2.8 3.2 2.8 3.4M618.5 141.4l5.7-2.6 5.7-1.8 5.6-1.2 5.7-.3 5.6 .3 5.7 1.2 5.7 1.8 5.6 2.6M618.5 141.4l5.7-2.6 5.7-1.8 5.6-1.2 5.7-.3 5.6 .3 5.7 1.2 5.7 1.8 5.6 2.6M535.5 144.7l4.9-5.3 4.9-4.7 4.9-4.1 4.9-3.6 4.9-3.1 4.9-2.5 4.9-1.9 4.9-1.4 4.9-.8 4.9-.3 2.9-1.7 2.8-1.6 2.8-1.4 2.9-1.2 2.8-1 2.8-.9 2.9-.6 2.8-.5 2.8-.2 2.9-.1 5.6 .3 5.7 1.1 5.7 1.9 5.6 2.6 5.7 3.3 5.6 4.1 5.7 4.8 5.7 5.5 5.6 6.3 5.7 7M540.4 141.6l4.9-1.8 4.9-1.6 4.9-1.3 4.9-1.2 4.9-.9 4.9-.8 4.9-.5 4.9-.3 4.9-.1 2.9 .7 2.8 .8 2.8 .9 2.9 1 2.8 1 2.8 1.1 2.9 1.1 2.8 1.2M624.2 141.4l5.7-.7 5.6-.5 5.7-.1 5.6 .1 5.7 .5 5.7 .7M624.2 141.4l5.7-.7 5.6-.5 5.7-.1 5.6 .1 5.7 .5 5.7 .7M540.4 141.6l4.9-1.8 4.9-1.6 4.9-1.3 4.9-1.2 4.9-.9 4.9-.8 4.9-.5 4.9-.3 4.9-.1 2.9-.7 2.8-.6 2.8-.5 2.9-.5 2.8-.4 2.8-.3 2.9-.2 2.8-.2 2.8-.1 2.9 0 5.6 .1 5.7 .4 5.7 .7 5.6 1 5.7 1.3 5.6 1.5 5.7 1.9 5.7 2.1 5.6 2.3M535.5 133.9l4.9-2 4.9-1.8 4.9-1.5 4.9-1.4 4.9-1.2 4.9-.9 4.9-.8 4.9-.5 4.9-.3 4.9-.1 2.9 .7 2.8 .8 2.8 .9 2.9 1 2.8 1 2.8 1.1 2.9 1.1 2.8 1.3 2.8 1.3 2.9 1.3 5.6-1.2 5.7-1 5.7-.7 5.6-.4 5.7-.2 5.6 .2 5.7 .4 5.7 .7 5.6 1 5.7 1.2M535.5 133.9l4.9 2.2 4.9 2.5 4.9 2.6M652.5 143.6l5.7-3.5 5.6-3.2 5.7-3M535.5 133.9l4.9 .1 4.9 .3 4.9 .6 4.9 .7 4.9 1 4.9 1.1 4.9 1.4 4.9 1.6 4.9 1.8M590.2 141.8l2.8-1.2 2.9-1.2 2.8-1.1 2.8-1 2.9-1 2.8-.8 2.8-.8 2.9-.8 5.6 3 5.7 3.2 5.7 3.5M646.8 141.8l5.7-2.4 5.7-2.1 5.6-1.8 5.7-1.6M535.5 133.9l4.9 .1 4.9 .3 4.9 .6 4.9 .7 4.9 1 4.9 1.1 4.9 1.4 4.9 1.6 4.9 1.8M590.2 141.8l2.8-1.2 2.9-1.2 2.8-1.1 2.8-1 2.9-1 2.8-.8 2.8-.8 2.9-.8 5.6-1.2 5.7-1 5.7-.7 5.6-.4 5.7-.2 5.6 .2 5.7 .4 5.7 .7 5.6 1 5.7 1.2M535.5 133.9l4.9-2 4.9-1.8 4.9-1.5 4.9-1.4 4.9-1.2 4.9-.9 4.9-.8 4.9-.5 4.9-.3 4.9-.1 2.9-.7 2.8-.6 2.8-.5 2.9-.4 2.8-.4 2.8-.4 2.9-.2 2.8-.2 2.8-.1 2.9 0 5.6 .1 5.7 .4 5.7 .8 5.6 .9 5.7 1.3 5.6 1.5 5.7 1.9 5.7 2.1 5.6 2.4 5.7 2.6M535.5 133.9l4.9 2.2 4.9 2.5 4.9 2.6M646.8 141.8l5.7-2.4 5.7-2.1 5.6-1.8 5.7-1.6M535.5 124.2l4.9-2 4.9-1.7 4.9-1.6 4.9-1.4 4.9-1.2 4.9-.9 4.9-.7 4.9-.6 4.9-.3 4.9-.1 2.9 .8 2.8 .8 2.8 .8 2.9 1 2.8 1 2.8 1.1 2.9 1.1 2.8 1.3 2.8 1.3 2.9 1.3 5.6-1.2 5.7-1 5.7-.7 5.6-.4 5.7-.2 5.6 .2 5.7 .4 5.7 .7 5.6 1 5.7 1.2M535.5 124.2l4.9 2.3 4.9 2.4 4.9 2.6 4.9 2.8 4.9 3.1 4.9 3.3 4.9 1.3M569.8 142l4.9-2.6 4.9-2.4 4.9-2.2 2.9 1.4 2.8 1.5 2.8 1.6 2.9 1.6M641.2 141.8l5.6-4.1 5.7-3.8 5.7-3.5 5.6-3.2 5.7-3M535.5 124.2l4.9 .1 4.9 .4 4.9 .5 4.9 .7 4.9 1 4.9 1.1 4.9 1.4 4.9 1.6 4.9 1.8 4.9 2 2.9-1.4 2.8-1.3 2.8-1.2 2.9-1.2 2.8-1.1 2.8-1 2.9-.9 2.8-.9 2.8-.8 2.9-.8 5.6 3 5.7 3.2 5.7 3.5 5.6 3.8 5.7-2.9 5.6-2.7 5.7-2.4 5.7-2.1 5.6-1.8 5.7-1.6M535.5 124.2l4.9 .1 4.9 .4 4.9 .5 4.9 .7 4.9 1 4.9 1.1 4.9 1.4 4.9 1.6 4.9 1.8 4.9 2 2.9-1.4 2.8-1.3 2.8-1.2 2.9-1.2 2.8-1.1 2.8-1 2.9-.9 2.8-.9 2.8-.8 2.9-.8 5.6-1.2 5.7-1 5.7-.7 5.6-.4 5.7-.2 5.6 .2 5.7 .4 5.7 .7 5.6 1 5.7 1.2M535.5 124.2l4.9-2 4.9-1.7 4.9-1.6 4.9-1.4 4.9-1.2 4.9-.9 4.9-.7 4.9-.6 4.9-.3 4.9-.1 2.9-.7 2.8-.6 2.8-.5 2.9-.4 2.8-.4 2.8-.3 2.9-.3 2.8-.2 2.8-.1 2.9 0 5.6 .1 5.7 .5 5.7 .7 5.6 .9 5.7 1.3 5.6 1.6 5.7 1.8 5.7 2.1 5.6 2.4 5.7 2.6M535.5 124.2l4.9 2.3 4.9 2.4 4.9 2.6 4.9 2.8 4.9 3.1 4.9 3.3 4.9 3.4M629.9 140.9l5.6-3.2 5.7-2.9 5.6-2.7 5.7-2.4 5.7-2.1 5.6-1.8 5.7-1.6M555.1 142.4l4.9-2 4.9-2.1 4.9-2.1 4.9-2.2 4.9 1.7 4.9 1.7 2.9 .8 2.8 .7 2.8 .8 2.9 .7 2.8 .7M618.5 141.9l5.7-2.3 5.7-2.4 5.6 .7 5.7 2.2 5.6 2.1M569.8 141.9l4.9-1.4 4.9-1.5 4.9-1.6 2.9 .8 2.8 .7 2.8 .8 2.9 .7 2.8 .7M569.8 141.9l4.9-1.4 4.9-1.5 4.9-1.6 2.9-.9 2.8-.8 2.8-.9 2.9-.9 2.8-.9 2.8-1 2.9-1 2.8-1 2.8-1 2.9-1.1 5.6 2.6 5.7 2.6 5.7 2.4 5.6 2.4 5.7 2.2 5.6 2.1M535.5 138.4l4.9-1.7 4.9-1.7 4.9-1.9 4.9-1.9 4.9-2 4.9-2 4.9-2.2 4.9-2.2 4.9 1.7 4.9 1.7 2.9 .8 2.8 .8 2.8 .7 2.9 .7 2.8 .7 2.8 .7 2.9 .6 2.8 .6 2.8 .6 2.9 .6 5.6-2.3 5.7-2.3 5.7-2.4 5.6 .7 5.7 2.2 5.6 2.1 5.7 2 5.7 1.9 5.6 1.8 5.7 1.7M535.5 138.4l4.9 .8 4.9 .6 4.9 .7 4.9 .5M658.2 141.4l5.6-1.4 5.7-1.6M535.5 138.4l4.9-.9 4.9-.9 4.9-1 4.9-1.1 4.9-1.2 4.9-1.3 4.9-1.3 4.9-1.4 4.9-1.5 4.9-1.6 2.9 .8 2.8 .8 2.8 .7 2.9 .7 2.8 .7 2.8 .7 2.9 .6 2.8 .6 2.8 .6 2.9 .6 5.6 1 5.7 .9 5.7 .8 5.6 .7 5.7 .6 5.6 .5 5.7 .4 5.7 .3 5.6 .1 5.7 .1M535.5 138.4l4.9 .8 4.9 .6 4.9 .7 4.9 .5M590.2 140.8l2.8-.9 2.9-.9 2.8-1 2.8-.9 2.9-1 2.8-1 2.8-1.1 2.9-1 5.6 1 5.7 .9 5.7 .8 5.6 .7 5.7 .6 5.6 .5 5.7 .4 5.7 .3 5.6 .1 5.7 .1M535.5 138.4l4.9-.9 4.9-.9 4.9-1 4.9-1.1 4.9-1.2 4.9-1.3 4.9-1.3 4.9-1.4 4.9-1.5 4.9-1.6 2.9-.8 2.8-.9 2.8-.9 2.9-.9 2.8-.9 2.8-1 2.9-1 2.8-1 2.8-1 2.9-1.1 5.6 2.7 5.7 2.5 5.7 2.5 5.6 2.3 5.7 2.2 5.6 2.1 5.7 2 5.7 1.9 5.6 1.8 5.7 1.7M535.5 138.4l4.9 1.6 4.9 1.5M658.2 141.4l5.6-1.4 5.7-1.6M574.7 140.9l4.9-.7 4.9-.8 2.9 0 2.8-.1 2.8 0 2.9-.1 2.8-.1 2.8-.2 2.9-.2 2.8-.2 2.8-.2 2.9-.3 5.6 1.1 5.7 .9 5.7 .8M535.5 127.2l4.9-1.7 4.9-1.7 4.9-1.8 4.9-1.9 4.9-2 4.9-2.1 4.9-2.2 4.9-2.2 4.9 1.8 4.9 1.6 2.9 .8 2.8 .8 2.8 .7 2.9 .8 2.8 .6 2.8 .7 2.9 .6 2.8 .7 2.8 .5 2.9 .6 5.6-2.2 5.7-2.4 5.7-2.4 5.6 .7 5.7 2.2 5.6 2.1 5.7 2 5.7 1.9 5.6 1.8 5.7 1.7M535.5 127.2l4.9 .8 4.9 .7 4.9 .6 4.9 .5 4.9 .5 4.9 .3 4.9 .3 4.9 .2 4.9 .1 4.9 .1 2.9 .8 2.8 .7 2.8 .8 2.9 .7 2.8 .7 2.8 .7 2.9 .6 2.8 .6 2.8 .6 2.9 .5 5.6-.6 5.7-.7 5.7-.8 5.6-.9 5.7-1 5.6-1.2 5.7-1.2 5.7-1.4 5.6-1.4 5.7-1.6M535.5 127.2l4.9-.8 4.9-1 4.9-1 4.9-1.1 4.9-1.2 4.9-1.2 4.9-1.4 4.9-1.4 4.9-1.5 4.9-1.6 2.9 .8 2.8 .8 2.8 .7 2.9 .8 2.8 .6 2.8 .7 2.9 .6 2.8 .7 2.8 .5 2.9 .6 5.6 1 5.7 .9 5.7 .9 5.6 .7 5.7 .6 5.6 .4 5.7 .4 5.7 .3 5.6 .2 5.7 0M535.5 127.2l4.9 .8 4.9 .7 4.9 .6 4.9 .5 4.9 .5 4.9 .3 4.9 .3 4.9 .2 4.9 .1 4.9 .1 2.9-.9 2.8-.8 2.8-.9 2.9-.9 2.8-.9 2.8-1 2.9-1 2.8-1 2.8-1 2.9-1.1 5.6 1 5.7 .9 5.7 .9 5.6 .7 5.7 .6 5.6 .4 5.7 .4 5.7 .3 5.6 .2 5.7 0M535.5 127.2l4.9-.8 4.9-1 4.9-1 4.9-1.1 4.9-1.2 4.9-1.2 4.9-1.4 4.9-1.4 4.9-1.5 4.9-1.6 2.9-.8 2.8-.9 2.8-.8 2.9-.9 2.8-1 2.8-.9 2.9-1 2.8-1 2.8-1.1 2.9-1.1 5.6 2.7 5.7 2.5 5.7 2.5 5.6 2.3 5.7 2.2 5.6 2.1 5.7 2 5.7 1.9 5.6 1.8 5.7 1.7M535.5 127.2l4.9 1.6 4.9 1.5 4.9 1.4 4.9 1.4 4.9 1.2 4.9 1.2 4.9 1.1 4.9 1 4.9 .9 4.9 .9 2.9 0 2.8-.1 2.8 0 2.9-.1 2.8-.1 2.8-.2 2.9-.2 2.8-.2 2.8-.2 2.9-.3 5.6-.6 5.7-.7 5.7-.8 5.6-.9 5.7-1 5.6-1.2 5.7-1.2 5.7-1.4 5.6-1.4 5.7-1.6M535.5 140l4.9 2.8M663.8 143l5.7-3M579.6 142.8l4.9-2.8 2.9 1.6M610 141.3l2.9-1.3 5.6 3M535.5 129.1l4.9 2.7 4.9 2.6 4.9 2.3 4.9 2.2 4.9 2M641.2 141.7l5.6-2.1 5.7-2.2 5.7-2.5 5.6-2.8 5.7-3M560 140.9l4.9-2 4.9-2.2 4.9-2.3 4.9 2.1 4.9 2 2.9 .6 2.8 .5 2.8 .5 2.9 .4 2.8 .4M612.9 141.7l5.6-2.1 5.7-2.2 5.7-2.5 5.6 1 5.7 2.6 5.6 2.4M560 140.9l4.9-2 4.9-2.2 4.9-2.3 4.9-2.6 4.9-2.7 2.9 1.5 2.8 1.5 2.8 1.4 2.9 1.4 2.8 1.3 2.8 1.2 2.9 1.1 2.8 1.1 2.8 1.1M624.2 141.2l5.7-.7 5.6-.9 5.7 2.1M574.7 141.9l4.9-1.6 4.9-1.8 2.9-.6 2.8-.8 2.8-.7 2.9-.9 2.8-.9 2.8-1 2.9-1 2.8-1.1 2.8-1.2 2.9-1.2 5.6 3 5.7 2.8 5.7 2.5 5.6 2.2 5.7 2.1M535.5 118.2l4.9 2.7 4.9 2.5 4.9 2.4 4.9 2.2 4.9 1.9 4.9 1.8 4.9 1.6 4.9 1.4 4.9 1.3 4.9 1 2.9-.3 2.8-.4 2.8-.5 2.9-.5 2.8-.6 2.8-.7 2.9 .8 2.8 .8 2.8 .8 2.9 .6 5.6-.7 5.7-1 5.7-1.3 5.6-1.5 5.7-1.8 5.6-2 5.7-2.2 5.7-2.6 5.6-2.7 5.7-3M535.5 137l4.9-1 4.9-1.3 4.9-1.4 4.9-1.6 4.9-1.8 4.9-1.9 4.9-2.2 4.9-2.4 4.9 2.2 4.9 2 2.9 .6 2.8 .5 2.8 .5 2.9 .4 2.8 .3 2.8 .3 2.9 .2 2.8 .2 2.8 .1 2.9 0 5.6-2 5.7-2.2 5.7-2.6 5.6 1 5.7 2.7 5.6 2.4 5.7 2.1 5.7 1.9 5.6 1.6 5.7 1.4M535.5 137l4.9-.1 4.9-.3 4.9-.4 4.9-.7 4.9-.8 4.9-1.1 4.9-.3 4.9 1.4 4.9 1.3 4.9 1 2.9 .3 2.8 .2 2.8 .2 2.9 .1 2.8 0 2.8 0 2.9-.1 2.8-.2 2.8-.2 2.9-.3 5.6-.7 5.7-1 5.7 0 5.6 1 5.7 .7 5.6 .5 5.7 .3 5.7 0 5.6-.3 5.7-.5M535.5 137l4.9-1 4.9-1.3 4.9-1.4 4.9-1.6 4.9-1.8 4.9-1.9 4.9-2.2 4.9-2.4 4.9-2.5 4.9-2.7 2.9 1.5 2.8 1.5 2.8 1.4 2.9 1.3 2.8 1.3 2.8 1.3 2.9 1.1 2.8 1.1 2.8 1.1 2.9 .9 5.6-.1 5.7-.4 5.7-.6 5.6-.9 5.7 2 5.6 1.8 5.7 1.5 5.7 1.3 5.6 1 5.7 .7M535.5 137l4.9 .9 4.9 .6 4.9 .5 4.9 .3 4.9 .1 4.9-.1 4.9-.3 4.9-.5 4.9-.6 4.9-.9 2.9-.3 2.8-.4 2.8-.5 2.9-.5 2.8-.6 2.8-.7 2.9-.7 2.8-.8 2.8-.9 2.9-.9 5.6 1.8 5.7 1.5 5.7 1.3 5.6 1 5.7 .7 5.6 .5 5.7 .3 5.7 0 5.6-.3 5.7-.5M535.5 137l4.9-.1 4.9-.3 4.9-.4 4.9-.7 4.9-.8 4.9-1.1 4.9-1.2 4.9-1.4 4.9-1.6 4.9-1.8 2.9-.7 2.8-.7 2.8-.8 2.9-.8 2.8-.9 2.8-1 2.9-1 2.8-1.1 2.8-1.2 2.9-1.2 5.6 3 5.7 2.7 5.7 2.6 5.6 2.2 5.7 2 5.6 1.8 5.7 1.5 5.7 1.3 5.6 1 5.7 .7M535.5 137l4.9 .9 4.9 .6 4.9 .5 4.9 .3 4.9 .1 4.9-.1 4.9-.3 4.9-.5 4.9-.6 4.9-.9 2.9 .3 2.8 .2 2.8 .2 2.9 .1 2.8 0 2.8 0 2.9-.1 2.8-.2 2.8-.2 2.9-.3 5.6 1.1 5.7 .9 5.7 .6 5.6 .4 5.7 .2 5.6-.2 5.7-.4 5.7-.6 5.6-.9 5.7-1.1M535.5 134.8l4.9 6M663.8 141.5l5.7-6.7M535.5 125.1l4.9 6 4.9 5.9 4.9 5.6M652.5 144.3l5.7-6.1 5.6-6.4 5.7-6.7M535.5 115.4l4.9 6.1 4.9 5.8 4.9 5.6 4.9 5.4 4.9 5.2M641.2 146.1l5.6-5.6 5.7-5.9 5.7-6.1 5.6-6.4 5.7-6.7M535.5 46.3l4.9 4.2 4.9 3.7 4.9 3.3 4.9 2.9 4.9 2.4 4.9 1.9 4.9 1.6 4.9 1.1 4.9 .6 4.9 .3 2.9-1.6 2.8-1.7 2.8-1.8 2.9-2 2.8-2.1 2.8-2.3 2.9-2.4 2.8-2.5 2.8-2.8 2.9-2.8 5.6 2.6 5.7 2.1 5.7 1.4 5.6 .9 5.7 .3 5.6-.3 5.7-.9 5.7-1.4 5.6-2.1 5.7-2.6M535.5 46.3l4.9-4.6 4.9-5.1 4.9-5.5 4.9-5.9M652.5 26.1l5.7 7.3 5.6 6.7 5.7 6.2M535.5 46.3l4.9-.2 4.9-.7 4.9-1.1 4.9-1.5 4.9-2 4.9-2.4 4.9-2.9 4.9-3.3 4.9-3.7 4.9-4.2M587.4 27.2l2.8 2.7 2.8 2.5 2.9 2.5 2.8 2.2 2.8 2.2 2.9 1.9 2.8 1.9 2.8 1.7 2.9 1.5 5.6-6.2 5.7-6.7 5.7-7.3M641.2 24.3l5.6 5.6 5.7 5 5.7 4.4 5.6 3.8 5.7 3.2M535.5 46.3l4.9-.2 4.9-.7 4.9-1.1 4.9-1.5 4.9-2 4.9-2.4 4.9-2.9 4.9-3.3 4.9-3.7 4.9-4.2M587.4 27.2l2.8 2.7 2.8 2.5 2.9 2.5 2.8 2.2 2.8 2.2 2.9 1.9 2.8 1.9 2.8 1.7 2.9 1.5 5.6 2.6 5.7 2.1 5.7 1.4 5.6 .9 5.7 .3 5.6-.3 5.7-.9 5.7-1.4 5.6-2.1 5.7-2.6M535.5 46.3l4.9 4.2 4.9 3.7 4.9 3.3 4.9 2.9 4.9 2.4 4.9 1.9 4.9 1.6 4.9 1.1 4.9 .6 4.9 .3 2.9 1.4 2.8 1.2 2.8 1.1 2.9 1 2.8 .8 2.8 .6 2.9 .5 2.8 .4 2.8 .2 2.9 .1 5.6-.3 5.7-.9 5.7-1.4 5.6-2.1 5.7-2.6 5.6-3.3 5.7-3.8 5.7-4.4 5.6-4.9 5.7-5.6M535.5 46.3l4.9-4.6 4.9-5.1 4.9-5.5 4.9-5.9M641.2 24.3l5.6 5.6 5.7 5 5.7 4.4 5.6 3.8 5.7 3.2M535.5 36.5l4.9 4.2 4.9 3.7 4.9 3.3 4.9 2.8 4.9 2.5 4.9 1.9 4.9 1.6 4.9 1.1 4.9 .6 4.9 .3 2.9-1.6 2.8-1.7 2.8-1.8 2.9-2 2.8-2.1 2.8-2.3 2.9-2.4 2.8-2.6 2.8-2.7 2.9-2.8 5.6 2.6 5.7 2.1 5.7 1.4 5.6 .9 5.7 .3 5.6-.3 5.7-.9 5.7-1.4 5.6-2.1 5.7-2.6M535.5 36.5l4.9-4.6 4.9-5.1M658.2 23.6l5.6 6.7 5.7 6.2M535.5 36.5l4.9-.2 4.9-.7 4.9-1.1 4.9-1.5 4.9-2 4.9-2.4 4.9-2.9M598.7 27.3l2.8 2.1 2.9 2 2.8 1.9 2.8 1.6 2.9 1.6 5.6-6.2 5.7-6.7M652.5 25.1l5.7 4.3 5.6 3.9 5.7 3.2M535.5 36.5l4.9-.2 4.9-.7 4.9-1.1 4.9-1.5 4.9-2 4.9-2.4 4.9-2.9M598.7 27.3l2.8 2.1 2.9 2 2.8 1.9 2.8 1.6 2.9 1.6 5.6 2.6 5.7 2.1 5.7 1.4 5.6 .9 5.7 .3 5.6-.3 5.7-.9 5.7-1.4 5.6-2.1 5.7-2.6M535.5 36.5l4.9 4.2 4.9 3.7 4.9 3.3 4.9 2.8 4.9 2.5 4.9 1.9 4.9 1.6 4.9 1.1 4.9 .6 4.9 .3 2.9 1.3 2.8 1.3 2.8 1.1 2.9 .9 2.8 .8 2.8 .7 2.9 .5 2.8 .4 2.8 .2 2.9 .1 5.6-.3 5.7-.9 5.7-1.5 5.6-2 5.7-2.6 5.6-3.3 5.7-3.8 5.7-4.4 5.6-5 5.7-5.5M535.5 36.5l4.9-4.6 4.9-5.1M652.5 25.1l5.7 4.3 5.6 3.9 5.7 3.2M535.5 26.7l4.9 4.1 4.9 3.8 4.9 3.3 4.9 2.8 4.9 2.4 4.9 2 4.9 1.6 4.9 1.1 4.9 .6 4.9 .2 2.9-1.5 2.8-1.7 2.8-1.8 2.9-2 2.8-2.1 2.8-2.3 2.9-2.4 2.8-2.6 2.8-2.7 2.9-2.8M612.9 26.7l5.6 2.6 5.7 2.1 5.7 1.4 5.6 .9 5.7 .3 5.6-.3 5.7-.9 5.7-1.4 5.6-2.1 5.7-2.6M612.9 26.7l5.6 2.6 5.7 2.1 5.7 1.4 5.6 .9 5.7 .3 5.6-.3 5.7-.9 5.7-1.4 5.6-2.1 5.7-2.6M535.5 26.7l4.9 4.1 4.9 3.8 4.9 3.3 4.9 2.8 4.9 2.4 4.9 2 4.9 1.6 4.9 1.1 4.9 .6 4.9 .2 2.9 1.4 2.8 1.3 2.8 1.1 2.9 .9 2.8 .8 2.8 .7 2.9 .5 2.8 .4 2.8 .2 2.9 .1 5.6-.3 5.7-.9 5.7-1.5 5.6-2 5.7-2.7 5.6-3.2 5.7-3.8 5.7-4.4 5.6-5 5.7-5.5M535.5 29.3l4.9 5.5 4.9 5.2 4.9 4.8 4.9 4.4 4.9 4 4.9 3.6 4.9 3.3 4.9 2.8 4.9 2.5 4.9 2.1 2.9-.7 2.8-.8 2.8-1 2.9-1 2.8-1.3 2.8-1.3 2.9 1.7 2.8 1.6 2.8 1.5 2.9 1.3 5.6-1.5 5.7-2 5.7-2.6 5.6-3.1 5.7-3.5 5.6-4.1 5.7-4.6 5.7-5.1 5.6-5.6 5.7-6.1M535.5 67.5l4.9-2.1 4.9-2.5 4.9-2.8 4.9-3.3 4.9-3.6 4.9-4 4.9-4.4 4.9-4.8 4.9 4.4 4.9 4 2.9 1.2 2.8 1.1 2.8 1 2.9 .8 2.8 .7 2.8 .6 2.9 .4 2.8 .3 2.8 .2 2.9 .1 5.6-4.1 5.7-4.6 5.7-5.1 5.6 2.1 5.7 5.3 5.6 4.9 5.7 4.3 5.7 3.8 5.6 3.3 5.7 2.8M535.5 67.5l4.9-.2 4.9-.5 4.9-1 4.9-1.3 4.9-1.8 4.9-2.1 4.9-.5 4.9 2.8 4.9 2.5 4.9 2.1 2.9 .6 2.8 .4 2.8 .4 2.9 .1 2.8 .1 2.8-.1 2.9-.1 2.8-.4 2.8-.4 2.9-.6 5.6-1.5 5.7-2 5.7 0 5.6 2 5.7 1.5 5.6 1 5.7 .5 5.7 0 5.6-.5 5.7-1M535.5 67.5l4.9-2.1 4.9-2.5 4.9-2.8 4.9-3.3 4.9-3.6 4.9-4 4.9-4.4 4.9-4.8 4.9-5.2 4.9-5.5 2.9 3.1 2.8 3 2.8 2.9 2.9 2.7 2.8 2.6 2.8 2.5 2.9 2.4 2.8 2.2 2.8 2.1 2.9 2 5.6-.3 5.7-.7 5.7-1.3 5.6-1.8 5.7 4.1 5.6 3.5 5.7 3.1 5.7 2.6 5.6 2 5.7 1.5M535.5 67.5l4.9 1.7 4.9 1.4 4.9 .9 4.9 .6 4.9 .2 4.9-.2 4.9-.6 4.9-.9 4.9-1.4 4.9-1.7 2.9-.7 2.8-.8 2.8-1 2.9-1 2.8-1.3 2.8-1.3 2.9-1.5 2.8-1.6 2.8-1.7 2.9-1.8 5.6 3.5 5.7 3.1 5.7 2.6 5.6 2 5.7 1.5 5.6 1 5.7 .5 5.7 0 5.6-.5 5.7-1M535.5 67.5l4.9-.2 4.9-.5 4.9-1 4.9-1.3 4.9-1.8 4.9-2.1 4.9-2.4 4.9-2.9 4.9-3.3 4.9-3.6 2.9-1.3 2.8-1.5 2.8-1.6 2.9-1.7 2.8-1.8 2.8-2 2.9-2.1 2.8-2.3 2.8-2.3 2.9-2.5 5.6 6.1 5.7 5.6 5.7 5.1 5.6 4.6 5.7 4.1 5.6 3.5 5.7 3.1 5.7 2.6 5.6 2 5.7 1.5M535.5 67.5l4.9 1.7 4.9 1.4 4.9 .9 4.9 .6 4.9 .2 4.9-.2 4.9-.6 4.9-.9 4.9-1.4 4.9-1.7 2.9 .6 2.8 .4 2.8 .4 2.9 .1 2.8 .1 2.8-.1 2.9-.1 2.8-.4 2.8-.4 2.9-.6 5.6 2.3 5.7 1.8 5.7 1.3 5.6 .7 5.7 .3 5.6-.3 5.7-.7 5.7-1.3 5.6-1.8 5.7-2.3M540.4 24.9l4.9 5.1 4.9 4.8 4.9 4.4 4.9 4 4.9 3.6 4.9 3.3 4.9 2.8 4.9 2.5 4.9 2.1 2.9-.7 2.8-.8 2.8-1 2.9-1 2.8-1.2 2.8-1.4 2.9 1.7 2.8 1.6 2.8 1.5 2.9 1.3 5.6-1.5 5.7-2 5.7-2.6 5.6-3 5.7-3.6 5.6-4.1 5.7-4.6 5.7-5.1 5.6-5.6M535.5 57.5l4.9-2.1 4.9-2.5 4.9-2.8 4.9-3.3 4.9-3.6 4.9-4 4.9-4.4 4.9-4.8 4.9 4.4 4.9 4 2.9 1.2 2.8 1.1 2.8 1 2.9 .8 2.8 .7 2.8 .6 2.9 .4 2.8 .3 2.8 .2 2.9 .1 5.6-4.1 5.7-4.6 5.7-5.1 5.6 2.1 5.7 5.3 5.6 4.9 5.7 4.3 5.7 3.8 5.6 3.3 5.7 2.8M535.5 57.5l4.9-.2 4.9-.5 4.9-1 4.9-1.3 4.9-1.7 4.9-2.1 4.9-.6 4.9 2.8 4.9 2.5 4.9 2.1 2.9 .6 2.8 .5 2.8 .3 2.9 .2 2.8 0 2.8 0 2.9-.2 2.8-.3 2.8-.5 2.9-.6 5.6-1.5 5.7-2 5.7 0 5.6 2 5.7 1.5 5.6 1.1 5.7 .5 5.7 0 5.6-.5 5.7-1.1M535.5 57.5l4.9-2.1 4.9-2.5 4.9-2.8 4.9-3.3 4.9-3.6 4.9-4 4.9-4.4 4.9-4.8 4.9-5.1M593 28.3l2.9 2.7 2.8 2.6 2.8 2.5 2.9 2.4 2.8 2.2 2.8 2.1 2.9 2 5.6-.3 5.7-.7 5.7-1.3 5.6-1.8 5.7 4.1 5.6 3.6 5.7 3 5.7 2.6 5.6 2 5.7 1.5M535.5 57.5l4.9 1.8 4.9 1.3 4.9 .9 4.9 .6 4.9 .2 4.9-.2 4.9-.6 4.9-.9 4.9-1.3 4.9-1.8 2.9-.7 2.8-.8 2.8-1 2.9-1 2.8-1.2 2.8-1.4 2.9-1.4 2.8-1.6 2.8-1.8 2.9-1.8 5.6 3.6 5.7 3 5.7 2.6 5.6 2 5.7 1.5 5.6 1.1 5.7 .5 5.7 0 5.6-.5 5.7-1.1M535.5 57.5l4.9-.2 4.9-.5 4.9-1 4.9-1.3 4.9-1.7 4.9-2.1 4.9-2.5 4.9-2.9 4.9-3.2 4.9-3.7 2.9-1.3 2.8-1.5 2.8-1.6 2.9-1.7 2.8-1.8 2.8-2 2.9-2.1M618.5 25.4l5.7 5.6 5.7 5.1 5.6 4.6 5.7 4.1 5.6 3.6 5.7 3 5.7 2.6 5.6 2 5.7 1.5M535.5 57.5l4.9 1.8 4.9 1.3 4.9 .9 4.9 .6 4.9 .2 4.9-.2 4.9-.6 4.9-.9 4.9-1.3 4.9-1.8 2.9 .6 2.8 .5 2.8 .3 2.9 .2 2.8 0 2.8 0 2.9-.2 2.8-.3 2.8-.5 2.9-.6 5.6 2.3 5.7 1.8 5.7 1.3 5.6 .7 5.7 .3 5.6-.3 5.7-.7 5.7-1.3 5.6-1.8 5.7-2.3M550.2 24.8l4.9 4.4 4.9 4 4.9 3.6 4.9 3.3 4.9 2.9 4.9 2.4 4.9 2.1 2.9-.7 2.8-.8 2.8-.9 2.9-1.1 2.8-1.2 2.8-1.4 2.9 1.8 2.8 1.5 2.8 1.5 2.9 1.3 5.6-1.5 5.7-2 5.7-2.6 5.6-3 5.7-3.6 5.6-4.1 5.7-4.6M535.5 47.5l4.9-2.1 4.9-2.4 4.9-2.9 4.9-3.3 4.9-3.6 4.9-4 4.9-4.4M579.6 24.4l4.9 4 2.9 1.2 2.8 1.1 2.8 1 2.9 .8 2.8 .7 2.8 .6 2.9 .4 2.8 .4 2.8 .1 2.9 .1 5.6-4.1 5.7-4.6M635.5 23.1l5.7 5.3 5.6 4.9 5.7 4.3 5.7 3.8 5.6 3.3 5.7 2.8M535.5 47.5l4.9-.1 4.9-.6 4.9-1 4.9-1.3 4.9-1.7 4.9-2.1 4.9-.6 4.9 2.9 4.9 2.4 4.9 2.1 2.9 .6 2.8 .5 2.8 .3 2.9 .2 2.8 0 2.8 0 2.9-.2 2.8-.3 2.8-.5 2.9-.6 5.6-1.5 5.7-2 5.7 0 5.6 2 5.7 1.5 5.6 1.1 5.7 .5 5.7 0 5.6-.5 5.7-1.1M535.5 47.5l4.9-2.1 4.9-2.4 4.9-2.9 4.9-3.3 4.9-3.6 4.9-4 4.9-4.4M601.5 26.1l2.9 2.4 2.8 2.2 2.8 2.1 2.9 2 5.6-.2 5.7-.8 5.7-1.3 5.6-1.8 5.7 4.1 5.6 3.6 5.7 3 5.7 2.6 5.6 2 5.7 1.5M535.5 47.5l4.9 1.8 4.9 1.3 4.9 1 4.9 .5 4.9 .2 4.9-.2 4.9-.5 4.9-1 4.9-1.3 4.9-1.8 2.9-.7 2.8-.8 2.8-.9 2.9-1.1 2.8-1.2 2.8-1.4 2.9-1.4 2.8-1.6 2.8-1.7 2.9-1.9 5.6 3.6 5.7 3 5.7 2.6 5.6 2 5.7 1.5 5.6 1.1 5.7 .5 5.7 0 5.6-.5 5.7-1.1M535.5 47.5l4.9-.1 4.9-.6 4.9-1 4.9-1.3 4.9-1.7 4.9-2.1 4.9-2.5 4.9-2.9 4.9-3.2 4.9-3.7 2.9-1.3M629.9 26.1l5.6 4.6 5.7 4.1 5.6 3.6 5.7 3 5.7 2.6 5.6 2 5.7 1.5M535.5 47.5l4.9 1.8 4.9 1.3 4.9 1 4.9 .5 4.9 .2 4.9-.2 4.9-.5 4.9-1 4.9-1.3 4.9-1.8 2.9 .6 2.8 .5 2.8 .3 2.9 .2 2.8 0 2.8 0 2.9-.2 2.8-.3 2.8-.5 2.9-.6 5.6 2.3 5.7 1.8 5.7 1.3 5.6 .8 5.7 .2 5.6-.2 5.7-.8 5.7-1.3 5.6-1.8 5.7-2.3M535.5 62.6l4.9-3 4.9-2.8 4.9-2.6 4.9-2.4 4.9-2.2 4.9-1.9 4.9-1.8 4.9-1.6 4.9-1.3 4.9-1.2 2.9 .4 2.8 .5 2.8 .5 2.9 .6 2.8 .6 2.8 .8 2.9-1 2.8-.8 2.8-.8 2.9-.8 5.6 .9 5.7 1.1 5.7 1.4 5.6 1.6 5.7 2 5.6 2.2 5.7 2.5 5.7 2.7 5.6 3.1 5.7 3.3M535.5 41.8l4.9 1.2 4.9 1.3 4.9 1.6 4.9 1.8 4.9 1.9 4.9 2.2 4.9 2.4 4.9 2.6 4.9-2.4 4.9-2.2 2.9-.6 2.8-.6 2.8-.6 2.9-.4 2.8-.4 2.8-.3 2.9-.2 2.8-.2 2.8-.1 2.9 0 5.6 2.2 5.7 2.5 5.7 2.7 5.6-1.1 5.7-2.9 5.6-2.6 5.7-2.4 5.7-2 5.6-1.8 5.7-1.6M535.5 41.8l4.9 .2 4.9 .3 4.9 .5 4.9 .7 4.9 .9 4.9 1.2 4.9 .3 4.9-1.6 4.9-1.3 4.9-1.2 2.9-.3 2.8-.2 2.8-.2 2.9-.1 2.8 0 2.8 0 2.9 .1 2.8 .2 2.8 .2 2.9 .3 5.6 .9 5.7 1.1 5.7 0 5.6-1.1 5.7-.9 5.6-.5 5.7-.3 5.7 0 5.6 .3 5.7 .5M535.5 41.8l4.9 1.2 4.9 1.3 4.9 1.6 4.9 1.8 4.9 1.9 4.9 2.2 4.9 2.4 4.9 2.6 4.9 2.8 4.9 3 2.9-1.7 2.8-1.6 2.8-1.6 2.9-1.5 2.8-1.4 2.8-1.3 2.9-1.3 2.8-1.2 2.8-1.2 2.9-1 5.6 .1 5.7 .4 5.7 .7 5.6 1 5.7-2.2 5.6-2 5.7-1.6 5.7-1.4 5.6-1.1 5.7-.9M535.5 41.8l4.9-.9 4.9-.7 4.9-.5 4.9-.3 4.9-.1 4.9 .1 4.9 .3 4.9 .5 4.9 .7 4.9 .9 2.9 .4 2.8 .5 2.8 .5 2.9 .6 2.8 .6 2.8 .8 2.9 .8 2.8 .8 2.8 1 2.9 1 5.6-2 5.7-1.6 5.7-1.4 5.6-1.1 5.7-.9 5.6-.5 5.7-.3 5.7 0 5.6 .3 5.7 .5M535.5 41.8l4.9 .2 4.9 .3 4.9 .5 4.9 .7 4.9 .9 4.9 1.2 4.9 1.3 4.9 1.6 4.9 1.7 4.9 2 2.9 .7 2.8 .8 2.8 .9 2.9 .9 2.8 1 2.8 1.1 2.9 1.1 2.8 1.2 2.8 1.3 2.9 1.4 5.6-3.3 5.7-3.1 5.7-2.7 5.6-2.5 5.7-2.2 5.6-2 5.7-1.6 5.7-1.4 5.6-1.1 5.7-.9M535.5 41.8l4.9-.9 4.9-.7 4.9-.5 4.9-.3 4.9-.1 4.9 .1 4.9 .3 4.9 .5 4.9 .7 4.9 .9 2.9-.3 2.8-.2 2.8-.2 2.9-.1 2.8 0 2.8 0 2.9 .1 2.8 .2 2.8 .2 2.9 .3 5.6-1.2 5.7-1 5.7-.7 5.6-.4 5.7-.1 5.6 .1 5.7 .4 5.7 .7 5.6 1 5.7 1.2M535.5 52.9l4.9-3 4.9-2.8 4.9-2.6 4.9-2.4 4.9-2.2 4.9-1.9 4.9-1.8 4.9-1.6 4.9-1.3 4.9-1.1 2.9 .3 2.8 .5 2.8 .5 2.9 .6 2.8 .7 2.8 .7 2.9-1 2.8-.8 2.8-.8 2.9-.7 5.6 .8 5.7 1.1 5.7 1.4 5.6 1.6 5.7 2 5.6 2.2 5.7 2.5 5.7 2.7 5.6 3.1 5.7 3.3M535.5 32.2l4.9 1.1 4.9 1.3 4.9 1.6 4.9 1.8 4.9 1.9 4.9 2.2 4.9 2.4 4.9 2.6 4.9-2.4 4.9-2.2 2.9-.6 2.8-.6 2.8-.5 2.9-.5 2.8-.4 2.8-.3 2.9-.2 2.8-.2 2.8-.1 2.9 0 5.6 2.2 5.7 2.5 5.7 2.7 5.6-1.1 5.7-2.9 5.6-2.6 5.7-2.4 5.7-2 5.6-1.8 5.7-1.5M535.5 32.2l4.9 .1 4.9 .3 4.9 .5 4.9 .7 4.9 1 4.9 1.1 4.9 .3 4.9-1.6 4.9-1.3 4.9-1.1 2.9-.4 2.8-.2 2.8-.2 2.9-.1 2.8 0 2.8 0 2.9 .1 2.8 .2 2.8 .2 2.9 .4 5.6 .8 5.7 1.1 5.7 0 5.6-1.1 5.7-.8 5.6-.6 5.7-.3 5.7 0 5.6 .3 5.7 .6M535.5 32.2l4.9 1.1 4.9 1.3 4.9 1.6 4.9 1.8 4.9 1.9 4.9 2.2 4.9 2.4 4.9 2.6 4.9 2.8 4.9 3 2.9-1.7 2.8-1.6 2.8-1.6 2.9-1.5 2.8-1.4 2.8-1.3 2.9-1.3 2.8-1.2 2.8-1.2 2.9-1 5.6 .1 5.7 .4 5.7 .7 5.6 1 5.7-2.2 5.6-2 5.7-1.6 5.7-1.4 5.6-1.1 5.7-.8M535.5 32.2l4.9-1 4.9-.7 4.9-.5 4.9-.3 4.9-.1 4.9 .1 4.9 .3 4.9 .5 4.9 .7 4.9 1 2.9 .3 2.8 .5 2.8 .5 2.9 .6 2.8 .7 2.8 .7 2.9 .8 2.8 .8 2.8 1 2.9 1 5.6-2 5.7-1.6 5.7-1.4 5.6-1.1 5.7-.8 5.6-.6 5.7-.3 5.7 0 5.6 .3 5.7 .6M535.5 32.2l4.9 .1 4.9 .3 4.9 .5 4.9 .7 4.9 1 4.9 1.1 4.9 1.3 4.9 1.6 4.9 1.8 4.9 1.9 2.9 .7 2.8 .8 2.8 .9 2.9 .9 2.8 1 2.8 1.1 2.9 1.1 2.8 1.3 2.8 1.2 2.9 1.4 5.6-3.3 5.7-3.1 5.7-2.7 5.6-2.5 5.7-2.2 5.6-2 5.7-1.6 5.7-1.4 5.6-1.1 5.7-.8M535.5 32.2l4.9-1 4.9-.7 4.9-.5 4.9-.3 4.9-.1 4.9 .1 4.9 .3 4.9 .5 4.9 .7 4.9 1 2.9-.4 2.8-.2 2.8-.2 2.9-.1 2.8 0 2.8 0 2.9 .1 2.8 .2 2.8 .2 2.9 .4 5.6-1.3 5.7-1 5.7-.6 5.6-.5 5.7-.1 5.6 .1 5.7 .5 5.7 .6 5.6 1 5.7 1.3M535.5 43.2l4.9-3 4.9-2.8 4.9-2.6 4.9-2.4 4.9-2.2 4.9-1.9M635.5 27.4l5.7 2 5.6 2.2 5.7 2.5 5.7 2.7 5.6 3.1 5.7 3.3M555.1 28.3l4.9 1.9 4.9 2.2 4.9 2.4 4.9 2.6 4.9-2.4 4.9-2.2 2.9-.6 2.8-.6 2.8-.5 2.9-.5 2.8-.4 2.8-.3 2.9-.2 2.8-.2 2.8-.1 2.9 0 5.6 2.2 5.7 2.5 5.7 2.7 5.6-1.1 5.7-2.9 5.6-2.6 5.7-2.3M555.1 28.3l4.9 1.9 4.9 2.2 4.9 2.4 4.9 2.6 4.9 2.8 4.9 3 2.9-1.7 2.8-1.6 2.8-1.6 2.9-1.5 2.8-1.4 2.8-1.3 2.9-1.3 2.8-1.2 2.8-1.2 2.9-1 5.6 .1 5.7 .4 5.7 .7 5.6 1 5.7-2.2 5.6-2M607.2 27.4l2.8 1 2.9 1 5.6-2M569.8 27.5l4.9 1.6 4.9 1.8 4.9 1.9 2.9 .8 2.8 .8 2.8 .8 2.9 .9 2.8 1 2.8 1.1 2.9 1.2 2.8 1.2 2.8 1.2 2.9 1.4 5.6-3.3 5.7-3.1 5.7-2.7 5.6-2.5 5.7-2.2 5.6-2M564.9 27.3l4.9 2.1 4.9 1.9 4.9 1.9 4.9 1.8 2.9-.3 2.8-.3 2.8-.4 2.9-.4 2.8-.4 2.8-.5 2.9 1 2.8 1 2.8 .9 2.9 .9 5.6-1.8 5.7-2 5.7-2 5.6-2.2 5.7-2.2M535.5 48.1l4.9 .9 4.9 .7 4.9 .7 4.9 .5 4.9 .5 4.9 .4 4.9 .3 4.9 .2 4.9 .2 4.9 0 2.9-.3 2.8-.3 2.8-.4 2.9-.4 2.8-.4 2.8-.5 2.9-.4 2.8-.5 2.8-.6 2.9-.6 5.6 .6 5.7 .4 5.7 .3 5.6 .1 5.7 .1 5.6-.1 5.7-.1 5.7-.3 5.6-.4 5.7-.6M535.5 48.1l4.9-.9 4.9-1 4.9-1.1 4.9-1.2 4.9-1.2 4.9-1.4 4.9-.6 4.9 1.1 4.9 1 4.9 1 2.9-.6 2.8-.7 2.8-.6 2.9-.7 2.8-.7 2.8-.8 2.9-.7 2.8-.8 2.8-.9 2.9-.8 5.6-.1 5.7-.2 5.7 .9 5.6 1.9 5.7 1.8 5.6 1.7 5.7 1.6 5.7 1.5 5.6 1.3 5.7 1.2M535.5 48.1l4.9 0 4.9-.1 4.9-.3 4.9-.3 4.9-.4 4.9-.4 4.9-.6 4.9-.7 4.9-.7 4.9-.8 2.9 .5 2.8 .6 2.8 .5 2.9 .5 2.8 .4 2.8 .4 2.9 .4 2.8 .4 2.8 .3 2.9 .3 5.6-1.2 5.7-1.3 5.7-1.5 5.6-1.6 5.7 1.3 5.6 1.1 5.7 1 5.7 .8 5.6 .8 5.7 .6M535.5 48.1l4.9 0 4.9-.1 4.9-.3 4.9-.3 4.9-.4 4.9-.4 4.9-.6 4.9-.7 4.9-.7 4.9-.8 2.9 .5 2.8 .6 2.8 .5 2.9 .5 2.8 .4 2.8 .4 2.9 .4 2.8 .4 2.8 .3 2.9 .3 5.6 .6 5.7 .4 5.7 .3 5.6 .1 5.7 .1 5.6-.1 5.7-.1 5.7-.3 5.6-.4 5.7-.6M535.5 48.1l4.9 .9 4.9 .7 4.9 .7 4.9 .5 4.9 .5 4.9 .4 4.9 .3 4.9 .2 4.9 .2 4.9 0 2.9 .3 2.8 .2 2.8 .3 2.9 .2 2.8 .1 2.8 .1 2.9 .1 2.8 .1 2.8 .1 2.9 0 5.6-.1 5.7-.2 5.7-.2 5.6-.5 5.7-.5 5.6-.6 5.7-.8 5.7-.9 5.6-.9 5.7-1.2M535.5 48.1l4.9-.9 4.9-1 4.9-1.1 4.9-1.2 4.9-1.2 4.9-1.4 4.9-1.4 4.9-1.6 4.9-1.6 4.9-1.7 2.9 .3 2.8 .2 2.8 .3 2.9 .1 2.8 .2 2.8 .1 2.9 .1 2.8 .1 2.8 .1 2.9 0 5.6 1.7 5.7 1.5 5.7 1.5 5.6 1.3 5.7 1.3 5.6 1.1 5.7 1 5.7 .8 5.6 .8 5.7 .6M535.5 37.2l4.9 .8 4.9 .8 4.9 .7 4.9 .5 4.9 .5 4.9 .4 4.9 .3 4.9 .2 4.9 .2 4.9 0 2.9-.3 2.8-.3 2.8-.4 2.9-.4 2.8-.4 2.8-.5 2.9-.5 2.8-.5 2.8-.5 2.9-.6 5.6 .5 5.7 .5 5.7 .2 5.6 .2 5.7 .1 5.6-.1 5.7-.2 5.7-.2 5.6-.5 5.7-.5M535.5 37.2l4.9-.9 4.9-1 4.9-1.1 4.9-1.2 4.9-1.3 4.9-1.3 4.9-.6 4.9 1.1 4.9 1 4.9 .9 2.9-.6 2.8-.6 2.8-.6 2.9-.7 2.8-.7 2.8-.8 2.9-.8M635.5 28.1l5.7 1.8 5.6 1.7 5.7 1.6 5.7 1.4 5.6 1.4 5.7 1.2M535.5 37.2l4.9 0 4.9-.2 4.9-.2 4.9-.3 4.9-.4 4.9-.5 4.9-.5 4.9-.7 4.9-.7 4.9-.9 2.9 .6 2.8 .5 2.8 .6 2.9 .4 2.8 .5 2.8 .4 2.9 .4 2.8 .4 2.8 .3 2.9 .3 5.6-1.2 5.7-1.4 5.7-1.4 5.6-1.6 5.7 1.2 5.6 1.1 5.7 1 5.7 .9 5.6 .8 5.7 .6M535.5 37.2l4.9 0 4.9-.2 4.9-.2 4.9-.3 4.9-.4 4.9-.5 4.9-.5 4.9-.7 4.9-.7 4.9-.9 2.9 .6 2.8 .5 2.8 .6 2.9 .4 2.8 .5 2.8 .4 2.9 .4 2.8 .4 2.8 .3 2.9 .3 5.6 .5 5.7 .5 5.7 .2 5.6 .2 5.7 .1 5.6-.1 5.7-.2 5.7-.2 5.6-.5 5.7-.5M535.5 37.2l4.9 .8 4.9 .8 4.9 .7 4.9 .5 4.9 .5 4.9 .4 4.9 .3 4.9 .2 4.9 .2 4.9 0 2.9 .3 2.8 .2 2.8 .2 2.9 .2 2.8 .2 2.8 .1 2.9 .1 2.8 .1 2.8 0 2.9 .1 5.6-.1 5.7-.2 5.7-.3 5.6-.4 5.7-.5 5.6-.6 5.7-.8 5.7-.9 5.6-1 5.7-1.1M535.5 37.2l4.9-.9 4.9-1 4.9-1.1 4.9-1.2 4.9-1.3 4.9-1.3 4.9-1.5 4.9-1.5M618.5 27.2l5.7 1.6 5.7 1.5 5.6 1.3 5.7 1.2 5.6 1.1 5.7 1 5.7 .9 5.6 .8 5.7 .6M545.3 27.9l4.9 .6 4.9 .6 4.9 .5 4.9 .4 4.9 .3 4.9 .2 4.9 .1 4.9 .1 2.9-.3 2.8-.4 2.8-.3 2.9-.4 2.8-.5 2.8-.4 2.9-.5M545.3 27.9l4.9 .6 4.9 .6 4.9 .5 4.9 .4 4.9 .3 4.9 .2 4.9 .1 4.9 .1 2.9 .2 2.8 .3 2.8 .2 2.9 .2 2.8 .2 2.8 .1 2.9 .1 2.8 .1 2.8 0 2.9 0 5.6 0 5.7-.2 5.7-.3 5.6-.4 5.7-.5 5.6-.7 5.7-.7 5.7-.9 5.6-1M535.5 72.7l4.9-5.2 4.9-5 4.9-4.8 4.9-4.7 4.9-4.4 4.9-4.3 4.9-4.2 4.9-3.9 4.9-3.8 4.9-3.6 2.9 .6 2.8 .7 2.8 .7 2.9 .8 2.8 .9 2.8 .9 2.9-2 2.8-1.9 2.8-1.8M612.9 25.9l5.6 3.6 5.7 3.9 5.7 4.1 5.6 4.3 5.7 4.6 5.6 4.8 5.7 5 5.7 5.3 5.6 5.5 5.7 5.7M579.6 25.4l4.9 3.4 2.9-.6M535.5 62.5l4.9-5.1 4.9-5 4.9-4.9 4.9-4.6 4.9-4.5 4.9-4.3 4.9-4.1 4.9-4M629.9 27.3l5.6 4.3 5.7 4.6 5.6 4.8 5.7 5 5.7 5.3 5.6 5.5 5.7 5.7M535.5 52.4l4.9-5.2 4.9-5 4.9-4.8 4.9-4.7 4.9-4.5M641.2 26l5.6 4.8 5.7 5.1 5.7 5.3 5.6 5.5 5.7 5.7M535.5 59.3l4.9-1.5 4.9-1.5 4.9-1.3 4.9-1.2 4.9-1.1 4.9-1 4.9-.9 4.9-.8 4.9-.7 4.9-.6 2.9 .2 2.8 .3 2.8 .2 2.9 .3 2.8 .4 2.8 .3 2.9-.4 2.8-.5 2.8-.4 2.9-.4 5.6 .5 5.7 .5 5.7 .7 5.6 .9 5.7 1 5.6 1.1 5.7 1.3 5.7 1.4 5.6 1.5 5.7 1.7M535.5 48.7l4.9 .6 4.9 .7 4.9 .8 4.9 .9 4.9 1 4.9 1.1 4.9 1.2 4.9 1.3 4.9-1.2 4.9-1.1 2.9-.3 2.8-.3 2.8-.3 2.9-.2 2.8-.2 2.8-.2 2.9-.1 2.8-.1 2.8 0 2.9 0 5.6 1.1 5.7 1.3 5.7 1.4 5.6-.6 5.7-1.5 5.6-1.3 5.7-1.2 5.7-1.1 5.6-.9 5.7-.8M535.5 48.7l4.9 .1 4.9 .2 4.9 .2 4.9 .4 4.9 .5 4.9 .5 4.9 .2 4.9-.8 4.9-.7 4.9-.6 2.9-.1 2.8-.1 2.8-.1 2.9-.1 2.8 0 2.8 0 2.9 .1 2.8 .1 2.8 .1 2.9 .1 5.6 .5 5.7 .5 5.7 0 5.6-.5 5.7-.5 5.6-.2 5.7-.2 5.7 0 5.6 .2 5.7 .2M535.5 48.7l4.9 .6 4.9 .7 4.9 .8 4.9 .9 4.9 1 4.9 1.1 4.9 1.2 4.9 1.3 4.9 1.5 4.9 1.5 2.9-.9 2.8-.8 2.8-.8 2.9-.7 2.8-.8 2.8-.6 2.9-.7 2.8-.6 2.8-.6 2.9-.5 5.6 0 5.7 .2 5.7 .4 5.6 .5 5.7-1.1 5.6-1 5.7-.9 5.7-.7 5.6-.5 5.7-.5M535.5 48.7l4.9-.4 4.9-.4 4.9-.3 4.9-.1 4.9-.1 4.9 .1 4.9 .1 4.9 .3 4.9 .4 4.9 .4 2.9 .2 2.8 .3 2.8 .2 2.9 .3 2.8 .4 2.8 .3 2.9 .4 2.8 .5 2.8 .5 2.9 .5 5.6-1 5.7-.9 5.7-.7 5.6-.5 5.7-.5 5.6-.2 5.7-.2 5.7 0 5.6 .2 5.7 .2M535.5 48.7l4.9 .1 4.9 .2 4.9 .2 4.9 .4 4.9 .5 4.9 .5 4.9 .7 4.9 .8 4.9 .9 4.9 1 2.9 .4 2.8 .4 2.8 .4 2.9 .5 2.8 .5 2.8 .6 2.9 .5 2.8 .7 2.8 .6 2.9 .7 5.6-1.7 5.7-1.5 5.7-1.4 5.6-1.3 5.7-1.1 5.6-1 5.7-.9 5.7-.7 5.6-.5 5.7-.5M535.5 48.7l4.9-.4 4.9-.4 4.9-.3 4.9-.1 4.9-.1 4.9 .1 4.9 .1 4.9 .3 4.9 .4 4.9 .4 2.9-.1 2.8-.1 2.8-.1 2.9-.1 2.8 0 2.8 0 2.9 .1 2.8 .1 2.8 .1 2.9 .1 5.6-.6 5.7-.5 5.7-.3 5.6-.2 5.7-.1 5.6 .1 5.7 .2 5.7 .3 5.6 .5 5.7 .6M535.5 48.6l4.9-1.6 4.9-1.4 4.9-1.3 4.9-1.2 4.9-1.1 4.9-1 4.9-.9 4.9-.8 4.9-.7 4.9-.6 2.9 .2 2.8 .2 2.8 .3 2.9 .3 2.8 .3 2.8 .4 2.9-.5 2.8-.4 2.8-.4 2.9-.4 5.6 .4 5.7 .6 5.7 .7 5.6 .9 5.7 .9 5.6 1.2 5.7 1.2 5.7 1.4 5.6 1.6 5.7 1.7M535.5 38l4.9 .6 4.9 .7 4.9 .8 4.9 .9 4.9 1 4.9 1.1 4.9 1.2 4.9 1.3 4.9-1.2 4.9-1.1 2.9-.3 2.8-.3 2.8-.3 2.9-.2 2.8-.2 2.8-.2 2.9-.1 2.8-.1 2.8 0 2.9-.1 5.6 1.2 5.7 1.2 5.7 1.4 5.6-.5 5.7-1.5 5.6-1.3 5.7-1.2 5.7-1.1 5.6-.9 5.7-.8M535.5 38l4.9 .1 4.9 .1 4.9 .3 4.9 .4 4.9 .4 4.9 .6 4.9 .2 4.9-.8 4.9-.7 4.9-.6 2.9-.1 2.8-.2 2.8 0 2.9-.1 2.8 0 2.8 0 2.9 .1 2.8 0 2.8 .2 2.9 .1 5.6 .4 5.7 .6 5.7 0 5.6-.6 5.7-.4 5.6-.3 5.7-.1 5.7 0 5.6 .1 5.7 .3M535.5 38l4.9 .6 4.9 .7 4.9 .8 4.9 .9 4.9 1 4.9 1.1 4.9 1.2 4.9 1.3 4.9 1.4 4.9 1.6 2.9-.9 2.8-.8 2.8-.8 2.9-.8 2.8-.7 2.8-.7 2.9-.6 2.8-.6 2.8-.6 2.9-.6 5.6 .1 5.7 .2 5.7 .4 5.6 .5 5.7-1.2 5.6-.9 5.7-.9 5.7-.7 5.6-.6 5.7-.4M535.5 38l4.9-.5 4.9-.3 4.9-.3 4.9-.1 4.9-.1 4.9 .1 4.9 .1 4.9 .3 4.9 .3 4.9 .5 2.9 .2 2.8 .2 2.8 .3 2.9 .3 2.8 .3 2.8 .4 2.9 .4 2.8 .5 2.8 .4 2.9 .5 5.6-.9 5.7-.9 5.7-.7 5.6-.6 5.7-.4 5.6-.3 5.7-.1 5.7 0 5.6 .1 5.7 .3M535.5 38l4.9 .1 4.9 .1 4.9 .3 4.9 .4 4.9 .4 4.9 .6 4.9 .7 4.9 .8 4.9 .9 4.9 1 2.9 .4 2.8 .4 2.8 .4 2.9 .5 2.8 .5 2.8 .5 2.9 .6 2.8 .6 2.8 .7 2.9 .7 5.6-1.7 5.7-1.6 5.7-1.4 5.6-1.2 5.7-1.2 5.6-.9 5.7-.9 5.7-.7 5.6-.6 5.7-.4M535.5 38l4.9-.5 4.9-.3 4.9-.3 4.9-.1 4.9-.1 4.9 .1 4.9 .1 4.9 .3 4.9 .3 4.9 .5 2.9-.1 2.8-.2 2.8 0 2.9-.1 2.8 0 2.8 0 2.9 .1 2.8 0 2.8 .2 2.9 .1 5.6-.6 5.7-.5 5.7-.4 5.6-.2 5.7 0 5.6 0 5.7 .2 5.7 .4 5.6 .5 5.7 .6M535.5 37.8l4.9-1.5 4.9-1.4 4.9-1.3 4.9-1.2 4.9-1.1 4.9-1.1 4.9-.8 4.9-.8 4.9-.7M595.9 28.3l2.8 .3 2.8 .4 2.9-.5 2.8-.4M624.2 28.3l5.7 .7 5.6 .8 5.7 1 5.6 1.1 5.7 1.3 5.7 1.4 5.6 1.6 5.7 1.6M540.4 27.9l4.9 .7 4.9 .8 4.9 .8 4.9 1.1 4.9 1.1 4.9 1.2 4.9 1.3 4.9-1.2 4.9-1.1 2.9-.4 2.8-.3 2.8-.2 2.9-.3 2.8-.1 2.8-.2 2.9-.1 2.8-.1 2.8-.1 2.9 0 5.6 1.1 5.7 1.3 5.7 1.4 5.6-.6 5.7-1.4 5.6-1.4 5.7-1.2 5.7-1 5.6-.9M555.1 28.1l4.9 .5 4.9 .6 4.9 .2 4.9-.8 4.9-.7M540.4 27.9l4.9 .7 4.9 .8 4.9 .8 4.9 1.1 4.9 1.1 4.9 1.2 4.9 1.3 4.9 1.4 4.9 1.5 2.9-.8 2.8-.8 2.8-.8 2.9-.8 2.8-.7 2.8-.7 2.9-.6 2.8-.7 2.8-.5 2.9-.6 5.6 .1 5.7 .2 5.7 .3 5.6 .5 5.7-1.1 5.6-1 5.7-.8 5.7-.7M595.9 28.3l2.8 .3 2.8 .4 2.9 .4 2.8 .4 2.8 .5 2.9 .5 5.6-1 5.7-.8 5.7-.7M555.1 28.1l4.9 .5 4.9 .6 4.9 .7 4.9 .8 4.9 .9 4.9 1 2.9 .3 2.8 .4 2.8 .5 2.9 .5 2.8 .5 2.8 .5 2.9 .6 2.8 .6 2.8 .7 2.9 .6 5.6-1.6 5.7-1.6 5.7-1.4 5.6-1.3 5.7-1.1 5.6-1 5.7-.8 5.7-.7M535.5 67.3l4.9-5.2 4.9-4.9 4.9-4.8 4.9-4.6 4.9-4.4 4.9-4.3 4.9-4.1 4.9-3.9 4.9-3.8M624.2 28.3l5.7 4.1 5.6 4.3 5.7 4.5 5.6 4.7 5.7 5 5.7 5.2 5.6 5.5 5.7 5.7M535.5 56.6l4.9-5.2 4.9-4.9 4.9-4.8 4.9-4.6 4.9-4.5 4.9-4.2 4.9-4.1M635.5 25.9l5.7 4.6 5.6 4.7 5.7 5 5.7 5.2 5.6 5.5 5.7 5.7M535.5 45.9l4.9-5.2 4.9-4.9 4.9-4.8 4.9-4.6M646.8 24.5l5.7 5 5.7 5.2 5.6 5.5 5.7 5.7M535.5 65.9l4.9-5.6 4.9-5.5 4.9-5.3 4.9-5.1 4.9-4.9 4.9-4.8 4.9-4.5 4.9-4.3M629.9 27.3l5.6 4.8 5.7 5 5.6 5.2 5.7 5.5 5.7 5.8 5.6 6.1 5.7 6.2M535.5 55.8l4.9-5.7 4.9-5.5 4.9-5.3 4.9-5.1 4.9-4.9 4.9-4.7M641.2 26.9l5.6 5.3 5.7 5.5 5.7 5.8 5.6 6 5.7 6.3M535.5 45.6l4.9-5.7 4.9-5.4 4.9-5.3 4.9-5.1M652.5 27.5l5.7 5.8 5.6 6 5.7 6.3M535.5 72.2l4.9-3.1 4.9-2.9 4.9-2.8 4.9-2.5 4.9-2.2 4.9-2.1 4.9-1.8 4.9-1.7 4.9-1.4 4.9-1.2 2.9 .4 2.8 .5 2.8 .5 2.9 .6 2.8 .7 2.8 .8 2.9-1 2.8-.9 2.8-.8 2.9-.8 5.6 .9 5.7 1.1 5.7 1.5 5.6 1.7 5.7 2.1 5.6 2.3 5.7 2.6 5.7 2.9 5.6 3.2 5.7 3.4M535.5 50.5l4.9 1.2 4.9 1.4 4.9 1.7 4.9 1.8 4.9 2.1 4.9 2.2 4.9 2.5 4.9 2.8 4.9-2.5 4.9-2.3 2.9-.7 2.8-.6 2.8-.6 2.9-.4 2.8-.4 2.8-.4 2.9-.2 2.8-.2 2.8-.1 2.9 0 5.6 2.3 5.7 2.6 5.7 2.9 5.6-1.2 5.7-3 5.6-2.8 5.7-2.4 5.7-2.2 5.6-1.9 5.7-1.6M535.5 50.5l4.9 .1 4.9 .4 4.9 .5 4.9 .8 4.9 .9 4.9 1.2 4.9 .4 4.9-1.7 4.9-1.4 4.9-1.2 2.9-.3 2.8-.3 2.8-.1 2.9-.1 2.8-.1 2.8 .1 2.9 .1 2.8 .1 2.8 .3 2.9 .3 5.6 .9 5.7 1.1 5.7 0 5.6-1.1 5.7-.9 5.6-.6 5.7-.2 5.7 0 5.6 .2 5.7 .6M535.5 50.5l4.9 1.2 4.9 1.4 4.9 1.7 4.9 1.8 4.9 2.1 4.9 2.2 4.9 2.5 4.9 2.8 4.9 2.9 4.9 3.1 2.9-1.7 2.8-1.7 2.8-1.7 2.9-1.5 2.8-1.5 2.8-1.4 2.9-1.4 2.8-1.2 2.8-1.2 2.9-1.1 5.6 .1 5.7 .4 5.7 .8 5.6 1 5.7-2.3 5.6-2.1 5.7-1.7 5.7-1.5 5.6-1.1 5.7-.9M535.5 50.5l4.9-1 4.9-.7 4.9-.6 4.9-.3 4.9-.1 4.9 .1 4.9 .3 4.9 .6 4.9 .7 4.9 1 2.9 .4 2.8 .5 2.8 .5 2.9 .6 2.8 .7 2.8 .8 2.9 .8 2.8 .9 2.8 1 2.9 1.1 5.6-2.1 5.7-1.7 5.7-1.5 5.6-1.1 5.7-.9 5.6-.6 5.7-.2 5.7 0 5.6 .2 5.7 .6M535.5 50.5l4.9 .1 4.9 .4 4.9 .5 4.9 .8 4.9 .9 4.9 1.2 4.9 1.4 4.9 1.7 4.9 1.8 4.9 2.1 2.9 .7 2.8 .9 2.8 .9 2.9 .9 2.8 1.1 2.8 1.1 2.9 1.2 2.8 1.3 2.8 1.3 2.9 1.4 5.6-3.4 5.7-3.2 5.7-2.9 5.6-2.6 5.7-2.3 5.6-2.1 5.7-1.7 5.7-1.5 5.6-1.1 5.7-.9M535.5 50.5l4.9-1 4.9-.7 4.9-.6 4.9-.3 4.9-.1 4.9 .1 4.9 .3 4.9 .6 4.9 .7 4.9 1 2.9-.3 2.8-.3 2.8-.1 2.9-.1 2.8-.1 2.8 .1 2.9 .1 2.8 .1 2.8 .3 2.9 .3 5.6-1.3 5.7-1 5.7-.7 5.6-.4 5.7-.2 5.6 .2 5.7 .4 5.7 .7 5.6 1 5.7 1.3M535.5 61.4l4.9-3.1 4.9-3 4.9-2.7 4.9-2.5 4.9-2.2 4.9-2.1 4.9-1.9 4.9-1.6 4.9-1.4 4.9-1.2 2.9 .4 2.8 .5 2.8 .5 2.9 .6 2.8 .7 2.8 .8 2.9-1 2.8-.9 2.8-.8 2.9-.8 5.6 .9 5.7 1.1 5.7 1.5 5.6 1.7 5.7 2 5.6 2.4 5.7 2.6 5.7 2.9 5.6 3.1 5.7 3.5M535.5 39.7l4.9 1.2 4.9 1.4 4.9 1.6 4.9 1.9 4.9 2.1 4.9 2.2 4.9 2.5 4.9 2.7 4.9-2.5 4.9-2.2 2.9-.7 2.8-.6 2.8-.6 2.9-.4 2.8-.4 2.8-.4 2.9-.2 2.8-.2 2.8-.1 2.9-.1 5.6 2.4 5.7 2.6 5.7 2.9 5.6-1.2 5.7-3 5.6-2.8 5.7-2.4 5.7-2.2 5.6-1.9 5.7-1.6M535.5 39.7l4.9 .1 4.9 .3 4.9 .6 4.9 .7 4.9 1 4.9 1.2 4.9 .3 4.9-1.6 4.9-1.4 4.9-1.2 2.9-.3 2.8-.3 2.8-.1 2.9-.2 2.8 0 2.8 0 2.9 .2 2.8 .1 2.8 .3 2.9 .3 5.6 .9 5.7 1.1 5.7 0 5.6-1.1 5.7-.9 5.6-.6 5.7-.3 5.7 0 5.6 .3 5.7 .6M535.5 39.7l4.9 1.2 4.9 1.4 4.9 1.6 4.9 1.9 4.9 2.1 4.9 2.2 4.9 2.5 4.9 2.7 4.9 3 4.9 3.1 2.9-1.8 2.8-1.7 2.8-1.6 2.9-1.5 2.8-1.5 2.8-1.4 2.9-1.4 2.8-1.2 2.8-1.2 2.9-1.2 5.6 .2 5.7 .4 5.7 .8 5.6 1 5.7-2.4 5.6-2 5.7-1.7 5.7-1.5 5.6-1.1 5.7-.9M535.5 39.7l4.9-1 4.9-.7 4.9-.6 4.9-.3 4.9-.1 4.9 .1 4.9 .3 4.9 .6 4.9 .7 4.9 1 2.9 .4 2.8 .5 2.8 .5 2.9 .6 2.8 .7 2.8 .8 2.9 .8 2.8 .9 2.8 1 2.9 1 5.6-2 5.7-1.7 5.7-1.5 5.6-1.1 5.7-.9 5.6-.6 5.7-.3 5.7 0 5.6 .3 5.7 .6M535.5 39.7l4.9 .1 4.9 .3 4.9 .6 4.9 .7 4.9 1 4.9 1.2 4.9 1.4 4.9 1.7 4.9 1.8 4.9 2.1 2.9 .7 2.8 .9 2.8 .9 2.9 .9 2.8 1.1 2.8 1.1 2.9 1.2 2.8 1.3 2.8 1.3 2.9 1.4 5.6-3.5 5.7-3.1 5.7-2.9 5.6-2.6 5.7-2.4 5.6-2 5.7-1.7 5.7-1.5 5.6-1.1 5.7-.9M535.5 39.7l4.9-1 4.9-.7 4.9-.6 4.9-.3 4.9-.1 4.9 .1 4.9 .3 4.9 .6 4.9 .7 4.9 1 2.9-.3 2.8-.3 2.8-.1 2.9-.2 2.8 0 2.8 0 2.9 .2 2.8 .1 2.8 .3 2.9 .3 5.6-1.3 5.7-1 5.7-.7 5.6-.5 5.7-.1 5.6 .1 5.7 .5 5.7 .7 5.6 1 5.7 1.3M535.5 50.6l4.9-3.1 4.9-3 4.9-2.7 4.9-2.5 4.9-2.3 4.9-2 4.9-1.9 4.9-1.6 4.9-1.4 4.9-1.2 2.9 .4 2.8 .5 2.8 .5 2.9 .6 2.8 .7 2.8 .8 2.9-1 2.8-.9 2.8-.8 2.9-.8 5.6 .9 5.7 1.1 5.7 1.5 5.6 1.7 5.7 2 5.6 2.4 5.7 2.6 5.7 2.9 5.6 3.1 5.7 3.5M535.5 28.9l4.9 1.2 4.9 1.4 4.9 1.6 4.9 1.9 4.9 2 4.9 2.3 4.9 2.5 4.9 2.7 4.9-2.5 4.9-2.2 2.9-.7 2.8-.6 2.8-.6 2.9-.5 2.8-.4 2.8-.3 2.9-.2 2.8-.2 2.8-.1 2.9-.1 5.6 2.4 5.7 2.6 5.7 2.9 5.6-1.2 5.7-3 5.6-2.8 5.7-2.5 5.7-2.1 5.6-1.9 5.7-1.6M535.5 28.9l4.9 .1 4.9 .3 4.9 .6 4.9 .7 4.9 1 4.9 1.2 4.9 .3 4.9-1.6 4.9-1.4 4.9-1.2 2.9-.3 2.8-.3M607.2 28.3l2.8 .3 2.9 .3 5.6 .9 5.7 1.1 5.7 0 5.6-1.1 5.7-.9 5.6-.6M663.8 28.3l5.7 .6M535.5 28.9l4.9 1.2 4.9 1.4 4.9 1.6 4.9 1.9 4.9 2 4.9 2.3 4.9 2.5 4.9 2.7 4.9 3 4.9 3.1 2.9-1.8 2.8-1.7 2.8-1.6 2.9-1.5 2.8-1.5 2.8-1.4 2.9-1.4 2.8-1.2 2.8-1.2 2.9-1.2 5.6 .2 5.7 .4 5.7 .7 5.6 1.1 5.7-2.4 5.6-2 5.7-1.7 5.7-1.5 5.6-1.1 5.7-.9M535.5 28.9l4.9-1M579.6 27.9l4.9 1 2.9 .4 2.8 .5 2.8 .5 2.9 .6 2.8 .7 2.8 .8 2.9 .8 2.8 .9 2.8 1 2.9 1 5.6-2 5.7-1.7 5.7-1.5 5.6-1.1 5.7-.9 5.6-.6M663.8 28.3l5.7 .6M535.5 28.9l4.9 .1 4.9 .3 4.9 .6 4.9 .7 4.9 1 4.9 1.2 4.9 1.4 4.9 1.6 4.9 1.9 4.9 2.1 2.9 .7 2.8 .8 2.8 1 2.9 .9 2.8 1.1 2.8 1.1 2.9 1.2 2.8 1.3 2.8 1.3 2.9 1.4 5.6-3.5 5.7-3.1 5.7-2.9 5.6-2.6 5.7-2.4 5.6-2 5.7-1.7 5.7-1.5 5.6-1.1 5.7-.9M535.5 28.9l4.9-1M579.6 27.9l4.9 1 2.9-.3 2.8-.3M607.2 28.3l2.8 .3 2.9 .3 5.6-1.3M663.8 27.6l5.7 1.3M535.5 44.1l4.9 1.7 4.9 1.6 4.9 1.5 4.9 1.4 4.9 1.3 4.9 1.1 4.9 1 4.9 .9 4.9 .8 4.9 .6 2.9-.2 2.8-.3 2.8-.3 2.9-.3 2.8-.4 2.8-.4 2.9 .6 2.8 .4 2.8 .5 2.9 .4 5.6-.5 5.7-.6 5.7-.8 5.6-.9 5.7-1.1 5.6-1.3 5.7-1.4 5.7-1.6 5.6-1.8 5.7-1.9M535.5 56l4.9-.6 4.9-.8 4.9-.9 4.9-1 4.9-1.1 4.9-1.3 4.9-1.4 4.9-1.5 4.9 1.4 4.9 1.3 2.9 .3 2.8 .4 2.8 .3 2.9 .2 2.8 .3 2.8 .1 2.9 .2 2.8 .1 2.8 0 2.9 .1 5.6-1.3 5.7-1.4 5.7-1.6 5.6 .6 5.7 1.7 5.6 1.5 5.7 1.3 5.7 1.2 5.6 1 5.7 .9M535.5 56l4.9 0 4.9-.2 4.9-.3 4.9-.4 4.9-.6 4.9-.6 4.9-.2 4.9 .9 4.9 .8 4.9 .6 2.9 .2 2.8 .1 2.8 .1 2.9 .1 2.8 0 2.8 0 2.9-.1 2.8-.1 2.8-.1 2.9-.2 5.6-.5 5.7-.6 5.7 0 5.6 .6 5.7 .5 5.6 .3 5.7 .2 5.7 0 5.6-.2 5.7-.3M535.5 56l4.9-.6 4.9-.8 4.9-.9 4.9-1 4.9-1.1 4.9-1.3 4.9-1.4 4.9-1.5 4.9-1.6 4.9-1.7 2.9 1 2.8 .9 2.8 .9 2.9 .9 2.8 .8 2.8 .8 2.9 .7 2.8 .7 2.8 .6 2.9 .7 5.6-.1 5.7-.3 5.7-.4 5.6-.5 5.7 1.3 5.6 1.1 5.7 .9 5.7 .8 5.6 .6 5.7 .5M535.5 56l4.9 .6 4.9 .4 4.9 .3 4.9 .2 4.9 0 4.9 0 4.9-.2 4.9-.3 4.9-.4 4.9-.6 2.9-.2 2.8-.3 2.8-.3 2.9-.3 2.8-.4 2.8-.4 2.9-.4 2.8-.5 2.8-.6 2.9-.5 5.6 1.1 5.7 .9 5.7 .8 5.6 .6 5.7 .5 5.6 .3 5.7 .2 5.7 0 5.6-.2 5.7-.3M535.5 56l4.9 0 4.9-.2 4.9-.3 4.9-.4 4.9-.6 4.9-.6 4.9-.8 4.9-.9 4.9-1 4.9-1.1 2.9-.5 2.8-.4 2.8-.5 2.9-.5 2.8-.6 2.8-.6 2.9-.7 2.8-.7 2.8-.7 2.9-.8 5.6 1.9 5.7 1.8 5.7 1.6 5.6 1.4 5.7 1.3 5.6 1.1 5.7 .9 5.7 .8 5.6 .6 5.7 .5M535.5 56l4.9 .6 4.9 .4 4.9 .3 4.9 .2 4.9 0 4.9 0 4.9-.2 4.9-.3 4.9-.4 4.9-.6 2.9 .2 2.8 .1 2.8 .1 2.9 .1 2.8 0 2.8 0 2.9-.1 2.8-.1 2.8-.1 2.9-.2 5.6 .7 5.7 .6 5.7 .4 5.6 .2 5.7 .1 5.6-.1 5.7-.2 5.7-.4 5.6-.6 5.7-.7M535.5 33.1l4.9 1.7 4.9 1.6 4.9 1.5 4.9 1.4 4.9 1.2 4.9 1.2 4.9 1 4.9 .9 4.9 .7 4.9 .7 2.9-.2 2.8-.3 2.8-.3 2.9-.3 2.8-.4 2.8-.4 2.9 .5 2.8 .5 2.8 .5 2.9 .4 5.6-.5 5.7-.6 5.7-.8 5.6-1 5.7-1.1 5.6-1.2 5.7-1.5 5.7-1.6 5.6-1.7 5.7-1.9M535.5 45l4.9-.7 4.9-.7 4.9-.9 4.9-1 4.9-1.2 4.9-1.2 4.9-1.4 4.9-1.5 4.9 1.4 4.9 1.2 2.9 .4 2.8 .4 2.8 .3 2.9 .2 2.8 .2 2.8 .2 2.9 .2 2.8 0 2.8 .1 2.9 0 5.6-1.2 5.7-1.5 5.7-1.6 5.6 .7 5.7 1.6 5.6 1.6 5.7 1.3 5.7 1.2 5.6 1 5.7 .9M535.5 45l4.9-.1 4.9-.1 4.9-.3 4.9-.5 4.9-.5 4.9-.6 4.9-.2 4.9 .9 4.9 .7 4.9 .7 2.9 .2 2.8 .1 2.8 .1 2.9 .1 2.8 0 2.8 0 2.9-.1 2.8-.1 2.8-.1 2.9-.2 5.6-.5 5.7-.6 5.7 0 5.6 .6 5.7 .5 5.6 .3 5.7 .2 5.7 0 5.6-.2 5.7-.3M535.5 45l4.9-.7 4.9-.7 4.9-.9 4.9-1 4.9-1.2 4.9-1.2 4.9-1.4 4.9-1.5 4.9-1.6 4.9-1.7 2.9 1 2.8 .9 2.8 .9 2.9 .8 2.8 .9 2.8 .7 2.9 .8 2.8 .7 2.8 .6 2.9 .6 5.6-.1 5.7-.2 5.7-.4 5.6-.5 5.7 1.2 5.6 1.1 5.7 1 5.7 .8 5.6 .6 5.7 .5M535.5 45l4.9 .5 4.9 .5 4.9 .3 4.9 .1 4.9 .1 4.9-.1 4.9-.1 4.9-.3 4.9-.5 4.9-.5 2.9-.2 2.8-.3 2.8-.3 2.9-.3 2.8-.4 2.8-.4 2.9-.5 2.8-.5 2.8-.5 2.9-.6 5.6 1.1 5.7 1 5.7 .8 5.6 .6 5.7 .5 5.6 .3 5.7 .2 5.7 0 5.6-.2 5.7-.3M535.5 45l4.9-.1 4.9-.1 4.9-.3 4.9-.5 4.9-.5 4.9-.6 4.9-.8 4.9-.9 4.9-1 4.9-1.2 2.9-.4 2.8-.4 2.8-.5 2.9-.6 2.8-.5 2.8-.7 2.9-.6 2.8-.7 2.8-.7 2.9-.8 5.6 1.9 5.7 1.7 5.7 1.6 5.6 1.5 5.7 1.2 5.6 1.1 5.7 1 5.7 .8 5.6 .6 5.7 .5M535.5 45l4.9 .5 4.9 .5 4.9 .3 4.9 .1 4.9 .1 4.9-.1 4.9-.1 4.9-.3 4.9-.5 4.9-.5 2.9 .2 2.8 .1 2.8 .1 2.9 .1 2.8 0 2.8 0 2.9-.1 2.8-.1 2.8-.1 2.9-.2 5.6 .7 5.7 .6 5.7 .4 5.6 .2 5.7 .1 5.6-.1 5.7-.2 5.7-.4 5.6-.6 5.7-.7M555.1 28.3l4.9 1.2 4.9 1.1 4.9 1.1 4.9 .8 4.9 .8 4.9 .7 2.9-.2 2.8-.3 2.8-.3 2.9-.3 2.8-.4 2.8-.4 2.9 .5 2.8 .5 2.8 .5 2.9 .4 5.6-.5 5.7-.6 5.7-.8 5.6-1 5.7-1.1 5.6-1.3 5.7-1.4M535.5 34l4.9-.7 4.9-.8 4.9-.8 4.9-1.1 4.9-1.1 4.9-1.2M584.5 28l2.9 .4 2.8 .3 2.8 .3 2.9 .3 2.8 .2 2.8 .2 2.9 .1 2.8 .1 2.8 .1 2.9 0 5.6-1.3 5.7-1.4M641.2 28l5.6 1.5 5.7 1.4 5.7 1.2 5.6 1 5.7 .9M535.5 34l4.9-.1 4.9-.2 4.9-.3 4.9-.4 4.9-.5 4.9-.7 4.9-.1 4.9 .8 4.9 .8 4.9 .7 2.9 .2 2.8 .1 2.8 .1 2.9 .1 2.8 0 2.8 0 2.9-.1 2.8-.1 2.8-.1 2.9-.2 5.6-.5 5.7-.6 5.7 0 5.6 .6 5.7 .5 5.6 .3 5.7 .2 5.7 0 5.6-.2 5.7-.3M535.5 34l4.9-.7 4.9-.8 4.9-.8 4.9-1.1 4.9-1.1 4.9-1.2M604.4 28l2.8 .7 2.8 .7 2.9 .6 5.6-.1 5.7-.2 5.7-.4 5.6-.6 5.7 1.3 5.6 1.1 5.7 1 5.7 .8 5.6 .6 5.7 .5M535.5 34l4.9 .5 4.9 .4 4.9 .3 4.9 .2 4.9 .1 4.9-.1 4.9-.2 4.9-.3 4.9-.4 4.9-.5 2.9-.2 2.8-.3 2.8-.3 2.9-.3 2.8-.4 2.8-.4 2.9-.5 2.8-.5 2.8-.5 2.9-.6 5.6 1.1 5.7 1 5.7 .8 5.6 .6 5.7 .5 5.6 .3 5.7 .2 5.7 0 5.6-.2 5.7-.3M535.5 34l4.9-.1 4.9-.2 4.9-.3 4.9-.4 4.9-.5 4.9-.7 4.9-.7 4.9-.9 4.9-1 4.9-1.2M629.9 27.3l5.6 1.4 5.7 1.3 5.6 1.1 5.7 1 5.7 .8 5.6 .6 5.7 .5M535.5 34l4.9 .5 4.9 .4 4.9 .3 4.9 .2 4.9 .1 4.9-.1 4.9-.2 4.9-.3 4.9-.4 4.9-.5 2.9 .2 2.8 .1 2.8 .1 2.9 .1 2.8 0 2.8 0 2.9-.1 2.8-.1 2.8-.1 2.9-.2 5.6 .7 5.7 .5 5.7 .4 5.6 .3 5.7 .1 5.6-.1 5.7-.3 5.7-.4 5.6-.5 5.7-.7" stroke="#72b752" stroke-width="0.85" fill="none" stroke-linejoin="round"/></g>
<rect x="383.5" y="30.5" width="134.0" height="108.0" fill="none" stroke="#858585" stroke-width="1"/>
<line x1="383" y1="31.0" x2="385" y2="31.0" stroke="#858585" stroke-width="0.8"/>
<text x="380.5" y="34.3" font-size="9.5" text-anchor="end" >2</text>
<line x1="383" y1="57.75" x2="385" y2="57.75" stroke="#858585" stroke-width="0.8"/>
<text x="380.5" y="61.05" font-size="9.5" text-anchor="end" >1</text>
<line x1="383" y1="84.5" x2="385" y2="84.5" stroke="#858585" stroke-width="0.8"/>
<text x="380.5" y="87.8" font-size="9.5" text-anchor="end" >0</text>
<line x1="383" y1="111.25" x2="385" y2="111.25" stroke="#858585" stroke-width="0.8"/>
<text x="380.5" y="114.55" font-size="9.5" text-anchor="end" >-1</text>
<line x1="383" y1="138.0" x2="385" y2="138.0" stroke="#858585" stroke-width="0.8"/>
<text x="380.5" y="141.3" font-size="9.5" text-anchor="end" >-2</text>
<line x1="383" y1="138" x2="383" y2="136" stroke="#858585" stroke-width="0.8"/>
<text x="383" y="146.9" font-size="9.5" text-anchor="middle" >Γs</text>
<line x1="432.044" y1="138" x2="432.044" y2="136" stroke="#858585" stroke-width="0.8"/>
<text x="432.044" y="146.9" font-size="9.5" text-anchor="middle" >Ms</text>
<line x1="460.3716" y1="138" x2="460.3716" y2="136" stroke="#858585" stroke-width="0.8"/>
<text x="460.3716" y="146.9" font-size="9.5" text-anchor="middle" >Ks</text>
<line x1="517" y1="138" x2="517" y2="136" stroke="#858585" stroke-width="0.8"/>
<text x="517" y="146.9" font-size="9.5" text-anchor="middle" >Γs</text>
<rect x="535.5" y="30.5" width="134.0" height="108.0" fill="none" stroke="#858585" stroke-width="1"/>
<line x1="535.5" y1="31.0" x2="537.5" y2="31.0" stroke="#858585" stroke-width="0.8"/>
<text x="533.0" y="34.3" font-size="9.5" text-anchor="end" >2</text>
<line x1="535.5" y1="57.75" x2="537.5" y2="57.75" stroke="#858585" stroke-width="0.8"/>
<text x="533.0" y="61.05" font-size="9.5" text-anchor="end" >1</text>
<line x1="535.5" y1="84.5" x2="537.5" y2="84.5" stroke="#858585" stroke-width="0.8"/>
<text x="533.0" y="87.8" font-size="9.5" text-anchor="end" >0</text>
<line x1="535.5" y1="111.25" x2="537.5" y2="111.25" stroke="#858585" stroke-width="0.8"/>
<text x="533.0" y="114.55" font-size="9.5" text-anchor="end" >-1</text>
<line x1="535.5" y1="138.0" x2="537.5" y2="138.0" stroke="#858585" stroke-width="0.8"/>
<text x="533.0" y="141.3" font-size="9.5" text-anchor="end" >-2</text>
<line x1="535.5" y1="138" x2="535.5" y2="136" stroke="#858585" stroke-width="0.8"/>
<text x="535.5" y="146.9" font-size="9.5" text-anchor="middle" >Γs</text>
<line x1="584.544" y1="138" x2="584.544" y2="136" stroke="#858585" stroke-width="0.8"/>
<text x="584.544" y="146.9" font-size="9.5" text-anchor="middle" >Ms</text>
<line x1="612.8716" y1="138" x2="612.8716" y2="136" stroke="#858585" stroke-width="0.8"/>
<text x="612.8716" y="146.9" font-size="9.5" text-anchor="middle" >Ks</text>
<line x1="669.5" y1="138" x2="669.5" y2="136" stroke="#858585" stroke-width="0.8"/>
<text x="669.5" y="146.9" font-size="9.5" text-anchor="middle" >Γs</text>
<text x="372.5" y="10" font-size="11.5" text-anchor="start" >(d)</text>
<text x="523" y="9.5" font-size="10" text-anchor="middle" >WS<tspan font-size="0.65em" baseline-shift="-2.2">2</tspan> trilayer: <tspan font-style="italic">θ</tspan><tspan font-size="0.65em" baseline-shift="-2.2">t</tspan> <tspan font-weight="normal">(L1, L2)</tspan> = 38.2°, <tspan font-style="italic">θ</tspan><tspan font-size="0.65em" baseline-shift="-2.2">t</tspan> <tspan font-weight="normal">(L3, L2)</tspan> = 38.2°</text>
<text x="463" y="27" font-size="10" text-anchor="middle" >E<tspan font-size="0.65em" baseline-shift="-2.2">Field</tspan> = 0 eV/Å</text>
<text x="600.5" y="27" font-size="10" text-anchor="middle" >E<tspan font-size="0.65em" baseline-shift="-2.2">Field</tspan> = 0.3 eV/Å</text>
<text transform="translate(370,80.7) rotate(-90)" font-size="10.3" text-anchor="middle">Energy (eV)</text>
<text transform="translate(676,83) rotate(90)" font-size="10.3" text-anchor="middle">Energy (eV)</text>
<line x1="383" y1="99" x2="454.4" y2="66.7" stroke="#222" stroke-width="0.7" stroke-dasharray="1,1"/>
<path d="M458.0 65.0L455.1 68.3L453.6 65.0Z" fill="#222"/>
<line x1="612.7" y1="95" x2="612.7" y2="78.0" stroke="#222" stroke-width="0.7" stroke-dasharray="1,1"/>
<path d="M612.7 74.0L614.5 78.0L610.9 78.0Z" fill="#222"/>
<path d="M559 142V172.3H557.2L561.6 176.7L566 172.3H564.1V142Z" fill="none" stroke="#222" stroke-width="0.7" stroke-dasharray="1.2,0.8"/>
<text x="371.5" y="173.5" font-size="11.5" text-anchor="start" >(e)</text>
<rect x="373.5" y="179" width="295.5" height="145.5" fill="none" stroke="#5b9bd5" stroke-width="1" stroke-dasharray="3,2.5"/>
<defs><marker id="mS" markerUnits="userSpaceOnUse" markerWidth="6" markerHeight="6" refX="3" refY="3" overflow="visible"><circle cx="3" cy="3" r="1.65" fill="#e0f040" stroke="#b8c828" stroke-width="0.4"/></marker><marker id="mW" markerUnits="userSpaceOnUse" markerWidth="6" markerHeight="6" refX="3" refY="3" overflow="visible"><circle cx="3" cy="3" r="1.6" fill="#d8d8d8" stroke="#6e6e6e" stroke-width="0.9"/></marker></defs>
<path d="M415 204.5L413.9 199.8M415 204.5L415.8 199.8M415 204.5L417.6 199.8M415 204.5L413.9 209.2M415 204.5L415.8 209.2M415 204.5L417.6 209.2M418.7 204.5L415.9 199.8M418.7 204.5L417.8 199.8M418.7 204.5L419.6 199.8M418.7 204.5L421.5 199.8M418.7 204.5L415.9 209.2M418.7 204.5L417.8 209.2M418.7 204.5L419.6 209.2M418.7 204.5L421.5 209.2M422.3 204.5L419.8 199.8M422.3 204.5L421.6 199.8M422.3 204.5L423.5 199.8M422.3 204.5L419.8 209.2M422.3 204.5L421.6 209.2M422.3 204.5L423.5 209.2M426 204.5L423.7 199.8M426 204.5L425.5 199.8M426 204.5L427.4 199.8M426 204.5L423.7 209.2M426 204.5L425.5 209.2M426 204.5L427.4 209.2M429.7 204.5L427.5 199.8M429.7 204.5L431.3 199.8M429.7 204.5L427.5 209.2M429.7 204.5L431.3 209.2M433.3 204.5L431.4 199.8M433.3 204.5L435.1 199.8M433.3 204.5L431.4 209.2M433.3 204.5L435.1 209.2M437 204.5L435.3 199.8M437 204.5L439 199.8M437 204.5L435.3 209.2M437 204.5L439 209.2M444 204.5L442.9 199.8M444 204.5L444.7 199.8M444 204.5L446.6 199.8M444 204.5L442.9 209.2M444 204.5L444.7 209.2M444 204.5L446.6 209.2M448 204.5L446.9 199.8M448 204.5L448.8 199.8M448 204.5L450.7 199.8M448 204.5L446.9 209.2M448 204.5L448.8 209.2M448 204.5L450.7 209.2M407.5 204.5L402.3 199.8M407.5 204.5L402.3 209.2" stroke="#8a8a8a" stroke-width="1.0" fill="none"/><path d="M413.9 199.8L412.5 194M415.8 199.8L416.7 194M417.6 199.8L420.8 194M413.9 209.2L412.5 215M415.8 209.2L416.7 215M417.6 209.2L420.8 215M415.9 199.8L412.5 194M417.8 199.8L416.7 194M419.6 199.8L420.8 194M421.5 199.8L424.9 194M415.9 209.2L412.5 215M417.8 209.2L416.7 215M419.6 209.2L420.8 215M421.5 209.2L424.9 215M419.8 199.8L416.7 194M421.6 199.8L420.8 194M423.5 199.8L424.9 194M419.8 209.2L416.7 215M421.6 209.2L420.8 215M423.5 209.2L424.9 215M423.7 199.8L420.8 194M425.5 199.8L424.9 194M427.4 199.8L429.1 194M423.7 209.2L420.8 215M425.5 209.2L424.9 215M427.4 209.2L429.1 215M427.5 199.8L424.9 194M431.3 199.8L433.2 194M427.5 209.2L424.9 215M431.3 209.2L433.2 215M431.4 199.8L429.1 194M435.1 199.8L437.4 194M431.4 209.2L429.1 215M435.1 209.2L437.4 215M435.3 199.8L433.2 194M439 199.8L441.5 194M435.3 209.2L433.2 215M439 209.2L441.5 215M442.9 199.8L441.5 194M444.7 199.8L445.6 194M446.6 199.8L449.8 194M442.9 209.2L441.5 215M444.7 209.2L445.6 215M446.6 209.2L449.8 215M446.9 199.8L445.6 194M448.8 199.8L449.8 194M450.7 199.8L453.9 194M446.9 209.2L445.6 215M448.8 209.2L449.8 215M450.7 209.2L453.9 215M402.3 199.8L396 194M402.3 209.2L396 215" stroke="#d6e64c" stroke-width="1.0" fill="none"/><path d="M408.4 194M412.5 194M416.7 194M420.8 194M424.9 194M429.1 194M433.2 194M437.4 194M441.5 194M445.6 194M449.8 194M453.9 194M408.4 215M412.5 215M416.7 215M420.8 215M424.9 215M429.1 215M433.2 215M437.4 215M441.5 215M445.6 215M449.8 215M453.9 215M396 194M396 215" fill="none" stroke="none" marker-start="url(#mS)" marker-mid="url(#mS)" marker-end="url(#mS)"/><path d="M415 204.5M418.7 204.5M422.3 204.5M426 204.5M429.7 204.5M433.3 204.5M437 204.5M444 204.5M448 204.5M407.5 204.5" fill="none" stroke="none" marker-start="url(#mW)" marker-mid="url(#mW)" marker-end="url(#mW)"/>
<path d="M415 249L413.9 244.3M415 249L415.8 244.3M415 249L417.6 244.3M415 249L413.9 253.7M415 249L415.8 253.7M415 249L417.6 253.7M418.7 249L415.9 244.3M418.7 249L417.8 244.3M418.7 249L419.6 244.3M418.7 249L421.5 244.3M418.7 249L415.9 253.7M418.7 249L417.8 253.7M418.7 249L419.6 253.7M418.7 249L421.5 253.7M422.3 249L419.8 244.3M422.3 249L421.6 244.3M422.3 249L423.5 244.3M422.3 249L419.8 253.7M422.3 249L421.6 253.7M422.3 249L423.5 253.7M426 249L423.7 244.3M426 249L425.5 244.3M426 249L427.4 244.3M426 249L423.7 253.7M426 249L425.5 253.7M426 249L427.4 253.7M429.7 249L427.5 244.3M429.7 249L431.3 244.3M429.7 249L427.5 253.7M429.7 249L431.3 253.7M433.3 249L431.4 244.3M433.3 249L435.1 244.3M433.3 249L431.4 253.7M433.3 249L435.1 253.7M437 249L435.3 244.3M437 249L439 244.3M437 249L435.3 253.7M437 249L439 253.7M444 249L442.9 244.3M444 249L444.7 244.3M444 249L446.6 244.3M444 249L442.9 253.7M444 249L444.7 253.7M444 249L446.6 253.7M448 249L446.9 244.3M448 249L448.8 244.3M448 249L450.7 244.3M448 249L446.9 253.7M448 249L448.8 253.7M448 249L450.7 253.7M407.5 249L402.3 244.3M407.5 249L402.3 253.7" stroke="#8a8a8a" stroke-width="1.0" fill="none"/><path d="M413.9 244.3L412.5 238.5M415.8 244.3L416.7 238.5M417.6 244.3L420.8 238.5M413.9 253.7L412.5 259.5M415.8 253.7L416.7 259.5M417.6 253.7L420.8 259.5M415.9 244.3L412.5 238.5M417.8 244.3L416.7 238.5M419.6 244.3L420.8 238.5M421.5 244.3L424.9 238.5M415.9 253.7L412.5 259.5M417.8 253.7L416.7 259.5M419.6 253.7L420.8 259.5M421.5 253.7L424.9 259.5M419.8 244.3L416.7 238.5M421.6 244.3L420.8 238.5M423.5 244.3L424.9 238.5M419.8 253.7L416.7 259.5M421.6 253.7L420.8 259.5M423.5 253.7L424.9 259.5M423.7 244.3L420.8 238.5M425.5 244.3L424.9 238.5M427.4 244.3L429.1 238.5M423.7 253.7L420.8 259.5M425.5 253.7L424.9 259.5M427.4 253.7L429.1 259.5M427.5 244.3L424.9 238.5M431.3 244.3L433.2 238.5M427.5 253.7L424.9 259.5M431.3 253.7L433.2 259.5M431.4 244.3L429.1 238.5M435.1 244.3L437.4 238.5M431.4 253.7L429.1 259.5M435.1 253.7L437.4 259.5M435.3 244.3L433.2 238.5M439 244.3L441.5 238.5M435.3 253.7L433.2 259.5M439 253.7L441.5 259.5M442.9 244.3L441.5 238.5M444.7 244.3L445.6 238.5M446.6 244.3L449.8 238.5M442.9 253.7L441.5 259.5M444.7 253.7L445.6 259.5M446.6 253.7L449.8 259.5M446.9 244.3L445.6 238.5M448.8 244.3L449.8 238.5M450.7 244.3L453.9 238.5M446.9 253.7L445.6 259.5M448.8 253.7L449.8 259.5M450.7 253.7L453.9 259.5M402.3 244.3L396 238.5M402.3 253.7L396 259.5" stroke="#d6e64c" stroke-width="1.0" fill="none"/><path d="M408.4 238.5M412.5 238.5M416.7 238.5M420.8 238.5M424.9 238.5M429.1 238.5M433.2 238.5M437.4 238.5M441.5 238.5M445.6 238.5M449.8 238.5M453.9 238.5M408.4 259.5M412.5 259.5M416.7 259.5M420.8 259.5M424.9 259.5M429.1 259.5M433.2 259.5M437.4 259.5M441.5 259.5M445.6 259.5M449.8 259.5M453.9 259.5M396 238.5M396 259.5" fill="none" stroke="none" marker-start="url(#mS)" marker-mid="url(#mS)" marker-end="url(#mS)"/><path d="M415 249M418.7 249M422.3 249M426 249M429.7 249M433.3 249M437 249M444 249M448 249M407.5 249" fill="none" stroke="none" marker-start="url(#mW)" marker-mid="url(#mW)" marker-end="url(#mW)"/>
<path d="M415 293.4L413.9 288.7M415 293.4L415.8 288.7M415 293.4L417.6 288.7M415 293.4L413.9 298.1M415 293.4L415.8 298.1M415 293.4L417.6 298.1M418.7 293.4L415.9 288.7M418.7 293.4L417.8 288.7M418.7 293.4L419.6 288.7M418.7 293.4L421.5 288.7M418.7 293.4L415.9 298.1M418.7 293.4L417.8 298.1M418.7 293.4L419.6 298.1M418.7 293.4L421.5 298.1M422.3 293.4L419.8 288.7M422.3 293.4L421.6 288.7M422.3 293.4L423.5 288.7M422.3 293.4L419.8 298.1M422.3 293.4L421.6 298.1M422.3 293.4L423.5 298.1M426 293.4L423.7 288.7M426 293.4L425.5 288.7M426 293.4L427.4 288.7M426 293.4L423.7 298.1M426 293.4L425.5 298.1M426 293.4L427.4 298.1M429.7 293.4L427.5 288.7M429.7 293.4L431.3 288.7M429.7 293.4L427.5 298.1M429.7 293.4L431.3 298.1M433.3 293.4L431.4 288.7M433.3 293.4L435.1 288.7M433.3 293.4L431.4 298.1M433.3 293.4L435.1 298.1M437 293.4L435.3 288.7M437 293.4L439 288.7M437 293.4L435.3 298.1M437 293.4L439 298.1M444 293.4L442.9 288.7M444 293.4L444.7 288.7M444 293.4L446.6 288.7M444 293.4L442.9 298.1M444 293.4L444.7 298.1M444 293.4L446.6 298.1M448 293.4L446.9 288.7M448 293.4L448.8 288.7M448 293.4L450.7 288.7M448 293.4L446.9 298.1M448 293.4L448.8 298.1M448 293.4L450.7 298.1M407.5 293.4L402.3 288.7M407.5 293.4L402.3 298.1" stroke="#8a8a8a" stroke-width="1.0" fill="none"/><path d="M413.9 288.7L412.5 282.9M415.8 288.7L416.7 282.9M417.6 288.7L420.8 282.9M413.9 298.1L412.5 303.9M415.8 298.1L416.7 303.9M417.6 298.1L420.8 303.9M415.9 288.7L412.5 282.9M417.8 288.7L416.7 282.9M419.6 288.7L420.8 282.9M421.5 288.7L424.9 282.9M415.9 298.1L412.5 303.9M417.8 298.1L416.7 303.9M419.6 298.1L420.8 303.9M421.5 298.1L424.9 303.9M419.8 288.7L416.7 282.9M421.6 288.7L420.8 282.9M423.5 288.7L424.9 282.9M419.8 298.1L416.7 303.9M421.6 298.1L420.8 303.9M423.5 298.1L424.9 303.9M423.7 288.7L420.8 282.9M425.5 288.7L424.9 282.9M427.4 288.7L429.1 282.9M423.7 298.1L420.8 303.9M425.5 298.1L424.9 303.9M427.4 298.1L429.1 303.9M427.5 288.7L424.9 282.9M431.3 288.7L433.2 282.9M427.5 298.1L424.9 303.9M431.3 298.1L433.2 303.9M431.4 288.7L429.1 282.9M435.1 288.7L437.4 282.9M431.4 298.1L429.1 303.9M435.1 298.1L437.4 303.9M435.3 288.7L433.2 282.9M439 288.7L441.5 282.9M435.3 298.1L433.2 303.9M439 298.1L441.5 303.9M442.9 288.7L441.5 282.9M444.7 288.7L445.6 282.9M446.6 288.7L449.8 282.9M442.9 298.1L441.5 303.9M444.7 298.1L445.6 303.9M446.6 298.1L449.8 303.9M446.9 288.7L445.6 282.9M448.8 288.7L449.8 282.9M450.7 288.7L453.9 282.9M446.9 298.1L445.6 303.9M448.8 298.1L449.8 303.9M450.7 298.1L453.9 303.9M402.3 288.7L396 282.9M402.3 298.1L396 303.9" stroke="#d6e64c" stroke-width="1.0" fill="none"/><path d="M408.4 282.9M412.5 282.9M416.7 282.9M420.8 282.9M424.9 282.9M429.1 282.9M433.2 282.9M437.4 282.9M441.5 282.9M445.6 282.9M449.8 282.9M453.9 282.9M408.4 303.9M412.5 303.9M416.7 303.9M420.8 303.9M424.9 303.9M429.1 303.9M433.2 303.9M437.4 303.9M441.5 303.9M445.6 303.9M449.8 303.9M453.9 303.9M396 282.9M396 303.9" fill="none" stroke="none" marker-start="url(#mS)" marker-mid="url(#mS)" marker-end="url(#mS)"/><path d="M415 293.4M418.7 293.4M422.3 293.4M426 293.4M429.7 293.4M433.3 293.4M437 293.4M444 293.4M448 293.4M407.5 293.4" fill="none" stroke="none" marker-start="url(#mW)" marker-mid="url(#mW)" marker-end="url(#mW)"/>
<path d="M494.8 204.5L489.4 199.8M494.8 204.5L497.7 199.8M494.8 204.5L489.4 209.2M494.8 204.5L497.7 209.2M513 204.5L507.7 199.8M513 204.5L515.2 199.8M513 204.5L516.7 199.8M513 204.5L507.7 209.2M513 204.5L515.2 209.2M513 204.5L516.7 209.2M531.5 204.5L526.9 199.8M531.5 204.5L535.1 199.8M531.5 204.5L526.9 209.2M531.5 204.5L535.1 209.2" stroke="#8a8a8a" stroke-width="1.5" fill="none"/><path d="M489.4 199.8L482.9 194M497.7 199.8L501.3 194M489.4 209.2L482.9 215M497.7 209.2L501.3 215M507.7 199.8L501.3 194M515.2 199.8L517.8 194M516.7 199.8L521.3 194M507.7 209.2L501.3 215M515.2 209.2L517.8 215M516.7 209.2L521.3 215M526.9 199.8L521.3 194M535.1 199.8L539.4 194M526.9 209.2L521.3 215M535.1 209.2L539.4 215" stroke="#d6e64c" stroke-width="1.5" fill="none"/><path d="M482.9 194M501.3 194M517.8 194M521.3 194M539.4 194M482.9 215M501.3 215M517.8 215M521.3 215M539.4 215" fill="none" stroke="none" marker-start="url(#mS)" marker-mid="url(#mS)" marker-end="url(#mS)"/><path d="M494.8 204.5M513 204.5M531.5 204.5" fill="none" stroke="none" marker-start="url(#mW)" marker-mid="url(#mW)" marker-end="url(#mW)"/>
<path d="M494.8 293.4L489.4 288.7M494.8 293.4L497.7 288.7M494.8 293.4L489.4 298.1M494.8 293.4L497.7 298.1M513 293.4L507.7 288.7M513 293.4L515.2 288.7M513 293.4L516.7 288.7M513 293.4L507.7 298.1M513 293.4L515.2 298.1M513 293.4L516.7 298.1M531.5 293.4L526.9 288.7M531.5 293.4L535.1 288.7M531.5 293.4L526.9 298.1M531.5 293.4L535.1 298.1" stroke="#8a8a8a" stroke-width="1.5" fill="none"/><path d="M489.4 288.7L482.9 282.9M497.7 288.7L501.3 282.9M489.4 298.1L482.9 303.9M497.7 298.1L501.3 303.9M507.7 288.7L501.3 282.9M515.2 288.7L517.8 282.9M516.7 288.7L521.3 282.9M507.7 298.1L501.3 303.9M515.2 298.1L517.8 303.9M516.7 298.1L521.3 303.9M526.9 288.7L521.3 282.9M535.1 288.7L539.4 282.9M526.9 298.1L521.3 303.9M535.1 298.1L539.4 303.9" stroke="#d6e64c" stroke-width="1.5" fill="none"/><path d="M482.9 282.9M501.3 282.9M517.8 282.9M521.3 282.9M539.4 282.9M482.9 303.9M501.3 303.9M517.8 303.9M521.3 303.9M539.4 303.9" fill="none" stroke="none" marker-start="url(#mS)" marker-mid="url(#mS)" marker-end="url(#mS)"/><path d="M494.8 293.4M513 293.4M531.5 293.4" fill="none" stroke="none" marker-start="url(#mW)" marker-mid="url(#mW)" marker-end="url(#mW)"/>
<path d="M499 249L495.9 244.3M499 249L497.9 244.3M499 249L499.8 244.3M499 249L501.8 244.3M499 249L503.7 244.3M499 249L495.9 253.7M499 249L497.9 253.7M499 249L499.8 253.7M499 249L501.8 253.7M499 249L503.7 253.7M504.9 249L501.1 244.3M504.9 249L503.1 244.3M504.9 249L507 244.3M504.9 249L508.9 244.3M504.9 249L501.1 253.7M504.9 249L503.1 253.7M504.9 249L507 253.7M504.9 249L508.9 253.7M510.8 249L506.3 244.3M510.8 249L508.3 244.3M510.8 249L510.2 244.3M510.8 249L512.2 244.3M510.8 249L514.2 244.3M510.8 249L506.3 253.7M510.8 249L508.3 253.7M510.8 249L510.2 253.7M510.8 249L512.2 253.7M510.8 249L514.2 253.7M516.8 249L513.5 244.3M516.8 249L515.5 244.3M516.8 249L517.4 244.3M516.8 249L519.4 244.3M516.8 249L521.3 244.3M516.8 249L513.5 253.7M516.8 249L515.5 253.7M516.8 249L517.4 253.7M516.8 249L519.4 253.7M516.8 249L521.3 253.7M522.7 249L518.7 244.3M522.7 249L520.7 244.3M522.7 249L524.6 244.3M522.7 249L526.5 244.3M522.7 249L518.7 253.7M522.7 249L520.7 253.7M522.7 249L524.6 253.7M522.7 249L526.5 253.7M528.6 249L523.9 244.3M528.6 249L525.9 244.3M528.6 249L527.8 244.3M528.6 249L529.8 244.3M528.6 249L531.7 244.3M528.6 249L523.9 253.7M528.6 249L525.9 253.7M528.6 249L527.8 253.7M528.6 249L529.8 253.7M528.6 249L531.7 253.7M534.5 249L531.1 244.3M534.5 249L533 244.3M534.5 249L535 244.3M534.5 249L537 244.3M534.5 249L538.9 244.3M534.5 249L531.1 253.7M534.5 249L533 253.7M534.5 249L535 253.7M534.5 249L537 253.7M534.5 249L538.9 253.7" stroke="#8a8a8a" stroke-width="0.9" fill="none"/><path d="M495.9 244.3L492.1 238.5M497.9 244.3L496.5 238.5M499.8 244.3L500.8 238.5M501.8 244.3L505.2 238.5M503.7 244.3L509.5 238.5M495.9 253.7L492.1 259.5M497.9 253.7L496.5 259.5M499.8 253.7L500.8 259.5M501.8 253.7L505.2 259.5M503.7 253.7L509.5 259.5M501.1 244.3L496.5 238.5M503.1 244.3L500.8 238.5M507 244.3L509.5 238.5M508.9 244.3L513.9 238.5M501.1 253.7L496.5 259.5M503.1 253.7L500.8 259.5M507 253.7L509.5 259.5M508.9 253.7L513.9 259.5M506.3 244.3L500.8 238.5M508.3 244.3L505.2 238.5M510.2 244.3L509.5 238.5M512.2 244.3L513.9 238.5M514.2 244.3L518.2 238.5M506.3 253.7L500.8 259.5M508.3 253.7L505.2 259.5M510.2 253.7L509.5 259.5M512.2 253.7L513.9 259.5M514.2 253.7L518.2 259.5M513.5 244.3L509.5 238.5M515.5 244.3L513.9 238.5M517.4 244.3L518.2 238.5M519.4 244.3L522.6 238.5M521.3 244.3L526.9 238.5M513.5 253.7L509.5 259.5M515.5 253.7L513.9 259.5M517.4 253.7L518.2 259.5M519.4 253.7L522.6 259.5M521.3 253.7L526.9 259.5M518.7 244.3L513.9 238.5M520.7 244.3L518.2 238.5M524.6 244.3L526.9 238.5M526.5 244.3L531.3 238.5M518.7 253.7L513.9 259.5M520.7 253.7L518.2 259.5M524.6 253.7L526.9 259.5M526.5 253.7L531.3 259.5M523.9 244.3L518.2 238.5M525.9 244.3L522.6 238.5M527.8 244.3L526.9 238.5M529.8 244.3L531.3 238.5M531.7 244.3L535.6 238.5M523.9 253.7L518.2 259.5M525.9 253.7L522.6 259.5M527.8 253.7L526.9 259.5M529.8 253.7L531.3 259.5M531.7 253.7L535.6 259.5M531.1 244.3L526.9 238.5M533 244.3L531.3 238.5M535 244.3L535.6 238.5M537 244.3L540 238.5M538.9 244.3L544.3 238.5M531.1 253.7L526.9 259.5M533 253.7L531.3 259.5M535 253.7L535.6 259.5M537 253.7L540 259.5M538.9 253.7L544.3 259.5" stroke="#d6e64c" stroke-width="0.9" fill="none"/><path d="M487.8 238.5M492.1 238.5M496.5 238.5M500.8 238.5M505.2 238.5M509.5 238.5M513.9 238.5M518.2 238.5M522.6 238.5M526.9 238.5M531.3 238.5M535.6 238.5M540 238.5M544.3 238.5M487.8 259.5M492.1 259.5M496.5 259.5M500.8 259.5M505.2 259.5M509.5 259.5M513.9 259.5M518.2 259.5M522.6 259.5M526.9 259.5M531.3 259.5M535.6 259.5M540 259.5M544.3 259.5" fill="none" stroke="none" marker-start="url(#mS)" marker-mid="url(#mS)" marker-end="url(#mS)"/><path d="M499 249M504.9 249M510.8 249M516.8 249M522.7 249M528.6 249M534.5 249" fill="none" stroke="none" marker-start="url(#mW)" marker-mid="url(#mW)" marker-end="url(#mW)"/>
<path d="M598 249L595.3 244.3M598 249L600.7 244.3M598 249L595.3 253.7M598 249L600.7 253.7M604.5 249L601.6 244.3M604.5 249L607 244.3M604.5 249L601.6 253.7M604.5 249L607 253.7M611.5 249L608.1 244.3M611.5 249L610.8 244.3M611.5 249L613.5 244.3M611.5 249L608.1 253.7M611.5 249L610.8 253.7M611.5 249L613.5 253.7M618.5 249L614.7 244.3M618.5 249L617.4 244.3M618.5 249L620.1 244.3M618.5 249L622.8 244.3M618.5 249L614.7 253.7M618.5 249L617.4 253.7M618.5 249L620.1 253.7M618.5 249L622.8 253.7M625.5 249L621.2 244.3M625.5 249L623.9 244.3M625.5 249L626.6 244.3M625.5 249L621.2 253.7M625.5 249L623.9 253.7M625.5 249L626.6 253.7M589 249L583.6 244.3M589 249L583.6 253.7" stroke="#8a8a8a" stroke-width="1.0" fill="none"/><path d="M595.3 244.3L592 238.5M600.7 244.3L604 238.5M595.3 253.7L592 259.5M600.7 253.7L604 259.5M601.6 244.3L598 238.5M607 244.3L610 238.5M601.6 253.7L598 259.5M607 253.7L610 259.5M608.1 244.3L604 238.5M610.8 244.3L610 238.5M613.5 244.3L616 238.5M608.1 253.7L604 259.5M610.8 253.7L610 259.5M613.5 253.7L616 259.5M614.7 244.3L610 238.5M617.4 244.3L616 238.5M620.1 244.3L622 238.5M622.8 244.3L628 238.5M614.7 253.7L610 259.5M617.4 253.7L616 259.5M620.1 253.7L622 259.5M622.8 253.7L628 259.5M621.2 244.3L616 238.5M623.9 244.3L622 238.5M626.6 244.3L628 238.5M621.2 253.7L616 259.5M623.9 253.7L622 259.5M626.6 253.7L628 259.5M583.6 244.3L577 238.5M583.6 253.7L577 259.5" stroke="#d6e64c" stroke-width="1.0" fill="none"/><path d="M586 238.5M592 238.5M598 238.5M604 238.5M610 238.5M616 238.5M622 238.5M628 238.5M586 259.5M592 259.5M598 259.5M604 259.5M610 259.5M616 259.5M622 259.5M628 259.5M577 238.5M577 259.5" fill="none" stroke="none" marker-start="url(#mS)" marker-mid="url(#mS)" marker-end="url(#mS)"/><path d="M598 249M604.5 249M611.5 249M618.5 249M625.5 249M589 249" fill="none" stroke="none" marker-start="url(#mW)" marker-mid="url(#mW)" marker-end="url(#mW)"/>
<path d="M625.5 249L629.2 244.3M625.5 249L629.2 253.7" stroke="#8a8a8a" stroke-width="1.25" fill="none"/><path d="M629.2 244.3L633.8 238.5M629.2 253.7L633.8 259.5" stroke="#d6e64c" stroke-width="1.25" fill="none"/><path d="M633.8 238.5M633.8 259.5" fill="none" stroke="none" marker-start="url(#mS)" marker-mid="url(#mS)" marker-end="url(#mS)"/><path d="M625.5 249" fill="none" stroke="none" marker-start="url(#mW)" marker-mid="url(#mW)" marker-end="url(#mW)"/>
<path d="M602 204.5L599.1 199.8M602 204.5L600.3 199.8M602 204.5L604.7 199.8M602 204.5L605.8 199.8M602 204.5L599.1 209.2M602 204.5L600.3 209.2M602 204.5L604.7 209.2M602 204.5L605.8 209.2M604.1 204.5L600.3 199.8M604.1 204.5L601.5 199.8M604.1 204.5L605.9 199.8M604.1 204.5L607 199.8M604.1 204.5L608.1 199.8M604.1 204.5L600.3 209.2M604.1 204.5L601.5 209.2M604.1 204.5L605.9 209.2M604.1 204.5L607 209.2M604.1 204.5L608.1 209.2M606.2 204.5L602.6 199.8M606.2 204.5L607 199.8M606.2 204.5L608.2 199.8M606.2 204.5L609.3 199.8M606.2 204.5L602.6 209.2M606.2 204.5L607 209.2M606.2 204.5L608.2 209.2M606.2 204.5L609.3 209.2M608.4 204.5L609.3 199.8M608.4 204.5L610.5 199.8M608.4 204.5L611.6 199.8M608.4 204.5L609.3 209.2M608.4 204.5L610.5 209.2M608.4 204.5L611.6 209.2M610.5 204.5L609.4 199.8M610.5 204.5L611.6 199.8M610.5 204.5L612.8 199.8M610.5 204.5L613.9 199.8M610.5 204.5L609.4 209.2M610.5 204.5L611.6 209.2M610.5 204.5L612.8 209.2M610.5 204.5L613.9 209.2M624.6 204.5L621.6 199.8M624.6 204.5L626 199.8M624.6 204.5L627.2 199.8M624.6 204.5L628.5 199.8M624.6 204.5L621.6 209.2M624.6 204.5L626 209.2M624.6 204.5L627.2 209.2M624.6 204.5L628.5 209.2M587.8 204.5L582.3 199.8M587.8 204.5L582.3 209.2" stroke="#8a8a8a" stroke-width="1.3" fill="none"/><path d="M599.1 199.8L595.6 194M600.3 199.8L598.2 194M604.7 199.8L608 194M605.8 199.8L610.5 194M599.1 209.2L595.6 215M600.3 209.2L598.2 215M604.7 209.2L608 215M605.8 209.2L610.5 215M600.3 199.8L595.6 194M601.5 199.8L598.2 194M605.9 199.8L608 194M607 199.8L610.5 194M608.1 199.8L613 194M600.3 209.2L595.6 215M601.5 209.2L598.2 215M605.9 209.2L608 215M607 209.2L610.5 215M608.1 209.2L613 215M602.6 199.8L598.2 194M607 199.8L608 194M608.2 199.8L610.5 194M609.3 199.8L613 194M602.6 209.2L598.2 215M607 209.2L608 215M608.2 209.2L610.5 215M609.3 209.2L613 215M609.3 199.8L610.5 194M610.5 199.8L613 194M611.6 199.8L615.5 194M609.3 209.2L610.5 215M610.5 209.2L613 215M611.6 209.2L615.5 215M609.4 199.8L608 194M611.6 199.8L613 194M612.8 199.8L615.5 194M613.9 199.8L618 194M609.4 209.2L608 215M611.6 209.2L613 215M612.8 209.2L615.5 215M613.9 209.2L618 215M621.6 199.8L618 194M626 199.8L627.7 194M627.2 199.8L630.5 194M628.5 199.8L633.2 194M621.6 209.2L618 215M626 209.2L627.7 215M627.2 209.2L630.5 215M628.5 209.2L633.2 215M582.3 199.8L575.5 194M582.3 209.2L575.5 215" stroke="#d6e64c" stroke-width="1.3" fill="none"/><path d="M590.3 194M592.9 194M595.6 194M598.2 194M608 194M610.5 194M613 194M615.5 194M618 194M627.7 194M630.5 194M633.2 194M590.3 215M592.9 215M595.6 215M598.2 215M608 215M610.5 215M613 215M615.5 215M618 215M627.7 215M630.5 215M633.2 215M575.5 194M575.5 215" fill="none" stroke="none" marker-start="url(#mS)" marker-mid="url(#mS)" marker-end="url(#mS)"/><path d="M602 204.5M604.1 204.5M606.2 204.5M608.4 204.5M610.5 204.5M624.6 204.5M587.8 204.5" fill="none" stroke="none" marker-start="url(#mW)" marker-mid="url(#mW)" marker-end="url(#mW)"/>
<path d="M602 293.4L599.1 288.7M602 293.4L600.3 288.7M602 293.4L604.7 288.7M602 293.4L605.8 288.7M602 293.4L599.1 298.1M602 293.4L600.3 298.1M602 293.4L604.7 298.1M602 293.4L605.8 298.1M604.1 293.4L600.3 288.7M604.1 293.4L601.5 288.7M604.1 293.4L605.9 288.7M604.1 293.4L607 288.7M604.1 293.4L608.1 288.7M604.1 293.4L600.3 298.1M604.1 293.4L601.5 298.1M604.1 293.4L605.9 298.1M604.1 293.4L607 298.1M604.1 293.4L608.1 298.1M606.2 293.4L602.6 288.7M606.2 293.4L607 288.7M606.2 293.4L608.2 288.7M606.2 293.4L609.3 288.7M606.2 293.4L602.6 298.1M606.2 293.4L607 298.1M606.2 293.4L608.2 298.1M606.2 293.4L609.3 298.1M608.4 293.4L609.3 288.7M608.4 293.4L610.5 288.7M608.4 293.4L611.6 288.7M608.4 293.4L609.3 298.1M608.4 293.4L610.5 298.1M608.4 293.4L611.6 298.1M610.5 293.4L609.4 288.7M610.5 293.4L611.6 288.7M610.5 293.4L612.8 288.7M610.5 293.4L613.9 288.7M610.5 293.4L609.4 298.1M610.5 293.4L611.6 298.1M610.5 293.4L612.8 298.1M610.5 293.4L613.9 298.1M624.6 293.4L621.6 288.7M624.6 293.4L626 288.7M624.6 293.4L627.2 288.7M624.6 293.4L628.5 288.7M624.6 293.4L621.6 298.1M624.6 293.4L626 298.1M624.6 293.4L627.2 298.1M624.6 293.4L628.5 298.1M587.8 293.4L582.3 288.7M587.8 293.4L582.3 298.1" stroke="#8a8a8a" stroke-width="1.3" fill="none"/><path d="M599.1 288.7L595.6 282.9M600.3 288.7L598.2 282.9M604.7 288.7L608 282.9M605.8 288.7L610.5 282.9M599.1 298.1L595.6 303.9M600.3 298.1L598.2 303.9M604.7 298.1L608 303.9M605.8 298.1L610.5 303.9M600.3 288.7L595.6 282.9M601.5 288.7L598.2 282.9M605.9 288.7L608 282.9M607 288.7L610.5 282.9M608.1 288.7L613 282.9M600.3 298.1L595.6 303.9M601.5 298.1L598.2 303.9M605.9 298.1L608 303.9M607 298.1L610.5 303.9M608.1 298.1L613 303.9M602.6 288.7L598.2 282.9M607 288.7L608 282.9M608.2 288.7L610.5 282.9M609.3 288.7L613 282.9M602.6 298.1L598.2 303.9M607 298.1L608 303.9M608.2 298.1L610.5 303.9M609.3 298.1L613 303.9M609.3 288.7L610.5 282.9M610.5 288.7L613 282.9M611.6 288.7L615.5 282.9M609.3 298.1L610.5 303.9M610.5 298.1L613 303.9M611.6 298.1L615.5 303.9M609.4 288.7L608 282.9M611.6 288.7L613 282.9M612.8 288.7L615.5 282.9M613.9 288.7L618 282.9M609.4 298.1L608 303.9M611.6 298.1L613 303.9M612.8 298.1L615.5 303.9M613.9 298.1L618 303.9M621.6 288.7L618 282.9M626 288.7L627.7 282.9M627.2 288.7L630.5 282.9M628.5 288.7L633.2 282.9M621.6 298.1L618 303.9M626 298.1L627.7 303.9M627.2 298.1L630.5 303.9M628.5 298.1L633.2 303.9M582.3 288.7L575.5 282.9M582.3 298.1L575.5 303.9" stroke="#d6e64c" stroke-width="1.3" fill="none"/><path d="M590.3 282.9M592.9 282.9M595.6 282.9M598.2 282.9M608 282.9M610.5 282.9M613 282.9M615.5 282.9M618 282.9M627.7 282.9M630.5 282.9M633.2 282.9M590.3 303.9M592.9 303.9M595.6 303.9M598.2 303.9M608 303.9M610.5 303.9M613 303.9M615.5 303.9M618 303.9M627.7 303.9M630.5 303.9M633.2 303.9M575.5 282.9M575.5 303.9" fill="none" stroke="none" marker-start="url(#mS)" marker-mid="url(#mS)" marker-end="url(#mS)"/><path d="M602 293.4M604.1 293.4M606.2 293.4M608.4 293.4M610.5 293.4M624.6 293.4M587.8 293.4" fill="none" stroke="none" marker-start="url(#mW)" marker-mid="url(#mW)" marker-end="url(#mW)"/>
<ellipse cx="407.8" cy="200.65" rx="3.5" ry="3.5" fill="#e01e1e" stroke="#b01010" stroke-width="0.5"/><ellipse cx="407.8" cy="208.35" rx="3.5" ry="3.5" fill="#e01e1e" stroke="#b01010" stroke-width="0.5"/><ellipse cx="407.8" cy="204.5" rx="5.0" ry="1.1" fill="#b01010"/>
<ellipse cx="420.5" cy="200.65" rx="3.0" ry="3.5" fill="#e01e1e" stroke="#b01010" stroke-width="0.5"/><ellipse cx="420.5" cy="208.35" rx="3.0" ry="3.5" fill="#e01e1e" stroke="#b01010" stroke-width="0.5"/><ellipse cx="420.5" cy="204.5" rx="4.5" ry="1.1" fill="#b01010"/>
<ellipse cx="428" cy="200.65" rx="4.0" ry="3.5" fill="#e01e1e" stroke="#b01010" stroke-width="0.5"/><ellipse cx="428" cy="208.35" rx="4.0" ry="3.5" fill="#e01e1e" stroke="#b01010" stroke-width="0.5"/><ellipse cx="428" cy="204.5" rx="5.5" ry="1.1" fill="#b01010"/>
<ellipse cx="433.5" cy="200.65" rx="3.0" ry="3.5" fill="#e01e1e" stroke="#b01010" stroke-width="0.5"/><ellipse cx="433.5" cy="208.35" rx="3.0" ry="3.5" fill="#e01e1e" stroke="#b01010" stroke-width="0.5"/><ellipse cx="433.5" cy="204.5" rx="4.5" ry="1.1" fill="#b01010"/>
<ellipse cx="444.5" cy="200.65" rx="4.5" ry="3.5" fill="#e01e1e" stroke="#b01010" stroke-width="0.5"/><ellipse cx="444.5" cy="208.35" rx="4.5" ry="3.5" fill="#e01e1e" stroke="#b01010" stroke-width="0.5"/><ellipse cx="444.5" cy="204.5" rx="6.0" ry="1.1" fill="#b01010"/>
<circle cx="412.7" cy="190.5" r="1.2" fill="#e01e1e"/>
<circle cx="416.7" cy="190.5" r="1.2" fill="#e01e1e"/>
<circle cx="425.6" cy="190.5" r="1.2" fill="#e01e1e"/>
<circle cx="429.6" cy="190.5" r="1.2" fill="#e01e1e"/>
<circle cx="433.6" cy="190.5" r="1.2" fill="#e01e1e"/>
<circle cx="437.6" cy="190.5" r="1.2" fill="#e01e1e"/>
<circle cx="449.6" cy="190.5" r="1.2" fill="#e01e1e"/>
<ellipse cx="412.5" cy="220.4" rx="2.1" ry="1.8" fill="#e01e1e" stroke="#b01010" stroke-width="0.4"/>
<ellipse cx="416.5" cy="220.4" rx="2.1" ry="1.8" fill="#e01e1e" stroke="#b01010" stroke-width="0.4"/>
<ellipse cx="425.5" cy="220.4" rx="2.1" ry="1.8" fill="#e01e1e" stroke="#b01010" stroke-width="0.4"/>
<ellipse cx="429.5" cy="220.4" rx="2.1" ry="1.8" fill="#e01e1e" stroke="#b01010" stroke-width="0.4"/>
<ellipse cx="433.5" cy="220.4" rx="2.1" ry="1.8" fill="#e01e1e" stroke="#b01010" stroke-width="0.4"/>
<ellipse cx="437.5" cy="220.4" rx="2.1" ry="1.8" fill="#e01e1e" stroke="#b01010" stroke-width="0.4"/>
<ellipse cx="449.5" cy="220.4" rx="2.1" ry="1.8" fill="#e01e1e" stroke="#b01010" stroke-width="0.4"/>
<path d="M492 204 Q494 200.5 498.75 200.8 Q503.5 201.5 505.5 204 Q503.5 206.5 498.75 207.2 Q494 207.5 492 204Z" fill="#e01e1e" stroke="#b01010" stroke-width="0.5"/>
<path d="M507 204 Q509 200.5 515.5 200.8 Q522 201.5 524 204 Q522 206.5 515.5 207.2 Q509 207.5 507 204Z" fill="#e01e1e" stroke="#b01010" stroke-width="0.5"/>
<path d="M525 204 Q527 200.5 535.0 200.8 Q543 201.5 545 204 Q543 206.5 535.0 207.2 Q527 207.5 525 204Z" fill="#e01e1e" stroke="#b01010" stroke-width="0.5"/>
<circle cx="494.8" cy="204" r="1.6" fill="#ccc" stroke="#666" stroke-width="0.4"/>
<circle cx="513" cy="204" r="1.6" fill="#ccc" stroke="#666" stroke-width="0.4"/>
<circle cx="531.5" cy="204" r="1.6" fill="#ccc" stroke="#666" stroke-width="0.4"/>
<circle cx="408" cy="245" r="1.5" fill="#e01e1e"/><circle cx="408" cy="253.5" r="1.5" fill="#e01e1e"/>
<circle cx="420" cy="245" r="1.5" fill="#e01e1e"/><circle cx="420" cy="253.5" r="1.5" fill="#e01e1e"/>
<circle cx="424" cy="245" r="1.5" fill="#e01e1e"/><circle cx="424" cy="253.5" r="1.5" fill="#e01e1e"/>
<circle cx="428" cy="245" r="1.5" fill="#e01e1e"/><circle cx="428" cy="253.5" r="1.5" fill="#e01e1e"/>
<circle cx="432" cy="245" r="1.5" fill="#e01e1e"/><circle cx="432" cy="253.5" r="1.5" fill="#e01e1e"/>
<circle cx="441" cy="245" r="1.5" fill="#e01e1e"/><circle cx="441" cy="253.5" r="1.5" fill="#e01e1e"/>
<circle cx="445" cy="245" r="1.5" fill="#e01e1e"/><circle cx="445" cy="253.5" r="1.5" fill="#e01e1e"/>
<circle cx="412.7" cy="234.5" r="0.5" fill="#e01e1e"/>
<circle cx="416.7" cy="234.5" r="0.5" fill="#e01e1e"/>
<circle cx="425.6" cy="234.5" r="0.5" fill="#e01e1e"/>
<circle cx="429.6" cy="234.5" r="0.5" fill="#e01e1e"/>
<circle cx="433.6" cy="234.5" r="0.5" fill="#e01e1e"/>
<circle cx="437.6" cy="234.5" r="0.5" fill="#e01e1e"/>
<circle cx="449.6" cy="234.5" r="0.5" fill="#e01e1e"/>
<ellipse cx="587.5" cy="290.41" rx="3.0" ry="2.9" fill="#e01e1e" stroke="#b01010" stroke-width="0.5"/><ellipse cx="587.5" cy="296.79" rx="3.0" ry="2.9" fill="#e01e1e" stroke="#b01010" stroke-width="0.5"/><ellipse cx="587.5" cy="293.6" rx="4.5" ry="1.1" fill="#b01010"/>
<ellipse cx="601" cy="290.41" rx="2.5" ry="2.9" fill="#e01e1e" stroke="#b01010" stroke-width="0.5"/><ellipse cx="601" cy="296.79" rx="2.5" ry="2.9" fill="#e01e1e" stroke="#b01010" stroke-width="0.5"/><ellipse cx="601" cy="293.6" rx="4.0" ry="1.1" fill="#b01010"/>
<ellipse cx="608" cy="290.41" rx="3.0" ry="2.9" fill="#e01e1e" stroke="#b01010" stroke-width="0.5"/><ellipse cx="608" cy="296.79" rx="3.0" ry="2.9" fill="#e01e1e" stroke="#b01010" stroke-width="0.5"/><ellipse cx="608" cy="293.6" rx="4.5" ry="1.1" fill="#b01010"/>
<ellipse cx="619" cy="290.41" rx="2.5" ry="2.9" fill="#e01e1e" stroke="#b01010" stroke-width="0.5"/><ellipse cx="619" cy="296.79" rx="2.5" ry="2.9" fill="#e01e1e" stroke="#b01010" stroke-width="0.5"/><ellipse cx="619" cy="293.6" rx="4.0" ry="1.1" fill="#b01010"/>
<ellipse cx="626" cy="290.41" rx="2.5" ry="2.9" fill="#e01e1e" stroke="#b01010" stroke-width="0.5"/><ellipse cx="626" cy="296.79" rx="2.5" ry="2.9" fill="#e01e1e" stroke="#b01010" stroke-width="0.5"/><ellipse cx="626" cy="293.6" rx="4.0" ry="1.1" fill="#b01010"/>
<text x="390.2" y="208.6" font-size="10.5" text-anchor="middle" >74%</text>
<text x="479.8" y="208" font-size="10.5" text-anchor="middle" >99%</text>
<text x="388.5" y="251.6" font-size="10.5" text-anchor="middle" >25%</text>
<text x="570" y="299" font-size="10.5" text-anchor="middle" >99%</text>
<text x="650.7" y="207.4" font-size="10.2" text-anchor="middle" >Layer 3</text>
<text x="650.7" y="251.6" font-size="10.2" text-anchor="middle" >Layer 2</text>
<text x="650.7" y="296.6" font-size="10.2" text-anchor="middle" >Layer 1</text>
<text x="423" y="318.3" font-size="10.5" text-anchor="middle" >VB@Γ<tspan font-size="0.65em" baseline-shift="-2.2">S</tspan></text>
<text x="517" y="318.3" font-size="10.5" text-anchor="middle" >VB@K<tspan font-size="0.65em" baseline-shift="-2.2">S</tspan></text>
<text x="608.4" y="318.3" font-size="10.5" text-anchor="middle" >CB@K<tspan font-size="0.65em" baseline-shift="-2.2">S</tspan></text>
</svg>
</body></html>
